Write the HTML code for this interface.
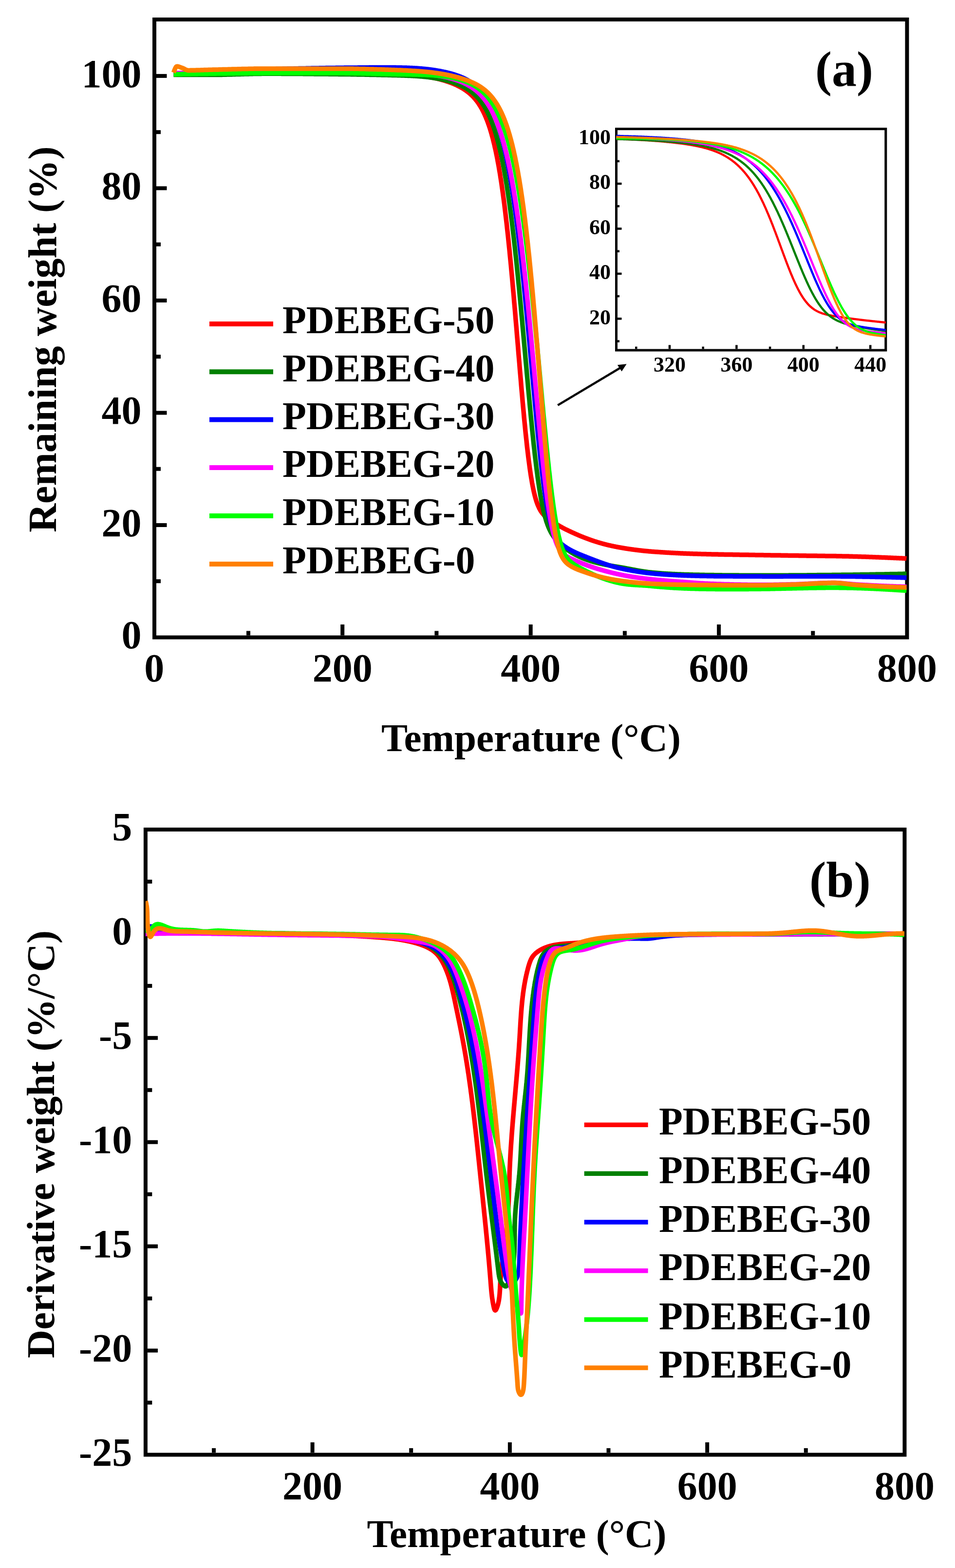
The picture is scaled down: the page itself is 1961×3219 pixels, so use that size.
<!DOCTYPE html><html><head><meta charset="utf-8"><title>TGA and DTG curves of PDEBEG samples</title>
<style>html,body{margin:0;padding:0;background:#fff}svg{display:block}text{font-family:"Liberation Serif","Times New Roman",serif;font-weight:bold;fill:#000}</style></head><body>
<svg width="1961" height="3219" viewBox="0 0 1961 3219">
<rect width="1961" height="3219" fill="#fff"/>
<defs><clipPath id="ca"><rect x="317" y="40" width="1545.5" height="1268.5"/></clipPath><clipPath id="ci"><rect x="1265.5" y="264.7" width="553.3" height="454.3"/></clipPath><clipPath id="cb"><rect x="298.9" y="1703" width="1558.6" height="1283.5"/></clipPath></defs>
<g id="plot-a">
<rect x="317" y="40" width="1545.5" height="1268.5" fill="none" stroke="#000" stroke-width="8"/>
<g stroke="#000" stroke-width="8">
<line x1="321" y1="1078" x2="342.5" y2="1078"/>
<line x1="321" y1="847.5" x2="342.5" y2="847.5"/>
<line x1="321" y1="616.9" x2="342.5" y2="616.9"/>
<line x1="321" y1="386.4" x2="342.5" y2="386.4"/>
<line x1="321" y1="155.9" x2="342.5" y2="155.9"/>
<line x1="321" y1="1193.2" x2="330" y2="1193.2"/>
<line x1="321" y1="962.7" x2="330" y2="962.7"/>
<line x1="321" y1="732.2" x2="330" y2="732.2"/>
<line x1="321" y1="501.7" x2="330" y2="501.7"/>
<line x1="321" y1="271.2" x2="330" y2="271.2"/>
<line x1="703.2" y1="1304.5" x2="703.2" y2="1282"/>
<line x1="1089.7" y1="1304.5" x2="1089.7" y2="1282"/>
<line x1="1476.1" y1="1304.5" x2="1476.1" y2="1282"/>
<line x1="510" y1="1304.5" x2="510" y2="1295.3"/>
<line x1="896.4" y1="1304.5" x2="896.4" y2="1295.3"/>
<line x1="1282.9" y1="1304.5" x2="1282.9" y2="1295.3"/>
<line x1="1669.3" y1="1304.5" x2="1669.3" y2="1295.3"/>
</g>
<g clip-path="url(#ca)" fill="none" stroke-width="9.5" stroke-linejoin="round">
<path stroke="#FF0000" d="M356.4 151.3l1 0l0.9 0l1 -0.1l1 0l0.9 0l1 0l1 0l0.9 0l1 -0.1l1 0l0.9 0l1 0l1 0l0.9 0l1 -0.1l1 0l0.9 0l1 0l1 0l0.9 0l1 -0.1l1 0l0.9 0l1 0l1 0l0.9 0l1 0l1 -0.1l0.9 0l1 0l1 0l0.9 0l1 0l1 -0.1l0.9 0l1 0l1 0l0.9 0l1 0l1 0l0.9 -0.1l1 0l0.9 0l1 0l1 0l0.9 0l1 0l1 -0.1l0.9 0l1 0l1 0l0.9 0l1 0l1 0l0.9 -0.1l1 0l1 0l0.9 0l1 0l1 0l0.9 0l1 -0.1l1 0l0.9 0l1 0l1 0l0.9 0l1 0l1 0l0.9 -0.1l1 0l1 0l0.9 0l1 0l1 0l0.9 0l1 0l1 -0.1l0.9 0l1 0l1 0l0.9 0l1 0l1 0l0.9 0l1 0l1 -0.1l0.9 0l1 0l1 0l0.9 0l1 0l1 0l0.9 0l1 -0.1l1 0l0.9 0l1 0l0.9 0l1 0l1 0l0.9 0l1 -0.1l1 0l0.9 0l1 0l1 0l0.9 0l1 0l1 -0.1l0.9 0l1 0l1 0l0.9 0l1 0l1 0l0.9 0l1 -0.1l1 0l0.9 0l1 0l1 0l0.9 0l1 0l1 0l0.9 -0.1l1 0l1 0l0.9 0l1 0l1 0l0.9 0l1 0l1 -0.1l0.9 0l1 0l1 0l0.9 0l1 0l1 0l0.9 0l1 0l1 -0.1l0.9 0l1 0l1 0l0.9 0l1 0l1 0l0.9 0l1 0l1 -0.1l0.9 0l1 0l0.9 0l1 0l1 0l0.9 0l1 0l1 0l0.9 0l1 0l1 -0.1l0.9 0l1 0l1 0l0.9 0l1 0l1 0l0.9 0l1 0l1 0l0.9 0l1 0l1 0l0.9 0l1 0l1 -0.1l0.9 0l1 0l1 0l0.9 0l1 0l1 0l0.9 0l1 0l1 0l0.9 0l1 0l1 0l0.9 0l1 0l1 0l0.9 0l1 0l1 0l0.9 0l1 0l1 0l0.9 0l1 0l1 0l0.9 0l1 0l1 0l0.9 0l1 0l0.9 0l1 0l1 0l0.9 0l1 0l1 0l0.9 0l1 0l1 0l0.9 0l1 0l1 0l0.9 0l1 0l1 0l0.9 0l1 0l1 0l0.9 0l1 0l1 0l0.9 0l1 0l1 0l0.9 0l1 0l1 0l0.9 0l1 0l1 0l0.9 0l1 0l1 0l0.9 0l1 0l1 0l0.9 0l1 0l1 0l0.9 0l1 0l1 0l0.9 0l1 0l1 0l0.9 0l1 0l1 0l0.9 0l1 0l1 0l0.9 0l1 0l1 0l0.9 0l1 0l0.9 0l1 0l1 0l0.9 0l1 0l1 0l0.9 0l1 0l1 0l0.9 0l1 0l1 0l0.9 0l1 0l1 0l0.9 0l1 0l1 0l0.9 0l1 0l1 0l0.9 0l1 0l1 0l0.9 0l1 0l1 0l0.9 0l1 0l1 0l0.9 0l1 0l1 0l0.9 0l1 0l1 0l0.9 0l1 0l1 0l0.9 0l1 0l1 0l0.9 0l1 0l1 0l0.9 0l1 0l1 0l0.9 0l1 0l1 0l0.9 0l1 0l1 0l0.9 0l1 0l0.9 0l1 0l1 0l0.9 0l1 0l1 0l0.9 0l1 0l1 0l0.9 0l1 0l1 0l0.9 0l1 0l1 0l0.9 0l1 0l1 0l0.9 0l1 0l1 0l0.9 0l1 0l1 0l0.9 0l1 0l1 0l0.9 0l1 0l1 0l0.9 0l1 0l1 0l0.9 0l1 0l1 0l0.9 0l1 0l1 0l0.9 0l1 0l1 0l0.9 0l1 0l1 0l0.9 0l1 0l1 0l0.9 0l1 0l1 0l0.9 0.1l1 0l0.9 0l1 0l1 0l0.9 0l1 0l1 0.1l0.9 0l1 0l1 0l0.9 0l1 0l1 0.1l0.9 0l1 0l1 0l0.9 0.1l1 0l1 0l0.9 0l1 0.1l1 0l0.9 0l1 0l1 0.1l0.9 0l1 0l1 0l0.9 0.1l1 0l1 0l0.9 0.1l1 0l1 0l0.9 0l1 0.1l1 0l0.9 0l1 0.1l1 0l0.9 0l1 0.1l1 0l0.9 0l1 0.1l1 0l0.9 0l1 0.1l1 0l0.9 0l1 0.1l1 0l0.9 0l1 0.1l1 0l0.9 0l1 0.1l0.9 0l1 0.1l1 0l0.9 0l1 0.1l1 0l0.9 0l1 0.1l1 0l0.9 0l1 0.1l1 0l0.9 0.1l1 0l1 0l0.9 0.1l1 0l1 0l0.9 0.1l1 0l1 0l0.9 0.1l1 0l1 0l0.9 0.1l1 0l1 0.1l0.9 0l1 0l1 0.1l0.9 0l1 0l1 0.1l0.9 0l1 0l1 0.1l0.9 0l1 0.1l1 0l0.9 0l1 0.1l1 0l0.9 0l1 0.1l1 0l0.9 0.1l1 0l1 0l0.9 0.1l1 0l1 0l0.9 0.1l1 0l1 0.1l0.9 0l1 0l0.9 0.1l1 0l1 0.1l0.9 0l1 0.1l1 0l0.9 0.1l1 0l1 0.1l0.9 0l1 0.1l1 0l0.9 0.1l1 0l1 0.1l0.9 0l1 0.1l1 0.1l0.9 0l1 0.1l1 0.1l0.9 0l1 0.1l1 0.1l0.9 0.1l1 0l1 0.1l0.9 0.1l1 0.1l1 0.1l0.9 0l1 0.1l1 0.1l0.9 0.1l1 0.1l1 0.1l0.9 0.1l1 0.1l1 0.1l0.9 0.1l1 0.2l1 0.1l0.9 0.1l1 0.1l1 0.1l0.9 0.2l1 0.1l1 0.1l0.9 0.1l1 0.2l1 0.1l0.9 0.2l1 0.1l1 0.2l0.9 0.1l1 0.2l0.9 0.1l1 0.2l1 0.2l0.9 0.1l1 0.2l1 0.2l0.9 0.1l1 0.2l1 0.2l0.9 0.2l1 0.2l1 0.2l0.9 0.2l1 0.2l1 0.2l0.9 0.2l1 0.2l1 0.2l0.9 0.3l1 0.2l1 0.2l0.9 0.2l1 0.3l1 0.2l0.9 0.3l1 0.2l1 0.3l0.9 0.2l1 0.3l1 0.3l0.9 0.2l1 0.3l1 0.3l0.9 0.3l1 0.2l1 0.3l0.9 0.3l1 0.3l1 0.3l0.9 0.4l1 0.3l1 0.3l0.9 0.3l1 0.3l1 0.4l0.9 0.3l1 0.4l1 0.3l0.9 0.4l1 0.4l1 0.3l0.9 0.4l1 0.4l0.9 0.4l1 0.4l1 0.4l0.9 0.4l1 0.4l1 0.5l0.9 0.4l1 0.4l1 0.5l0.9 0.5l1 0.4l1 0.5l0.9 0.5l1 0.5l1 0.5l0.9 0.5l1 0.5l1 0.6l0.9 0.5l1 0.6l1 0.6l0.9 0.5l1 0.6l1 0.6l0.9 0.7l1 0.6l1 0.7l0.9 0.6l1 0.7l1 0.7l0.9 0.7l1 0.8l1 0.7l0.9 0.8l1 0.8l1 0.8l0.9 0.8l1 0.9l1 0.9l0.9 0.9l1 0.9l1 0.9l0.9 1l1 1l1 1.1l0.9 1l1 1.1l1 1.2l0.9 1.1l1 1.2l1 1.2l0.9 1.3l1 1.3l1 1.4l0.9 1.3l1 1.5l0.9 1.5l1 1.5l1 1.5l0.9 1.7l1 1.6l1 1.7l0.9 1.8l1 1.9l1 1.8l0.9 2l1 2l1 2.1l0.9 2.1l1 2.3l1 2.3l0.9 2.3l1 2.5l1 2.5l0.9 2.6l1 2.7l1 2.8l0.9 2.8l1 3l1 3.1l0.9 3.1l1 3.3l1 3.4l0.9 3.5l1 3.6l1 3.7l0.9 3.8l1 4l1 4.1l0.9 4.2l1 4.3l1 4.5l0.9 4.6l1 4.8l1 4.9l0.9 5.1l1 5.2l1 5.4l0.9 5.5l1 5.7l1 5.9l0.9 6.1l1 6.2l1 6.4l0.9 6.6l1 6.7l1 7l0.9 7.1l1 7.3l1 7.5l0.9 7.7l1 7.9l0.9 8.1l1 8.3l1 8.4l0.9 8.7l1 8.9l1 9l0.9 9.2l1 9.5l1 9.6l0.9 9.7l1 10l1 10.1l0.9 10.3l1 10.5l1 10.6l0.9 10.7l1 10.9l1 11l0.9 11.2l1 11.2l1 11.3l0.9 11.4l1 11.5l1 11.6l0.9 11.6l1 11.6l1 11.6l0.9 11.6l1 11.7l1 11.5l0.9 11.6l1 11.4l1 11.4l0.9 11.3l1 11.2l1 11l0.9 10.9l1 10.7l1 10.5l0.9 10.4l1 10.1l1 9.9l0.9 9.6l1 9.4l1 9.1l0.9 8.9l1 8.6l1 8.2l0.9 8l1 7.7l1 7.4l0.9 7l1 6.8l0.9 6.4l1 6.1l1 5.8l0.9 5.6l1 5.2l1 4.9l0.9 4.6l1 4.4l1 4.1l0.9 3.8l1 3.6l1 3.4l0.9 3.1l1 2.9l1 2.8l0.9 2.5l1 2.3l1 2.2l0.9 2.1l1 1.9l1 1.7l0.9 1.7l1 1.5l1 1.4l0.9 1.4l1 1.2l1 1.2l0.9 1.1l1 1.1l1 1l0.9 1l1 0.9l1 0.8l0.9 0.9l1 0.8l1 0.8l0.9 0.7l1 0.8l1 0.7l0.9 0.7l1 0.7l1 0.7l0.9 0.6l1 0.7l1 0.6l0.9 0.7l1 0.6l1 0.6l0.9 0.7l1 0.6l1 0.6l0.9 0.6l1 0.6l1 0.5l0.9 0.6l1 0.6l0.9 0.6l1 0.5l1 0.6l0.9 0.6l1 0.5l1 0.6l0.9 0.5l1 0.5l1 0.6l0.9 0.5l1 0.5l1 0.6l0.9 0.5l1 0.5l1 0.5l0.9 0.5l1 0.5l1 0.5l0.9 0.5l1 0.5l1 0.5l0.9 0.4l1 0.5l1 0.5l0.9 0.4l1 0.5l1 0.5l0.9 0.4l1 0.5l1 0.4l0.9 0.5l1 0.4l1 0.5l0.9 0.4l1 0.5l1 0.4l0.9 0.4l1 0.5l1 0.4l0.9 0.4l1 0.5l1 0.4l0.9 0.4l1 0.4l1 0.4l0.9 0.4l1 0.5l1 0.4l0.9 0.4l1 0.4l1 0.4l0.9 0.4l1 0.4l1 0.4l0.9 0.3l1 0.4l0.9 0.4l1 0.4l1 0.4l0.9 0.3l1 0.4l1 0.4l0.9 0.3l1 0.4l1 0.4l0.9 0.3l1 0.4l1 0.3l0.9 0.4l1 0.3l1 0.4l0.9 0.3l1 0.4l1 0.3l0.9 0.3l1 0.4l1 0.3l0.9 0.3l1 0.3l1 0.4l0.9 0.3l1 0.3l1 0.3l0.9 0.3l1 0.3l1 0.3l0.9 0.3l1 0.3l1 0.3l0.9 0.3l1 0.3l1 0.3l0.9 0.2l1 0.3l1 0.3l0.9 0.3l1 0.2l1 0.3l0.9 0.3l1 0.2l1 0.3l0.9 0.2l1 0.3l1 0.2l0.9 0.3l1 0.2l1 0.3l0.9 0.2l1 0.2l1 0.3l0.9 0.2l1 0.2l0.9 0.2l1 0.2l1 0.3l0.9 0.2l1 0.2l1 0.2l0.9 0.2l1 0.2l1 0.2l0.9 0.2l1 0.2l1 0.2l0.9 0.2l1 0.2l1 0.2l0.9 0.2l1 0.1l1 0.2l0.9 0.2l1 0.2l1 0.2l0.9 0.1l1 0.2l1 0.2l0.9 0.2l1 0.1l1 0.2l0.9 0.2l1 0.1l1 0.2l0.9 0.1l1 0.2l1 0.2l0.9 0.1l1 0.2l1 0.1l0.9 0.2l1 0.1l1 0.2l0.9 0.1l1 0.2l1 0.1l0.9 0.1l1 0.2l1 0.1l0.9 0.2l1 0.1l1 0.1l0.9 0.2l1 0.1l1 0.1l0.9 0.1l1 0.2l0.9 0.1l1 0.1l1 0.1l0.9 0.2l1 0.1l1 0.1l0.9 0.1l1 0.2l1 0.1l0.9 0.1l1 0.1l1 0.1l0.9 0.1l1 0.1l1 0.1l0.9 0.2l1 0.1l1 0.1l0.9 0.1l1 0.1l1 0.1l0.9 0.1l1 0.1l1 0.1l0.9 0.1l1 0l1 0.1l0.9 0.1l1 0.1l1 0.1l0.9 0.1l1 0.1l1 0.1l0.9 0l1 0.1l1 0.1l0.9 0.1l1 0.1l1 0l0.9 0.1l1 0.1l1 0.1l0.9 0l1 0.1l1 0.1l0.9 0l1 0.1l1 0.1l0.9 0l1 0.1l1 0.1l0.9 0l1 0.1l1 0.1l0.9 0l1 0.1l0.9 0.1l1 0l1 0.1l0.9 0l1 0.1l1 0.1l0.9 0l1 0.1l1 0l0.9 0.1l1 0.1l1 0l0.9 0.1l1 0l1 0.1l0.9 0l1 0.1l1 0l0.9 0.1l1 0.1l1 0l0.9 0.1l1 0l1 0.1l0.9 0l1 0.1l1 0l0.9 0.1l1 0l1 0.1l0.9 0l1 0.1l1 0l0.9 0.1l1 0l1 0.1l0.9 0l1 0.1l1 0l0.9 0.1l1 0l1 0.1l0.9 0l1 0l1 0.1l0.9 0l1 0.1l1 0l0.9 0.1l1 0l1 0l0.9 0.1l1 0l1 0l0.9 0.1l1 0l0.9 0.1l1 0l1 0l0.9 0.1l1 0l1 0l0.9 0.1l1 0l1 0l0.9 0.1l1 0l1 0l0.9 0.1l1 0l1 0l0.9 0.1l1 0l1 0l0.9 0.1l1 0l1 0l0.9 0l1 0.1l1 0l0.9 0l1 0.1l1 0l0.9 0l1 0l1 0.1l0.9 0l1 0l1 0l0.9 0.1l1 0l1 0l0.9 0l1 0.1l1 0l0.9 0l1 0l1 0.1l0.9 0l1 0l1 0l0.9 0l1 0.1l1 0l0.9 0l1 0l1 0l0.9 0.1l1 0l1 0l0.9 0l1 0.1l0.9 0l1 0l1 0l0.9 0l1 0l1 0.1l0.9 0l1 0l1 0l0.9 0l1 0.1l1 0l0.9 0l1 0l1 0l0.9 0l1 0.1l1 0l0.9 0l1 0l1 0l0.9 0l1 0.1l1 0l0.9 0l1 0l1 0l0.9 0l1 0.1l1 0l0.9 0l1 0l1 0l0.9 0l1 0l1 0.1l0.9 0l1 0l1 0l0.9 0l1 0l1 0.1l0.9 0l1 0l1 0l0.9 0l1 0l1 0l0.9 0.1l1 0l1 0l0.9 0l1 0l0.9 0l1 0l1 0.1l0.9 0l1 0l1 0l0.9 0l1 0l1 0l0.9 0.1l1 0l1 0l0.9 0l1 0l1 0l0.9 0.1l1 0l1 0l0.9 0l1 0l1 0l0.9 0l1 0.1l1 0l0.9 0l1 0l1 0l0.9 0l1 0.1l1 0l0.9 0l1 0l1 0l0.9 0l1 0l1 0.1l0.9 0l1 0l1 0l0.9 0l1 0l1 0.1l0.9 0l1 0l1 0l0.9 0l1 0l1 0l0.9 0.1l1 0l1 0l0.9 0l1 0l1 0l0.9 0.1l1 0l0.9 0l1 0l1 0l0.9 0l1 0l1 0.1l0.9 0l1 0l1 0l0.9 0l1 0l1 0l0.9 0.1l1 0l1 0l0.9 0l1 0l1 0l0.9 0l1 0.1l1 0l0.9 0l1 0l1 0l0.9 0l1 0l1 0.1l0.9 0l1 0l1 0l0.9 0l1 0l1 0l0.9 0l1 0.1l1 0l0.9 0l1 0l1 0l0.9 0l1 0l1 0.1l0.9 0l1 0l1 0l0.9 0l1 0l1 0l0.9 0l1 0.1l1 0l0.9 0l1 0l1 0l0.9 0l1 0l0.9 0.1l1 0l1 0l0.9 0l1 0l1 0l0.9 0l1 0l1 0.1l0.9 0l1 0l1 0l0.9 0l1 0l1 0l0.9 0l1 0.1l1 0l0.9 0l1 0l1 0l0.9 0l1 0l1 0l0.9 0.1l1 0l1 0l0.9 0l1 0l1 0l0.9 0l1 0l1 0.1l0.9 0l1 0l1 0l0.9 0l1 0l1 0l0.9 0l1 0.1l1 0l0.9 0l1 0l1 0l0.9 0l1 0l1 0l0.9 0.1l1 0l1 0l0.9 0l1 0l0.9 0l1 0l1 0l0.9 0.1l1 0l1 0l0.9 0l1 0l1 0l0.9 0l1 0l1 0.1l0.9 0l1 0l1 0l0.9 0l1 0l1 0l0.9 0l1 0.1l1 0l0.9 0l1 0l1 0l0.9 0l1 0l1 0l0.9 0.1l1 0l1 0l0.9 0l1 0l1 0l0.9 0l1 0l1 0.1l0.9 0l1 0l1 0l0.9 0l1 0l1 0l0.9 0l1 0.1l1 0l0.9 0l1 0l1 0l0.9 0l1 0.1l1 0l0.9 0l1 0l1 0l0.9 0l1 0.1l0.9 0l1 0l1 0l0.9 0l1 0.1l1 0l0.9 0l1 0l1 0l0.9 0.1l1 0l1 0l0.9 0l1 0l1 0.1l0.9 0l1 0l1 0l0.9 0.1l1 0l1 0l0.9 0l1 0.1l1 0l0.9 0l1 0l1 0.1l0.9 0l1 0l1 0l0.9 0.1l1 0l1 0l0.9 0.1l1 0l1 0l0.9 0l1 0.1l1 0l0.9 0l1 0.1l1 0l0.9 0l1 0.1l1 0l0.9 0l1 0.1l1 0l0.9 0l1 0l1 0.1l0.9 0l1 0l1 0.1l0.9 0l1 0l0.9 0.1l1 0l1 0l0.9 0.1l1 0l1 0.1l0.9 0l1 0l1 0.1l0.9 0l1 0l1 0.1l0.9 0l1 0l1 0.1l0.9 0l1 0.1l1 0l0.9 0l1 0.1l1 0l0.9 0l1 0.1l1 0l0.9 0.1l1 0l1 0l0.9 0.1l1 0l1 0l0.9 0.1l1 0l1 0.1l0.9 0l1 0l1 0.1l0.9 0l1 0.1l1 0l0.9 0l1 0.1l1 0l0.9 0.1l1 0l1 0l0.9 0.1l1 0l1 0.1l0.9 0l1 0.1l1 0l0.9 0l1 0.1l1 0l0.9 0.1l1 0l0.9 0l1 0.1l1 0l0.9 0.1l1 0l1 0.1l0.9 0l1 0l1 0.1l0.9 0l1 0.1l1 0l0.9 0.1l1 0l1 0l0.9 0.1l1 0l1 0.1l0.9 0l1 0.1l1 0l0.9 0l1 0.1l1 0l0.9 0.1"/>
<path stroke="#008000" d="M356.4 153.6l1 0l0.9 0l1 0l1 0l0.9 0l1 0l1 0l0.9 0l1 0l1 0l0.9 0l1 0l1 0l0.9 0l1 0l1 0l0.9 0l1 0l1 0l0.9 0l1 0l1 0l0.9 0l1 0l1 0l0.9 0l1 0l1 0l0.9 0l1 0l1 0l0.9 0l1 0l1 0l0.9 0l1 0l1 0l0.9 0l1 0l1 0l0.9 0l1 0l0.9 0l1 0l1 0l0.9 0l1 0l1 0l0.9 0l1 0l1 0l0.9 0l1 0l1 0l0.9 0l1 0l1 0l0.9 0l1 0l1 0l0.9 0l1 0l1 0l0.9 0l1 0l1 0l0.9 0l1 0l1 0l0.9 0l1 0l1 0l0.9 0l1 0l1 0l0.9 0l1 0l1 0l0.9 0l1 0l1 0l0.9 0l1 0l1 0l0.9 0l1 0l1 0l0.9 0l1 -0.1l1 0l0.9 0l1 0l1 0l0.9 0l1 0l1 0l0.9 0l1 -0.1l0.9 0l1 0l1 0l0.9 0l1 0l1 -0.1l0.9 0l1 0l1 0l0.9 0l1 -0.1l1 0l0.9 0l1 0l1 -0.1l0.9 0l1 0l1 0l0.9 -0.1l1 0l1 0l0.9 0l1 -0.1l1 0l0.9 0l1 0l1 -0.1l0.9 0l1 0l1 0l0.9 -0.1l1 0l1 0l0.9 -0.1l1 0l1 0l0.9 0l1 -0.1l1 0l0.9 0l1 -0.1l1 0l0.9 0l1 0l1 -0.1l0.9 0l1 0l1 -0.1l0.9 0l1 0l1 0l0.9 -0.1l1 0l1 0l0.9 -0.1l1 0l0.9 0l1 0l1 -0.1l0.9 0l1 0l1 0l0.9 -0.1l1 0l1 0l0.9 0l1 -0.1l1 0l0.9 0l1 0l1 -0.1l0.9 0l1 0l1 0l0.9 0l1 -0.1l1 0l0.9 0l1 0l1 0l0.9 0l1 -0.1l1 0l0.9 0l1 0l1 0l0.9 0l1 0l1 0l0.9 -0.1l1 0l1 0l0.9 0l1 0l1 0l0.9 0l1 0l1 0l0.9 0l1 0l1 0l0.9 0l1 0l1 0l0.9 0l1 0l1 0l0.9 0l1 0l0.9 0l1 0l1 0l0.9 0l1 0l1 0l0.9 0l1 0l1 0l0.9 0l1 0l1 0l0.9 0l1 0l1 0l0.9 0l1 0l1 0l0.9 0l1 0l1 0l0.9 0.1l1 0l1 0l0.9 0l1 0l1 0l0.9 0l1 0l1 0l0.9 0l1 0l1 0l0.9 0l1 0l1 0l0.9 0l1 0l1 0l0.9 0l1 0.1l1 0l0.9 0l1 0l1 0l0.9 0l1 0l1 0l0.9 0l1 0l1 0l0.9 0l1 0l1 0l0.9 0l1 0.1l0.9 0l1 0l1 0l0.9 0l1 0l1 0l0.9 0l1 0l1 0l0.9 0l1 0l1 0l0.9 0.1l1 0l1 0l0.9 0l1 0l1 0l0.9 0l1 0l1 0l0.9 0l1 0l1 0l0.9 0.1l1 0l1 0l0.9 0l1 0l1 0l0.9 0l1 0l1 0l0.9 0l1 0l1 0.1l0.9 0l1 0l1 0l0.9 0l1 0l1 0l0.9 0l1 0l1 0l0.9 0.1l1 0l1 0l0.9 0l1 0l1 0l0.9 0l1 0l1 0l0.9 0l1 0.1l0.9 0l1 0l1 0l0.9 0l1 0l1 0l0.9 0l1 0l1 0l0.9 0l1 0.1l1 0l0.9 0l1 0l1 0l0.9 0l1 0l1 0l0.9 0l1 0l1 0.1l0.9 0l1 0l1 0l0.9 0l1 0l1 0l0.9 0l1 0l1 0l0.9 0.1l1 0l1 0l0.9 0l1 0l1 0l0.9 0l1 0l1 0l0.9 0l1 0.1l1 0l0.9 0l1 0l1 0l0.9 0l1 0l1 0l0.9 0l1 0.1l1 0l0.9 0l1 0l0.9 0l1 0l1 0l0.9 0l1 0.1l1 0l0.9 0l1 0l1 0l0.9 0l1 0l1 0.1l0.9 0l1 0l1 0l0.9 0l1 0l1 0.1l0.9 0l1 0l1 0l0.9 0l1 0l1 0.1l0.9 0l1 0l1 0l0.9 0l1 0.1l1 0l0.9 0l1 0l1 0l0.9 0l1 0.1l1 0l0.9 0l1 0l1 0l0.9 0.1l1 0l1 0l0.9 0l1 0l1 0.1l0.9 0l1 0l1 0l0.9 0l1 0.1l1 0l0.9 0l1 0l1 0l0.9 0.1l1 0l0.9 0l1 0l1 0l0.9 0.1l1 0l1 0l0.9 0l1 0l1 0.1l0.9 0l1 0l1 0l0.9 0l1 0.1l1 0l0.9 0l1 0l1 0l0.9 0.1l1 0l1 0l0.9 0l1 0.1l1 0l0.9 0l1 0l1 0l0.9 0.1l1 0l1 0l0.9 0l1 0.1l1 0l0.9 0l1 0l1 0.1l0.9 0l1 0l1 0l0.9 0.1l1 0l1 0l0.9 0l1 0.1l1 0l0.9 0l1 0l1 0.1l0.9 0l1 0l1 0l0.9 0.1l1 0l1 0l0.9 0.1l1 0l0.9 0l1 0.1l1 0l0.9 0l1 0.1l1 0l0.9 0l1 0.1l1 0l0.9 0l1 0.1l1 0l0.9 0l1 0.1l1 0l0.9 0l1 0.1l1 0l0.9 0.1l1 0l1 0.1l0.9 0l1 0.1l1 0l0.9 0.1l1 0l1 0.1l0.9 0l1 0.1l1 0l0.9 0.1l1 0.1l1 0l0.9 0.1l1 0l1 0.1l0.9 0.1l1 0.1l1 0l0.9 0.1l1 0.1l1 0.1l0.9 0l1 0.1l1 0.1l0.9 0.1l1 0.1l1 0.1l0.9 0.1l1 0.1l1 0.1l0.9 0.1l1 0.1l1 0.1l0.9 0.1l1 0.1l0.9 0.1l1 0.1l1 0.2l0.9 0.1l1 0.1l1 0.1l0.9 0.2l1 0.1l1 0.1l0.9 0.2l1 0.1l1 0.1l0.9 0.2l1 0.1l1 0.2l0.9 0.2l1 0.1l1 0.2l0.9 0.1l1 0.2l1 0.2l0.9 0.2l1 0.1l1 0.2l0.9 0.2l1 0.2l1 0.2l0.9 0.2l1 0.2l1 0.2l0.9 0.2l1 0.2l1 0.2l0.9 0.3l1 0.2l1 0.2l0.9 0.2l1 0.3l1 0.2l0.9 0.3l1 0.2l1 0.3l0.9 0.2l1 0.3l1 0.3l0.9 0.2l1 0.3l1 0.3l0.9 0.3l1 0.3l1 0.3l0.9 0.3l1 0.3l0.9 0.3l1 0.4l1 0.3l0.9 0.3l1 0.4l1 0.3l0.9 0.4l1 0.3l1 0.4l0.9 0.4l1 0.4l1 0.4l0.9 0.4l1 0.4l1 0.4l0.9 0.4l1 0.5l1 0.4l0.9 0.4l1 0.5l1 0.5l0.9 0.5l1 0.4l1 0.5l0.9 0.6l1 0.5l1 0.5l0.9 0.6l1 0.5l1 0.6l0.9 0.6l1 0.6l1 0.6l0.9 0.6l1 0.7l1 0.6l0.9 0.7l1 0.7l1 0.7l0.9 0.7l1 0.8l1 0.8l0.9 0.7l1 0.9l1 0.8l0.9 0.8l1 0.9l1 0.9l0.9 0.9l1 1l1 0.9l0.9 1l1 1.1l1 1l0.9 1.1l1 1.1l0.9 1.2l1 1.2l1 1.2l0.9 1.2l1 1.3l1 1.3l0.9 1.4l1 1.4l1 1.4l0.9 1.5l1 1.5l1 1.6l0.9 1.6l1 1.7l1 1.7l0.9 1.8l1 1.8l1 1.9l0.9 1.9l1 2l1 2.1l0.9 2.1l1 2.1l1 2.3l0.9 2.3l1 2.4l1 2.4l0.9 2.5l1 2.6l1 2.7l0.9 2.8l1 2.8l1 2.9l0.9 3l1 3.1l1 3.2l0.9 3.3l1 3.4l1 3.5l0.9 3.6l1 3.6l1 3.8l0.9 3.9l1 4l1 4.2l0.9 4.2l1 4.4l1 4.4l0.9 4.7l1 4.7l1 4.9l0.9 4.9l1 5.2l1 5.2l0.9 5.4l1 5.6l0.9 5.7l1 5.8l1 6l0.9 6.1l1 6.3l1 6.4l0.9 6.6l1 6.7l1 6.9l0.9 7.1l1 7.2l1 7.3l0.9 7.5l1 7.7l1 7.9l0.9 7.9l1 8.2l1 8.3l0.9 8.4l1 8.6l1 8.8l0.9 8.9l1 9l1 9.2l0.9 9.3l1 9.5l1 9.6l0.9 9.7l1 9.8l1 10l0.9 10l1 10.2l1 10.2l0.9 10.3l1 10.5l1 10.4l0.9 10.6l1 10.6l1 10.6l0.9 10.7l1 10.7l1 10.8l0.9 10.7l1 10.7l1 10.8l0.9 10.7l1 10.6l1 10.6l0.9 10.6l1 10.4l1 10.4l0.9 10.3l1 10.2l0.9 10.1l1 9.9l1 9.8l0.9 9.7l1 9.5l1 9.3l0.9 9.1l1 9l1 8.7l0.9 8.5l1 8.4l1 8.1l0.9 7.9l1 7.6l1 7.4l0.9 7.2l1 6.9l1 6.7l0.9 6.4l1 6.2l1 6l0.9 5.7l1 5.4l1 5.2l0.9 5l1 4.8l1 4.5l0.9 4.4l1 4.1l1 3.9l0.9 3.7l1 3.5l1 3.3l0.9 3.2l1 3l1 2.8l0.9 2.7l1 2.5l1 2.5l0.9 2.2l1 2.2l1 2l0.9 2l1 1.8l1 1.8l0.9 1.7l1 1.6l1 1.5l0.9 1.4l1 1.4l1 1.4l0.9 1.2l1 1.3l1 1.2l0.9 1.1l1 1.1l0.9 1.1l1 1l1 1l0.9 1l1 1l1 0.9l0.9 0.9l1 0.9l1 0.9l0.9 0.8l1 0.9l1 0.8l0.9 0.8l1 0.8l1 0.8l0.9 0.7l1 0.8l1 0.7l0.9 0.7l1 0.8l1 0.7l0.9 0.7l1 0.6l1 0.7l0.9 0.7l1 0.6l1 0.7l0.9 0.6l1 0.6l1 0.7l0.9 0.6l1 0.6l1 0.5l0.9 0.6l1 0.6l1 0.5l0.9 0.6l1 0.5l1 0.6l0.9 0.5l1 0.5l1 0.5l0.9 0.5l1 0.5l1 0.4l0.9 0.5l1 0.5l1 0.4l0.9 0.5l1 0.4l1 0.5l0.9 0.4l1 0.4l1 0.4l0.9 0.4l1 0.4l0.9 0.4l1 0.4l1 0.4l0.9 0.4l1 0.3l1 0.4l0.9 0.3l1 0.4l1 0.3l0.9 0.4l1 0.3l1 0.3l0.9 0.4l1 0.3l1 0.3l0.9 0.3l1 0.3l1 0.3l0.9 0.3l1 0.3l1 0.2l0.9 0.3l1 0.3l1 0.3l0.9 0.2l1 0.3l1 0.3l0.9 0.2l1 0.3l1 0.2l0.9 0.2l1 0.3l1 0.2l0.9 0.3l1 0.2l1 0.2l0.9 0.2l1 0.2l1 0.3l0.9 0.2l1 0.2l1 0.2l0.9 0.2l1 0.2l1 0.2l0.9 0.2l1 0.2l1 0.2l0.9 0.2l1 0.2l1 0.2l0.9 0.1l1 0.2l1 0.2l0.9 0.2l1 0.2l0.9 0.1l1 0.2l1 0.2l0.9 0.1l1 0.2l1 0.2l0.9 0.2l1 0.1l1 0.2l0.9 0.1l1 0.2l1 0.2l0.9 0.1l1 0.2l1 0.1l0.9 0.2l1 0.2l1 0.1l0.9 0.2l1 0.1l1 0.2l0.9 0.2l1 0.1l1 0.2l0.9 0.1l1 0.2l1 0.2l0.9 0.1l1 0.2l1 0.2l0.9 0.1l1 0.2l1 0.2l0.9 0.2l1 0.2l1 0.1l0.9 0.2l1 0.2l1 0.2l0.9 0.2l1 0.1l1 0.2l0.9 0.2l1 0.2l1 0.2l0.9 0.2l1 0.1l1 0.2l0.9 0.2l1 0.2l1 0.2l0.9 0.2l1 0.1l0.9 0.2l1 0.2l1 0.2l0.9 0.2l1 0.1l1 0.2l0.9 0.2l1 0.2l1 0.1l0.9 0.2l1 0.2l1 0.1l0.9 0.2l1 0.2l1 0.1l0.9 0.2l1 0.1l1 0.2l0.9 0.1l1 0.2l1 0.1l0.9 0.2l1 0.1l1 0.1l0.9 0.2l1 0.1l1 0.1l0.9 0.2l1 0.1l1 0.1l0.9 0.1l1 0.1l1 0.1l0.9 0.1l1 0.1l1 0.1l0.9 0.1l1 0.1l1 0.1l0.9 0.1l1 0.1l1 0.1l0.9 0l1 0.1l1 0.1l0.9 0.1l1 0.1l1 0.1l0.9 0l1 0.1l1 0.1l0.9 0.1l1 0.1l1 0l0.9 0.1l1 0.1l0.9 0.1l1 0l1 0.1l0.9 0.1l1 0.1l1 0l0.9 0.1l1 0.1l1 0l0.9 0.1l1 0.1l1 0l0.9 0.1l1 0l1 0.1l0.9 0.1l1 0l1 0.1l0.9 0l1 0.1l1 0.1l0.9 0l1 0.1l1 0l0.9 0.1l1 0l1 0.1l0.9 0l1 0.1l1 0l0.9 0.1l1 0l1 0l0.9 0.1l1 0l1 0.1l0.9 0l1 0.1l1 0l0.9 0l1 0.1l1 0l0.9 0l1 0.1l1 0l0.9 0l1 0.1l1 0l0.9 0l1 0.1l1 0l0.9 0l1 0l1 0.1l0.9 0l1 0l0.9 0l1 0.1l1 0l0.9 0l1 0.1l1 0l0.9 0l1 0l1 0.1l0.9 0l1 0l1 0l0.9 0.1l1 0l1 0l0.9 0l1 0l1 0.1l0.9 0l1 0l1 0l0.9 0.1l1 0l1 0l0.9 0l1 0l1 0.1l0.9 0l1 0l1 0l0.9 0l1 0l1 0.1l0.9 0l1 0l1 0l0.9 0l1 0.1l1 0l0.9 0l1 0l1 0l0.9 0l1 0.1l1 0l0.9 0l1 0l1 0l0.9 0l1 0l1 0.1l0.9 0l1 0l1 0l0.9 0l1 0l0.9 0l1 0.1l1 0l0.9 0l1 0l1 0l0.9 0l1 0l1 0l0.9 0.1l1 0l1 0l0.9 0l1 0l1 0l0.9 0l1 0l1 0l0.9 0.1l1 0l1 0l0.9 0l1 0l1 0l0.9 0l1 0l1 0l0.9 0l1 0.1l1 0l0.9 0l1 0l1 0l0.9 0l1 0l1 0l0.9 0l1 0l1 0l0.9 0l1 0.1l1 0l0.9 0l1 0l1 0l0.9 0l1 0l1 0l0.9 0l1 0l1 0l0.9 0l1 0l0.9 0l1 0.1l1 0l0.9 0l1 0l1 0l0.9 0l1 0l1 0l0.9 0l1 0l1 0l0.9 0l1 0l1 0l0.9 0l1 0l1 0l0.9 0l1 0.1l1 0l0.9 0l1 0l1 0l0.9 0l1 0l1 0l0.9 0l1 0l1 0l0.9 0l1 0l1 0l0.9 0l1 0l1 0l0.9 0l1 0l1 0l0.9 0l1 0l1 0l0.9 0l1 0l1 0l0.9 0l1 0l1 0l0.9 0l1 0l1 0l0.9 0l1 0l1 0l0.9 0l1 0l0.9 0l1 0l1 0l0.9 0l1 0l1 0l0.9 0l1 0l1 0l0.9 0l1 0l1 0l0.9 0l1 0l1 0l0.9 0l1 0l1 0l0.9 0l1 0l1 0l0.9 0l1 0l1 0l0.9 0l1 0l1 0l0.9 0l1 0l1 0l0.9 0l1 0l1 0l0.9 -0.1l1 0l1 0l0.9 0l1 0l1 0l0.9 0l1 0l1 0l0.9 0l1 0l1 0l0.9 0l1 0l1 0l0.9 0l1 0l1 0l0.9 -0.1l1 0l1 0l0.9 0l1 0l0.9 0l1 0l1 0l0.9 0l1 0l1 0l0.9 0l1 0l1 0l0.9 -0.1l1 0l1 0l0.9 0l1 0l1 0l0.9 0l1 0l1 0l0.9 0l1 0l1 0l0.9 0l1 -0.1l1 0l0.9 0l1 0l1 0l0.9 0l1 0l1 0l0.9 0l1 0l1 0l0.9 0l1 -0.1l1 0l0.9 0l1 0l1 0l0.9 0l1 0l1 0l0.9 0l1 0l1 0l0.9 -0.1l1 0l1 0l0.9 0l1 0l1 0l0.9 0l1 0l0.9 0l1 0l1 -0.1l0.9 0l1 0l1 0l0.9 0l1 0l1 0l0.9 0l1 0l1 0l0.9 0l1 -0.1l1 0l0.9 0l1 0l1 0l0.9 0l1 0l1 0l0.9 0l1 0l1 -0.1l0.9 0l1 0l1 0l0.9 0l1 0l1 0l0.9 0l1 0l1 0l0.9 0l1 -0.1l1 0l0.9 0l1 0l1 0l0.9 0l1 0l1 0l0.9 0l1 0l1 -0.1l0.9 0l1 0l1 0l0.9 0l1 0l1 0l0.9 0l1 0l1 0l0.9 -0.1l1 0l0.9 0l1 0l1 0l0.9 0l1 0l1 0l0.9 0l1 -0.1l1 0l0.9 0l1 0l1 0l0.9 0l1 0l1 0l0.9 -0.1l1 0l1 0l0.9 0l1 0l1 0l0.9 0l1 0l1 -0.1l0.9 0l1 0l1 0l0.9 0l1 0l1 0l0.9 0l1 -0.1l1 0l0.9 0l1 0l1 0l0.9 0l1 0l1 -0.1l0.9 0l1 0l1 0l0.9 0l1 0l1 0l0.9 -0.1l1 0l1 0l0.9 0l1 0l1 0l0.9 0l1 -0.1l1 0l0.9 0l1 0l0.9 0l1 0l1 -0.1l0.9 0l1 0l1 0l0.9 0l1 0l1 0l0.9 -0.1l1 0l1 0l0.9 0l1 0l1 0l0.9 -0.1l1 0l1 0l0.9 0l1 0l1 0l0.9 -0.1l1 0l1 0l0.9 0l1 0l1 0l0.9 0l1 -0.1l1 0l0.9 0l1 0l1 0l0.9 0l1 -0.1l1 0l0.9 0l1 0l1 0l0.9 -0.1l1 0l1 0l0.9 0l1 0l1 0l0.9 -0.1l1 0l1 0l0.9 0l1 0l1 0l0.9 -0.1l1 0l1 0l0.9 0l1 0l0.9 -0.1l1 0l1 0l0.9 0l1 0l1 0l0.9 -0.1l1 0l1 0l0.9 0l1 0l1 0l0.9 -0.1l1 0l1 0l0.9 0l1 0l1 -0.1l0.9 0l1 0l1 0l0.9 0l1 -0.1l1 0l0.9 0"/>
<path stroke="#0000FF" d="M356.4 152.4l1 -0.1l0.9 -0.1l1 -0.1l1 -0.1l0.9 -0.1l1 -0.1l1 -0.1l0.9 -0.1l1 -0.1l1 -0.2l0.9 -0.1l1 -0.1l1 -0.1l0.9 -0.1l1 -0.1l1 -0.1l0.9 -0.1l1 -0.1l1 -0.1l0.9 -0.1l1 -0.1l1 -0.1l0.9 -0.1l1 -0.1l1 -0.1l0.9 -0.2l1 -0.1l1 -0.1l0.9 -0.1l1 -0.1l1 -0.1l0.9 -0.1l1 0l1 -0.1l0.9 -0.1l1 -0.1l1 -0.1l0.9 -0.1l1 -0.1l1 -0.1l0.9 -0.1l1 -0.1l0.9 -0.1l1 -0.1l1 -0.1l0.9 0l1 -0.1l1 -0.1l0.9 -0.1l1 -0.1l1 -0.1l0.9 -0.1l1 0l1 -0.1l0.9 -0.1l1 -0.1l1 0l0.9 -0.1l1 -0.1l1 -0.1l0.9 0l1 -0.1l1 -0.1l0.9 0l1 -0.1l1 -0.1l0.9 0l1 -0.1l1 0l0.9 -0.1l1 -0.1l1 0l0.9 -0.1l1 0l1 -0.1l0.9 0l1 -0.1l1 0l0.9 -0.1l1 0l1 -0.1l0.9 0l1 0l1 -0.1l0.9 0l1 -0.1l1 0l0.9 -0.1l1 0l1 0l0.9 -0.1l1 0l1 -0.1l0.9 0l1 0l1 -0.1l0.9 0l1 -0.1l0.9 0l1 0l1 -0.1l0.9 0l1 0l1 -0.1l0.9 0l1 0l1 -0.1l0.9 0l1 0l1 -0.1l0.9 0l1 0l1 -0.1l0.9 0l1 0l1 -0.1l0.9 0l1 0l1 -0.1l0.9 0l1 0l1 -0.1l0.9 0l1 0l1 0l0.9 -0.1l1 0l1 0l0.9 -0.1l1 0l1 0l0.9 0l1 -0.1l1 0l0.9 0l1 -0.1l1 0l0.9 0l1 0l1 -0.1l0.9 0l1 0l1 0l0.9 -0.1l1 0l1 0l0.9 0l1 -0.1l1 0l0.9 0l1 0l1 -0.1l0.9 0l1 0l0.9 0l1 -0.1l1 0l0.9 0l1 0l1 -0.1l0.9 0l1 0l1 0l0.9 -0.1l1 0l1 0l0.9 0l1 0l1 -0.1l0.9 0l1 0l1 0l0.9 -0.1l1 0l1 0l0.9 0l1 0l1 -0.1l0.9 0l1 0l1 0l0.9 -0.1l1 0l1 0l0.9 0l1 0l1 -0.1l0.9 0l1 0l1 0l0.9 -0.1l1 0l1 0l0.9 0l1 0l1 -0.1l0.9 0l1 0l1 0l0.9 -0.1l1 0l1 0l0.9 0l1 0l1 -0.1l0.9 0l1 0l0.9 0l1 -0.1l1 0l0.9 0l1 0l1 0l0.9 -0.1l1 0l1 0l0.9 0l1 -0.1l1 0l0.9 0l1 0l1 0l0.9 -0.1l1 0l1 0l0.9 0l1 -0.1l1 0l0.9 0l1 0l1 0l0.9 -0.1l1 0l1 0l0.9 0l1 0l1 -0.1l0.9 0l1 0l1 0l0.9 0l1 -0.1l1 0l0.9 0l1 0l1 -0.1l0.9 0l1 0l1 0l0.9 0l1 -0.1l1 0l0.9 0l1 0l1 0l0.9 -0.1l1 0l1 0l0.9 0l1 0l1 -0.1l0.9 0l1 0l0.9 0l1 0l1 -0.1l0.9 0l1 0l1 0l0.9 0l1 -0.1l1 0l0.9 0l1 0l1 0l0.9 -0.1l1 0l1 0l0.9 0l1 0l1 0l0.9 -0.1l1 0l1 0l0.9 0l1 0l1 -0.1l0.9 0l1 0l1 0l0.9 0l1 0l1 -0.1l0.9 0l1 0l1 0l0.9 0l1 -0.1l1 0l0.9 0l1 0l1 0l0.9 0l1 -0.1l1 0l0.9 0l1 0l1 0l0.9 0l1 -0.1l1 0l0.9 0l1 0l1 0l0.9 0l1 0l1 -0.1l0.9 0l1 0l0.9 0l1 0l1 0l0.9 -0.1l1 0l1 0l0.9 0l1 0l1 0l0.9 0l1 -0.1l1 0l0.9 0l1 0l1 0l0.9 0l1 0l1 -0.1l0.9 0l1 0l1 0l0.9 0l1 0l1 0l0.9 0l1 -0.1l1 0l0.9 0l1 0l1 0l0.9 0l1 0l1 0l0.9 0l1 -0.1l1 0l0.9 0l1 0l1 0l0.9 0l1 0l1 0l0.9 0l1 -0.1l1 0l0.9 0l1 0l1 0l0.9 0l1 0l1 0l0.9 0l1 0l0.9 -0.1l1 0l1 0l0.9 0l1 0l1 0l0.9 0l1 0l1 0l0.9 -0.1l1 0l1 0l0.9 0l1 0l1 0l0.9 0l1 0l1 0l0.9 0l1 -0.1l1 0l0.9 0l1 0l1 0l0.9 0l1 0l1 0l0.9 0l1 0l1 0l0.9 -0.1l1 0l1 0l0.9 0l1 0l1 0l0.9 0l1 0l1 0l0.9 0l1 0l1 0l0.9 -0.1l1 0l1 0l0.9 0l1 0l1 0l0.9 0l1 0l1 0l0.9 0l1 0l1 0l0.9 0l1 0l0.9 0l1 0l1 0l0.9 -0.1l1 0l1 0l0.9 0l1 0l1 0l0.9 0l1 0l1 0l0.9 0l1 0l1 0l0.9 0l1 0l1 0l0.9 0l1 0l1 0l0.9 0l1 0l1 0l0.9 0l1 0l1 0l0.9 0l1 0l1 0l0.9 0l1 0l1 0l0.9 0.1l1 0l1 0l0.9 0l1 0l1 0l0.9 0l1 0l1 0l0.9 0l1 0l1 0l0.9 0.1l1 0l1 0l0.9 0l1 0l1 0l0.9 0.1l1 0l1 0l0.9 0l1 0l0.9 0l1 0.1l1 0l0.9 0l1 0l1 0.1l0.9 0l1 0l1 0l0.9 0.1l1 0l1 0l0.9 0.1l1 0l1 0l0.9 0.1l1 0l1 0.1l0.9 0l1 0l1 0.1l0.9 0l1 0.1l1 0l0.9 0.1l1 0l1 0.1l0.9 0l1 0.1l1 0l0.9 0.1l1 0l1 0.1l0.9 0.1l1 0l1 0.1l0.9 0.1l1 0l1 0.1l0.9 0.1l1 0.1l1 0.1l0.9 0l1 0.1l1 0.1l0.9 0.1l1 0.1l1 0.1l0.9 0.1l1 0.1l1 0.1l0.9 0.1l1 0.1l1 0.1l0.9 0.1l1 0.1l0.9 0.1l1 0.1l1 0.1l0.9 0.2l1 0.1l1 0.1l0.9 0.1l1 0.2l1 0.1l0.9 0.1l1 0.2l1 0.1l0.9 0.2l1 0.1l1 0.1l0.9 0.2l1 0.1l1 0.2l0.9 0.2l1 0.1l1 0.2l0.9 0.1l1 0.2l1 0.2l0.9 0.2l1 0.1l1 0.2l0.9 0.2l1 0.2l1 0.2l0.9 0.2l1 0.2l1 0.2l0.9 0.2l1 0.2l1 0.2l0.9 0.2l1 0.2l1 0.2l0.9 0.2l1 0.3l1 0.2l0.9 0.2l1 0.3l1 0.2l0.9 0.3l1 0.2l1 0.3l0.9 0.2l1 0.3l1 0.3l0.9 0.2l1 0.3l0.9 0.3l1 0.3l1 0.3l0.9 0.3l1 0.3l1 0.3l0.9 0.3l1 0.3l1 0.4l0.9 0.3l1 0.3l1 0.4l0.9 0.3l1 0.4l1 0.4l0.9 0.4l1 0.3l1 0.4l0.9 0.5l1 0.4l1 0.4l0.9 0.4l1 0.5l1 0.4l0.9 0.5l1 0.5l1 0.5l0.9 0.5l1 0.5l1 0.5l0.9 0.5l1 0.6l1 0.5l0.9 0.6l1 0.6l1 0.6l0.9 0.6l1 0.6l1 0.7l0.9 0.7l1 0.6l1 0.7l0.9 0.8l1 0.7l1 0.7l0.9 0.8l1 0.8l1 0.8l0.9 0.8l1 0.9l1 0.9l0.9 0.9l1 0.9l1 0.9l0.9 1l1 1l0.9 1l1 1.1l1 1.1l0.9 1.1l1 1.1l1 1.2l0.9 1.2l1 1.2l1 1.3l0.9 1.3l1 1.3l1 1.4l0.9 1.4l1 1.4l1 1.5l0.9 1.5l1 1.6l1 1.6l0.9 1.6l1 1.7l1 1.8l0.9 1.8l1 1.8l1 1.9l0.9 1.9l1 2l1 2.1l0.9 2.1l1 2.1l1 2.2l0.9 2.3l1 2.3l1 2.4l0.9 2.5l1 2.5l1 2.6l0.9 2.7l1 2.7l1 2.8l0.9 2.9l1 3l1 3l0.9 3.2l1 3.2l1 3.3l0.9 3.3l1 3.5l1 3.5l0.9 3.7l1 3.7l1 3.9l0.9 3.9l1 4l1 4.1l0.9 4.3l1 4.3l0.9 4.5l1 4.5l1 4.7l0.9 4.8l1 4.9l1 5l0.9 5.1l1 5.2l1 5.4l0.9 5.5l1 5.6l1 5.8l0.9 5.8l1 6.1l1 6.1l0.9 6.3l1 6.4l1 6.5l0.9 6.7l1 6.8l1 6.9l0.9 7.1l1 7.2l1 7.4l0.9 7.5l1 7.6l1 7.8l0.9 7.9l1 8.1l1 8.2l0.9 8.3l1 8.5l1 8.6l0.9 8.7l1 8.8l1 9l0.9 9.1l1 9.3l1 9.3l0.9 9.5l1 9.6l1 9.7l0.9 9.8l1 9.9l1 10l0.9 10.1l1 10.1l1 10.3l0.9 10.3l1 10.4l1 10.4l0.9 10.5l1 10.6l0.9 10.5l1 10.6l1 10.6l0.9 10.6l1 10.6l1 10.6l0.9 10.6l1 10.5l1 10.5l0.9 10.4l1 10.4l1 10.2l0.9 10.2l1 10.1l1 9.9l0.9 9.9l1 9.6l1 9.6l0.9 9.3l1 9.2l1 9l0.9 8.9l1 8.6l1 8.4l0.9 8.2l1 7.9l1 7.8l0.9 7.4l1 7.3l1 7l0.9 6.7l1 6.5l1 6.2l0.9 6l1 5.7l1 5.5l0.9 5.2l1 4.9l1 4.7l0.9 4.5l1 4.2l1 4l0.9 3.8l1 3.5l1 3.3l0.9 3.1l1 3l1 2.7l0.9 2.5l1 2.4l1 2.3l0.9 2l1 2l1 1.8l0.9 1.7l1 1.6l0.9 1.4l1 1.4l1 1.3l0.9 1.2l1 1.1l1 1.1l0.9 1l1 1l1 0.9l0.9 0.9l1 0.8l1 0.8l0.9 0.8l1 0.7l1 0.7l0.9 0.7l1 0.7l1 0.7l0.9 0.6l1 0.6l1 0.7l0.9 0.6l1 0.6l1 0.6l0.9 0.6l1 0.5l1 0.6l0.9 0.6l1 0.5l1 0.5l0.9 0.6l1 0.5l1 0.5l0.9 0.5l1 0.5l1 0.4l0.9 0.5l1 0.5l1 0.4l0.9 0.5l1 0.4l1 0.5l0.9 0.4l1 0.4l1 0.5l0.9 0.4l1 0.4l1 0.4l0.9 0.4l1 0.4l1 0.4l0.9 0.4l1 0.4l1 0.4l0.9 0.4l1 0.4l0.9 0.4l1 0.3l1 0.4l0.9 0.4l1 0.4l1 0.3l0.9 0.4l1 0.4l1 0.4l0.9 0.4l1 0.3l1 0.4l0.9 0.4l1 0.4l1 0.4l0.9 0.3l1 0.4l1 0.4l0.9 0.4l1 0.3l1 0.4l0.9 0.4l1 0.4l1 0.3l0.9 0.4l1 0.4l1 0.3l0.9 0.4l1 0.4l1 0.3l0.9 0.4l1 0.3l1 0.4l0.9 0.4l1 0.3l1 0.4l0.9 0.3l1 0.4l1 0.3l0.9 0.3l1 0.4l1 0.3l0.9 0.4l1 0.3l1 0.3l0.9 0.4l1 0.3l1 0.3l0.9 0.3l1 0.3l1 0.4l0.9 0.3l1 0.3l1 0.3l0.9 0.3l1 0.3l0.9 0.3l1 0.3l1 0.3l0.9 0.3l1 0.3l1 0.3l0.9 0.2l1 0.3l1 0.3l0.9 0.3l1 0.2l1 0.3l0.9 0.2l1 0.3l1 0.2l0.9 0.3l1 0.2l1 0.3l0.9 0.2l1 0.2l1 0.3l0.9 0.2l1 0.2l1 0.2l0.9 0.2l1 0.2l1 0.2l0.9 0.3l1 0.2l1 0.2l0.9 0.2l1 0.2l1 0.2l0.9 0.2l1 0.2l1 0.2l0.9 0.1l1 0.2l1 0.2l0.9 0.2l1 0.2l1 0.2l0.9 0.2l1 0.1l1 0.2l0.9 0.2l1 0.2l1 0.1l0.9 0.2l1 0.2l1 0.1l0.9 0.2l1 0.2l0.9 0.1l1 0.2l1 0.1l0.9 0.2l1 0.2l1 0.1l0.9 0.2l1 0.1l1 0.2l0.9 0.1l1 0.1l1 0.2l0.9 0.1l1 0.2l1 0.1l0.9 0.1l1 0.2l1 0.1l0.9 0.1l1 0.2l1 0.1l0.9 0.1l1 0.2l1 0.1l0.9 0.1l1 0.1l1 0.1l0.9 0.2l1 0.1l1 0.1l0.9 0.1l1 0.1l1 0.1l0.9 0.1l1 0.1l1 0.1l0.9 0.1l1 0.1l1 0.1l0.9 0.1l1 0.1l1 0.1l0.9 0.1l1 0.1l1 0.1l0.9 0.1l1 0.1l1 0l0.9 0.1l1 0.1l1 0.1l0.9 0.1l1 0l1 0.1l0.9 0.1l1 0.1l0.9 0l1 0.1l1 0.1l0.9 0.1l1 0l1 0.1l0.9 0.1l1 0l1 0.1l0.9 0l1 0.1l1 0.1l0.9 0l1 0.1l1 0l0.9 0.1l1 0.1l1 0l0.9 0.1l1 0l1 0.1l0.9 0l1 0.1l1 0l0.9 0.1l1 0l1 0.1l0.9 0l1 0.1l1 0l0.9 0.1l1 0l1 0.1l0.9 0l1 0.1l1 0l0.9 0.1l1 0l1 0l0.9 0.1l1 0l1 0.1l0.9 0l1 0.1l1 0l0.9 0l1 0.1l1 0l0.9 0.1l1 0l1 0l0.9 0.1l1 0l1 0l0.9 0.1l1 0l0.9 0.1l1 0l1 0l0.9 0.1l1 0l1 0l0.9 0l1 0.1l1 0l0.9 0l1 0.1l1 0l0.9 0l1 0.1l1 0l0.9 0l1 0l1 0.1l0.9 0l1 0l1 0l0.9 0.1l1 0l1 0l0.9 0l1 0l1 0.1l0.9 0l1 0l1 0l0.9 0.1l1 0l1 0l0.9 0l1 0l1 0l0.9 0.1l1 0l1 0l0.9 0l1 0l1 0l0.9 0.1l1 0l1 0l0.9 0l1 0l1 0l0.9 0.1l1 0l1 0l0.9 0l1 0l1 0l0.9 0l1 0l0.9 0.1l1 0l1 0l0.9 0l1 0l1 0l0.9 0l1 0l1 0l0.9 0l1 0.1l1 0l0.9 0l1 0l1 0l0.9 0l1 0l1 0l0.9 0l1 0l1 0l0.9 0l1 0l1 0.1l0.9 0l1 0l1 0l0.9 0l1 0l1 0l0.9 0l1 0l1 0l0.9 0l1 0l1 0l0.9 0l1 0l1 0l0.9 0l1 0l1 0l0.9 0.1l1 0l1 0l0.9 0l1 0l1 0l0.9 0l1 0l1 0l0.9 0l1 0l0.9 0l1 0l1 0l0.9 0l1 0l1 0l0.9 0l1 0l1 0l0.9 0l1 0l1 0l0.9 0l1 0l1 0l0.9 0l1 0l1 0.1l0.9 0l1 0l1 0l0.9 0l1 0l1 0l0.9 0l1 0l1 0l0.9 0l1 0l1 0l0.9 0l1 0l1 0l0.9 0l1 0l1 0l0.9 0l1 0l1 0l0.9 0l1 0l1 0l0.9 0l1 0l1 0l0.9 0l1 0l1 0l0.9 0l1 0l1 0.1l0.9 0l1 0l1 0l0.9 0l1 0l0.9 0l1 0l1 0l0.9 0l1 0l1 0l0.9 0l1 0l1 0l0.9 0l1 0l1 0l0.9 0l1 0l1 0l0.9 0l1 0l1 0l0.9 0l1 0l1 0l0.9 0l1 0l1 0l0.9 0l1 0l1 0l0.9 0l1 0l1 0l0.9 0l1 0l1 0l0.9 0l1 0l1 0l0.9 0l1 0l1 0l0.9 0l1 -0.1l1 0l0.9 0l1 0l1 0l0.9 0l1 0l1 0l0.9 0l1 0l1 0l0.9 0l1 0l1 0l0.9 0l1 0l0.9 0l1 0l1 0l0.9 0l1 0l1 0l0.9 0l1 0l1 0l0.9 0l1 0l1 0l0.9 0l1 0l1 0l0.9 0l1 0l1 0l0.9 0l1 0l1 0l0.9 0l1 0l1 0l0.9 0l1 0l1 0l0.9 0l1 0l1 0l0.9 0l1 0l1 0l0.9 0l1 0l1 0l0.9 0l1 0l1 0l0.9 0l1 0l1 0l0.9 0l1 0l1 0l0.9 0l1 0l1 0l0.9 0l1 0l1 0l0.9 0l1 0l0.9 0l1 0l1 0l0.9 0l1 0l1 0l0.9 0l1 0l1 0l0.9 0l1 0l1 0l0.9 0l1 0l1 0l0.9 0l1 0l1 0l0.9 0l1 0l1 0l0.9 0l1 0l1 0l0.9 0l1 0l1 0l0.9 0l1 0l1 0l0.9 0l1 0l1 0l0.9 0l1 0l1 0l0.9 0l1 0l1 0l0.9 0l1 0l1 0l0.9 0l1 0l1 0l0.9 0l1 0l1 0l0.9 0l1 0l1 0l0.9 0l1 0.1l1 0l0.9 0l1 0l0.9 0l1 0l1 0l0.9 0l1 0l1 0l0.9 0l1 0l1 0l0.9 0.1l1 0l1 0l0.9 0l1 0l1 0l0.9 0l1 0l1 0l0.9 0l1 0.1l1 0l0.9 0l1 0l1 0l0.9 0l1 0l1 0l0.9 0l1 0.1l1 0l0.9 0l1 0l1 0l0.9 0l1 0l1 0.1l0.9 0l1 0l1 0l0.9 0l1 0l1 0l0.9 0.1l1 0l1 0l0.9 0l1 0l1 0l0.9 0.1l1 0l1 0l0.9 0l1 0l1 0l0.9 0.1l1 0l0.9 0l1 0l1 0l0.9 0.1l1 0l1 0l0.9 0l1 0l1 0.1l0.9 0l1 0l1 0l0.9 0l1 0.1l1 0l0.9 0l1 0l1 0l0.9 0.1l1 0l1 0l0.9 0l1 0l1 0.1l0.9 0l1 0l1 0l0.9 0.1l1 0l1 0l0.9 0l1 0l1 0.1l0.9 0l1 0l1 0l0.9 0.1l1 0l1 0l0.9 0l1 0.1l1 0l0.9 0l1 0l1 0l0.9 0.1l1 0l1 0l0.9 0l1 0.1l1 0l0.9 0l1 0l1 0.1l0.9 0l1 0l0.9 0l1 0.1l1 0l0.9 0l1 0.1l1 0l0.9 0l1 0l1 0.1l0.9 0l1 0l1 0l0.9 0.1l1 0l1 0l0.9 0l1 0.1l1 0l0.9 0l1 0.1l1 0l0.9 0l1 0l1 0.1l0.9 0"/>
<path stroke="#FF00FF" d="M356.4 150.1l1 0l0.9 0l1 0l1 0l0.9 0l1 0l1 -0.1l0.9 0l1 0l1 0l0.9 0l1 0l1 0l0.9 0l1 -0.1l1 0l0.9 0l1 0l1 0l0.9 0l1 0l1 -0.1l0.9 0l1 0l1 0l0.9 0l1 0l1 0l0.9 -0.1l1 0l1 0l0.9 0l1 0l1 0l0.9 0l1 -0.1l1 0l0.9 0l1 0l1 0l0.9 0l1 0l0.9 -0.1l1 0l1 0l0.9 0l1 0l1 0l0.9 0l1 -0.1l1 0l0.9 0l1 0l1 0l0.9 0l1 -0.1l1 0l0.9 0l1 0l1 0l0.9 0l1 0l1 -0.1l0.9 0l1 0l1 0l0.9 0l1 0l1 -0.1l0.9 0l1 0l1 0l0.9 0l1 0l1 -0.1l0.9 0l1 0l1 0l0.9 0l1 0l1 0l0.9 -0.1l1 0l1 0l0.9 0l1 0l1 -0.1l0.9 0l1 0l1 0l0.9 0l1 -0.1l1 0l0.9 0l1 0l1 0l0.9 -0.1l1 0l0.9 0l1 0l1 -0.1l0.9 0l1 0l1 0l0.9 -0.1l1 0l1 0l0.9 0l1 -0.1l1 0l0.9 0l1 0l1 -0.1l0.9 0l1 0l1 0l0.9 -0.1l1 0l1 0l0.9 0l1 -0.1l1 0l0.9 0l1 0l1 -0.1l0.9 0l1 0l1 0l0.9 -0.1l1 0l1 0l0.9 0l1 -0.1l1 0l0.9 0l1 0l1 -0.1l0.9 0l1 0l1 0l0.9 -0.1l1 0l1 0l0.9 0l1 -0.1l1 0l0.9 0l1 0l1 -0.1l0.9 0l1 0l1 0l0.9 0l1 -0.1l0.9 0l1 0l1 0l0.9 0l1 -0.1l1 0l0.9 0l1 0l1 0l0.9 -0.1l1 0l1 0l0.9 0l1 0l1 -0.1l0.9 0l1 0l1 0l0.9 0l1 0l1 0l0.9 -0.1l1 0l1 0l0.9 0l1 0l1 0l0.9 0l1 0l1 0l0.9 -0.1l1 0l1 0l0.9 0l1 0l1 0l0.9 0l1 0l1 0l0.9 0l1 0l1 0l0.9 0l1 0l1 0l0.9 0l1 0l1 0l0.9 0l1 0l1 0l0.9 0l1 0l0.9 0l1 0l1 0l0.9 0l1 0l1 0l0.9 0l1 0l1 0l0.9 0l1 0l1 0l0.9 0l1 0l1 0l0.9 0l1 0l1 0l0.9 0l1 0l1 0l0.9 0l1 0l1 0l0.9 0.1l1 0l1 0l0.9 0l1 0l1 0l0.9 0l1 0l1 0l0.9 0l1 0l1 0l0.9 0l1 0l1 0l0.9 0l1 0l1 0l0.9 0l1 0.1l1 0l0.9 0l1 0l1 0l0.9 0l1 0l1 0l0.9 0l1 0l1 0l0.9 0l1 0l0.9 0l1 0.1l1 0l0.9 0l1 0l1 0l0.9 0l1 0l1 0l0.9 0l1 0l1 0l0.9 0l1 0l1 0.1l0.9 0l1 0l1 0l0.9 0l1 0l1 0l0.9 0l1 0l1 0l0.9 0l1 0l1 0.1l0.9 0l1 0l1 0l0.9 0l1 0l1 0l0.9 0l1 0l1 0l0.9 0l1 0.1l1 0l0.9 0l1 0l1 0l0.9 0l1 0l1 0l0.9 0l1 0l1 0.1l0.9 0l1 0l1 0l0.9 0l1 0l1 0l0.9 0l1 0l0.9 0l1 0.1l1 0l0.9 0l1 0l1 0l0.9 0l1 0l1 0l0.9 0l1 0l1 0.1l0.9 0l1 0l1 0l0.9 0l1 0l1 0l0.9 0l1 0l1 0l0.9 0.1l1 0l1 0l0.9 0l1 0l1 0l0.9 0l1 0l1 0l0.9 0l1 0.1l1 0l0.9 0l1 0l1 0l0.9 0l1 0l1 0l0.9 0l1 0l1 0.1l0.9 0l1 0l1 0l0.9 0l1 0l1 0l0.9 0l1 0l1 0.1l0.9 0l1 0l0.9 0l1 0l1 0l0.9 0l1 0.1l1 0l0.9 0l1 0l1 0l0.9 0l1 0.1l1 0l0.9 0l1 0l1 0l0.9 0l1 0.1l1 0l0.9 0l1 0l1 0l0.9 0.1l1 0l1 0l0.9 0l1 0l1 0l0.9 0.1l1 0l1 0l0.9 0l1 0l1 0.1l0.9 0l1 0l1 0l0.9 0l1 0.1l1 0l0.9 0l1 0l1 0l0.9 0.1l1 0l1 0l0.9 0l1 0l1 0.1l0.9 0l1 0l1 0l0.9 0.1l1 0l1 0l0.9 0l1 0l0.9 0.1l1 0l1 0l0.9 0l1 0l1 0.1l0.9 0l1 0l1 0l0.9 0l1 0.1l1 0l0.9 0l1 0l1 0.1l0.9 0l1 0l1 0l0.9 0l1 0.1l1 0l0.9 0l1 0l1 0l0.9 0.1l1 0l1 0l0.9 0l1 0.1l1 0l0.9 0l1 0l1 0l0.9 0.1l1 0l1 0l0.9 0l1 0l1 0.1l0.9 0l1 0l1 0l0.9 0.1l1 0l1 0l0.9 0l1 0l1 0.1l0.9 0l1 0l1 0l0.9 0.1l1 0l1 0l0.9 0l1 0.1l0.9 0l1 0l1 0l0.9 0.1l1 0l1 0l0.9 0l1 0.1l1 0l0.9 0l1 0l1 0.1l0.9 0l1 0l1 0.1l0.9 0l1 0l1 0.1l0.9 0l1 0l1 0.1l0.9 0l1 0l1 0.1l0.9 0l1 0l1 0.1l0.9 0l1 0.1l1 0l0.9 0.1l1 0l1 0.1l0.9 0l1 0.1l1 0l0.9 0.1l1 0l1 0.1l0.9 0l1 0.1l1 0.1l0.9 0l1 0.1l1 0.1l0.9 0l1 0.1l1 0.1l0.9 0.1l1 0l1 0.1l0.9 0.1l1 0.1l1 0.1l0.9 0l1 0.1l0.9 0.1l1 0.1l1 0.1l0.9 0.1l1 0.1l1 0.1l0.9 0.1l1 0.1l1 0.2l0.9 0.1l1 0.1l1 0.1l0.9 0.1l1 0.1l1 0.2l0.9 0.1l1 0.1l1 0.2l0.9 0.1l1 0.1l1 0.2l0.9 0.1l1 0.2l1 0.1l0.9 0.2l1 0.2l1 0.1l0.9 0.2l1 0.2l1 0.1l0.9 0.2l1 0.2l1 0.2l0.9 0.2l1 0.2l1 0.2l0.9 0.2l1 0.2l1 0.2l0.9 0.2l1 0.2l1 0.2l0.9 0.2l1 0.3l1 0.2l0.9 0.2l1 0.3l1 0.2l0.9 0.3l1 0.3l1 0.2l0.9 0.3l1 0.3l0.9 0.2l1 0.3l1 0.3l0.9 0.3l1 0.3l1 0.3l0.9 0.4l1 0.3l1 0.3l0.9 0.3l1 0.4l1 0.3l0.9 0.4l1 0.3l1 0.4l0.9 0.4l1 0.4l1 0.4l0.9 0.4l1 0.4l1 0.4l0.9 0.4l1 0.4l1 0.5l0.9 0.4l1 0.5l1 0.5l0.9 0.5l1 0.4l1 0.5l0.9 0.6l1 0.5l1 0.5l0.9 0.6l1 0.5l1 0.6l0.9 0.6l1 0.6l1 0.6l0.9 0.6l1 0.7l1 0.6l0.9 0.7l1 0.7l1 0.7l0.9 0.7l1 0.7l1 0.8l0.9 0.7l1 0.8l1 0.8l0.9 0.9l1 0.8l1 0.9l0.9 0.9l1 0.9l0.9 0.9l1 1l1 1l0.9 1l1 1l1 1.1l0.9 1.1l1 1.1l1 1.1l0.9 1.2l1 1.2l1 1.2l0.9 1.3l1 1.3l1 1.3l0.9 1.4l1 1.4l1 1.4l0.9 1.5l1 1.5l1 1.5l0.9 1.6l1 1.7l1 1.6l0.9 1.7l1 1.8l1 1.8l0.9 1.9l1 1.9l1 1.9l0.9 2l1 2.1l1 2.1l0.9 2.2l1 2.2l1 2.3l0.9 2.3l1 2.4l1 2.4l0.9 2.6l1 2.6l1 2.6l0.9 2.7l1 2.8l1 2.9l0.9 2.9l1 3l1 3.1l0.9 3.2l1 3.3l1 3.3l0.9 3.4l1 3.5l1 3.6l0.9 3.7l1 3.7l0.9 3.9l1 3.9l1 4.1l0.9 4.1l1 4.3l1 4.3l0.9 4.5l1 4.6l1 4.6l0.9 4.8l1 4.9l1 5l0.9 5.1l1 5.2l1 5.4l0.9 5.5l1 5.6l1 5.7l0.9 5.8l1 6l1 6.1l0.9 6.2l1 6.3l1 6.5l0.9 6.6l1 6.8l1 6.8l0.9 7l1 7.2l1 7.3l0.9 7.4l1 7.5l1 7.7l0.9 7.8l1 8l1 8.1l0.9 8.2l1 8.4l1 8.5l0.9 8.6l1 8.7l1 8.9l0.9 9l1 9.1l1 9.3l0.9 9.3l1 9.5l1 9.6l0.9 9.7l1 9.8l1 9.9l0.9 10l1 10l0.9 10.2l1 10.2l1 10.3l0.9 10.4l1 10.4l1 10.5l0.9 10.5l1 10.5l1 10.6l0.9 10.5l1 10.6l1 10.6l0.9 10.5l1 10.5l1 10.5l0.9 10.5l1 10.3l1 10.3l0.9 10.3l1 10.1l1 10l0.9 10l1 9.7l1 9.7l0.9 9.5l1 9.4l1 9.1l0.9 9l1 8.9l1 8.6l0.9 8.4l1 8.2l1 8l0.9 7.7l1 7.5l1 7.3l0.9 7l1 6.8l1 6.6l0.9 6.2l1 6.1l1 5.7l0.9 5.5l1 5.3l1 5l0.9 4.7l1 4.5l1 4.3l0.9 4l1 3.8l1 3.6l0.9 3.3l1 3.1l1 3l0.9 2.7l1 2.5l0.9 2.4l1 2.2l1 2l0.9 1.9l1 1.8l1 1.6l0.9 1.5l1 1.4l1 1.3l0.9 1.1l1 1.1l1 1.1l0.9 0.9l1 0.9l1 0.8l0.9 0.8l1 0.7l1 0.7l0.9 0.7l1 0.6l1 0.6l0.9 0.5l1 0.6l1 0.5l0.9 0.5l1 0.5l1 0.5l0.9 0.5l1 0.5l1 0.5l0.9 0.4l1 0.5l1 0.4l0.9 0.5l1 0.4l1 0.4l0.9 0.5l1 0.4l1 0.4l0.9 0.5l1 0.4l1 0.4l0.9 0.4l1 0.4l1 0.4l0.9 0.4l1 0.4l1 0.4l0.9 0.4l1 0.4l1 0.4l0.9 0.4l1 0.4l1 0.4l0.9 0.4l1 0.4l0.9 0.4l1 0.3l1 0.4l0.9 0.4l1 0.3l1 0.4l0.9 0.4l1 0.3l1 0.4l0.9 0.4l1 0.3l1 0.4l0.9 0.3l1 0.3l1 0.4l0.9 0.3l1 0.4l1 0.3l0.9 0.3l1 0.4l1 0.3l0.9 0.3l1 0.3l1 0.3l0.9 0.4l1 0.3l1 0.3l0.9 0.3l1 0.3l1 0.3l0.9 0.3l1 0.3l1 0.3l0.9 0.3l1 0.2l1 0.3l0.9 0.3l1 0.3l1 0.3l0.9 0.2l1 0.3l1 0.3l0.9 0.3l1 0.2l1 0.3l0.9 0.3l1 0.2l1 0.3l0.9 0.2l1 0.3l1 0.3l0.9 0.2l1 0.3l1 0.2l0.9 0.3l1 0.2l0.9 0.3l1 0.2l1 0.2l0.9 0.3l1 0.2l1 0.2l0.9 0.3l1 0.2l1 0.2l0.9 0.3l1 0.2l1 0.2l0.9 0.2l1 0.2l1 0.3l0.9 0.2l1 0.2l1 0.2l0.9 0.2l1 0.2l1 0.2l0.9 0.2l1 0.2l1 0.2l0.9 0.2l1 0.2l1 0.2l0.9 0.2l1 0.2l1 0.2l0.9 0.2l1 0.2l1 0.2l0.9 0.1l1 0.2l1 0.2l0.9 0.2l1 0.1l1 0.2l0.9 0.2l1 0.2l1 0.1l0.9 0.2l1 0.1l1 0.2l0.9 0.2l1 0.1l1 0.2l0.9 0.1l1 0.2l1 0.1l0.9 0.2l1 0.1l0.9 0.2l1 0.1l1 0.2l0.9 0.1l1 0.2l1 0.1l0.9 0.1l1 0.2l1 0.1l0.9 0.1l1 0.2l1 0.1l0.9 0.1l1 0.2l1 0.1l0.9 0.1l1 0.1l1 0.2l0.9 0.1l1 0.1l1 0.1l0.9 0.2l1 0.1l1 0.1l0.9 0.1l1 0.1l1 0.1l0.9 0.1l1 0.2l1 0.1l0.9 0.1l1 0.1l1 0.1l0.9 0.1l1 0.1l1 0.1l0.9 0.1l1 0.1l1 0.1l0.9 0.1l1 0.1l1 0.1l0.9 0.1l1 0.1l1 0.1l0.9 0.1l1 0.1l1 0.1l0.9 0.1l1 0.1l1 0.1l0.9 0.1l1 0l1 0.1l0.9 0.1l1 0.1l0.9 0.1l1 0.1l1 0.1l0.9 0.1l1 0l1 0.1l0.9 0.1l1 0.1l1 0.1l0.9 0.1l1 0l1 0.1l0.9 0.1l1 0.1l1 0l0.9 0.1l1 0.1l1 0.1l0.9 0.1l1 0l1 0.1l0.9 0.1l1 0.1l1 0l0.9 0.1l1 0.1l1 0l0.9 0.1l1 0.1l1 0.1l0.9 0l1 0.1l1 0.1l0.9 0l1 0.1l1 0.1l0.9 0.1l1 0l1 0.1l0.9 0.1l1 0l1 0.1l0.9 0.1l1 0l1 0.1l0.9 0.1l1 0l1 0.1l0.9 0.1l1 0l1 0.1l0.9 0.1l1 0.1l1 0l0.9 0.1l1 0.1l0.9 0l1 0.1l1 0.1l0.9 0.1l1 0l1 0.1l0.9 0.1l1 0.1l1 0l0.9 0.1l1 0.1l1 0.1l0.9 0l1 0.1l1 0.1l0.9 0.1l1 0l1 0.1l0.9 0.1l1 0.1l1 0l0.9 0.1l1 0.1l1 0l0.9 0.1l1 0.1l1 0l0.9 0.1l1 0.1l1 0l0.9 0.1l1 0l1 0.1l0.9 0l1 0.1l1 0.1l0.9 0l1 0.1l1 0l0.9 0.1l1 0l1 0l0.9 0.1l1 0l1 0.1l0.9 0l1 0.1l1 0l0.9 0l1 0.1l1 0l0.9 0.1l1 0l1 0l0.9 0.1l1 0l0.9 0l1 0.1l1 0l0.9 0.1l1 0l1 0l0.9 0.1l1 0l1 0l0.9 0.1l1 0l1 0l0.9 0.1l1 0l1 0l0.9 0l1 0.1l1 0l0.9 0l1 0.1l1 0l0.9 0l1 0.1l1 0l0.9 0l1 0l1 0.1l0.9 0l1 0l1 0l0.9 0.1l1 0l1 0l0.9 0l1 0.1l1 0l0.9 0l1 0l1 0.1l0.9 0l1 0l1 0l0.9 0l1 0.1l1 0l0.9 0l1 0l1 0l0.9 0.1l1 0l1 0l0.9 0l1 0l0.9 0.1l1 0l1 0l0.9 0l1 0l1 0l0.9 0.1l1 0l1 0l0.9 0l1 0l1 0l0.9 0.1l1 0l1 0l0.9 0l1 0l1 0l0.9 0l1 0.1l1 0l0.9 0l1 0l1 0l0.9 0l1 0l1 0l0.9 0.1l1 0l1 0l0.9 0l1 0l1 0l0.9 0l1 0l1 0l0.9 0l1 0.1l1 0l0.9 0l1 0l1 0l0.9 0l1 0l1 0l0.9 0l1 0l1 0l0.9 0l1 0l1 0l0.9 0l1 0l1 0l0.9 0l1 0l0.9 -0.1l1 0l1 0l0.9 0l1 0l1 0l0.9 0l1 0l1 0l0.9 0l1 0l1 -0.1l0.9 0l1 0l1 0l0.9 0l1 0l1 0l0.9 0l1 -0.1l1 0l0.9 0l1 0l1 0l0.9 0l1 -0.1l1 0l0.9 0l1 0l1 0l0.9 0l1 -0.1l1 0l0.9 0l1 0l1 0l0.9 -0.1l1 0l1 0l0.9 0l1 0l1 -0.1l0.9 0l1 0l1 0l0.9 0l1 -0.1l1 0l0.9 0l1 0l1 0l0.9 -0.1l1 0l1 0l0.9 0l1 -0.1l0.9 0l1 0l1 0l0.9 0l1 -0.1l1 0l0.9 0l1 0l1 -0.1l0.9 0l1 0l1 0l0.9 -0.1l1 0l1 0l0.9 -0.1l1 0l1 0l0.9 -0.1l1 0l1 -0.1l0.9 0l1 0l1 -0.1l0.9 0l1 -0.1l1 0l0.9 -0.1l1 0l1 -0.1l0.9 0l1 0l1 -0.1l0.9 0l1 -0.1l1 0l0.9 -0.1l1 0l1 -0.1l0.9 0l1 -0.1l1 0l0.9 -0.1l1 0l1 -0.1l0.9 0l1 -0.1l1 0l0.9 -0.1l1 0l1 -0.1l0.9 0l1 -0.1l0.9 0l1 -0.1l1 0l0.9 0l1 -0.1l1 0l0.9 -0.1l1 0l1 -0.1l0.9 0l1 0l1 -0.1l0.9 0l1 -0.1l1 0l0.9 0l1 -0.1l1 0l0.9 0l1 0l1 -0.1l0.9 0l1 0l1 0l0.9 -0.1l1 0l1 0l0.9 0l1 0l1 -0.1l0.9 0l1 0l1 0l0.9 0l1 0l1 0l0.9 0l1 0l1 0l0.9 0l1 0l1 0l0.9 0.1l1 0l1 0l0.9 0.1l1 0l1 0.1l0.9 0l1 0.1l1 0l0.9 0.1l1 0.1l1 0l0.9 0.1l1 0.1l0.9 0.1l1 0l1 0.1l0.9 0.1l1 0.1l1 0.1l0.9 0.1l1 0.1l1 0.1l0.9 0.1l1 0.1l1 0.1l0.9 0l1 0.1l1 0.1l0.9 0.1l1 0.1l1 0.1l0.9 0.1l1 0.1l1 0.1l0.9 0.1l1 0.1l1 0l0.9 0.1l1 0.1l1 0.1l0.9 0.1l1 0l1 0.1l0.9 0l1 0.1l1 0.1l0.9 0l1 0.1l1 0l0.9 0.1l1 0l1 0.1l0.9 0l1 0.1l1 0.1l0.9 0l1 0.1l1 0l0.9 0.1l1 0l1 0.1l0.9 0l1 0.1l1 0l0.9 0.1l1 0l1 0.1l0.9 0l1 0.1l0.9 0l1 0.1l1 0.1l0.9 0l1 0.1l1 0l0.9 0.1l1 0l1 0.1l0.9 0l1 0.1l1 0l0.9 0.1l1 0l1 0l0.9 0.1l1 0l1 0.1l0.9 0l1 0.1l1 0l0.9 0.1l1 0l1 0.1l0.9 0l1 0.1l1 0l0.9 0.1l1 0l1 0l0.9 0.1l1 0l1 0.1l0.9 0l1 0.1l1 0l0.9 0l1 0.1l1 0l0.9 0.1l1 0l1 0l0.9 0.1l1 0l1 0.1l0.9 0l1 0l1 0.1l0.9 0l1 0l1 0.1l0.9 0l1 0.1l1 0l0.9 0l1 0.1l0.9 0l1 0l1 0.1l0.9 0l1 0l1 0.1l0.9 0l1 0l1 0.1l0.9 0l1 0l1 0l0.9 0.1l1 0l1 0l0.9 0.1l1 0l1 0l0.9 0l1 0.1l1 0l0.9 0l1 0l1 0.1l0.9 0"/>
<path stroke="#00FF00" d="M356.4 152.4l1 0l0.9 0l1 0l1 0l0.9 0l1 -0.1l1 0l0.9 0l1 0l1 0l0.9 0l1 -0.1l1 0l0.9 0l1 0l1 0l0.9 0l1 -0.1l1 0l0.9 0l1 0l1 0l0.9 0l1 0l1 -0.1l0.9 0l1 0l1 0l0.9 0l1 0l1 -0.1l0.9 0l1 0l1 0l0.9 0l1 0l1 0l0.9 -0.1l1 0l1 0l0.9 0l1 0l0.9 0l1 0l1 -0.1l0.9 0l1 0l1 0l0.9 0l1 0l1 0l0.9 -0.1l1 0l1 0l0.9 0l1 0l1 0l0.9 0l1 -0.1l1 0l0.9 0l1 0l1 0l0.9 0l1 0l1 -0.1l0.9 0l1 0l1 0l0.9 0l1 0l1 0l0.9 0l1 -0.1l1 0l0.9 0l1 0l1 0l0.9 0l1 0l1 0l0.9 0l1 -0.1l1 0l0.9 0l1 0l1 0l0.9 0l1 0l1 0l0.9 -0.1l1 0l1 0l0.9 0l1 0l1 0l0.9 0l1 0l0.9 -0.1l1 0l1 0l0.9 0l1 0l1 0l0.9 0l1 0l1 -0.1l0.9 0l1 0l1 0l0.9 0l1 0l1 0l0.9 -0.1l1 0l1 0l0.9 0l1 0l1 0l0.9 0l1 0l1 -0.1l0.9 0l1 0l1 0l0.9 0l1 0l1 0l0.9 0l1 -0.1l1 0l0.9 0l1 0l1 0l0.9 0l1 0l1 0l0.9 0l1 -0.1l1 0l0.9 0l1 0l1 0l0.9 0l1 0l1 0l0.9 0l1 -0.1l1 0l0.9 0l1 0l1 0l0.9 0l1 0l0.9 0l1 0l1 0l0.9 -0.1l1 0l1 0l0.9 0l1 0l1 0l0.9 0l1 0l1 0l0.9 0l1 0l1 0l0.9 -0.1l1 0l1 0l0.9 0l1 0l1 0l0.9 0l1 0l1 0l0.9 0l1 0l1 0l0.9 0l1 0l1 0l0.9 0l1 0l1 0l0.9 0l1 0l1 -0.1l0.9 0l1 0l1 0l0.9 0l1 0l1 0l0.9 0l1 0l1 0l0.9 0l1 0l1 0l0.9 0l1 0l1 0l0.9 0l1 0l0.9 0l1 0l1 0l0.9 0l1 0l1 0l0.9 0l1 0l1 0l0.9 0l1 0l1 0l0.9 0l1 0l1 0l0.9 0l1 0l1 0l0.9 0l1 0l1 0l0.9 0l1 0l1 0l0.9 0l1 0l1 0l0.9 0l1 0l1 0l0.9 0l1 0l1 0l0.9 0l1 0l1 0l0.9 0l1 0l1 0l0.9 0l1 0l1 0l0.9 0l1 0l1 0l0.9 0l1 0l1 0l0.9 0l1 0l1 0l0.9 0l1 0l1 0l0.9 0l1 0l0.9 0l1 0l1 0l0.9 0l1 0l1 0l0.9 0l1 0l1 0l0.9 0l1 0l1 0l0.9 0l1 0l1 0l0.9 0l1 0l1 0l0.9 0l1 0l1 0l0.9 0l1 0l1 0l0.9 0l1 0l1 0l0.9 0l1 0l1 0l0.9 0l1 0l1 0l0.9 0l1 0l1 0l0.9 0l1 0l1 0l0.9 0l1 0l1 0l0.9 0l1 0l1 0l0.9 0l1 0l1 0l0.9 0l1 0l1 0l0.9 0l1 0l1 0l0.9 0l1 0l0.9 0l1 0l1 0l0.9 0l1 0l1 0l0.9 0l1 0l1 0l0.9 0l1 0l1 0l0.9 0l1 0l1 0l0.9 0l1 0l1 0l0.9 0l1 0l1 0l0.9 0l1 0l1 0l0.9 0l1 0l1 0l0.9 0l1 0l1 0l0.9 0l1 0l1 0l0.9 0l1 0l1 0l0.9 0l1 0l1 0l0.9 0l1 0l1 0l0.9 0l1 0l1 0l0.9 0.1l1 0l1 0l0.9 0l1 0l1 0l0.9 0l1 0l0.9 0l1 0l1 0l0.9 0l1 0.1l1 0l0.9 0l1 0l1 0l0.9 0l1 0l1 0.1l0.9 0l1 0l1 0l0.9 0l1 0l1 0.1l0.9 0l1 0l1 0l0.9 0l1 0.1l1 0l0.9 0l1 0l1 0l0.9 0.1l1 0l1 0l0.9 0l1 0l1 0.1l0.9 0l1 0l1 0l0.9 0.1l1 0l1 0l0.9 0l1 0.1l1 0l0.9 0l1 0l1 0.1l0.9 0l1 0l1 0l0.9 0.1l1 0l1 0l0.9 0l1 0.1l1 0l0.9 0l1 0l0.9 0.1l1 0l1 0l0.9 0l1 0.1l1 0l0.9 0l1 0l1 0.1l0.9 0l1 0l1 0l0.9 0.1l1 0l1 0l0.9 0l1 0.1l1 0l0.9 0l1 0l1 0l0.9 0.1l1 0l1 0l0.9 0l1 0.1l1 0l0.9 0l1 0l1 0l0.9 0.1l1 0l1 0l0.9 0l1 0.1l1 0l0.9 0l1 0l1 0l0.9 0.1l1 0l1 0l0.9 0l1 0l1 0l0.9 0.1l1 0l1 0l0.9 0l1 0l1 0l0.9 0.1l1 0l1 0l0.9 0l1 0l0.9 0l1 0l1 0.1l0.9 0l1 0l1 0l0.9 0l1 0l1 0l0.9 0.1l1 0l1 0l0.9 0l1 0l1 0l0.9 0l1 0.1l1 0l0.9 0l1 0l1 0l0.9 0l1 0.1l1 0l0.9 0l1 0l1 0l0.9 0l1 0.1l1 0l0.9 0l1 0l1 0.1l0.9 0l1 0l1 0l0.9 0.1l1 0l1 0l0.9 0l1 0.1l1 0l0.9 0l1 0.1l1 0l0.9 0l1 0.1l1 0l0.9 0.1l1 0l1 0l0.9 0.1l1 0l1 0.1l0.9 0l1 0.1l0.9 0l1 0.1l1 0l0.9 0.1l1 0.1l1 0l0.9 0.1l1 0l1 0.1l0.9 0.1l1 0l1 0.1l0.9 0.1l1 0.1l1 0l0.9 0.1l1 0.1l1 0.1l0.9 0.1l1 0.1l1 0.1l0.9 0l1 0.1l1 0.1l0.9 0.1l1 0.1l1 0.2l0.9 0.1l1 0.1l1 0.1l0.9 0.1l1 0.1l1 0.2l0.9 0.1l1 0.1l1 0.1l0.9 0.2l1 0.1l1 0.2l0.9 0.1l1 0.2l1 0.1l0.9 0.2l1 0.1l1 0.2l0.9 0.2l1 0.1l1 0.2l0.9 0.2l1 0.2l1 0.2l0.9 0.2l1 0.2l0.9 0.2l1 0.2l1 0.2l0.9 0.2l1 0.2l1 0.3l0.9 0.2l1 0.3l1 0.2l0.9 0.2l1 0.3l1 0.3l0.9 0.2l1 0.3l1 0.3l0.9 0.3l1 0.2l1 0.3l0.9 0.3l1 0.3l1 0.4l0.9 0.3l1 0.3l1 0.3l0.9 0.4l1 0.3l1 0.4l0.9 0.4l1 0.3l1 0.4l0.9 0.4l1 0.4l1 0.4l0.9 0.4l1 0.5l1 0.4l0.9 0.4l1 0.5l1 0.5l0.9 0.5l1 0.4l1 0.6l0.9 0.5l1 0.5l1 0.5l0.9 0.6l1 0.6l1 0.5l0.9 0.6l1 0.6l1 0.7l0.9 0.6l1 0.7l1 0.6l0.9 0.7l1 0.7l0.9 0.8l1 0.7l1 0.8l0.9 0.7l1 0.8l1 0.9l0.9 0.8l1 0.9l1 0.8l0.9 0.9l1 1l1 0.9l0.9 1l1 1l1 1l0.9 1.1l1 1.1l1 1.1l0.9 1.1l1 1.2l1 1.2l0.9 1.2l1 1.3l1 1.3l0.9 1.3l1 1.4l1 1.4l0.9 1.4l1 1.5l1 1.5l0.9 1.5l1 1.6l1 1.6l0.9 1.7l1 1.7l1 1.8l0.9 1.8l1 1.8l1 1.9l0.9 2l1 2l1 2l0.9 2.1l1 2.2l1 2.2l0.9 2.2l1 2.4l1 2.3l0.9 2.5l1 2.5l1 2.5l0.9 2.7l1 2.7l1 2.7l0.9 2.9l1 2.9l0.9 3l1 3l1 3.1l0.9 3.2l1 3.3l1 3.4l0.9 3.4l1 3.6l1 3.6l0.9 3.7l1 3.8l1 3.9l0.9 3.9l1 4.1l1 4.1l0.9 4.3l1 4.4l1 4.4l0.9 4.6l1 4.6l1 4.8l0.9 4.9l1 5l1 5.1l0.9 5.2l1 5.3l1 5.4l0.9 5.6l1 5.7l1 5.8l0.9 5.9l1 6l1 6.2l0.9 6.2l1 6.5l1 6.5l0.9 6.7l1 6.8l1 6.9l0.9 7.1l1 7.2l1 7.3l0.9 7.4l1 7.6l1 7.8l0.9 7.8l1 8l1 8.2l0.9 8.2l1 8.4l1 8.5l0.9 8.7l1 8.8l0.9 8.9l1 9l1 9.2l0.9 9.2l1 9.4l1 9.5l0.9 9.6l1 9.7l1 9.9l0.9 9.9l1 9.9l1 10.1l0.9 10.2l1 10.2l1 10.3l0.9 10.3l1 10.4l1 10.5l0.9 10.4l1 10.5l1 10.5l0.9 10.5l1 10.5l1 10.5l0.9 10.5l1 10.5l1 10.4l0.9 10.3l1 10.3l1 10.2l0.9 10.2l1 10l1 9.9l0.9 9.9l1 9.7l1 9.5l0.9 9.4l1 9.3l1 9.1l0.9 9l1 8.7l1 8.6l0.9 8.3l1 8.2l1 8l0.9 7.7l1 7.5l1 7.3l0.9 7.1l1 6.8l1 6.6l0.9 6.3l1 6.1l1 5.9l0.9 5.6l1 5.4l0.9 5.1l1 4.9l1 4.6l0.9 4.5l1 4.2l1 3.9l0.9 3.8l1 3.5l1 3.4l0.9 3.1l1 2.9l1 2.8l0.9 2.6l1 2.4l1 2.3l0.9 2.1l1 2l1 1.8l0.9 1.7l1 1.6l1 1.5l0.9 1.4l1 1.3l1 1.2l0.9 1.1l1 1.1l1 1l0.9 0.9l1 0.9l1 0.9l0.9 0.8l1 0.8l1 0.7l0.9 0.7l1 0.7l1 0.7l0.9 0.7l1 0.6l1 0.6l0.9 0.6l1 0.6l1 0.6l0.9 0.6l1 0.5l1 0.6l0.9 0.6l1 0.5l1 0.6l0.9 0.5l1 0.5l1 0.6l0.9 0.5l1 0.5l1 0.5l0.9 0.5l1 0.6l0.9 0.5l1 0.5l1 0.5l0.9 0.5l1 0.5l1 0.4l0.9 0.5l1 0.5l1 0.5l0.9 0.5l1 0.4l1 0.5l0.9 0.5l1 0.4l1 0.5l0.9 0.4l1 0.5l1 0.4l0.9 0.5l1 0.4l1 0.4l0.9 0.5l1 0.4l1 0.4l0.9 0.4l1 0.4l1 0.5l0.9 0.4l1 0.4l1 0.4l0.9 0.4l1 0.4l1 0.3l0.9 0.4l1 0.4l1 0.4l0.9 0.4l1 0.3l1 0.4l0.9 0.4l1 0.3l1 0.4l0.9 0.3l1 0.4l1 0.3l0.9 0.3l1 0.4l1 0.3l0.9 0.3l1 0.4l1 0.3l0.9 0.3l1 0.3l1 0.3l0.9 0.3l1 0.3l0.9 0.3l1 0.3l1 0.3l0.9 0.3l1 0.2l1 0.3l0.9 0.3l1 0.2l1 0.3l0.9 0.3l1 0.2l1 0.3l0.9 0.2l1 0.2l1 0.3l0.9 0.2l1 0.2l1 0.2l0.9 0.2l1 0.3l1 0.2l0.9 0.2l1 0.2l1 0.1l0.9 0.2l1 0.2l1 0.2l0.9 0.1l1 0.2l1 0.1l0.9 0.2l1 0.1l1 0.2l0.9 0.1l1 0.1l1 0.1l0.9 0.2l1 0.1l1 0.1l0.9 0.1l1 0.1l1 0.1l0.9 0.1l1 0.1l1 0l0.9 0.1l1 0.1l1 0.1l0.9 0.1l1 0l1 0.1l0.9 0.1l1 0l0.9 0.1l1 0l1 0.1l0.9 0.1l1 0l1 0.1l0.9 0l1 0.1l1 0l0.9 0.1l1 0.1l1 0l0.9 0.1l1 0l1 0.1l0.9 0l1 0.1l1 0l0.9 0.1l1 0.1l1 0l0.9 0.1l1 0.1l1 0l0.9 0.1l1 0.1l1 0l0.9 0.1l1 0.1l1 0.1l0.9 0.1l1 0l1 0.1l0.9 0.1l1 0.1l1 0.1l0.9 0.1l1 0.1l1 0.1l0.9 0.1l1 0.1l1 0.1l0.9 0.1l1 0.1l1 0.1l0.9 0l1 0.1l1 0.1l0.9 0.1l1 0.1l1 0.1l0.9 0.1l1 0l1 0.1l0.9 0.1l1 0.1l0.9 0.1l1 0l1 0.1l0.9 0.1l1 0.1l1 0l0.9 0.1l1 0.1l1 0.1l0.9 0l1 0.1l1 0.1l0.9 0l1 0.1l1 0.1l0.9 0.1l1 0l1 0.1l0.9 0.1l1 0l1 0.1l0.9 0l1 0.1l1 0.1l0.9 0l1 0.1l1 0l0.9 0.1l1 0.1l1 0l0.9 0.1l1 0l1 0.1l0.9 0l1 0.1l1 0l0.9 0.1l1 0l1 0.1l0.9 0l1 0.1l1 0l0.9 0.1l1 0l1 0.1l0.9 0l1 0.1l1 0l0.9 0l1 0.1l1 0l0.9 0.1l1 0l1 0l0.9 0.1l1 0l0.9 0l1 0.1l1 0l0.9 0.1l1 0l1 0l0.9 0.1l1 0l1 0l0.9 0l1 0.1l1 0l0.9 0l1 0.1l1 0l0.9 0l1 0l1 0.1l0.9 0l1 0l1 0l0.9 0.1l1 0l1 0l0.9 0l1 0.1l1 0l0.9 0l1 0l1 0l0.9 0.1l1 0l1 0l0.9 0l1 0l1 0.1l0.9 0l1 0l1 0l0.9 0l1 0l1 0.1l0.9 0l1 0l1 0l0.9 0l1 0l1 0l0.9 0l1 0.1l1 0l0.9 0l1 0l1 0l0.9 0l1 0l0.9 0l1 0l1 0l0.9 0.1l1 0l1 0l0.9 0l1 0l1 0l0.9 0l1 0l1 0l0.9 0l1 0l1 0l0.9 0l1 0l1 0l0.9 0l1 0l1 0.1l0.9 0l1 0l1 0l0.9 0l1 0l1 0l0.9 0l1 0l1 0l0.9 0l1 0l1 0l0.9 0l1 0l1 0l0.9 0l1 0l1 0l0.9 0l1 0l1 0l0.9 0l1 0l1 0l0.9 0l1 0l1 0l0.9 0l1 0l1 0l0.9 -0.1l1 0l0.9 0l1 0l1 0l0.9 0l1 0l1 0l0.9 0l1 0l1 0l0.9 0l1 0l1 0l0.9 0l1 0l1 0l0.9 0l1 0l1 0l0.9 0l1 0l1 0l0.9 0l1 -0.1l1 0l0.9 0l1 0l1 0l0.9 0l1 0l1 0l0.9 0l1 0l1 0l0.9 0l1 0l1 0l0.9 0l1 0l1 -0.1l0.9 0l1 0l1 0l0.9 0l1 0l1 0l0.9 0l1 0l1 0l0.9 -0.1l1 0l1 0l0.9 0l1 0l1 0l0.9 0l1 -0.1l0.9 0l1 0l1 0l0.9 0l1 0l1 0l0.9 -0.1l1 0l1 0l0.9 0l1 0l1 0l0.9 -0.1l1 0l1 0l0.9 0l1 0l1 -0.1l0.9 0l1 0l1 0l0.9 0l1 -0.1l1 0l0.9 0l1 0l1 0l0.9 -0.1l1 0l1 0l0.9 0l1 0l1 -0.1l0.9 0l1 0l1 0l0.9 -0.1l1 0l1 0l0.9 0l1 0l1 -0.1l0.9 0l1 0l1 0l0.9 -0.1l1 0l1 0l0.9 0l1 0l1 -0.1l0.9 0l1 0l1 0l0.9 -0.1l1 0l0.9 0l1 0l1 0l0.9 -0.1l1 0l1 0l0.9 0l1 -0.1l1 0l0.9 0l1 0l1 0l0.9 -0.1l1 0l1 0l0.9 0l1 -0.1l1 0l0.9 0l1 0l1 0l0.9 -0.1l1 0l1 0l0.9 0l1 0l1 -0.1l0.9 0l1 0l1 0l0.9 0l1 -0.1l1 0l0.9 0l1 0l1 0l0.9 -0.1l1 0l1 0l0.9 0l1 0l1 -0.1l0.9 0l1 0l1 0l0.9 0l1 0l1 -0.1l0.9 0l1 0l1 0l0.9 0l1 0l0.9 0l1 -0.1l1 0l0.9 0l1 0l1 0l0.9 0l1 0l1 0l0.9 -0.1l1 0l1 0l0.9 0l1 0l1 0l0.9 0l1 0l1 0l0.9 0l1 0l1 -0.1l0.9 0l1 0l1 0l0.9 0l1 0l1 0l0.9 0l1 0l1 0l0.9 0l1 0l1 0l0.9 0l1 0l1 0l0.9 0l1 0l1 0l0.9 0l1 0l1 0l0.9 0l1 0l1 0l0.9 0l1 0l1 0l0.9 0l1 0.1l1 0l0.9 0l1 0l1 0l0.9 0l1 0l0.9 0l1 0l1 0l0.9 0.1l1 0l1 0l0.9 0l1 0l1 0l0.9 0.1l1 0l1 0l0.9 0l1 0l1 0l0.9 0.1l1 0l1 0l0.9 0l1 0.1l1 0l0.9 0l1 0l1 0l0.9 0.1l1 0l1 0l0.9 0l1 0.1l1 0l0.9 0l1 0.1l1 0l0.9 0l1 0l1 0.1l0.9 0l1 0l1 0.1l0.9 0l1 0l1 0.1l0.9 0l1 0l1 0.1l0.9 0l1 0l1 0.1l0.9 0l1 0l1 0.1l0.9 0l1 0.1l1 0l0.9 0l1 0.1l0.9 0l1 0.1l1 0l0.9 0l1 0.1l1 0l0.9 0.1l1 0l1 0.1l0.9 0l1 0l1 0.1l0.9 0l1 0.1l1 0l0.9 0.1l1 0l1 0.1l0.9 0l1 0.1l1 0l0.9 0l1 0.1l1 0l0.9 0.1l1 0l1 0.1l0.9 0l1 0.1l1 0l0.9 0.1l1 0.1l1 0l0.9 0.1l1 0l1 0.1l0.9 0l1 0.1l1 0l0.9 0.1l1 0l1 0.1l0.9 0l1 0.1l1 0.1l0.9 0l1 0.1l1 0l0.9 0.1l1 0l1 0.1l0.9 0.1l1 0l1 0.1l0.9 0l1 0.1l0.9 0.1l1 0l1 0.1l0.9 0l1 0.1l1 0.1l0.9 0l1 0.1l1 0l0.9 0.1l1 0.1l1 0l0.9 0.1l1 0.1l1 0l0.9 0.1l1 0l1 0.1l0.9 0.1l1 0l1 0.1l0.9 0.1l1 0l1 0.1l0.9 0.1"/>
<path stroke="#FF8000" d="M356.4 149l1 -2.6l0.9 -2.6l1 -2.3l1 -2.1l0.9 -1.6l1 -1.1l1 -0.4l0.9 0l1 0.2l1 0.2l0.9 0.2l1 0.3l1 0.3l0.9 0.4l1 0.4l1 0.4l0.9 0.4l1 0.3l1 0.4l0.9 0.3l1 0.5l1 0.4l0.9 0.5l1 0.6l1 0.5l0.9 0.4l1 0.5l1 0.3l0.9 0.3l1 0.2l1 0.1l0.9 0l1 0l1 0l0.9 0l1 -0.1l1 0l0.9 0l1 0l1 0l0.9 0l1 0l0.9 -0.1l1 0l1 0l0.9 0l1 0l1 -0.1l0.9 0l1 0l1 -0.1l0.9 0l1 0l1 0l0.9 -0.1l1 0l1 0l0.9 -0.1l1 0l1 0l0.9 -0.1l1 0l1 0l0.9 -0.1l1 0l1 0l0.9 -0.1l1 0l1 0l0.9 0l1 -0.1l1 0l0.9 0l1 -0.1l1 0l0.9 0l1 0l1 -0.1l0.9 0l1 0l1 0l0.9 0l1 -0.1l1 0l0.9 0l1 0l1 -0.1l0.9 0l1 0l1 0l0.9 -0.1l1 0l1 0l0.9 0l1 0l1 -0.1l0.9 0l1 0l0.9 0l1 -0.1l1 0l0.9 0l1 0l1 -0.1l0.9 0l1 0l1 0l0.9 -0.1l1 0l1 0l0.9 0l1 -0.1l1 0l0.9 0l1 0l1 -0.1l0.9 0l1 0l1 0l0.9 -0.1l1 0l1 0l0.9 0l1 -0.1l1 0l0.9 0l1 0l1 -0.1l0.9 0l1 0l1 0l0.9 -0.1l1 0l1 0l0.9 0l1 -0.1l1 0l0.9 0l1 0l1 -0.1l0.9 0l1 0l1 0l0.9 0l1 -0.1l1 0l0.9 0l1 0l1 -0.1l0.9 0l1 0l1 0l0.9 0l1 -0.1l0.9 0l1 0l1 0l0.9 0l1 -0.1l1 0l0.9 0l1 0l1 0l0.9 0l1 -0.1l1 0l0.9 0l1 0l1 0l0.9 0l1 -0.1l1 0l0.9 0l1 0l1 0l0.9 0l1 0l1 0l0.9 -0.1l1 0l1 0l0.9 0l1 0l1 0l0.9 0l1 0l1 0l0.9 0l1 0l1 0l0.9 -0.1l1 0l1 0l0.9 0l1 0l1 0l0.9 0l1 0l1 0l0.9 0l1 0l1 0l0.9 0l1 0l1 0l0.9 0l1 0l0.9 0l1 0l1 0l0.9 0l1 0l1 0l0.9 0l1 0l1 0l0.9 0l1 0l1 0l0.9 0l1 0l1 0l0.9 0l1 0l1 0l0.9 0l1 0l1 0l0.9 0l1 0l1 0l0.9 0l1 0l1 0l0.9 0l1 0l1 0l0.9 0l1 0l1 0l0.9 0l1 0l1 0l0.9 0l1 0l1 0l0.9 0l1 0l1 0l0.9 0l1 0l1 0l0.9 0l1 0l1 0l0.9 0l1 0l1 0l0.9 0l1 0l1 0l0.9 0l1 0l0.9 0l1 0l1 0l0.9 0l1 0l1 0l0.9 0l1 0l1 0l0.9 0l1 0l1 0l0.9 0l1 0l1 0l0.9 0l1 0l1 0l0.9 0l1 0l1 0l0.9 0l1 0l1 0l0.9 0l1 0l1 0l0.9 0l1 0l1 0l0.9 0l1 0l1 0l0.9 0l1 0l1 0l0.9 0l1 0l1 0l0.9 0l1 0l1 0l0.9 0l1 0l1 0l0.9 0l1 0l1 0l0.9 0l1 0l1 0l0.9 0l1 0l1 0l0.9 0l1 0l0.9 0l1 0l1 0l0.9 0l1 0l1 0l0.9 0l1 0l1 0l0.9 0l1 0l1 0l0.9 0l1 0l1 0l0.9 0l1 0l1 0l0.9 0l1 0l1 0l0.9 0l1 0l1 0l0.9 0l1 0l1 0l0.9 0l1 0l1 0l0.9 0l1 0l1 0l0.9 0l1 0l1 0l0.9 0l1 0l1 0l0.9 0l1 0l1 0l0.9 0l1 0l1 0l0.9 0.1l1 0l1 0l0.9 0l1 0l1 0l0.9 0l1 0l0.9 0l1 0l1 0l0.9 0.1l1 0l1 0l0.9 0l1 0l1 0l0.9 0l1 0.1l1 0l0.9 0l1 0l1 0l0.9 0l1 0.1l1 0l0.9 0l1 0l1 0l0.9 0.1l1 0l1 0l0.9 0l1 0l1 0.1l0.9 0l1 0l1 0l0.9 0.1l1 0l1 0l0.9 0l1 0l1 0.1l0.9 0l1 0l1 0l0.9 0.1l1 0l1 0l0.9 0.1l1 0l1 0l0.9 0l1 0.1l1 0l0.9 0l1 0l1 0.1l0.9 0l1 0l1 0.1l0.9 0l1 0l0.9 0l1 0.1l1 0l0.9 0l1 0.1l1 0l0.9 0l1 0.1l1 0l0.9 0l1 0.1l1 0l0.9 0l1 0l1 0.1l0.9 0l1 0l1 0.1l0.9 0l1 0l1 0.1l0.9 0l1 0l1 0.1l0.9 0l1 0l1 0.1l0.9 0l1 0.1l1 0l0.9 0l1 0.1l1 0l0.9 0l1 0.1l1 0l0.9 0l1 0.1l1 0l0.9 0l1 0.1l1 0l0.9 0.1l1 0l1 0l0.9 0.1l1 0l1 0.1l0.9 0l1 0l1 0.1l0.9 0l1 0.1l1 0l0.9 0l1 0.1l0.9 0l1 0.1l1 0l0.9 0.1l1 0l1 0l0.9 0.1l1 0l1 0.1l0.9 0l1 0.1l1 0l0.9 0.1l1 0l1 0.1l0.9 0l1 0.1l1 0l0.9 0.1l1 0l1 0.1l0.9 0l1 0.1l1 0.1l0.9 0l1 0.1l1 0l0.9 0.1l1 0l1 0.1l0.9 0.1l1 0l1 0.1l0.9 0.1l1 0l1 0.1l0.9 0.1l1 0l1 0.1l0.9 0.1l1 0.1l1 0l0.9 0.1l1 0.1l1 0.1l0.9 0.1l1 0l1 0.1l0.9 0.1l1 0.1l1 0.1l0.9 0.1l1 0.1l1 0.1l0.9 0.1l1 0.1l0.9 0.1l1 0.1l1 0.1l0.9 0.1l1 0.1l1 0.1l0.9 0.1l1 0.1l1 0.1l0.9 0.2l1 0.1l1 0.1l0.9 0.1l1 0.2l1 0.1l0.9 0.1l1 0.1l1 0.2l0.9 0.1l1 0.2l1 0.1l0.9 0.1l1 0.2l1 0.1l0.9 0.2l1 0.1l1 0.2l0.9 0.1l1 0.2l1 0.2l0.9 0.1l1 0.2l1 0.2l0.9 0.1l1 0.2l1 0.2l0.9 0.2l1 0.1l1 0.2l0.9 0.2l1 0.2l1 0.2l0.9 0.2l1 0.2l1 0.2l0.9 0.2l1 0.2l1 0.2l0.9 0.2l1 0.2l1 0.2l0.9 0.3l1 0.2l0.9 0.2l1 0.2l1 0.3l0.9 0.2l1 0.3l1 0.2l0.9 0.3l1 0.2l1 0.3l0.9 0.2l1 0.3l1 0.2l0.9 0.3l1 0.3l1 0.3l0.9 0.2l1 0.3l1 0.3l0.9 0.3l1 0.3l1 0.3l0.9 0.3l1 0.3l1 0.3l0.9 0.4l1 0.3l1 0.3l0.9 0.3l1 0.4l1 0.3l0.9 0.4l1 0.4l1 0.3l0.9 0.4l1 0.4l1 0.4l0.9 0.4l1 0.4l1 0.4l0.9 0.4l1 0.4l1 0.4l0.9 0.5l1 0.4l1 0.5l0.9 0.4l1 0.5l1 0.5l0.9 0.5l1 0.5l1 0.5l0.9 0.6l1 0.5l1 0.6l0.9 0.5l1 0.6l0.9 0.6l1 0.6l1 0.6l0.9 0.7l1 0.6l1 0.7l0.9 0.7l1 0.7l1 0.7l0.9 0.7l1 0.8l1 0.7l0.9 0.8l1 0.8l1 0.9l0.9 0.8l1 0.9l1 0.9l0.9 0.9l1 0.9l1 1l0.9 1l1 1l1 1.1l0.9 1l1 1.2l1 1.1l0.9 1.2l1 1.2l1 1.2l0.9 1.3l1 1.3l1 1.3l0.9 1.4l1 1.4l1 1.4l0.9 1.5l1 1.6l1 1.5l0.9 1.7l1 1.6l1 1.7l0.9 1.8l1 1.8l1 1.9l0.9 1.9l1 2l1 2l0.9 2.1l1 2.1l1 2.3l0.9 2.2l1 2.4l1 2.4l0.9 2.5l1 2.5l0.9 2.6l1 2.7l1 2.8l0.9 2.8l1 3l1 3l0.9 3.1l1 3.2l1 3.2l0.9 3.4l1 3.5l1 3.5l0.9 3.7l1 3.8l1 3.8l0.9 4l1 4.1l1 4.2l0.9 4.3l1 4.4l1 4.6l0.9 4.7l1 4.8l1 4.9l0.9 5l1 5.2l1 5.4l0.9 5.4l1 5.6l1 5.8l0.9 5.9l1 6l1 6.2l0.9 6.4l1 6.5l1 6.7l0.9 6.8l1 7l1 7.2l0.9 7.3l1 7.6l1 7.6l0.9 7.9l1 8l1 8.3l0.9 8.4l1 8.5l1 8.8l0.9 8.9l1 9.1l1 9.3l0.9 9.5l1 9.6l0.9 9.9l1 10l1 10.1l0.9 10.4l1 10.5l1 10.6l0.9 10.8l1 11l1 11.1l0.9 11.2l1 11.4l1 11.5l0.9 11.6l1 11.6l1 11.8l0.9 11.9l1 11.9l1 12l0.9 12.1l1 12l1 12.1l0.9 12.1l1 12.1l1 12l0.9 12l1 12l1 11.9l0.9 11.8l1 11.7l1 11.6l0.9 11.4l1 11.3l1 11.1l0.9 11l1 10.7l1 10.6l0.9 10.3l1 10l1 9.9l0.9 9.5l1 9.3l1 9l0.9 8.7l1 8.4l1 8.1l0.9 7.8l1 7.4l1 7.2l0.9 6.8l1 6.5l1 6.2l0.9 5.8l1 5.6l1 5.2l0.9 4.9l1 4.6l0.9 4.3l1 4.1l1 3.8l0.9 3.5l1 3.2l1 3.1l0.9 2.8l1 2.6l1 2.4l0.9 2.2l1 2l1 1.9l0.9 1.7l1 1.6l1 1.5l0.9 1.3l1 1.3l1 1.2l0.9 1l1 1.1l1 0.9l0.9 0.9l1 0.9l1 0.8l0.9 0.7l1 0.8l1 0.6l0.9 0.7l1 0.6l1 0.6l0.9 0.6l1 0.6l1 0.5l0.9 0.5l1 0.5l1 0.5l0.9 0.5l1 0.5l1 0.4l0.9 0.5l1 0.4l1 0.4l0.9 0.5l1 0.4l1 0.4l0.9 0.4l1 0.3l1 0.4l0.9 0.4l1 0.3l1 0.4l0.9 0.4l1 0.3l1 0.3l0.9 0.4l1 0.3l0.9 0.4l1 0.3l1 0.3l0.9 0.4l1 0.3l1 0.3l0.9 0.3l1 0.4l1 0.3l0.9 0.3l1 0.4l1 0.3l0.9 0.3l1 0.3l1 0.4l0.9 0.3l1 0.3l1 0.3l0.9 0.3l1 0.3l1 0.3l0.9 0.3l1 0.3l1 0.3l0.9 0.3l1 0.2l1 0.3l0.9 0.3l1 0.3l1 0.2l0.9 0.3l1 0.3l1 0.2l0.9 0.3l1 0.2l1 0.3l0.9 0.2l1 0.3l1 0.2l0.9 0.2l1 0.3l1 0.2l0.9 0.2l1 0.2l1 0.3l0.9 0.2l1 0.2l1 0.2l0.9 0.2l1 0.2l1 0.2l0.9 0.2l1 0.2l1 0.2l0.9 0.2l1 0.2l0.9 0.2l1 0.2l1 0.2l0.9 0.2l1 0.2l1 0.1l0.9 0.2l1 0.2l1 0.1l0.9 0.2l1 0.2l1 0.1l0.9 0.2l1 0.2l1 0.1l0.9 0.2l1 0.1l1 0.2l0.9 0.1l1 0.2l1 0.1l0.9 0.1l1 0.2l1 0.1l0.9 0.2l1 0.1l1 0.1l0.9 0.2l1 0.1l1 0.1l0.9 0.1l1 0.2l1 0.1l0.9 0.1l1 0.1l1 0.2l0.9 0.1l1 0.1l1 0.1l0.9 0.1l1 0.2l1 0.1l0.9 0.1l1 0.1l1 0.1l0.9 0.1l1 0.1l1 0.1l0.9 0.1l1 0.1l1 0.1l0.9 0.1l1 0.1l0.9 0.1l1 0.1l1 0.1l0.9 0.1l1 0.1l1 0.1l0.9 0.1l1 0.1l1 0.1l0.9 0.1l1 0.1l1 0.1l0.9 0l1 0.1l1 0.1l0.9 0.1l1 0.1l1 0l0.9 0.1l1 0.1l1 0.1l0.9 0l1 0.1l1 0.1l0.9 0l1 0.1l1 0.1l0.9 0l1 0.1l1 0l0.9 0.1l1 0.1l1 0l0.9 0.1l1 0l1 0.1l0.9 0l1 0.1l1 0l0.9 0.1l1 0l1 0l0.9 0.1l1 0l1 0.1l0.9 0l1 0.1l1 0l0.9 0l1 0.1l1 0l0.9 0.1l1 0l1 0l0.9 0.1l1 0l0.9 0.1l1 0l1 0l0.9 0.1l1 0l1 0l0.9 0.1l1 0l1 0l0.9 0.1l1 0l1 0l0.9 0l1 0.1l1 0l0.9 0l1 0.1l1 0l0.9 0l1 0l1 0.1l0.9 0l1 0l1 0l0.9 0.1l1 0l1 0l0.9 0l1 0.1l1 0l0.9 0l1 0l1 0.1l0.9 0l1 0l1 0l0.9 0l1 0.1l1 0l0.9 0l1 0l1 0l0.9 0.1l1 0l1 0l0.9 0l1 0l1 0.1l0.9 0l1 0l1 0l0.9 0l1 0l1 0.1l0.9 0l1 0l0.9 0l1 0l1 0l0.9 0.1l1 0l1 0l0.9 0l1 0l1 0l0.9 0l1 0.1l1 0l0.9 0l1 0l1 0l0.9 0l1 0l1 0l0.9 0.1l1 0l1 0l0.9 0l1 0l1 0l0.9 0l1 0l1 0.1l0.9 0l1 0l1 0l0.9 0l1 0l1 0l0.9 0l1 0l1 0.1l0.9 0l1 0l1 0l0.9 0l1 0l1 0l0.9 0l1 0l1 0l0.9 0l1 0.1l1 0l0.9 0l1 0l1 0l0.9 0l1 0l1 0l0.9 0l1 0l0.9 0l1 0l1 0.1l0.9 0l1 0l1 0l0.9 0l1 0l1 0l0.9 0l1 0l1 0l0.9 0l1 0l1 0l0.9 0l1 0l1 0.1l0.9 0l1 0l1 0l0.9 0l1 0l1 0l0.9 0l1 0l1 0l0.9 0l1 0l1 0l0.9 0l1 0l1 0l0.9 0l1 0l1 0l0.9 0.1l1 0l1 0l0.9 0l1 0l1 0l0.9 0l1 0l1 0l0.9 0l1 0l1 0l0.9 0l1 0l1 0l0.9 0l1 0l0.9 0l1 0l1 0l0.9 0l1 0l1 0l0.9 0l1 0l1 0l0.9 0.1l1 0l1 0l0.9 0l1 0l1 0l0.9 0l1 0l1 0l0.9 0l1 0l1 0l0.9 0l1 0l1 0l0.9 0l1 0l1 0l0.9 0l1 0l1 0l0.9 0l1 0l1 0l0.9 0l1 0l1 0l0.9 0l1 0l1 0l0.9 0l1 0l1 0l0.9 0l1 0l1 0l0.9 0l1 -0.1l1 0l0.9 0l1 0l1 0l0.9 0l1 0l1 0l0.9 0l1 -0.1l0.9 0l1 0l1 0l0.9 0l1 0l1 -0.1l0.9 0l1 0l1 0l0.9 0l1 0l1 -0.1l0.9 0l1 0l1 0l0.9 0l1 -0.1l1 0l0.9 0l1 0l1 0l0.9 -0.1l1 0l1 0l0.9 0l1 -0.1l1 0l0.9 0l1 0l1 -0.1l0.9 0l1 0l1 0l0.9 -0.1l1 0l1 0l0.9 0l1 -0.1l1 0l0.9 0l1 0l1 -0.1l0.9 0l1 0l1 0l0.9 -0.1l1 0l1 0l0.9 0l1 -0.1l1 0l0.9 0l1 -0.1l1 0l0.9 0l1 0l0.9 -0.1l1 0l1 0l0.9 0l1 -0.1l1 0l0.9 0l1 0l1 -0.1l0.9 0l1 0l1 -0.1l0.9 0l1 0l1 -0.1l0.9 0l1 -0.1l1 0l0.9 0l1 -0.1l1 0l0.9 -0.1l1 0l1 -0.1l0.9 0l1 -0.1l1 0l0.9 0l1 -0.1l1 0l0.9 -0.1l1 -0.1l1 0l0.9 -0.1l1 0l1 -0.1l0.9 0l1 -0.1l1 0l0.9 -0.1l1 0l1 -0.1l0.9 0l1 -0.1l1 0l0.9 -0.1l1 -0.1l1 0l0.9 -0.1l1 0l1 -0.1l0.9 0l1 -0.1l0.9 0l1 -0.1l1 0l0.9 -0.1l1 0l1 -0.1l0.9 0l1 -0.1l1 0l0.9 -0.1l1 0l1 0l0.9 -0.1l1 0l1 -0.1l0.9 0l1 0l1 -0.1l0.9 0l1 0l1 -0.1l0.9 0l1 0l1 -0.1l0.9 0l1 0l1 0l0.9 -0.1l1 0l1 0l0.9 0l1 0l1 -0.1l0.9 0l1 0l1 0l0.9 0l1 0l1 0l0.9 0l1 0l1 0l0.9 0.1l1 0l1 0l0.9 0.1l1 0l1 0.1l0.9 0.1l1 0l1 0.1l0.9 0.1l1 0.1l1 0.1l0.9 0.1l1 0.1l0.9 0.1l1 0.1l1 0.1l0.9 0.1l1 0.1l1 0.1l0.9 0.1l1 0.2l1 0.1l0.9 0.1l1 0.1l1 0.1l0.9 0.2l1 0.1l1 0.1l0.9 0.1l1 0.2l1 0.1l0.9 0.1l1 0.1l1 0.1l0.9 0.1l1 0.1l1 0.1l0.9 0.1l1 0.1l1 0.1l0.9 0.1l1 0.1l1 0.1l0.9 0l1 0.1l1 0.1l0.9 0l1 0.1l1 0.1l0.9 0l1 0.1l1 0.1l0.9 0l1 0.1l1 0l0.9 0.1l1 0.1l1 0l0.9 0.1l1 0.1l1 0l0.9 0.1l1 0l1 0.1l0.9 0.1l1 0l1 0.1l0.9 0l1 0.1l0.9 0.1l1 0l1 0.1l0.9 0l1 0.1l1 0.1l0.9 0l1 0.1l1 0l0.9 0.1l1 0l1 0.1l0.9 0.1l1 0l1 0.1l0.9 0l1 0.1l1 0l0.9 0.1l1 0l1 0.1l0.9 0l1 0.1l1 0l0.9 0.1l1 0l1 0.1l0.9 0l1 0.1l1 0l0.9 0.1l1 0l1 0.1l0.9 0l1 0.1l1 0l0.9 0.1l1 0l1 0.1l0.9 0l1 0.1l1 0l0.9 0l1 0.1l1 0l0.9 0.1l1 0l1 0l0.9 0.1l1 0l1 0.1l0.9 0l1 0l1 0.1l0.9 0l1 0l0.9 0.1l1 0l1 0l0.9 0.1l1 0l1 0l0.9 0.1l1 0l1 0l0.9 0.1l1 0l1 0l0.9 0l1 0.1l1 0l0.9 0l1 0l1 0.1l0.9 0l1 0l1 0l0.9 0l1 0.1l1 0l0.9 0"/>
</g>
<g font-size="82">
<text x="290.5" y="1331.1" text-anchor="end">0</text>
<text x="290.5" y="1100.6" text-anchor="end">20</text>
<text x="290.5" y="870.1" text-anchor="end">40</text>
<text x="290.5" y="639.5" text-anchor="end">60</text>
<text x="290.5" y="409" text-anchor="end">80</text>
<text x="290.5" y="178.5" text-anchor="end">100</text>
<text x="316.8" y="1399" text-anchor="middle">0</text>
<text x="703.2" y="1399" text-anchor="middle">200</text>
<text x="1089.7" y="1399" text-anchor="middle">400</text>
<text x="1476.1" y="1399" text-anchor="middle">600</text>
<text x="1862.5" y="1399" text-anchor="middle">800</text>
</g>
<text x="1090.5" y="1542" font-size="81" text-anchor="middle">Temperature (°C)</text>
<text transform="translate(115 696.8) rotate(-90)" font-size="82" text-anchor="middle">Remaining weight (%)</text>
<text x="1674" y="176" font-size="102">(a)</text>
<g stroke-width="10">
<line x1="430" y1="665" x2="561" y2="665" stroke="#FF0000"/>
<line x1="430" y1="763.3" x2="561" y2="763.3" stroke="#008000"/>
<line x1="430" y1="861.6" x2="561" y2="861.6" stroke="#0000FF"/>
<line x1="430" y1="960" x2="561" y2="960" stroke="#FF00FF"/>
<line x1="430" y1="1059" x2="561" y2="1059" stroke="#00FF00"/>
<line x1="430" y1="1158" x2="561" y2="1158" stroke="#FF8000"/>
</g><g font-size="80">
<text x="580" y="684.3">PDEBEG-50</text>
<text x="580" y="782.6">PDEBEG-40</text>
<text x="580" y="880.9">PDEBEG-30</text>
<text x="580" y="979.3">PDEBEG-20</text>
<text x="580" y="1078.3">PDEBEG-10</text>
<text x="580" y="1177.3">PDEBEG-0</text>
</g>
</g>
<g id="inset">
<rect x="1265.5" y="264.7" width="553.3" height="454.3" fill="none" stroke="#000" stroke-width="5"/>
<g stroke="#000" stroke-width="4.5">
<line x1="1268" y1="654.3" x2="1276.5" y2="654.3"/>
<line x1="1268" y1="561.9" x2="1276.5" y2="561.9"/>
<line x1="1268" y1="469.5" x2="1276.5" y2="469.5"/>
<line x1="1268" y1="377.1" x2="1276.5" y2="377.1"/>
<line x1="1268" y1="284.7" x2="1276.5" y2="284.7"/>
<line x1="1268" y1="700.5" x2="1272" y2="700.5"/>
<line x1="1268" y1="608.1" x2="1272" y2="608.1"/>
<line x1="1268" y1="515.7" x2="1272" y2="515.7"/>
<line x1="1268" y1="423.3" x2="1272" y2="423.3"/>
<line x1="1268" y1="330.9" x2="1272" y2="330.9"/>
<line x1="1375" y1="716.5" x2="1375" y2="708.3"/>
<line x1="1512.4" y1="716.5" x2="1512.4" y2="708.3"/>
<line x1="1649.8" y1="716.5" x2="1649.8" y2="708.3"/>
<line x1="1787.2" y1="716.5" x2="1787.2" y2="708.3"/>
<line x1="1306.3" y1="716.5" x2="1306.3" y2="711.6"/>
<line x1="1443.7" y1="716.5" x2="1443.7" y2="711.6"/>
<line x1="1581.1" y1="716.5" x2="1581.1" y2="711.6"/>
<line x1="1718.5" y1="716.5" x2="1718.5" y2="711.6"/>
</g>
<g clip-path="url(#ci)" fill="none" stroke-width="4.5" stroke-linejoin="round">
<path stroke="#FF0000" d="M1254.8 284.8l0.8 0l0.9 0l0.9 0l0.8 0.1l0.9 0l0.8 0l0.9 0l0.8 0.1l0.9 0l0.9 0l0.8 0l0.9 0.1l0.8 0l0.9 0l0.9 0.1l0.8 0l0.9 0l0.8 0l0.9 0.1l0.9 0l0.8 0l0.9 0.1l0.8 0l0.9 0l0.8 0.1l0.9 0l0.9 0l0.8 0.1l0.9 0l0.8 0l0.9 0.1l0.9 0l0.8 0l0.9 0.1l0.8 0l0.9 0l0.8 0.1l0.9 0l0.9 0.1l0.8 0l0.9 0l0.8 0.1l0.9 0l0.9 0l0.8 0.1l0.9 0l0.8 0.1l0.9 0l0.9 0l0.8 0.1l0.9 0l0.8 0.1l0.9 0l0.8 0l0.9 0.1l0.9 0l0.8 0.1l0.9 0l0.8 0.1l0.9 0l0.9 0.1l0.8 0l0.9 0l0.8 0.1l0.9 0l0.9 0.1l0.8 0l0.9 0.1l0.8 0l0.9 0.1l0.8 0l0.9 0.1l0.9 0l0.8 0.1l0.9 0l0.8 0.1l0.9 0l0.9 0.1l0.8 0l0.9 0.1l0.8 0l0.9 0.1l0.9 0l0.8 0.1l0.9 0.1l0.8 0l0.9 0.1l0.8 0l0.9 0.1l0.9 0l0.8 0.1l0.9 0l0.8 0.1l0.9 0.1l0.9 0l0.8 0.1l0.9 0l0.8 0.1l0.9 0.1l0.8 0l0.9 0.1l0.9 0l0.8 0.1l0.9 0.1l0.8 0l0.9 0.1l0.9 0.1l0.8 0l0.9 0.1l0.8 0.1l0.9 0l0.9 0.1l0.8 0.1l0.9 0l0.8 0.1l0.9 0.1l0.8 0.1l0.9 0l0.9 0.1l0.8 0.1l0.9 0l0.8 0.1l0.9 0.1l0.9 0.1l0.8 0l0.9 0.1l0.8 0.1l0.9 0.1l0.9 0l0.8 0.1l0.9 0.1l0.8 0.1l0.9 0.1l0.8 0.1l0.9 0l0.9 0.1l0.8 0.1l0.9 0.1l0.8 0.1l0.9 0.1l0.9 0l0.8 0.1l0.9 0.1l0.8 0.1l0.9 0.1l0.9 0.1l0.8 0.1l0.9 0.1l0.8 0.1l0.9 0.1l0.8 0.1l0.9 0.1l0.9 0.1l0.8 0.1l0.9 0.1l0.8 0.1l0.9 0.1l0.9 0.1l0.8 0.1l0.9 0.1l0.8 0.1l0.9 0.1l0.9 0.1l0.8 0.1l0.9 0.1l0.8 0.1l0.9 0.1l0.8 0.1l0.9 0.1l0.9 0.2l0.8 0.1l0.9 0.1l0.8 0.1l0.9 0.1l0.9 0.2l0.8 0.1l0.9 0.1l0.8 0.1l0.9 0.2l0.9 0.1l0.8 0.1l0.9 0.1l0.8 0.2l0.9 0.1l0.8 0.2l0.9 0.1l0.9 0.1l0.8 0.2l0.9 0.1l0.8 0.2l0.9 0.1l0.9 0.2l0.8 0.1l0.9 0.2l0.8 0.1l0.9 0.2l0.8 0.1l0.9 0.2l0.9 0.1l0.8 0.2l0.9 0.2l0.8 0.1l0.9 0.2l0.9 0.2l0.8 0.2l0.9 0.1l0.8 0.2l0.9 0.2l0.9 0.2l0.8 0.2l0.9 0.2l0.8 0.2l0.9 0.1l0.8 0.2l0.9 0.2l0.9 0.2l0.8 0.3l0.9 0.2l0.8 0.2l0.9 0.2l0.9 0.2l0.8 0.2l0.9 0.3l0.8 0.2l0.9 0.2l0.9 0.2l0.8 0.3l0.9 0.2l0.8 0.3l0.9 0.2l0.8 0.3l0.9 0.2l0.9 0.3l0.8 0.3l0.9 0.2l0.8 0.3l0.9 0.3l0.9 0.2l0.8 0.3l0.9 0.3l0.8 0.3l0.9 0.3l0.9 0.3l0.8 0.3l0.9 0.3l0.8 0.3l0.9 0.4l0.8 0.3l0.9 0.3l0.9 0.4l0.8 0.3l0.9 0.4l0.8 0.3l0.9 0.4l0.9 0.3l0.8 0.4l0.9 0.4l0.8 0.4l0.9 0.3l0.8 0.4l0.9 0.4l0.9 0.4l0.8 0.5l0.9 0.4l0.8 0.4l0.9 0.4l0.9 0.5l0.8 0.4l0.9 0.5l0.8 0.5l0.9 0.4l0.9 0.5l0.8 0.5l0.9 0.5l0.8 0.5l0.9 0.5l0.8 0.5l0.9 0.5l0.9 0.6l0.8 0.5l0.9 0.6l0.8 0.5l0.9 0.6l0.9 0.6l0.8 0.6l0.9 0.6l0.8 0.6l0.9 0.6l0.9 0.6l0.8 0.7l0.9 0.6l0.8 0.7l0.9 0.7l0.8 0.6l0.9 0.7l0.9 0.7l0.8 0.7l0.9 0.8l0.8 0.7l0.9 0.8l0.9 0.7l0.8 0.8l0.9 0.8l0.8 0.8l0.9 0.8l0.9 0.8l0.8 0.9l0.9 0.8l0.8 0.9l0.9 0.9l0.8 0.8l0.9 0.9l0.9 1l0.8 0.9l0.9 1l0.8 0.9l0.9 1l0.9 1l0.8 1l0.9 1l0.8 1.1l0.9 1l0.9 1.1l0.8 1.1l0.9 1.1l0.8 1.1l0.9 1.1l0.8 1.2l0.9 1.1l0.9 1.2l0.8 1.2l0.9 1.3l0.8 1.2l0.9 1.3l0.9 1.2l0.8 1.3l0.9 1.3l0.8 1.4l0.9 1.3l0.9 1.4l0.8 1.3l0.9 1.4l0.8 1.5l0.9 1.4l0.8 1.5l0.9 1.4l0.9 1.5l0.8 1.5l0.9 1.6l0.8 1.5l0.9 1.6l0.9 1.6l0.8 1.6l0.9 1.6l0.8 1.7l0.9 1.7l0.8 1.6l0.9 1.7l0.9 1.8l0.8 1.7l0.9 1.8l0.8 1.8l0.9 1.8l0.9 1.8l0.8 1.8l0.9 1.9l0.8 1.9l0.9 1.9l0.9 1.9l0.8 1.9l0.9 2l0.8 1.9l0.9 2l0.8 2l0.9 2.1l0.9 2l0.8 2.1l0.9 2l0.8 2.1l0.9 2.1l0.9 2.1l0.8 2.2l0.9 2.1l0.8 2.2l0.9 2.1l0.9 2.2l0.8 2.2l0.9 2.2l0.8 2.3l0.9 2.2l0.8 2.3l0.9 2.2l0.9 2.3l0.8 2.3l0.9 2.2l0.8 2.3l0.9 2.3l0.9 2.3l0.8 2.3l0.9 2.4l0.8 2.3l0.9 2.3l0.9 2.3l0.8 2.4l0.9 2.3l0.8 2.3l0.9 2.4l0.8 2.3l0.9 2.3l0.9 2.3l0.8 2.4l0.9 2.3l0.8 2.3l0.9 2.3l0.9 2.3l0.8 2.3l0.9 2.3l0.8 2.3l0.9 2.2l0.8 2.3l0.9 2.2l0.9 2.3l0.8 2.2l0.9 2.2l0.8 2.2l0.9 2.2l0.9 2.1l0.8 2.1l0.9 2.2l0.8 2.1l0.9 2.1l0.9 2l0.8 2l0.9 2.1l0.8 2l0.9 1.9l0.8 2l0.9 1.9l0.9 1.9l0.8 1.9l0.9 1.8l0.8 1.8l0.9 1.8l0.9 1.8l0.8 1.7l0.9 1.7l0.8 1.7l0.9 1.6l0.9 1.6l0.8 1.6l0.9 1.6l0.8 1.5l0.9 1.5l0.8 1.5l0.9 1.4l0.9 1.4l0.8 1.3l0.9 1.4l0.8 1.3l0.9 1.3l0.9 1.2l0.8 1.2l0.9 1.2l0.8 1.1l0.9 1.2l0.9 1.1l0.8 1l0.9 1l0.8 1l0.9 1l0.8 1l0.9 0.9l0.9 0.9l0.8 0.8l0.9 0.9l0.8 0.8l0.9 0.8l0.9 0.7l0.8 0.7l0.9 0.8l0.8 0.6l0.9 0.7l0.9 0.6l0.8 0.7l0.9 0.5l0.8 0.6l0.9 0.6l0.8 0.5l0.9 0.5l0.9 0.5l0.8 0.5l0.9 0.5l0.8 0.4l0.9 0.4l0.9 0.5l0.8 0.4l0.9 0.4l0.8 0.3l0.9 0.4l0.9 0.3l0.8 0.4l0.9 0.3l0.8 0.3l0.9 0.3l0.8 0.3l0.9 0.3l0.9 0.3l0.8 0.2l0.9 0.3l0.8 0.2l0.9 0.3l0.9 0.2l0.8 0.2l0.9 0.2l0.8 0.3l0.9 0.2l0.8 0.2l0.9 0.2l0.9 0.2l0.8 0.2l0.9 0.1l0.8 0.2l0.9 0.2l0.9 0.2l0.8 0.1l0.9 0.2l0.8 0.2l0.9 0.1l0.9 0.2l0.8 0.1l0.9 0.2l0.8 0.2l0.9 0.1l0.8 0.1l0.9 0.2l0.9 0.1l0.8 0.2l0.9 0.1l0.8 0.2l0.9 0.1l0.9 0.1l0.8 0.2l0.9 0.1l0.8 0.1l0.9 0.2l0.9 0.1l0.8 0.1l0.9 0.2l0.8 0.1l0.9 0.1l0.8 0.1l0.9 0.2l0.9 0.1l0.8 0.1l0.9 0.1l0.8 0.2l0.9 0.1l0.9 0.1l0.8 0.1l0.9 0.2l0.8 0.1l0.9 0.1l0.9 0.1l0.8 0.1l0.9 0.1l0.8 0.2l0.9 0.1l0.8 0.1l0.9 0.1l0.9 0.1l0.8 0.1l0.9 0.2l0.8 0.1l0.9 0.1l0.9 0.1l0.8 0.1l0.9 0.1l0.8 0.1l0.9 0.1l0.8 0.2l0.9 0.1l0.9 0.1l0.8 0.1l0.9 0.1l0.8 0.1l0.9 0.1l0.9 0.1l0.8 0.1l0.9 0.1l0.8 0.1l0.9 0.1l0.9 0.1l0.8 0.1l0.9 0.2l0.8 0.1l0.9 0.1l0.8 0.1l0.9 0.1l0.9 0.1l0.8 0.1l0.9 0.1l0.8 0.1l0.9 0.1l0.9 0.1l0.8 0.1l0.9 0.1l0.8 0.1l0.9 0.1l0.9 0.1l0.8 0.1l0.9 0.1l0.8 0.1l0.9 0.1l0.8 0l0.9 0.1l0.9 0.1l0.8 0.1l0.9 0.1l0.8 0.1l0.9 0.1l0.9 0.1l0.8 0.1l0.9 0.1l0.8 0.1l0.9 0.1l0.9 0.1l0.8 0.1l0.9 0.1l0.8 0l0.9 0.1l0.8 0.1l0.9 0.1l0.9 0.1l0.8 0.1l0.9 0.1l0.8 0.1l0.9 0.1l0.9 0.1l0.8 0l0.9 0.1l0.8 0.1l0.9 0.1l0.9 0.1l0.8 0.1l0.9 0.1l0.8 0.1l0.9 0l0.8 0.1l0.9 0.1l0.9 0.1l0.8 0.1l0.9 0.1l0.8 0.1l0.9 0l0.9 0.1l0.8 0.1l0.9 0.1l0.8 0.1l0.9 0.1l0.9 0l0.8 0.1l0.9 0.1l0.8 0.1l0.9 0.1l0.8 0.1l0.9 0l0.9 0.1"/>
<path stroke="#008000" d="M1254.8 285.2l0.8 0l0.9 0.1l0.9 0l0.8 0l0.9 0l0.8 0l0.9 0.1l0.8 0l0.9 0l0.9 0l0.8 0l0.9 0l0.8 0.1l0.9 0l0.9 0l0.8 0l0.9 0.1l0.8 0l0.9 0l0.9 0l0.8 0l0.9 0.1l0.8 0l0.9 0l0.8 0l0.9 0.1l0.9 0l0.8 0l0.9 0l0.8 0.1l0.9 0l0.9 0l0.8 0l0.9 0.1l0.8 0l0.9 0l0.8 0l0.9 0.1l0.9 0l0.8 0l0.9 0l0.8 0.1l0.9 0l0.9 0l0.8 0.1l0.9 0l0.8 0l0.9 0l0.9 0.1l0.8 0l0.9 0l0.8 0.1l0.9 0l0.8 0l0.9 0.1l0.9 0l0.8 0l0.9 0.1l0.8 0l0.9 0l0.9 0.1l0.8 0l0.9 0l0.8 0.1l0.9 0l0.9 0l0.8 0.1l0.9 0l0.8 0l0.9 0.1l0.8 0l0.9 0l0.9 0.1l0.8 0l0.9 0.1l0.8 0l0.9 0l0.9 0.1l0.8 0l0.9 0.1l0.8 0l0.9 0l0.9 0.1l0.8 0l0.9 0.1l0.8 0l0.9 0.1l0.8 0l0.9 0l0.9 0.1l0.8 0l0.9 0.1l0.8 0l0.9 0.1l0.9 0l0.8 0.1l0.9 0l0.8 0.1l0.9 0l0.8 0.1l0.9 0l0.9 0.1l0.8 0l0.9 0.1l0.8 0l0.9 0.1l0.9 0l0.8 0.1l0.9 0l0.8 0.1l0.9 0l0.9 0.1l0.8 0l0.9 0.1l0.8 0l0.9 0.1l0.8 0.1l0.9 0l0.9 0.1l0.8 0l0.9 0.1l0.8 0l0.9 0.1l0.9 0.1l0.8 0l0.9 0.1l0.8 0.1l0.9 0l0.9 0.1l0.8 0l0.9 0.1l0.8 0.1l0.9 0l0.8 0.1l0.9 0.1l0.9 0l0.8 0.1l0.9 0.1l0.8 0l0.9 0.1l0.9 0.1l0.8 0.1l0.9 0l0.8 0.1l0.9 0.1l0.9 0.1l0.8 0l0.9 0.1l0.8 0.1l0.9 0.1l0.8 0l0.9 0.1l0.9 0.1l0.8 0.1l0.9 0.1l0.8 0l0.9 0.1l0.9 0.1l0.8 0.1l0.9 0.1l0.8 0.1l0.9 0.1l0.9 0l0.8 0.1l0.9 0.1l0.8 0.1l0.9 0.1l0.8 0.1l0.9 0.1l0.9 0.1l0.8 0.1l0.9 0.1l0.8 0.1l0.9 0.1l0.9 0.1l0.8 0.1l0.9 0.1l0.8 0.1l0.9 0.1l0.9 0.1l0.8 0.1l0.9 0.1l0.8 0.1l0.9 0.1l0.8 0.1l0.9 0.2l0.9 0.1l0.8 0.1l0.9 0.1l0.8 0.1l0.9 0.1l0.9 0.2l0.8 0.1l0.9 0.1l0.8 0.1l0.9 0.2l0.8 0.1l0.9 0.1l0.9 0.1l0.8 0.2l0.9 0.1l0.8 0.1l0.9 0.2l0.9 0.1l0.8 0.2l0.9 0.1l0.8 0.2l0.9 0.1l0.9 0.2l0.8 0.1l0.9 0.2l0.8 0.1l0.9 0.2l0.8 0.1l0.9 0.2l0.9 0.2l0.8 0.1l0.9 0.2l0.8 0.2l0.9 0.1l0.9 0.2l0.8 0.2l0.9 0.2l0.8 0.1l0.9 0.2l0.9 0.2l0.8 0.2l0.9 0.2l0.8 0.2l0.9 0.2l0.8 0.2l0.9 0.2l0.9 0.2l0.8 0.2l0.9 0.2l0.8 0.2l0.9 0.2l0.9 0.2l0.8 0.3l0.9 0.2l0.8 0.2l0.9 0.2l0.9 0.3l0.8 0.2l0.9 0.3l0.8 0.2l0.9 0.3l0.8 0.2l0.9 0.3l0.9 0.2l0.8 0.3l0.9 0.3l0.8 0.2l0.9 0.3l0.9 0.3l0.8 0.3l0.9 0.2l0.8 0.3l0.9 0.3l0.8 0.3l0.9 0.3l0.9 0.3l0.8 0.4l0.9 0.3l0.8 0.3l0.9 0.3l0.9 0.4l0.8 0.3l0.9 0.3l0.8 0.4l0.9 0.3l0.9 0.4l0.8 0.4l0.9 0.3l0.8 0.4l0.9 0.4l0.8 0.4l0.9 0.4l0.9 0.3l0.8 0.4l0.9 0.5l0.8 0.4l0.9 0.4l0.9 0.4l0.8 0.4l0.9 0.5l0.8 0.4l0.9 0.5l0.9 0.4l0.8 0.5l0.9 0.5l0.8 0.5l0.9 0.5l0.8 0.4l0.9 0.5l0.9 0.6l0.8 0.5l0.9 0.5l0.8 0.5l0.9 0.6l0.9 0.5l0.8 0.6l0.9 0.5l0.8 0.6l0.9 0.6l0.9 0.6l0.8 0.6l0.9 0.6l0.8 0.6l0.9 0.6l0.8 0.7l0.9 0.6l0.9 0.7l0.8 0.6l0.9 0.7l0.8 0.7l0.9 0.7l0.9 0.7l0.8 0.7l0.9 0.7l0.8 0.7l0.9 0.8l0.9 0.7l0.8 0.8l0.9 0.8l0.8 0.8l0.9 0.8l0.8 0.8l0.9 0.8l0.9 0.8l0.8 0.9l0.9 0.8l0.8 0.9l0.9 0.9l0.9 0.9l0.8 0.9l0.9 0.9l0.8 0.9l0.9 1l0.9 0.9l0.8 1l0.9 1l0.8 1l0.9 1l0.8 1l0.9 1l0.9 1.1l0.8 1l0.9 1.1l0.8 1.1l0.9 1.1l0.9 1.1l0.8 1.2l0.9 1.1l0.8 1.2l0.9 1.1l0.8 1.2l0.9 1.2l0.9 1.3l0.8 1.2l0.9 1.2l0.8 1.3l0.9 1.3l0.9 1.3l0.8 1.3l0.9 1.3l0.8 1.4l0.9 1.3l0.9 1.4l0.8 1.4l0.9 1.4l0.8 1.4l0.9 1.4l0.8 1.5l0.9 1.5l0.9 1.4l0.8 1.5l0.9 1.6l0.8 1.5l0.9 1.5l0.9 1.6l0.8 1.6l0.9 1.6l0.8 1.6l0.9 1.6l0.9 1.6l0.8 1.7l0.9 1.7l0.8 1.7l0.9 1.7l0.8 1.7l0.9 1.7l0.9 1.8l0.8 1.7l0.9 1.8l0.8 1.8l0.9 1.8l0.9 1.8l0.8 1.8l0.9 1.9l0.8 1.9l0.9 1.8l0.9 1.9l0.8 1.9l0.9 1.9l0.8 2l0.9 1.9l0.8 2l0.9 1.9l0.9 2l0.8 2l0.9 2l0.8 2l0.9 2l0.9 2l0.8 2.1l0.9 2l0.8 2.1l0.9 2l0.8 2.1l0.9 2.1l0.9 2.1l0.8 2.1l0.9 2.1l0.8 2.1l0.9 2.1l0.9 2.1l0.8 2.2l0.9 2.1l0.8 2.1l0.9 2.2l0.9 2.1l0.8 2.2l0.9 2.1l0.8 2.2l0.9 2.1l0.8 2.2l0.9 2.1l0.9 2.2l0.8 2.1l0.9 2.2l0.8 2.1l0.9 2.2l0.9 2.1l0.8 2.1l0.9 2.2l0.8 2.1l0.9 2.1l0.9 2.1l0.8 2.2l0.9 2.1l0.8 2.1l0.9 2l0.8 2.1l0.9 2.1l0.9 2l0.8 2.1l0.9 2l0.8 2.1l0.9 2l0.9 2l0.8 2l0.9 1.9l0.8 2l0.9 1.9l0.9 1.9l0.8 2l0.9 1.9l0.8 1.8l0.9 1.9l0.8 1.8l0.9 1.9l0.9 1.8l0.8 1.7l0.9 1.8l0.8 1.7l0.9 1.8l0.9 1.7l0.8 1.6l0.9 1.7l0.8 1.6l0.9 1.7l0.9 1.5l0.8 1.6l0.9 1.6l0.8 1.5l0.9 1.5l0.8 1.4l0.9 1.5l0.9 1.4l0.8 1.4l0.9 1.4l0.8 1.3l0.9 1.4l0.9 1.3l0.8 1.3l0.9 1.2l0.8 1.2l0.9 1.2l0.9 1.2l0.8 1.2l0.9 1.1l0.8 1.1l0.9 1.1l0.8 1l0.9 1.1l0.9 1l0.8 1l0.9 1l0.8 0.9l0.9 0.9l0.9 0.9l0.8 0.9l0.9 0.8l0.8 0.9l0.9 0.8l0.8 0.8l0.9 0.8l0.9 0.7l0.8 0.7l0.9 0.8l0.8 0.7l0.9 0.6l0.9 0.7l0.8 0.6l0.9 0.7l0.8 0.6l0.9 0.6l0.9 0.5l0.8 0.6l0.9 0.5l0.8 0.6l0.9 0.5l0.8 0.5l0.9 0.5l0.9 0.5l0.8 0.4l0.9 0.5l0.8 0.4l0.9 0.4l0.9 0.5l0.8 0.4l0.9 0.4l0.8 0.3l0.9 0.4l0.9 0.4l0.8 0.3l0.9 0.4l0.8 0.3l0.9 0.4l0.8 0.3l0.9 0.3l0.9 0.3l0.8 0.3l0.9 0.3l0.8 0.3l0.9 0.3l0.9 0.2l0.8 0.3l0.9 0.3l0.8 0.2l0.9 0.3l0.9 0.2l0.8 0.3l0.9 0.2l0.8 0.3l0.9 0.2l0.8 0.2l0.9 0.2l0.9 0.3l0.8 0.2l0.9 0.2l0.8 0.2l0.9 0.2l0.9 0.2l0.8 0.2l0.9 0.2l0.8 0.2l0.9 0.2l0.8 0.2l0.9 0.2l0.9 0.2l0.8 0.1l0.9 0.2l0.8 0.2l0.9 0.2l0.9 0.2l0.8 0.1l0.9 0.2l0.8 0.2l0.9 0.1l0.9 0.2l0.8 0.2l0.9 0.1l0.8 0.2l0.9 0.2l0.8 0.1l0.9 0.2l0.9 0.1l0.8 0.2l0.9 0.1l0.8 0.2l0.9 0.1l0.9 0.2l0.8 0.1l0.9 0.2l0.8 0.1l0.9 0.2l0.9 0.1l0.8 0.2l0.9 0.1l0.8 0.2l0.9 0.1l0.8 0.1l0.9 0.2l0.9 0.1l0.8 0.1l0.9 0.2l0.8 0.1l0.9 0.1l0.9 0.2l0.8 0.1l0.9 0.1l0.8 0.2l0.9 0.1l0.9 0.1l0.8 0.1l0.9 0.2l0.8 0.1l0.9 0.1l0.8 0.1l0.9 0.2l0.9 0.1l0.8 0.1l0.9 0.1l0.8 0.1l0.9 0.1l0.9 0.2l0.8 0.1l0.9 0.1l0.8 0.1l0.9 0.1l0.9 0.1l0.8 0.1l0.9 0.1l0.8 0.1l0.9 0.2l0.8 0.1l0.9 0.1l0.9 0.1l0.8 0.1l0.9 0.1l0.8 0.1l0.9 0.1l0.9 0.1l0.8 0.1l0.9 0.1l0.8 0.1l0.9 0.1l0.9 0.1l0.8 0.1l0.9 0l0.8 0.1l0.9 0.1l0.8 0.1l0.9 0.1l0.9 0.1"/>
<path stroke="#0000FF" d="M1254.8 278.7l0.8 0l0.9 0.1l0.9 0l0.8 0l0.9 0l0.8 0l0.9 0.1l0.8 0l0.9 0l0.9 0l0.8 0l0.9 0.1l0.8 0l0.9 0l0.9 0l0.8 0l0.9 0.1l0.8 0l0.9 0l0.9 0l0.8 0l0.9 0.1l0.8 0l0.9 0l0.8 0l0.9 0.1l0.9 0l0.8 0l0.9 0l0.8 0.1l0.9 0l0.9 0l0.8 0l0.9 0.1l0.8 0l0.9 0l0.8 0l0.9 0.1l0.9 0l0.8 0l0.9 0l0.8 0.1l0.9 0l0.9 0l0.8 0l0.9 0.1l0.8 0l0.9 0l0.9 0.1l0.8 0l0.9 0l0.8 0l0.9 0.1l0.8 0l0.9 0l0.9 0.1l0.8 0l0.9 0l0.8 0.1l0.9 0l0.9 0l0.8 0.1l0.9 0l0.8 0l0.9 0.1l0.9 0l0.8 0l0.9 0.1l0.8 0l0.9 0l0.8 0.1l0.9 0l0.9 0l0.8 0.1l0.9 0l0.8 0l0.9 0.1l0.9 0l0.8 0l0.9 0.1l0.8 0l0.9 0.1l0.9 0l0.8 0l0.9 0.1l0.8 0l0.9 0.1l0.8 0l0.9 0l0.9 0.1l0.8 0l0.9 0.1l0.8 0l0.9 0l0.9 0.1l0.8 0l0.9 0.1l0.8 0l0.9 0.1l0.8 0l0.9 0l0.9 0.1l0.8 0l0.9 0.1l0.8 0l0.9 0.1l0.9 0l0.8 0.1l0.9 0l0.8 0.1l0.9 0l0.9 0.1l0.8 0l0.9 0.1l0.8 0l0.9 0.1l0.8 0l0.9 0.1l0.9 0l0.8 0.1l0.9 0l0.8 0.1l0.9 0l0.9 0.1l0.8 0l0.9 0.1l0.8 0l0.9 0.1l0.9 0.1l0.8 0l0.9 0.1l0.8 0l0.9 0.1l0.8 0l0.9 0.1l0.9 0.1l0.8 0l0.9 0.1l0.8 0l0.9 0.1l0.9 0.1l0.8 0l0.9 0.1l0.8 0.1l0.9 0l0.9 0.1l0.8 0.1l0.9 0l0.8 0.1l0.9 0.1l0.8 0l0.9 0.1l0.9 0.1l0.8 0.1l0.9 0l0.8 0.1l0.9 0.1l0.9 0.1l0.8 0l0.9 0.1l0.8 0.1l0.9 0.1l0.9 0l0.8 0.1l0.9 0.1l0.8 0.1l0.9 0.1l0.8 0.1l0.9 0l0.9 0.1l0.8 0.1l0.9 0.1l0.8 0.1l0.9 0.1l0.9 0.1l0.8 0.1l0.9 0l0.8 0.1l0.9 0.1l0.9 0.1l0.8 0.1l0.9 0.1l0.8 0.1l0.9 0.1l0.8 0.1l0.9 0.1l0.9 0.1l0.8 0.1l0.9 0.1l0.8 0.2l0.9 0.1l0.9 0.1l0.8 0.1l0.9 0.1l0.8 0.1l0.9 0.1l0.8 0.1l0.9 0.2l0.9 0.1l0.8 0.1l0.9 0.1l0.8 0.2l0.9 0.1l0.9 0.1l0.8 0.1l0.9 0.2l0.8 0.1l0.9 0.1l0.9 0.2l0.8 0.1l0.9 0.1l0.8 0.2l0.9 0.1l0.8 0.2l0.9 0.1l0.9 0.2l0.8 0.1l0.9 0.2l0.8 0.1l0.9 0.2l0.9 0.1l0.8 0.2l0.9 0.2l0.8 0.1l0.9 0.2l0.9 0.2l0.8 0.1l0.9 0.2l0.8 0.2l0.9 0.1l0.8 0.2l0.9 0.2l0.9 0.2l0.8 0.2l0.9 0.2l0.8 0.2l0.9 0.2l0.9 0.1l0.8 0.2l0.9 0.2l0.8 0.2l0.9 0.3l0.9 0.2l0.8 0.2l0.9 0.2l0.8 0.2l0.9 0.2l0.8 0.3l0.9 0.2l0.9 0.2l0.8 0.2l0.9 0.3l0.8 0.2l0.9 0.3l0.9 0.2l0.8 0.2l0.9 0.3l0.8 0.3l0.9 0.2l0.8 0.3l0.9 0.2l0.9 0.3l0.8 0.3l0.9 0.3l0.8 0.2l0.9 0.3l0.9 0.3l0.8 0.3l0.9 0.3l0.8 0.3l0.9 0.3l0.9 0.3l0.8 0.3l0.9 0.3l0.8 0.4l0.9 0.3l0.8 0.3l0.9 0.3l0.9 0.4l0.8 0.3l0.9 0.4l0.8 0.3l0.9 0.4l0.9 0.3l0.8 0.4l0.9 0.4l0.8 0.3l0.9 0.4l0.9 0.4l0.8 0.4l0.9 0.4l0.8 0.4l0.9 0.4l0.8 0.4l0.9 0.4l0.9 0.5l0.8 0.4l0.9 0.4l0.8 0.5l0.9 0.4l0.9 0.5l0.8 0.4l0.9 0.5l0.8 0.5l0.9 0.4l0.9 0.5l0.8 0.5l0.9 0.5l0.8 0.5l0.9 0.5l0.8 0.5l0.9 0.6l0.9 0.5l0.8 0.5l0.9 0.6l0.8 0.5l0.9 0.6l0.9 0.6l0.8 0.5l0.9 0.6l0.8 0.6l0.9 0.6l0.9 0.6l0.8 0.6l0.9 0.6l0.8 0.7l0.9 0.6l0.8 0.7l0.9 0.6l0.9 0.7l0.8 0.7l0.9 0.6l0.8 0.7l0.9 0.7l0.9 0.7l0.8 0.7l0.9 0.8l0.8 0.7l0.9 0.7l0.9 0.8l0.8 0.8l0.9 0.7l0.8 0.8l0.9 0.8l0.8 0.8l0.9 0.8l0.9 0.8l0.8 0.9l0.9 0.8l0.8 0.9l0.9 0.8l0.9 0.9l0.8 0.9l0.9 0.9l0.8 0.9l0.9 0.9l0.8 1l0.9 0.9l0.9 0.9l0.8 1l0.9 1l0.8 1l0.9 1l0.9 1l0.8 1l0.9 1l0.8 1.1l0.9 1l0.9 1.1l0.8 1.1l0.9 1.1l0.8 1.1l0.9 1.1l0.8 1.1l0.9 1.2l0.9 1.1l0.8 1.2l0.9 1.2l0.8 1.2l0.9 1.2l0.9 1.2l0.8 1.3l0.9 1.2l0.8 1.3l0.9 1.3l0.9 1.2l0.8 1.4l0.9 1.3l0.8 1.3l0.9 1.3l0.8 1.4l0.9 1.4l0.9 1.4l0.8 1.4l0.9 1.4l0.8 1.4l0.9 1.4l0.9 1.5l0.8 1.5l0.9 1.4l0.8 1.5l0.9 1.5l0.9 1.6l0.8 1.5l0.9 1.6l0.8 1.5l0.9 1.6l0.8 1.6l0.9 1.6l0.9 1.6l0.8 1.7l0.9 1.6l0.8 1.7l0.9 1.7l0.9 1.6l0.8 1.7l0.9 1.8l0.8 1.7l0.9 1.7l0.8 1.8l0.9 1.8l0.9 1.7l0.8 1.8l0.9 1.8l0.8 1.9l0.9 1.8l0.9 1.8l0.8 1.9l0.9 1.9l0.8 1.8l0.9 1.9l0.9 1.9l0.8 2l0.9 1.9l0.8 1.9l0.9 2l0.8 1.9l0.9 2l0.9 2l0.8 2l0.9 2l0.8 2l0.9 2l0.9 2l0.8 2.1l0.9 2l0.8 2l0.9 2.1l0.9 2.1l0.8 2l0.9 2.1l0.8 2.1l0.9 2.1l0.8 2.1l0.9 2.1l0.9 2.1l0.8 2.1l0.9 2.1l0.8 2.1l0.9 2.1l0.9 2.2l0.8 2.1l0.9 2.1l0.8 2.1l0.9 2.2l0.9 2.1l0.8 2.1l0.9 2.1l0.8 2.2l0.9 2.1l0.8 2.1l0.9 2.1l0.9 2.1l0.8 2.1l0.9 2.1l0.8 2.1l0.9 2.1l0.9 2.1l0.8 2.1l0.9 2.1l0.8 2l0.9 2.1l0.9 2l0.8 2.1l0.9 2l0.8 2l0.9 2l0.8 2l0.9 2l0.9 1.9l0.8 2l0.9 1.9l0.8 1.9l0.9 1.9l0.9 1.9l0.8 1.9l0.9 1.8l0.8 1.9l0.9 1.8l0.9 1.8l0.8 1.8l0.9 1.7l0.8 1.8l0.9 1.7l0.8 1.7l0.9 1.6l0.9 1.7l0.8 1.6l0.9 1.6l0.8 1.6l0.9 1.6l0.9 1.5l0.8 1.5l0.9 1.5l0.8 1.5l0.9 1.4l0.8 1.4l0.9 1.4l0.9 1.4l0.8 1.3l0.9 1.3l0.8 1.3l0.9 1.3l0.9 1.2l0.8 1.2l0.9 1.2l0.8 1.2l0.9 1.1l0.9 1.1l0.8 1.1l0.9 1l0.8 1.1l0.9 1l0.8 1l0.9 0.9l0.9 0.9l0.8 1l0.9 0.8l0.8 0.9l0.9 0.8l0.9 0.8l0.8 0.8l0.9 0.8l0.8 0.7l0.9 0.7l0.9 0.7l0.8 0.7l0.9 0.7l0.8 0.6l0.9 0.6l0.8 0.6l0.9 0.6l0.9 0.6l0.8 0.5l0.9 0.5l0.8 0.5l0.9 0.5l0.9 0.5l0.8 0.4l0.9 0.5l0.8 0.4l0.9 0.4l0.9 0.4l0.8 0.4l0.9 0.3l0.8 0.4l0.9 0.3l0.8 0.4l0.9 0.3l0.9 0.3l0.8 0.3l0.9 0.3l0.8 0.3l0.9 0.3l0.9 0.2l0.8 0.3l0.9 0.2l0.8 0.3l0.9 0.2l0.8 0.2l0.9 0.2l0.9 0.2l0.8 0.2l0.9 0.2l0.8 0.2l0.9 0.2l0.9 0.2l0.8 0.2l0.9 0.2l0.8 0.1l0.9 0.2l0.9 0.2l0.8 0.1l0.9 0.2l0.8 0.2l0.9 0.1l0.8 0.2l0.9 0.1l0.9 0.1l0.8 0.2l0.9 0.1l0.8 0.2l0.9 0.1l0.9 0.1l0.8 0.2l0.9 0.1l0.8 0.1l0.9 0.2l0.9 0.1l0.8 0.1l0.9 0.1l0.8 0.2l0.9 0.1l0.8 0.1l0.9 0.1l0.9 0.2l0.8 0.1l0.9 0.1l0.8 0.1l0.9 0.1l0.9 0.1l0.8 0.2l0.9 0.1l0.8 0.1l0.9 0.1l0.9 0.1l0.8 0.1l0.9 0.1l0.8 0.1l0.9 0.1l0.8 0.1l0.9 0.2l0.9 0.1l0.8 0.1l0.9 0.1l0.8 0.1l0.9 0.1l0.9 0.1l0.8 0.1l0.9 0.1l0.8 0.1l0.9 0.1l0.9 0l0.8 0.1l0.9 0.1l0.8 0.1l0.9 0.1l0.8 0.1l0.9 0.1l0.9 0.1l0.8 0.1l0.9 0.1l0.8 0.1l0.9 0l0.9 0.1l0.8 0.1l0.9 0.1l0.8 0.1l0.9 0.1l0.9 0.1l0.8 0l0.9 0.1l0.8 0.1l0.9 0.1l0.8 0.1l0.9 0.1l0.9 0"/>
<path stroke="#FF00FF" d="M1254.8 283.2l0.8 0l0.9 0l0.9 0l0.8 0l0.9 0l0.8 0l0.9 0.1l0.8 0l0.9 0l0.9 0l0.8 0l0.9 0l0.8 0.1l0.9 0l0.9 0l0.8 0l0.9 0l0.8 0l0.9 0.1l0.9 0l0.8 0l0.9 0l0.8 0l0.9 0.1l0.8 0l0.9 0l0.9 0l0.8 0l0.9 0l0.8 0.1l0.9 0l0.9 0l0.8 0l0.9 0l0.8 0.1l0.9 0l0.8 0l0.9 0l0.9 0.1l0.8 0l0.9 0l0.8 0l0.9 0l0.9 0.1l0.8 0l0.9 0l0.8 0l0.9 0.1l0.9 0l0.8 0l0.9 0l0.8 0.1l0.9 0l0.8 0l0.9 0l0.9 0.1l0.8 0l0.9 0l0.8 0.1l0.9 0l0.9 0l0.8 0l0.9 0.1l0.8 0l0.9 0l0.9 0.1l0.8 0l0.9 0l0.8 0l0.9 0.1l0.8 0l0.9 0l0.9 0.1l0.8 0l0.9 0l0.8 0.1l0.9 0l0.9 0l0.8 0.1l0.9 0l0.8 0l0.9 0.1l0.9 0l0.8 0l0.9 0.1l0.8 0l0.9 0.1l0.8 0l0.9 0l0.9 0.1l0.8 0l0.9 0l0.8 0.1l0.9 0l0.9 0.1l0.8 0l0.9 0l0.8 0.1l0.9 0l0.8 0.1l0.9 0l0.9 0.1l0.8 0l0.9 0l0.8 0.1l0.9 0l0.9 0.1l0.8 0l0.9 0.1l0.8 0l0.9 0.1l0.9 0l0.8 0.1l0.9 0l0.8 0.1l0.9 0l0.8 0.1l0.9 0l0.9 0.1l0.8 0l0.9 0.1l0.8 0l0.9 0.1l0.9 0l0.8 0.1l0.9 0l0.8 0.1l0.9 0l0.9 0.1l0.8 0l0.9 0.1l0.8 0.1l0.9 0l0.8 0.1l0.9 0l0.9 0.1l0.8 0.1l0.9 0l0.8 0.1l0.9 0l0.9 0.1l0.8 0.1l0.9 0l0.8 0.1l0.9 0.1l0.9 0l0.8 0.1l0.9 0.1l0.8 0l0.9 0.1l0.8 0.1l0.9 0l0.9 0.1l0.8 0.1l0.9 0.1l0.8 0l0.9 0.1l0.9 0.1l0.8 0.1l0.9 0l0.8 0.1l0.9 0.1l0.9 0.1l0.8 0l0.9 0.1l0.8 0.1l0.9 0.1l0.8 0.1l0.9 0l0.9 0.1l0.8 0.1l0.9 0.1l0.8 0.1l0.9 0.1l0.9 0.1l0.8 0l0.9 0.1l0.8 0.1l0.9 0.1l0.9 0.1l0.8 0.1l0.9 0.1l0.8 0.1l0.9 0.1l0.8 0.1l0.9 0.1l0.9 0.1l0.8 0.1l0.9 0.1l0.8 0.1l0.9 0.1l0.9 0.1l0.8 0.1l0.9 0.1l0.8 0.1l0.9 0.1l0.8 0.2l0.9 0.1l0.9 0.1l0.8 0.1l0.9 0.1l0.8 0.1l0.9 0.1l0.9 0.2l0.8 0.1l0.9 0.1l0.8 0.1l0.9 0.2l0.9 0.1l0.8 0.1l0.9 0.2l0.8 0.1l0.9 0.1l0.8 0.2l0.9 0.1l0.9 0.1l0.8 0.2l0.9 0.1l0.8 0.2l0.9 0.1l0.9 0.1l0.8 0.2l0.9 0.1l0.8 0.2l0.9 0.1l0.9 0.2l0.8 0.2l0.9 0.1l0.8 0.2l0.9 0.1l0.8 0.2l0.9 0.2l0.9 0.1l0.8 0.2l0.9 0.2l0.8 0.2l0.9 0.1l0.9 0.2l0.8 0.2l0.9 0.2l0.8 0.2l0.9 0.2l0.9 0.2l0.8 0.1l0.9 0.2l0.8 0.2l0.9 0.2l0.8 0.2l0.9 0.3l0.9 0.2l0.8 0.2l0.9 0.2l0.8 0.2l0.9 0.2l0.9 0.2l0.8 0.3l0.9 0.2l0.8 0.2l0.9 0.3l0.8 0.2l0.9 0.2l0.9 0.3l0.8 0.2l0.9 0.3l0.8 0.2l0.9 0.3l0.9 0.2l0.8 0.3l0.9 0.3l0.8 0.2l0.9 0.3l0.9 0.3l0.8 0.3l0.9 0.2l0.8 0.3l0.9 0.3l0.8 0.3l0.9 0.3l0.9 0.3l0.8 0.3l0.9 0.3l0.8 0.3l0.9 0.3l0.9 0.4l0.8 0.3l0.9 0.3l0.8 0.3l0.9 0.4l0.9 0.3l0.8 0.4l0.9 0.3l0.8 0.4l0.9 0.3l0.8 0.4l0.9 0.4l0.9 0.3l0.8 0.4l0.9 0.4l0.8 0.4l0.9 0.4l0.9 0.4l0.8 0.4l0.9 0.4l0.8 0.4l0.9 0.4l0.9 0.5l0.8 0.4l0.9 0.4l0.8 0.5l0.9 0.4l0.8 0.5l0.9 0.4l0.9 0.5l0.8 0.5l0.9 0.4l0.8 0.5l0.9 0.5l0.9 0.5l0.8 0.5l0.9 0.5l0.8 0.5l0.9 0.6l0.9 0.5l0.8 0.5l0.9 0.6l0.8 0.5l0.9 0.6l0.8 0.5l0.9 0.6l0.9 0.6l0.8 0.6l0.9 0.6l0.8 0.6l0.9 0.6l0.9 0.6l0.8 0.6l0.9 0.6l0.8 0.7l0.9 0.6l0.9 0.7l0.8 0.7l0.9 0.6l0.8 0.7l0.9 0.7l0.8 0.7l0.9 0.7l0.9 0.7l0.8 0.7l0.9 0.8l0.8 0.7l0.9 0.8l0.9 0.7l0.8 0.8l0.9 0.8l0.8 0.8l0.9 0.7l0.8 0.9l0.9 0.8l0.9 0.8l0.8 0.8l0.9 0.9l0.8 0.8l0.9 0.9l0.9 0.9l0.8 0.9l0.9 0.9l0.8 0.9l0.9 0.9l0.9 0.9l0.8 1l0.9 0.9l0.8 1l0.9 1l0.8 0.9l0.9 1l0.9 1l0.8 1.1l0.9 1l0.8 1l0.9 1.1l0.9 1.1l0.8 1l0.9 1.1l0.8 1.1l0.9 1.1l0.9 1.2l0.8 1.1l0.9 1.2l0.8 1.1l0.9 1.2l0.8 1.2l0.9 1.2l0.9 1.2l0.8 1.2l0.9 1.3l0.8 1.2l0.9 1.3l0.9 1.3l0.8 1.3l0.9 1.3l0.8 1.3l0.9 1.3l0.9 1.4l0.8 1.3l0.9 1.4l0.8 1.4l0.9 1.4l0.8 1.4l0.9 1.4l0.9 1.5l0.8 1.4l0.9 1.5l0.8 1.4l0.9 1.5l0.9 1.5l0.8 1.6l0.9 1.5l0.8 1.5l0.9 1.6l0.8 1.6l0.9 1.6l0.9 1.6l0.8 1.6l0.9 1.6l0.8 1.7l0.9 1.6l0.9 1.7l0.8 1.7l0.9 1.7l0.8 1.7l0.9 1.7l0.9 1.7l0.8 1.8l0.9 1.7l0.8 1.8l0.9 1.8l0.8 1.8l0.9 1.8l0.9 1.8l0.8 1.9l0.9 1.8l0.8 1.9l0.9 1.8l0.9 1.9l0.8 1.9l0.9 1.9l0.8 1.9l0.9 1.9l0.9 2l0.8 1.9l0.9 2l0.8 2l0.9 1.9l0.8 2l0.9 2l0.9 2l0.8 2l0.9 2.1l0.8 2l0.9 2l0.9 2.1l0.8 2l0.9 2.1l0.8 2.1l0.9 2l0.9 2.1l0.8 2.1l0.9 2.1l0.8 2.1l0.9 2.1l0.8 2.1l0.9 2.1l0.9 2.1l0.8 2.1l0.9 2.1l0.8 2.2l0.9 2.1l0.9 2.1l0.8 2.1l0.9 2.1l0.8 2.1l0.9 2.2l0.9 2.1l0.8 2.1l0.9 2.1l0.8 2.1l0.9 2.1l0.8 2.1l0.9 2.1l0.9 2.1l0.8 2.1l0.9 2.1l0.8 2l0.9 2.1l0.9 2l0.8 2.1l0.9 2l0.8 2l0.9 2.1l0.9 2l0.8 2l0.9 1.9l0.8 2l0.9 2l0.8 1.9l0.9 1.9l0.9 2l0.8 1.8l0.9 1.9l0.8 1.9l0.9 1.8l0.9 1.9l0.8 1.8l0.9 1.8l0.8 1.8l0.9 1.7l0.8 1.8l0.9 1.7l0.9 1.7l0.8 1.6l0.9 1.7l0.8 1.6l0.9 1.6l0.9 1.6l0.8 1.6l0.9 1.5l0.8 1.6l0.9 1.5l0.9 1.4l0.8 1.5l0.9 1.4l0.8 1.4l0.9 1.4l0.8 1.3l0.9 1.3l0.9 1.3l0.8 1.3l0.9 1.2l0.8 1.3l0.9 1.2l0.9 1.1l0.8 1.2l0.9 1.1l0.8 1.1l0.9 1l0.9 1.1l0.8 1l0.9 1l0.8 0.9l0.9 1l0.8 0.9l0.9 0.9l0.9 0.9l0.8 0.8l0.9 0.8l0.8 0.8l0.9 0.8l0.9 0.7l0.8 0.8l0.9 0.7l0.8 0.6l0.9 0.7l0.9 0.6l0.8 0.6l0.9 0.6l0.8 0.6l0.9 0.6l0.8 0.5l0.9 0.5l0.9 0.5l0.8 0.5l0.9 0.5l0.8 0.4l0.9 0.5l0.9 0.4l0.8 0.4l0.9 0.4l0.8 0.3l0.9 0.4l0.8 0.3l0.9 0.4l0.9 0.3l0.8 0.3l0.9 0.3l0.8 0.3l0.9 0.2l0.9 0.3l0.8 0.3l0.9 0.2l0.8 0.2l0.9 0.3l0.9 0.2l0.8 0.2l0.9 0.2l0.8 0.2l0.9 0.2l0.8 0.1l0.9 0.2l0.9 0.2l0.8 0.1l0.9 0.2l0.8 0.2l0.9 0.1l0.9 0.1l0.8 0.2l0.9 0.1l0.8 0.2l0.9 0.1l0.9 0.1l0.8 0.1l0.9 0.2l0.8 0.1l0.9 0.1l0.8 0.1l0.9 0.1l0.9 0.1l0.8 0.1l0.9 0.1l0.8 0.1l0.9 0.1l0.9 0.1l0.8 0.1l0.9 0.1l0.8 0.1l0.9 0.1l0.9 0.1l0.8 0.1l0.9 0.1l0.8 0.1l0.9 0.1l0.8 0.1l0.9 0.1l0.9 0.1l0.8 0.1l0.9 0.1l0.8 0.1l0.9 0l0.9 0.1l0.8 0.1l0.9 0.1l0.8 0.1l0.9 0.1l0.9 0.1l0.8 0.1l0.9 0l0.8 0.1l0.9 0.1l0.8 0.1l0.9 0.1l0.9 0.1l0.8 0.1l0.9 0l0.8 0.1l0.9 0.1l0.9 0.1l0.8 0.1l0.9 0.1l0.8 0l0.9 0.1l0.9 0.1l0.8 0.1l0.9 0.1l0.8 0l0.9 0.1l0.8 0.1l0.9 0.1l0.9 0.1"/>
<path stroke="#00FF00" d="M1254.8 283.7l0.8 0l0.9 0l0.9 0l0.8 0l0.9 0l0.8 0l0.9 0.1l0.8 0l0.9 0l0.9 0l0.8 0l0.9 0l0.8 0l0.9 0l0.9 0l0.8 0l0.9 0l0.8 0l0.9 0.1l0.9 0l0.8 0l0.9 0l0.8 0l0.9 0l0.8 0l0.9 0l0.9 0l0.8 0.1l0.9 0l0.8 0l0.9 0l0.9 0l0.8 0l0.9 0l0.8 0l0.9 0l0.8 0.1l0.9 0l0.9 0l0.8 0l0.9 0l0.8 0l0.9 0l0.9 0.1l0.8 0l0.9 0l0.8 0l0.9 0l0.9 0l0.8 0l0.9 0.1l0.8 0l0.9 0l0.8 0l0.9 0l0.9 0l0.8 0.1l0.9 0l0.8 0l0.9 0l0.9 0l0.8 0l0.9 0.1l0.8 0l0.9 0l0.9 0l0.8 0l0.9 0.1l0.8 0l0.9 0l0.8 0l0.9 0l0.9 0.1l0.8 0l0.9 0l0.8 0l0.9 0l0.9 0.1l0.8 0l0.9 0l0.8 0l0.9 0.1l0.9 0l0.8 0l0.9 0l0.8 0.1l0.9 0l0.8 0l0.9 0l0.9 0.1l0.8 0l0.9 0l0.8 0l0.9 0.1l0.9 0l0.8 0l0.9 0l0.8 0.1l0.9 0l0.8 0l0.9 0.1l0.9 0l0.8 0l0.9 0l0.8 0.1l0.9 0l0.9 0l0.8 0.1l0.9 0l0.8 0l0.9 0.1l0.9 0l0.8 0l0.9 0.1l0.8 0l0.9 0l0.8 0.1l0.9 0l0.9 0l0.8 0.1l0.9 0l0.8 0.1l0.9 0l0.9 0l0.8 0.1l0.9 0l0.8 0.1l0.9 0l0.9 0l0.8 0.1l0.9 0l0.8 0.1l0.9 0l0.8 0l0.9 0.1l0.9 0l0.8 0.1l0.9 0l0.8 0.1l0.9 0l0.9 0.1l0.8 0l0.9 0.1l0.8 0l0.9 0.1l0.9 0l0.8 0.1l0.9 0l0.8 0.1l0.9 0l0.8 0.1l0.9 0l0.9 0.1l0.8 0l0.9 0.1l0.8 0l0.9 0.1l0.9 0l0.8 0.1l0.9 0l0.8 0.1l0.9 0.1l0.9 0l0.8 0.1l0.9 0l0.8 0.1l0.9 0.1l0.8 0l0.9 0.1l0.9 0.1l0.8 0l0.9 0.1l0.8 0l0.9 0.1l0.9 0.1l0.8 0l0.9 0.1l0.8 0.1l0.9 0.1l0.9 0l0.8 0.1l0.9 0.1l0.8 0l0.9 0.1l0.8 0.1l0.9 0.1l0.9 0l0.8 0.1l0.9 0.1l0.8 0.1l0.9 0.1l0.9 0l0.8 0.1l0.9 0.1l0.8 0.1l0.9 0.1l0.8 0.1l0.9 0l0.9 0.1l0.8 0.1l0.9 0.1l0.8 0.1l0.9 0.1l0.9 0.1l0.8 0.1l0.9 0.1l0.8 0.1l0.9 0.1l0.9 0.1l0.8 0.1l0.9 0.1l0.8 0.1l0.9 0.1l0.8 0.1l0.9 0.1l0.9 0.1l0.8 0.1l0.9 0.1l0.8 0.1l0.9 0.1l0.9 0.1l0.8 0.1l0.9 0.2l0.8 0.1l0.9 0.1l0.9 0.1l0.8 0.1l0.9 0.2l0.8 0.1l0.9 0.1l0.8 0.1l0.9 0.2l0.9 0.1l0.8 0.1l0.9 0.2l0.8 0.1l0.9 0.1l0.9 0.2l0.8 0.1l0.9 0.2l0.8 0.1l0.9 0.1l0.9 0.2l0.8 0.1l0.9 0.2l0.8 0.1l0.9 0.2l0.8 0.2l0.9 0.1l0.9 0.2l0.8 0.1l0.9 0.2l0.8 0.2l0.9 0.1l0.9 0.2l0.8 0.2l0.9 0.2l0.8 0.1l0.9 0.2l0.8 0.2l0.9 0.2l0.9 0.2l0.8 0.2l0.9 0.2l0.8 0.2l0.9 0.2l0.9 0.2l0.8 0.2l0.9 0.2l0.8 0.2l0.9 0.2l0.9 0.2l0.8 0.2l0.9 0.2l0.8 0.2l0.9 0.3l0.8 0.2l0.9 0.2l0.9 0.3l0.8 0.2l0.9 0.2l0.8 0.3l0.9 0.2l0.9 0.3l0.8 0.2l0.9 0.3l0.8 0.2l0.9 0.3l0.9 0.3l0.8 0.2l0.9 0.3l0.8 0.3l0.9 0.2l0.8 0.3l0.9 0.3l0.9 0.3l0.8 0.3l0.9 0.3l0.8 0.3l0.9 0.3l0.9 0.3l0.8 0.3l0.9 0.3l0.8 0.3l0.9 0.4l0.9 0.3l0.8 0.3l0.9 0.4l0.8 0.3l0.9 0.4l0.8 0.3l0.9 0.4l0.9 0.3l0.8 0.4l0.9 0.4l0.8 0.3l0.9 0.4l0.9 0.4l0.8 0.4l0.9 0.4l0.8 0.4l0.9 0.4l0.9 0.4l0.8 0.4l0.9 0.4l0.8 0.4l0.9 0.5l0.8 0.4l0.9 0.4l0.9 0.5l0.8 0.4l0.9 0.5l0.8 0.4l0.9 0.5l0.9 0.5l0.8 0.5l0.9 0.5l0.8 0.4l0.9 0.5l0.9 0.6l0.8 0.5l0.9 0.5l0.8 0.5l0.9 0.5l0.8 0.6l0.9 0.5l0.9 0.6l0.8 0.5l0.9 0.6l0.8 0.6l0.9 0.5l0.9 0.6l0.8 0.6l0.9 0.6l0.8 0.6l0.9 0.6l0.8 0.7l0.9 0.6l0.9 0.6l0.8 0.7l0.9 0.6l0.8 0.7l0.9 0.7l0.9 0.6l0.8 0.7l0.9 0.7l0.8 0.7l0.9 0.7l0.9 0.8l0.8 0.7l0.9 0.7l0.8 0.8l0.9 0.7l0.8 0.8l0.9 0.8l0.9 0.7l0.8 0.8l0.9 0.8l0.8 0.9l0.9 0.8l0.9 0.8l0.8 0.8l0.9 0.9l0.8 0.8l0.9 0.9l0.9 0.9l0.8 0.9l0.9 0.9l0.8 0.9l0.9 0.9l0.8 0.9l0.9 1l0.9 0.9l0.8 1l0.9 1l0.8 0.9l0.9 1l0.9 1l0.8 1.1l0.9 1l0.8 1l0.9 1.1l0.9 1l0.8 1.1l0.9 1.1l0.8 1.1l0.9 1.1l0.8 1.1l0.9 1.1l0.9 1.2l0.8 1.1l0.9 1.2l0.8 1.2l0.9 1.2l0.9 1.2l0.8 1.2l0.9 1.2l0.8 1.3l0.9 1.2l0.8 1.3l0.9 1.3l0.9 1.3l0.8 1.3l0.9 1.3l0.8 1.3l0.9 1.3l0.9 1.4l0.8 1.4l0.9 1.4l0.8 1.3l0.9 1.5l0.9 1.4l0.8 1.4l0.9 1.5l0.8 1.4l0.9 1.5l0.8 1.5l0.9 1.5l0.9 1.5l0.8 1.5l0.9 1.6l0.8 1.5l0.9 1.6l0.9 1.6l0.8 1.6l0.9 1.6l0.8 1.6l0.9 1.6l0.9 1.7l0.8 1.7l0.9 1.6l0.8 1.7l0.9 1.7l0.8 1.7l0.9 1.8l0.9 1.7l0.8 1.8l0.9 1.7l0.8 1.8l0.9 1.8l0.9 1.8l0.8 1.8l0.9 1.9l0.8 1.8l0.9 1.8l0.9 1.9l0.8 1.9l0.9 1.9l0.8 1.9l0.9 1.9l0.8 1.9l0.9 1.9l0.9 2l0.8 1.9l0.9 2l0.8 2l0.9 1.9l0.9 2l0.8 2l0.9 2l0.8 2l0.9 2.1l0.9 2l0.8 2l0.9 2.1l0.8 2l0.9 2.1l0.8 2.1l0.9 2l0.9 2.1l0.8 2.1l0.9 2.1l0.8 2.1l0.9 2l0.9 2.1l0.8 2.1l0.9 2.1l0.8 2.1l0.9 2.2l0.9 2.1l0.8 2.1l0.9 2.1l0.8 2.1l0.9 2.1l0.8 2.1l0.9 2.1l0.9 2.1l0.8 2.1l0.9 2.1l0.8 2.1l0.9 2.1l0.9 2.1l0.8 2l0.9 2.1l0.8 2.1l0.9 2l0.8 2.1l0.9 2l0.9 2.1l0.8 2l0.9 2l0.8 2l0.9 2l0.9 2l0.8 2l0.9 1.9l0.8 2l0.9 1.9l0.9 1.9l0.8 2l0.9 1.8l0.8 1.9l0.9 1.9l0.8 1.8l0.9 1.9l0.9 1.8l0.8 1.8l0.9 1.8l0.8 1.7l0.9 1.8l0.9 1.7l0.8 1.7l0.9 1.7l0.8 1.7l0.9 1.6l0.9 1.6l0.8 1.7l0.9 1.5l0.8 1.6l0.9 1.5l0.8 1.6l0.9 1.5l0.9 1.4l0.8 1.5l0.9 1.4l0.8 1.4l0.9 1.4l0.9 1.3l0.8 1.4l0.9 1.3l0.8 1.3l0.9 1.2l0.9 1.2l0.8 1.3l0.9 1.1l0.8 1.2l0.9 1.1l0.8 1.2l0.9 1l0.9 1.1l0.8 1.1l0.9 1l0.8 1l0.9 0.9l0.9 1l0.8 0.9l0.9 0.9l0.8 0.9l0.9 0.8l0.8 0.8l0.9 0.9l0.9 0.7l0.8 0.8l0.9 0.7l0.8 0.8l0.9 0.7l0.9 0.6l0.8 0.7l0.9 0.6l0.8 0.7l0.9 0.6l0.9 0.5l0.8 0.6l0.9 0.5l0.8 0.6l0.9 0.5l0.8 0.5l0.9 0.5l0.9 0.4l0.8 0.5l0.9 0.4l0.8 0.4l0.9 0.4l0.9 0.4l0.8 0.4l0.9 0.3l0.8 0.4l0.9 0.3l0.9 0.3l0.8 0.4l0.9 0.3l0.8 0.3l0.9 0.2l0.8 0.3l0.9 0.3l0.9 0.2l0.8 0.3l0.9 0.2l0.8 0.3l0.9 0.2l0.9 0.2l0.8 0.2l0.9 0.2l0.8 0.2l0.9 0.2l0.9 0.2l0.8 0.2l0.9 0.1l0.8 0.2l0.9 0.2l0.8 0.2l0.9 0.1l0.9 0.2l0.8 0.1l0.9 0.2l0.8 0.1l0.9 0.2l0.9 0.1l0.8 0.1l0.9 0.2l0.8 0.1l0.9 0.2l0.9 0.1l0.8 0.1l0.9 0.1l0.8 0.2l0.9 0.1l0.8 0.1l0.9 0.1l0.9 0.2l0.8 0.1l0.9 0.1l0.8 0.1l0.9 0.1l0.9 0.2l0.8 0.1l0.9 0.1l0.8 0.1l0.9 0.1l0.9 0.1l0.8 0.1l0.9 0.1l0.8 0.2l0.9 0.1l0.8 0.1l0.9 0.1l0.9 0.1"/>
<path stroke="#FF8000" d="M1254.8 281l0.8 0.1l0.9 0l0.9 0l0.8 0l0.9 0l0.8 0l0.9 0.1l0.8 0l0.9 0l0.9 0l0.8 0l0.9 0l0.8 0.1l0.9 0l0.9 0l0.8 0l0.9 0l0.8 0.1l0.9 0l0.9 0l0.8 0l0.9 0l0.8 0.1l0.9 0l0.8 0l0.9 0l0.9 0l0.8 0.1l0.9 0l0.8 0l0.9 0l0.9 0l0.8 0.1l0.9 0l0.8 0l0.9 0l0.8 0.1l0.9 0l0.9 0l0.8 0l0.9 0.1l0.8 0l0.9 0l0.9 0l0.8 0.1l0.9 0l0.8 0l0.9 0l0.9 0.1l0.8 0l0.9 0l0.8 0l0.9 0.1l0.8 0l0.9 0l0.9 0l0.8 0.1l0.9 0l0.8 0l0.9 0l0.9 0.1l0.8 0l0.9 0l0.8 0.1l0.9 0l0.9 0l0.8 0l0.9 0.1l0.8 0l0.9 0l0.8 0.1l0.9 0l0.9 0l0.8 0l0.9 0.1l0.8 0l0.9 0l0.9 0.1l0.8 0l0.9 0l0.8 0.1l0.9 0l0.9 0l0.8 0.1l0.9 0l0.8 0l0.9 0.1l0.8 0l0.9 0l0.9 0.1l0.8 0l0.9 0l0.8 0.1l0.9 0l0.9 0l0.8 0.1l0.9 0l0.8 0.1l0.9 0l0.8 0l0.9 0.1l0.9 0l0.8 0l0.9 0.1l0.8 0l0.9 0.1l0.9 0l0.8 0l0.9 0.1l0.8 0l0.9 0.1l0.9 0l0.8 0l0.9 0.1l0.8 0l0.9 0.1l0.8 0l0.9 0l0.9 0.1l0.8 0l0.9 0.1l0.8 0l0.9 0.1l0.9 0l0.8 0l0.9 0.1l0.8 0l0.9 0.1l0.9 0l0.8 0.1l0.9 0l0.8 0.1l0.9 0l0.8 0.1l0.9 0l0.9 0l0.8 0.1l0.9 0l0.8 0.1l0.9 0l0.9 0.1l0.8 0l0.9 0.1l0.8 0l0.9 0.1l0.9 0l0.8 0.1l0.9 0l0.8 0.1l0.9 0.1l0.8 0l0.9 0.1l0.9 0l0.8 0.1l0.9 0l0.8 0.1l0.9 0l0.9 0.1l0.8 0l0.9 0.1l0.8 0.1l0.9 0l0.9 0.1l0.8 0l0.9 0.1l0.8 0l0.9 0.1l0.8 0.1l0.9 0l0.9 0.1l0.8 0l0.9 0.1l0.8 0.1l0.9 0l0.9 0.1l0.8 0.1l0.9 0l0.8 0.1l0.9 0.1l0.9 0l0.8 0.1l0.9 0.1l0.8 0l0.9 0.1l0.8 0.1l0.9 0l0.9 0.1l0.8 0.1l0.9 0l0.8 0.1l0.9 0.1l0.9 0l0.8 0.1l0.9 0.1l0.8 0.1l0.9 0l0.8 0.1l0.9 0.1l0.9 0.1l0.8 0.1l0.9 0l0.8 0.1l0.9 0.1l0.9 0.1l0.8 0.1l0.9 0l0.8 0.1l0.9 0.1l0.9 0.1l0.8 0.1l0.9 0.1l0.8 0l0.9 0.1l0.8 0.1l0.9 0.1l0.9 0.1l0.8 0.1l0.9 0.1l0.8 0.1l0.9 0.1l0.9 0.1l0.8 0.1l0.9 0.1l0.8 0.1l0.9 0.1l0.9 0.1l0.8 0.1l0.9 0.1l0.8 0.1l0.9 0.1l0.8 0.1l0.9 0.1l0.9 0.1l0.8 0.1l0.9 0.1l0.8 0.1l0.9 0.1l0.9 0.1l0.8 0.2l0.9 0.1l0.8 0.1l0.9 0.1l0.9 0.1l0.8 0.2l0.9 0.1l0.8 0.1l0.9 0.1l0.8 0.2l0.9 0.1l0.9 0.1l0.8 0.2l0.9 0.1l0.8 0.1l0.9 0.2l0.9 0.1l0.8 0.1l0.9 0.2l0.8 0.1l0.9 0.2l0.8 0.1l0.9 0.2l0.9 0.1l0.8 0.2l0.9 0.1l0.8 0.2l0.9 0.2l0.9 0.1l0.8 0.2l0.9 0.1l0.8 0.2l0.9 0.2l0.9 0.2l0.8 0.1l0.9 0.2l0.8 0.2l0.9 0.2l0.8 0.1l0.9 0.2l0.9 0.2l0.8 0.2l0.9 0.2l0.8 0.2l0.9 0.2l0.9 0.2l0.8 0.2l0.9 0.2l0.8 0.2l0.9 0.2l0.9 0.2l0.8 0.3l0.9 0.2l0.8 0.2l0.9 0.2l0.8 0.3l0.9 0.2l0.9 0.2l0.8 0.3l0.9 0.2l0.8 0.2l0.9 0.3l0.9 0.2l0.8 0.3l0.9 0.3l0.8 0.2l0.9 0.3l0.9 0.3l0.8 0.2l0.9 0.3l0.8 0.3l0.9 0.3l0.8 0.3l0.9 0.3l0.9 0.3l0.8 0.3l0.9 0.3l0.8 0.3l0.9 0.3l0.9 0.3l0.8 0.3l0.9 0.4l0.8 0.3l0.9 0.3l0.9 0.4l0.8 0.3l0.9 0.4l0.8 0.3l0.9 0.4l0.8 0.3l0.9 0.4l0.9 0.4l0.8 0.4l0.9 0.4l0.8 0.4l0.9 0.4l0.9 0.4l0.8 0.4l0.9 0.4l0.8 0.4l0.9 0.4l0.9 0.5l0.8 0.4l0.9 0.5l0.8 0.4l0.9 0.5l0.8 0.4l0.9 0.5l0.9 0.5l0.8 0.5l0.9 0.5l0.8 0.5l0.9 0.5l0.9 0.5l0.8 0.5l0.9 0.5l0.8 0.6l0.9 0.5l0.8 0.6l0.9 0.5l0.9 0.6l0.8 0.6l0.9 0.5l0.8 0.6l0.9 0.6l0.9 0.6l0.8 0.7l0.9 0.6l0.8 0.6l0.9 0.7l0.9 0.6l0.8 0.7l0.9 0.6l0.8 0.7l0.9 0.7l0.8 0.7l0.9 0.7l0.9 0.7l0.8 0.8l0.9 0.7l0.8 0.8l0.9 0.7l0.9 0.8l0.8 0.8l0.9 0.8l0.8 0.8l0.9 0.8l0.9 0.8l0.8 0.8l0.9 0.9l0.8 0.8l0.9 0.9l0.8 0.9l0.9 0.9l0.9 0.9l0.8 0.9l0.9 0.9l0.8 1l0.9 0.9l0.9 1l0.8 1l0.9 1l0.8 1l0.9 1l0.9 1l0.8 1.1l0.9 1.1l0.8 1l0.9 1.1l0.8 1.1l0.9 1.1l0.9 1.2l0.8 1.1l0.9 1.2l0.8 1.1l0.9 1.2l0.9 1.2l0.8 1.3l0.9 1.2l0.8 1.2l0.9 1.3l0.8 1.3l0.9 1.3l0.9 1.3l0.8 1.3l0.9 1.4l0.8 1.3l0.9 1.4l0.9 1.4l0.8 1.4l0.9 1.5l0.8 1.4l0.9 1.5l0.9 1.5l0.8 1.4l0.9 1.6l0.8 1.5l0.9 1.5l0.8 1.6l0.9 1.6l0.9 1.6l0.8 1.6l0.9 1.7l0.8 1.6l0.9 1.7l0.9 1.7l0.8 1.7l0.9 1.7l0.8 1.8l0.9 1.7l0.9 1.8l0.8 1.8l0.9 1.8l0.8 1.9l0.9 1.8l0.8 1.9l0.9 1.9l0.9 1.9l0.8 1.9l0.9 1.9l0.8 2l0.9 2l0.9 2l0.8 2l0.9 2l0.8 2.1l0.9 2l0.9 2.1l0.8 2.1l0.9 2.1l0.8 2.1l0.9 2.2l0.8 2.1l0.9 2.2l0.9 2.2l0.8 2.2l0.9 2.2l0.8 2.3l0.9 2.2l0.9 2.3l0.8 2.2l0.9 2.3l0.8 2.3l0.9 2.3l0.9 2.3l0.8 2.4l0.9 2.3l0.8 2.4l0.9 2.3l0.8 2.4l0.9 2.3l0.9 2.4l0.8 2.4l0.9 2.4l0.8 2.4l0.9 2.4l0.9 2.4l0.8 2.4l0.9 2.5l0.8 2.4l0.9 2.4l0.9 2.4l0.8 2.4l0.9 2.5l0.8 2.4l0.9 2.4l0.8 2.4l0.9 2.4l0.9 2.5l0.8 2.4l0.9 2.4l0.8 2.4l0.9 2.3l0.9 2.4l0.8 2.4l0.9 2.3l0.8 2.4l0.9 2.3l0.8 2.4l0.9 2.3l0.9 2.3l0.8 2.3l0.9 2.2l0.8 2.3l0.9 2.2l0.9 2.3l0.8 2.2l0.9 2.1l0.8 2.2l0.9 2.1l0.9 2.2l0.8 2.1l0.9 2l0.8 2.1l0.9 2l0.8 2l0.9 2l0.9 2l0.8 1.9l0.9 1.9l0.8 1.9l0.9 1.8l0.9 1.8l0.8 1.8l0.9 1.8l0.8 1.7l0.9 1.7l0.9 1.7l0.8 1.6l0.9 1.6l0.8 1.6l0.9 1.6l0.8 1.5l0.9 1.4l0.9 1.5l0.8 1.4l0.9 1.4l0.8 1.3l0.9 1.4l0.9 1.2l0.8 1.3l0.9 1.2l0.8 1.2l0.9 1.2l0.9 1.1l0.8 1.1l0.9 1l0.8 1.1l0.9 1l0.8 0.9l0.9 1l0.9 0.9l0.8 0.9l0.9 0.8l0.8 0.9l0.9 0.8l0.9 0.7l0.8 0.8l0.9 0.7l0.8 0.7l0.9 0.6l0.8 0.7l0.9 0.6l0.9 0.6l0.8 0.6l0.9 0.5l0.8 0.6l0.9 0.5l0.9 0.4l0.8 0.5l0.9 0.5l0.8 0.4l0.9 0.4l0.9 0.4l0.8 0.4l0.9 0.4l0.8 0.3l0.9 0.4l0.8 0.3l0.9 0.3l0.9 0.3l0.8 0.3l0.9 0.3l0.8 0.2l0.9 0.3l0.9 0.2l0.8 0.3l0.9 0.2l0.8 0.2l0.9 0.2l0.9 0.3l0.8 0.2l0.9 0.2l0.8 0.1l0.9 0.2l0.8 0.2l0.9 0.2l0.9 0.1l0.8 0.2l0.9 0.2l0.8 0.1l0.9 0.2l0.9 0.1l0.8 0.2l0.9 0.1l0.8 0.1l0.9 0.2l0.9 0.1l0.8 0.1l0.9 0.2l0.8 0.1l0.9 0.1l0.8 0.1l0.9 0.1l0.9 0.1l0.8 0.1l0.9 0.2l0.8 0.1l0.9 0.1l0.9 0.1l0.8 0.1l0.9 0.1l0.8 0.1l0.9 0.1l0.9 0.1l0.8 0.1l0.9 0.1l0.8 0.1l0.9 0l0.8 0.1l0.9 0.1l0.9 0.1l0.8 0.1l0.9 0.1l0.8 0.1l0.9 0.1l0.9 0l0.8 0.1l0.9 0.1l0.8 0.1l0.9 0.1l0.9 0l0.8 0.1l0.9 0.1l0.8 0.1l0.9 0.1l0.8 0l0.9 0.1l0.9 0.1"/>
</g>
<g font-size="44">
<text x="1254" y="665.6" text-anchor="end">20</text>
<text x="1254" y="573.2" text-anchor="end">40</text>
<text x="1254" y="480.8" text-anchor="end">60</text>
<text x="1254" y="388.4" text-anchor="end">80</text>
<text x="1254" y="296" text-anchor="end">100</text>
<text x="1375" y="763" text-anchor="middle">320</text>
<text x="1512.4" y="763" text-anchor="middle">360</text>
<text x="1649.8" y="763" text-anchor="middle">400</text>
<text x="1787.2" y="763" text-anchor="middle">440</text>
</g>
<line x1="1145.3" y1="831.9" x2="1274" y2="755" stroke="#000" stroke-width="4.5"/>
<path d="M1286.6 747.3L1267.9 749.3L1276.6 762.6Z" fill="#000"/>
</g>
<g id="plot-b">
<rect x="298.9" y="1703" width="1558.6" height="1283.5" fill="none" stroke="#000" stroke-width="8"/>
<g stroke="#000" stroke-width="8">
<line x1="302.9" y1="2772.6" x2="324" y2="2772.6"/>
<line x1="302.9" y1="2558.6" x2="324" y2="2558.6"/>
<line x1="302.9" y1="2344.7" x2="324" y2="2344.7"/>
<line x1="302.9" y1="2130.8" x2="324" y2="2130.8"/>
<line x1="302.9" y1="1916.9" x2="324" y2="1916.9"/>
<line x1="302.9" y1="1809.9" x2="312.3" y2="1809.9"/>
<line x1="302.9" y1="2023.9" x2="312.3" y2="2023.9"/>
<line x1="302.9" y1="2237.8" x2="312.3" y2="2237.8"/>
<line x1="302.9" y1="2451.7" x2="312.3" y2="2451.7"/>
<line x1="302.9" y1="2665.6" x2="312.3" y2="2665.6"/>
<line x1="302.9" y1="2879.5" x2="312.3" y2="2879.5"/>
<line x1="641.6" y1="2982.5" x2="641.6" y2="2961"/>
<line x1="1046.9" y1="2982.5" x2="1046.9" y2="2961"/>
<line x1="1452.2" y1="2982.5" x2="1452.2" y2="2961"/>
<line x1="439" y1="2982.5" x2="439" y2="2973"/>
<line x1="844.2" y1="2982.5" x2="844.2" y2="2973"/>
<line x1="1249.5" y1="2982.5" x2="1249.5" y2="2973"/>
<line x1="1654.8" y1="2982.5" x2="1654.8" y2="2973"/>
</g>
<g clip-path="url(#cb)" fill="none" stroke-width="9.5" stroke-linejoin="round">
<path stroke="#FF0000" d="M299 1916.2l0.7 0l0.7 -0.1l0.7 0l0.7 0l0.8 0l0.7 0l0.7 0l0.7 0l0.7 0l0.7 0l0.8 0l0.7 0l0.7 0l0.7 0l0.7 -0.1l0.7 0l0.7 0l0.8 0l0.7 0l0.7 0l0.7 0l0.7 0l0.7 0l0.8 0l0.7 0l0.7 0l0.7 0l0.7 0l0.7 0l0.7 0l0.8 0l0.7 0l0.7 -0.1l0.7 0l0.7 0l0.7 0l0.7 0l0.8 0l0.7 0l0.7 0l0.7 0l0.7 0l0.7 0l0.8 0l0.7 0l0.7 0l0.7 0l0.7 0l0.7 0l0.7 0l0.8 0l0.7 0l0.7 0l0.7 0l0.7 0l0.7 0l0.7 0l0.8 0l0.7 0l0.7 0l0.7 0l0.7 0l0.7 0l0.7 0l0.8 0l0.7 0l0.7 0l0.7 0l0.7 0l0.7 0l0.8 0l0.7 0l0.7 0l0.7 0l0.7 0l0.7 0l0.7 0l0.8 0l0.7 0l0.7 0l0.7 0l0.7 0l0.7 0l0.7 0l0.8 0l0.7 0l0.7 0l0.7 0l0.7 0l0.7 0l0.7 0l0.8 0l0.7 0l0.7 0l0.7 0l0.7 0l0.7 0l0.8 0l0.7 0l0.7 0l0.7 0l0.7 0l0.7 0l0.7 0l0.8 0l0.7 0l0.7 0l0.7 0l0.7 0l0.7 0l0.7 0l0.8 0l0.7 0l0.7 0l0.7 0l0.7 0l0.7 0l0.7 0l0.8 0l0.7 0l0.7 0l0.7 0.1l0.7 0l0.7 0l0.7 0l0.8 0l0.7 0l0.7 0l0.7 0l0.7 0l0.7 0l0.8 0l0.7 0l0.7 0l0.7 0l0.7 0l0.7 0l0.7 0l0.8 0l0.7 0l0.7 0l0.7 0l0.7 0l0.7 0.1l0.7 0l0.8 0l0.7 0l0.7 0l0.7 0l0.7 0l0.7 0l0.7 0l0.8 0l0.7 0l0.7 0l0.7 0l0.7 0l0.7 0l0.7 0l0.8 0l0.7 0.1l0.7 0l0.7 0l0.7 0l0.7 0l0.7 0l0.8 0l0.7 0l0.7 0l0.7 0l0.7 0l0.7 0l0.7 0l0.8 0l0.7 0l0.7 0.1l0.7 0l0.7 0l0.7 0l0.7 0l0.8 0l0.7 0l0.7 0l0.7 0l0.7 0l0.7 0l0.8 0l0.7 0l0.7 0l0.7 0.1l0.7 0l0.7 0l0.7 0l0.8 0l0.7 0l0.7 0l0.7 0l0.7 0l0.7 0l0.7 0l0.8 0l0.7 0l0.7 0.1l0.7 0l0.7 0l0.7 0l0.7 0l0.8 0l0.7 0l0.7 0l0.7 0l0.7 0l0.7 0l0.7 0l0.8 0.1l0.7 0l0.7 0l0.7 0l0.7 0l0.7 0l0.7 0l0.8 0l0.7 0l0.7 0l0.7 0l0.7 0l0.7 0.1l0.7 0l0.8 0l0.7 0l0.7 0l0.7 0l0.7 0l0.7 0l0.7 0l0.8 0l0.7 0l0.7 0.1l0.7 0l0.7 0l0.7 0l0.8 0l0.7 0l0.7 0l0.7 0l0.7 0l0.7 0l0.7 0l0.8 0l0.7 0.1l0.7 0l0.7 0l0.7 0l0.7 0l0.7 0l0.8 0l0.7 0l0.7 0l0.7 0l0.7 0l0.7 0.1l0.7 0l0.8 0l0.7 0l0.7 0l0.7 0l0.7 0l0.7 0l0.7 0l0.8 0l0.7 0l0.7 0.1l0.7 0l0.7 0l0.7 0l0.7 0l0.8 0l0.7 0l0.7 0l0.7 0l0.7 0l0.7 0l0.7 0.1l0.8 0l0.7 0l0.7 0l0.7 0l0.7 0l0.7 0l0.8 0l0.7 0l0.7 0l0.7 0l0.7 0.1l0.7 0l0.7 0l0.8 0l0.7 0l0.7 0l0.7 0l0.7 0l0.7 0l0.7 0l0.8 0l0.7 0l0.7 0.1l0.7 0l0.7 0l0.7 0l0.7 0l0.8 0l0.7 0l0.7 0l0.7 0l0.7 0l0.7 0l0.7 0l0.8 0.1l0.7 0l0.7 0l0.7 0l0.7 0l0.7 0l0.7 0l0.8 0l0.7 0l0.7 0l0.7 0l0.7 0l0.7 0.1l0.8 0l0.7 0l0.7 0l0.7 0l0.7 0l0.7 0l0.7 0l0.8 0l0.7 0l0.7 0l0.7 0l0.7 0.1l0.7 0l0.7 0l0.8 0l0.7 0l0.7 0l0.7 0l0.7 0l0.7 0l0.7 0l0.8 0l0.7 0l0.7 0l0.7 0l0.7 0.1l0.7 0l0.8 0l0.7 0l0.7 0l0.7 0l0.7 0l0.7 0l0.7 0l0.8 0l0.7 0l0.7 0l0.7 0l0.7 0l0.7 0.1l0.7 0l0.8 0l0.7 0l0.7 0l0.7 0l0.7 0l0.7 0l0.7 0l0.8 0l0.7 0l0.7 0l0.7 0l0.7 0l0.7 0.1l0.8 0l0.7 0l0.7 0l0.7 0l0.7 0l0.7 0l0.7 0l0.8 0l0.7 0l0.7 0l0.7 0l0.7 0l0.7 0l0.7 0.1l0.8 0l0.7 0l0.7 0l0.7 0l0.7 0l0.7 0l0.8 0l0.7 0l0.7 0l0.7 0l0.7 0l0.7 0l0.7 0l0.8 0.1l0.7 0l0.7 0l0.7 0l0.7 0l0.7 0l0.7 0l0.8 0l0.7 0l0.7 0l0.7 0l0.7 0l0.7 0.1l0.7 0l0.8 0l0.7 0l0.7 0l0.7 0l0.7 0l0.7 0l0.8 0l0.7 0l0.7 0l0.7 0l0.7 0.1l0.7 0l0.7 0l0.8 0l0.7 0l0.7 0l0.7 0l0.7 0l0.7 0l0.7 0l0.8 0l0.7 0.1l0.7 0l0.7 0l0.7 0l0.7 0l0.8 0l0.7 0l0.7 0l0.7 0l0.7 0l0.7 0.1l0.7 0l0.8 0l0.7 0l0.7 0l0.7 0l0.7 0l0.7 0l0.7 0l0.8 0.1l0.7 0l0.7 0l0.7 0l0.7 0l0.7 0l0.7 0l0.8 0l0.7 0l0.7 0.1l0.7 0l0.7 0l0.7 0l0.7 0l0.8 0l0.7 0l0.7 0l0.7 0.1l0.7 0l0.7 0l0.8 0l0.7 0l0.7 0l0.7 0l0.7 0.1l0.7 0l0.7 0l0.8 0l0.7 0l0.7 0l0.7 0l0.7 0.1l0.7 0l0.7 0l0.8 0l0.7 0l0.7 0l0.7 0l0.7 0.1l0.7 0l0.7 0l0.8 0l0.7 0l0.7 0l0.7 0.1l0.7 0l0.7 0l0.7 0l0.8 0l0.7 0l0.7 0.1l0.7 0l0.7 0l0.7 0l0.7 0l0.8 0l0.7 0.1l0.7 0l0.7 0l0.7 0l0.7 0l0.7 0.1l0.8 0l0.7 0l0.7 0l0.7 0l0.7 0.1l0.7 0l0.7 0l0.8 0l0.7 0l0.7 0.1l0.7 0l0.7 0l0.7 0l0.7 0l0.8 0.1l0.7 0l0.7 0l0.7 0l0.7 0.1l0.7 0l0.7 0l0.8 0l0.7 0l0.7 0.1l0.7 0l0.7 0l0.7 0l0.7 0.1l0.8 0l0.7 0l0.7 0l0.7 0.1l0.7 0l0.7 0l0.7 0l0.8 0.1l0.7 0l0.7 0l0.7 0l0.7 0.1l0.7 0l0.7 0l0.8 0l0.7 0.1l0.7 0l0.7 0l0.7 0l0.7 0.1l0.7 0l0.8 0l0.7 0.1l0.7 0l0.7 0l0.7 0l0.7 0.1l0.7 0l0.8 0l0.7 0.1l0.7 0l0.7 0l0.7 0.1l0.7 0l0.7 0l0.7 0.1l0.8 0l0.7 0l0.7 0l0.7 0.1l0.7 0l0.7 0l0.7 0.1l0.8 0l0.7 0l0.7 0.1l0.7 0l0.7 0l0.7 0.1l0.7 0l0.8 0l0.7 0.1l0.7 0l0.7 0.1l0.7 0l0.7 0l0.7 0.1l0.7 0l0.8 0l0.7 0.1l0.7 0l0.7 0l0.7 0.1l0.7 0l0.7 0.1l0.8 0l0.7 0l0.7 0.1l0.7 0l0.7 0.1l0.7 0l0.7 0l0.7 0.1l0.8 0l0.7 0.1l0.7 0l0.7 0l0.7 0.1l0.7 0l0.7 0.1l0.7 0l0.8 0.1l0.7 0l0.7 0l0.7 0.1l0.7 0l0.7 0.1l0.7 0l0.8 0.1l0.7 0l0.7 0.1l0.7 0l0.7 0l0.7 0.1l0.7 0l0.7 0.1l0.8 0l0.7 0.1l0.7 0l0.7 0.1l0.7 0l0.7 0.1l0.7 0l0.7 0.1l0.8 0l0.7 0.1l0.7 0l0.7 0.1l0.7 0l0.7 0.1l0.7 0l0.7 0.1l0.8 0l0.7 0.1l0.7 0l0.7 0.1l0.7 0l0.7 0.1l0.7 0l0.7 0.1l0.8 0.1l0.7 0l0.7 0.1l0.7 0l0.7 0.1l0.7 0l0.7 0.1l0.7 0.1l0.8 0l0.7 0.1l0.7 0l0.7 0.1l0.7 0.1l0.7 0l0.7 0.1l0.7 0.1l0.7 0l0.8 0.1l0.7 0.1l0.7 0l0.7 0.1l0.7 0.1l0.7 0l0.7 0.1l0.7 0.1l0.7 0.1l0.8 0l0.7 0.1l0.7 0.1l0.7 0.1l0.7 0l0.7 0.1l0.7 0.1l0.7 0.1l0.7 0.1l0.7 0l0.7 0.1l0.8 0.1l0.7 0.1l0.7 0.1l0.7 0.1l0.7 0.1l0.7 0.1l0.7 0.1l0.7 0.1l0.7 0l0.7 0.1l0.7 0.1l0.7 0.1l0.7 0.1l0.8 0.1l0.7 0.1l0.7 0.2l0.7 0.1l0.7 0.1l0.7 0.1l0.7 0.1l0.7 0.1l0.7 0.1l0.7 0.1l0.7 0.1l0.7 0.2l0.7 0.1l0.7 0.1l0.7 0.1l0.7 0.2l0.7 0.1l0.7 0.1l0.7 0.1l0.7 0.2l0.7 0.1l0.8 0.1l0.7 0.2l0.7 0.1l0.7 0.1l0.7 0.2l0.7 0.1l0.7 0.2l0.7 0.1l0.7 0.2l0.7 0.1l0.7 0.2l0.7 0.1l0.7 0.2l0.7 0.1l0.7 0.2l0.7 0.2l0.7 0.1l0.7 0.2l0.7 0.2l0.7 0.1l0.7 0.2l0.7 0.2l0.6 0.2l0.7 0.1l0.7 0.2l0.7 0.2l0.7 0.2l0.7 0.2l0.7 0.2l0.7 0.2l0.7 0.2l0.7 0.1l0.7 0.2l0.7 0.2l0.7 0.3l0.7 0.2l0.7 0.2l0.7 0.2l0.7 0.2l0.7 0.2l0.6 0.2l0.7 0.2l0.7 0.3l0.7 0.2l0.7 0.2l0.7 0.3l0.7 0.2l0.7 0.2l0.6 0.3l0.7 0.2l0.7 0.3l0.7 0.2l0.6 0.3l0.7 0.2l0.7 0.3l0.7 0.3l0.6 0.2l0.7 0.3l0.7 0.3l0.6 0.3l0.7 0.2l0.6 0.3l0.7 0.3l0.6 0.3l0.7 0.3l0.6 0.3l0.7 0.3l0.6 0.4l0.6 0.3l0.7 0.3l0.6 0.3l0.6 0.4l0.6 0.3l0.7 0.4l0.6 0.3l0.6 0.4l0.6 0.3l0.6 0.4l0.6 0.4l0.6 0.3l0.6 0.4l0.6 0.4l0.6 0.4l0.5 0.4l0.6 0.4l0.6 0.4l0.5 0.4l0.6 0.5l0.6 0.4l0.5 0.4l0.6 0.5l0.5 0.4l0.5 0.5l0.6 0.4l0.5 0.5l0.5 0.5l0.5 0.4l0.5 0.5l0.5 0.5l0.5 0.5l0.5 0.5l0.5 0.5l0.5 0.6l0.5 0.5l0.4 0.5l0.5 0.6l0.4 0.5l0.5 0.6l0.4 0.5l0.5 0.6l0.4 0.6l0.4 0.5l0.5 0.6l0.4 0.6l0.4 0.6l0.4 0.6l0.4 0.6l0.4 0.6l0.4 0.6l0.4 0.6l0.4 0.6l0.3 0.6l0.4 0.7l0.4 0.6l0.4 0.6l0.3 0.7l0.4 0.6l0.3 0.6l0.4 0.7l0.3 0.6l0.4 0.6l0.3 0.7l0.4 0.6l0.3 0.7l0.3 0.6l0.4 0.7l0.3 0.6l0.3 0.7l0.3 0.6l0.3 0.7l0.3 0.6l0.4 0.7l0.3 0.7l0.3 0.6l0.3 0.7l0.3 0.6l0.3 0.7l0.2 0.6l0.3 0.7l0.3 0.7l0.3 0.6l0.3 0.7l0.3 0.7l0.2 0.6l0.3 0.7l0.3 0.6l0.2 0.7l0.3 0.7l0.3 0.6l0.2 0.7l0.3 0.7l0.2 0.6l0.3 0.7l0.2 0.7l0.3 0.7l0.2 0.6l0.3 0.7l0.2 0.7l0.3 0.6l0.2 0.7l0.2 0.7l0.3 0.7l0.2 0.6l0.2 0.7l0.2 0.7l0.3 0.7l0.2 0.7l0.2 0.6l0.2 0.7l0.2 0.7l0.2 0.7l0.3 0.7l0.2 0.6l0.2 0.7l0.2 0.7l0.2 0.7l0.2 0.7l0.2 0.7l0.2 0.6l0.2 0.7l0.2 0.7l0.2 0.7l0.2 0.7l0.2 0.7l0.1 0.6l0.2 0.7l0.2 0.7l0.2 0.7l0.2 0.7l0.2 0.7l0.1 0.7l0.2 0.7l0.2 0.7l0.2 0.6l0.1 0.7l0.2 0.7l0.2 0.7l0.2 0.7l0.1 0.7l0.2 0.7l0.2 0.7l0.1 0.7l0.2 0.7l0.2 0.7l0.1 0.7l0.2 0.7l0.2 0.7l0.1 0.6l0.2 0.7l0.1 0.7l0.2 0.7l0.2 0.7l0.1 0.7l0.2 0.7l0.1 0.7l0.2 0.7l0.1 0.7l0.2 0.7l0.1 0.7l0.2 0.7l0.1 0.7l0.2 0.7l0.1 0.7l0.2 0.7l0.1 0.7l0.2 0.7l0.1 0.7l0.2 0.7l0.1 0.7l0.2 0.7l0.1 0.7l0.2 0.7l0.1 0.7l0.2 0.7l0.1 0.7l0.2 0.7l0.1 0.7l0.2 0.7l0.1 0.7l0.1 0.7l0.2 0.7l0.1 0.7l0.2 0.7l0.1 0.7l0.2 0.7l0.1 0.7l0.2 0.7l0.1 0.7l0.2 0.7l0.1 0.7l0.2 0.7l0.1 0.7l0.1 0.7l0.2 0.7l0.1 0.7l0.2 0.7l0.1 0.7l0.2 0.7l0.1 0.7l0.2 0.7l0.1 0.7l0.2 0.7l0.1 0.7l0.2 0.7l0.1 0.7l0.2 0.7l0.1 0.7l0.1 0.7l0.2 0.7l0.1 0.7l0.2 0.7l0.1 0.7l0.2 0.7l0.1 0.7l0.2 0.7l0.1 0.7l0.2 0.7l0.1 0.7l0.2 0.7l0.1 0.7l0.1 0.7l0.2 0.7l0.1 0.7l0.2 0.7l0.1 0.7l0.2 0.7l0.1 0.7l0.2 0.7l0.1 0.7l0.2 0.7l0.1 0.7l0.1 0.7l0.2 0.7l0.1 0.7l0.2 0.7l0.1 0.7l0.2 0.7l0.1 0.7l0.1 0.7l0.2 0.7l0.1 0.7l0.2 0.7l0.1 0.7l0.2 0.7l0.1 0.7l0.2 0.7l0.1 0.7l0.1 0.7l0.2 0.7l0.1 0.7l0.2 0.7l0.1 0.7l0.1 0.7l0.2 0.7l0.1 0.7l0.2 0.7l0.1 0.7l0.1 0.7l0.2 0.7l0.1 0.7l0.2 0.7l0.1 0.7l0.1 0.7l0.2 0.7l0.1 0.7l0.2 0.7l0.1 0.7l0.1 0.7l0.2 0.7l0.1 0.7l0.1 0.8l0.2 0.7l0.1 0.7l0.2 0.7l0.1 0.7l0.1 0.7l0.2 0.7l0.1 0.7l0.1 0.7l0.2 0.7l0.1 0.7l0.1 0.7l0.2 0.7l0.1 0.7l0.1 0.7l0.2 0.7l0.1 0.7l0.1 0.7l0.2 0.7l0.1 0.7l0.1 0.7l0.2 0.7l0.1 0.7l0.1 0.7l0.2 0.7l0.1 0.7l0.1 0.7l0.1 0.7l0.2 0.7l0.1 0.7l0.1 0.7l0.2 0.7l0.1 0.7l0.1 0.7l0.1 0.7l0.2 0.7l0.1 0.8l0.1 0.7l0.2 0.7l0.1 0.7l0.1 0.7l0.1 0.7l0.2 0.7l0.1 0.7l0.1 0.7l0.1 0.7l0.2 0.7l0.1 0.7l0.1 0.7l0.1 0.7l0.1 0.7l0.2 0.7l0.1 0.7l0.1 0.7l0.1 0.7l0.2 0.7l0.1 0.7l0.1 0.7l0.1 0.7l0.1 0.7l0.2 0.7l0.1 0.7l0.1 0.8l0.1 0.7l0.1 0.7l0.1 0.7l0.2 0.7l0.1 0.7l0.1 0.7l0.1 0.7l0.1 0.7l0.2 0.7l0.1 0.7l0.1 0.7l0.1 0.7l0.1 0.7l0.1 0.7l0.1 0.7l0.2 0.7l0.1 0.7l0.1 0.7l0.1 0.7l0.1 0.7l0.1 0.7l0.1 0.8l0.2 0.7l0.1 0.7l0.1 0.7l0.1 0.7l0.1 0.7l0.1 0.7l0.1 0.7l0.1 0.7l0.2 0.7l0.1 0.7l0.1 0.7l0.1 0.7l0.1 0.7l0.1 0.7l0.1 0.7l0.1 0.7l0.1 0.7l0.1 0.7l0.2 0.8l0.1 0.7l0.1 0.7l0.1 0.7l0.1 0.7l0.1 0.7l0.1 0.7l0.1 0.7l0.1 0.7l0.1 0.7l0.1 0.7l0.1 0.7l0.1 0.7l0.1 0.7l0.2 0.7l0.1 0.7l0.1 0.7l0.1 0.7l0.1 0.8l0.1 0.7l0.1 0.7l0.1 0.7l0.1 0.7l0.1 0.7l0.1 0.7l0.1 0.7l0.1 0.7l0.1 0.7l0.1 0.7l0.1 0.7l0.1 0.7l0.1 0.7l0.1 0.7l0.1 0.7l0.1 0.8l0.1 0.7l0.1 0.7l0.1 0.7l0.1 0.7l0.1 0.7l0.1 0.7l0.1 0.7l0.1 0.7l0.1 0.7l0.1 0.7l0.1 0.7l0.1 0.7l0.1 0.7l0.1 0.7l0.1 0.8l0.1 0.7l0.1 0.7l0.1 0.7l0.1 0.7l0.1 0.7l0.1 0.7l0.1 0.7l0.1 0.7l0.1 0.7l0.1 0.7l0.1 0.7l0.1 0.7l0.1 0.7l0.1 0.8l0 0.7l0.1 0.7l0.1 0.7l0.1 0.7l0.1 0.7l0.1 0.7l0.1 0.7l0.1 0.7l0.1 0.7l0.1 0.7l0.1 0.7l0.1 0.7l0.1 0.7l0.1 0.8l0.1 0.7l0.1 0.7l0 0.7l0.1 0.7l0.1 0.7l0.1 0.7l0.1 0.7l0.1 0.7l0.1 0.7l0.1 0.7l0.1 0.7l0.1 0.7l0.1 0.8l0 0.7l0.1 0.7l0.1 0.7l0.1 0.7l0.1 0.7l0.1 0.7l0.1 0.7l0.1 0.7l0.1 0.7l0.1 0.7l0 0.7l0.1 0.8l0.1 0.7l0.1 0.7l0.1 0.7l0.1 0.7l0.1 0.7l0.1 0.7l0 0.7l0.1 0.7l0.1 0.7l0.1 0.7l0.1 0.7l0.1 0.8l0.1 0.7l0.1 0.7l0 0.7l0.1 0.7l0.1 0.7l0.1 0.7l0.1 0.7l0.1 0.7l0.1 0.7l0 0.7l0.1 0.8l0.1 0.7l0.1 0.7l0.1 0.7l0.1 0.7l0 0.7l0.1 0.7l0.1 0.7l0.1 0.7l0.1 0.7l0.1 0.7l0.1 0.7l0 0.8l0.1 0.7l0.1 0.7l0.1 0.7l0.1 0.7l0 0.7l0.1 0.7l0.1 0.7l0.1 0.7l0.1 0.7l0.1 0.7l0 0.8l0.1 0.7l0.1 0.7l0.1 0.7l0.1 0.7l0.1 0.7l0 0.7l0.1 0.7l0.1 0.7l0.1 0.7l0.1 0.8l0 0.7l0.1 0.7l0.1 0.7l0.1 0.7l0.1 0.7l0 0.7l0.1 0.7l0.1 0.7l0.1 0.7l0.1 0.8l0 0.7l0.1 0.7l0.1 0.7l0.1 0.7l0.1 0.7l0 0.7l0.1 0.7l0.1 0.7l0.1 0.7l0.1 0.7l0 0.8l0.1 0.7l0.1 0.7l0.1 0.7l0.1 0.7l0 0.7l0.1 0.7l0.1 0.7l0.1 0.7l0 0.8l0.1 0.7l0.1 0.7l0.1 0.7l0.1 0.7l0 0.7l0.1 0.7l0.1 0.7l0.1 0.7l0 0.7l0.1 0.8l0.1 0.7l0.1 0.7l0.1 0.7l0 0.7l0.1 0.7l0.1 0.7l0.1 0.7l0 0.7l0.1 0.7l0.1 0.8l0.1 0.7l0 0.7l0.1 0.7l0.1 0.7l0.1 0.7l0.1 0.7l0 0.7l0.1 0.7l0.1 0.8l0.1 0.7l0 0.7l0.1 0.7l0.1 0.7l0.1 0.7l0 0.7l0.1 0.7l0.1 0.7l0.1 0.8l0 0.7l0.1 0.7l0.1 0.7l0.1 0.7l0 0.7l0.1 0.7l0.1 0.7l0.1 0.7l0 0.8l0.1 0.7l0.1 0.7l0.1 0.7l0 0.7l0.1 0.7l0.1 0.7l0.1 0.7l0 0.7l0.1 0.8l0.1 0.7l0.1 0.7l0 0.7l0.1 0.7l0.1 0.7l0.1 0.7l0 0.7l0.1 0.7l0.1 0.8l0.1 0.7l0 0.7l0.1 0.7l0.1 0.7l0.1 0.7l0 0.7l0.1 0.7l0.1 0.7l0.1 0.8l0 0.7l0.1 0.7l0.1 0.7l0.1 0.7l0 0.7l0.1 0.7l0.1 0.7l0.1 0.8l0 0.7l0.1 0.7l0.1 0.7l0.1 0.7l0 0.7l0.1 0.7l0.1 0.7l0.1 0.7l0 0.8l0.1 0.7l0.1 0.7l0 0.7l0.1 0.7l0.1 0.7l0.1 0.7l0 0.7l0.1 0.8l0.1 0.7l0.1 0.7l0 0.7l0.1 0.7l0.1 0.7l0.1 0.7l0 0.7l0.1 0.8l0.1 0.7l0.1 0.7l0 0.7l0.1 0.7l0.1 0.7l0.1 0.7l0 0.7l0.1 0.7l0.1 0.8l0.1 0.7l0 0.7l0.1 0.7l0.1 0.7l0 0.7l0.1 0.7l0.1 0.7l0.1 0.8l0 0.7l0.1 0.7l0.1 0.7l0.1 0.7l0 0.7l0.1 0.7l0.1 0.7l0.1 0.8l0 0.7l0.1 0.7l0.1 0.7l0.1 0.7l0 0.7l0.1 0.7l0.1 0.7l0.1 0.8l0 0.7l0.1 0.7l0.1 0.7l0.1 0.7l0 0.7l0.1 0.7l0.1 0.7l0.1 0.8l0 0.7l0.1 0.7l0.1 0.7l0.1 0.7l0 0.7l0.1 0.7l0.1 0.7l0.1 0.8l0 0.7l0.1 0.7l0.1 0.7l0 0.7l0.1 0.7l0.1 0.7l0.1 0.7l0 0.8l0.1 0.7l0.1 0.7l0.1 0.7l0 0.7l0.1 0.7l0.1 0.7l0.1 0.8l0 0.7l0.1 0.7l0.1 0.7l0.1 0.7l0 0.7l0.1 0.7l0.1 0.7l0.1 0.8l0 0.7l0.1 0.7l0.1 0.7l0.1 0.7l0 0.7l0.1 0.7l0.1 0.7l0.1 0.8l0 0.7l0.1 0.7l0.1 0.7l0 0.7l0.1 0.7l0.1 0.7l0.1 0.7l0 0.8l0.1 0.7l0.1 0.7l0.1 0.7l0 0.7l0.1 0.7l0.1 0.7l0.1 0.7l0 0.8l0.1 0.7l0.1 0.7l0.1 0.7l0 0.7l0.1 0.7l0.1 0.7l0 0.7l0.1 0.8l0.1 0.7l0.1 0.7l0 0.7l0.1 0.7l0.1 0.7l0.1 0.7l0 0.7l0.1 0.8l0.1 0.7l0.1 0.7l0 0.7l0.1 0.7l0.1 0.7l0 0.7l0.1 0.7l0.1 0.8l0.1 0.7l0 0.7l0.1 0.7l0.1 0.7l0.1 0.7l0 0.7l0.1 0.7l0.1 0.8l0 0.7l0.1 0.7l0.1 0.7l0.1 0.7l0 0.7l0.1 0.7l0.1 0.7l0.1 0.7l0 0.8l0.1 0.7l0.1 0.7l0 0.7l0.1 0.7l0.1 0.7l0.1 0.7l0 0.7l0.1 0.8l0.1 0.7l0 0.7l0.1 0.7l0.1 0.7l0.1 0.7l0 0.7l0.1 0.7l0.1 0.7l0 0.8l0.1 0.7l0.1 0.7l0.1 0.7l0 0.7l0.1 0.7l0.1 0.7l0 0.7l0.1 0.8l0.1 0.7l0.1 0.7l0 0.7l0.1 0.7l0.1 0.7l0 0.7l0.1 0.7l0.1 0.7l0 0.8l0.1 0.7l0.1 0.7l0.1 0.7l0 0.7l0.1 0.7l0.1 0.7l0 0.7l0.1 0.7l0.1 0.8l0 0.7l0.1 0.7l0.1 0.7l0.1 0.7l0 0.7l0.1 0.7l0.1 0.7l0 0.7l0.1 0.7l0.1 0.8l0 0.7l0.1 0.7l0.1 0.7l0 0.7l0.1 0.7l0.1 0.7l0 0.7l0.1 0.7l0.1 0.8l0.1 0.7l0 0.7l0.1 0.7l0.1 0.7l0 0.7l0.1 0.7l0.1 0.7l0 0.7l0.1 0.7l0.1 0.8l0 0.7l0.1 0.7l0.1 0.7l0 0.7l0.1 0.7l0.1 0.7l0 0.7l0.1 0.7l0.1 0.7l0 0.7l0.1 0.8l0.1 0.7l0 0.7l0.1 0.7l0.1 0.7l0 0.7l0.1 0.7l0.1 0.7l0 0.7l0.1 0.7l0.1 0.7l0 0.8l0.1 0.7l0.1 0.7l0 0.7l0.1 0.7l0 0.7l0.1 0.7l0.1 0.7l0 0.7l0.1 0.7l0.1 0.7l0 0.8l0.1 0.7l0.1 0.7l0 0.7l0.1 0.7l0.1 0.7l0 0.7l0.1 0.7l0 0.7l0.1 0.7l0.1 0.7l0 0.7l0.1 0.7l0.1 0.8l0 0.7l0.1 0.7l0.1 0.7l0 0.7l0.1 0.7l0 0.7l0.1 0.7l0.1 0.7l0 0.7l0.1 0.7l0.1 0.7l0 0.7l0.1 0.7l0 0.8l0.1 0.7l0.1 0.7l0 0.7l0.1 0.7l0 0.7l0.1 0.7l0.1 0.7l0 0.7l0.1 0.7l0 0.7l0.1 0.7l0.1 0.7l0 0.7l0.1 0.7l0 0.8l0.1 0.7l0.1 0.7l0 0.7l0.1 0.7l0 0.7l0.1 0.7l0.1 0.7l0 0.7l0.1 0.7l0 0.7l0.1 0.7l0.1 0.7l0 0.7l0.1 0.7l0 0.7l0.1 0.7l0 0.7l0.1 0.7l0.1 0.8l0 0.7l0.1 0.7l0 0.7l0.1 0.7l0 0.7l0.1 0.7l0.1 0.7l0 0.7l0.1 0.7l0 0.7l0.1 0.7l0 0.7l0.1 0.7l0.1 0.7l0 0.7l0.1 0.7l0 0.7l0.1 0.7l0 0.7l0.1 0.7l0 0.7l0.1 0.7l0 0.7l0.1 0.7l0.1 0.8l0 0.7l0.1 0.7l0 0.7l0.1 0.7l0 0.7l0.1 0.7l0 0.7l0.1 0.7l0.1 0.7l0 0.7l0.1 0.7l0 0.7l0.1 0.7l0.1 0.7l0 0.7l0.1 0.8l0 0.7l0.1 0.7l0.1 0.7l0 0.7l0.1 0.7l0.1 0.8l0 0.7l0.1 0.7l0.1 0.7l0.1 0.7l0 0.8l0.1 0.7l0.1 0.7l0.1 0.8l0.1 0.7l0.1 0.7l0 0.8l0.1 0.7l0.1 0.8l0.1 0.7l0.1 0.7l0.1 0.8l0.1 0.7l0.1 0.8l0.1 0.8l0.1 0.7l0.1 0.8l0.2 0.7l0.1 0.8l0.1 0.8l0.1 0.8l0.1 0.7l0.2 0.8l0.1 0.8l0.1 0.8l0.2 0.8l0.1 0.7l0.1 0.8l0.2 0.8l0.1 0.8l0.2 0.8l0.2 0.8l0.1 0.9l0.2 0.8l0.1 0.8l0.2 0.8l0.2 0.8l0.2 0.8l0.2 0.8l0.1 0.7l0.2 0.7l0.2 0.7l0.2 0.7l0.2 0.6l0.3 0.5l0.2 0.5l0.2 0.4l0.4 0.7l0.5 0.4l0.8 -0.2l0.5 -0.5l0.3 -0.4l0.3 -0.4l0.2 -0.5l0.3 -0.6l0.3 -0.5l0.2 -0.6l0.3 -0.6l0.2 -0.6l0.3 -0.6l0.2 -0.7l0.2 -0.6l0.3 -0.6l0.2 -0.7l0.2 -0.6l0.2 -0.6l0.2 -0.7l0.2 -0.6l0.2 -0.7l0.2 -0.6l0.1 -0.7l0.2 -0.6l0.2 -0.7l0.1 -0.7l0.2 -0.6l0.1 -0.7l0.2 -0.7l0.1 -0.7l0.2 -0.7l0.1 -0.7l0.1 -0.6l0.2 -0.7l0.1 -0.7l0.1 -0.7l0.1 -0.7l0.1 -0.7l0.1 -0.7l0.1 -0.7l0.1 -0.7l0.1 -0.8l0.1 -0.7l0.1 -0.7l0.1 -0.7l0.1 -0.7l0 -0.7l0.1 -0.8l0.1 -0.7l0.1 -0.7l0 -0.7l0.1 -0.8l0.1 -0.7l0 -0.7l0.1 -0.8l0 -0.7l0.1 -0.7l0 -0.8l0.1 -0.7l0 -0.7l0.1 -0.8l0 -0.7l0.1 -0.8l0 -0.7l0.1 -0.8l0 -0.7l0.1 -0.7l0 -0.8l0.1 -0.7l0 -0.8l0 -0.7l0.1 -0.8l0 -0.7l0 -0.8l0.1 -0.7l0 -0.7l0.1 -0.8l0 -0.7l0 -0.8l0.1 -0.7l0 -0.8l0.1 -0.7l0 -0.8l0.1 -0.7l0 -0.7l0.1 -0.8l0 -0.7l0 -0.8l0.1 -0.7l0 -0.7l0.1 -0.8l0 -0.7l0.1 -0.7l0.1 -0.8l0 -0.7l0.1 -0.8l0 -0.7l0.1 -0.7l0 -0.8l0.1 -0.7l0.1 -0.7l0 -0.7l0.1 -0.8l0 -0.7l0.1 -0.7l0.1 -0.8l0 -0.7l0.1 -0.7l0.1 -0.7l0 -0.8l0.1 -0.7l0.1 -0.7l0 -0.8l0.1 -0.7l0.1 -0.7l0 -0.7l0.1 -0.7l0.1 -0.8l0.1 -0.7l0 -0.7l0.1 -0.7l0.1 -0.8l0.1 -0.7l0 -0.7l0.1 -0.7l0.1 -0.7l0.1 -0.7l0.1 -0.8l0 -0.7l0.1 -0.7l0.1 -0.7l0.1 -0.7l0.1 -0.7l0 -0.8l0.1 -0.7l0.1 -0.7l0.1 -0.7l0.1 -0.7l0.1 -0.7l0 -0.7l0.1 -0.7l0.1 -0.8l0.1 -0.7l0.1 -0.7l0.1 -0.7l0.1 -0.7l0 -0.7l0.1 -0.7l0.1 -0.7l0.1 -0.7l0.1 -0.7l0.1 -0.8l0.1 -0.7l0.1 -0.7l0.1 -0.7l0.1 -0.7l0 -0.7l0.1 -0.7l0.1 -0.7l0.1 -0.7l0.1 -0.7l0.1 -0.7l0.1 -0.7l0.1 -0.7l0.1 -0.7l0.1 -0.7l0.1 -0.7l0.1 -0.7l0.1 -0.7l0 -0.7l0.1 -0.8l0.1 -0.7l0.1 -0.7l0.1 -0.7l0.1 -0.7l0.1 -0.7l0.1 -0.7l0.1 -0.7l0.1 -0.7l0.1 -0.7l0.1 -0.7l0.1 -0.7l0.1 -0.7l0.1 -0.7l0.1 -0.7l0.1 -0.7l0.1 -0.7l0.1 -0.7l0.1 -0.7l0 -0.7l0.1 -0.7l0.1 -0.7l0.1 -0.7l0.1 -0.7l0.1 -0.7l0.1 -0.7l0.1 -0.7l0.1 -0.7l0.1 -0.6l0.1 -0.7l0.1 -0.7l0.1 -0.7l0.1 -0.7l0.1 -0.7l0.1 -0.7l0.1 -0.7l0.1 -0.7l0 -0.7l0.1 -0.7l0.1 -0.7l0.1 -0.7l0.1 -0.7l0.1 -0.7l0.1 -0.7l0.1 -0.7l0.1 -0.7l0.1 -0.7l0.1 -0.7l0.1 -0.7l0 -0.7l0.1 -0.7l0.1 -0.7l0.1 -0.7l0.1 -0.7l0.1 -0.7l0.1 -0.7l0.1 -0.7l0 -0.7l0.1 -0.7l0.1 -0.7l0.1 -0.7l0.1 -0.7l0.1 -0.7l0.1 -0.7l0 -0.7l0.1 -0.7l0.1 -0.7l0.1 -0.7l0.1 -0.7l0.1 -0.6l0 -0.7l0.1 -0.7l0.1 -0.7l0.1 -0.7l0.1 -0.7l0 -0.7l0.1 -0.7l0.1 -0.7l0.1 -0.7l0 -0.7l0.1 -0.7l0.1 -0.7l0.1 -0.7l0 -0.7l0.1 -0.7l0.1 -0.7l0 -0.7l0.1 -0.7l0.1 -0.7l0.1 -0.8l0 -0.7l0.1 -0.7l0.1 -0.7l0 -0.7l0.1 -0.7l0 -0.7l0.1 -0.7l0.1 -0.7l0 -0.7l0.1 -0.7l0.1 -0.7l0 -0.7l0.1 -0.7l0 -0.7l0.1 -0.7l0 -0.7l0.1 -0.7l0.1 -0.7l0 -0.7l0.1 -0.7l0 -0.7l0.1 -0.8l0 -0.7l0.1 -0.7l0 -0.7l0.1 -0.7l0 -0.7l0.1 -0.7l0 -0.7l0 -0.7l0.1 -0.7l0 -0.7l0.1 -0.8l0 -0.7l0.1 -0.7l0 -0.7l0 -0.7l0.1 -0.7l0 -0.7l0.1 -0.7l0 -0.7l0 -0.8l0.1 -0.7l0 -0.7l0 -0.7l0.1 -0.7l0 -0.7l0 -0.7l0.1 -0.7l0 -0.8l0 -0.7l0.1 -0.7l0 -0.7l0 -0.7l0.1 -0.7l0 -0.7l0 -0.8l0.1 -0.7l0 -0.7l0 -0.7l0.1 -0.7l0 -0.7l0 -0.7l0 -0.8l0.1 -0.7l0 -0.7l0 -0.7l0 -0.7l0.1 -0.7l0 -0.8l0 -0.7l0 -0.7l0.1 -0.7l0 -0.7l0 -0.7l0 -0.8l0.1 -0.7l0 -0.7l0 -0.7l0 -0.7l0 -0.7l0.1 -0.8l0 -0.7l0 -0.7l0 -0.7l0.1 -0.7l0 -0.8l0 -0.7l0 -0.7l0 -0.7l0.1 -0.7l0 -0.7l0 -0.8l0 -0.7l0 -0.7l0.1 -0.7l0 -0.7l0 -0.8l0 -0.7l0 -0.7l0.1 -0.7l0 -0.7l0 -0.8l0 -0.7l0 -0.7l0.1 -0.7l0 -0.7l0 -0.8l0 -0.7l0 -0.7l0.1 -0.7l0 -0.7l0 -0.7l0 -0.8l0 -0.7l0.1 -0.7l0 -0.7l0 -0.7l0 -0.8l0 -0.7l0.1 -0.7l0 -0.7l0 -0.7l0 -0.8l0.1 -0.7l0 -0.7l0 -0.7l0 -0.7l0 -0.8l0.1 -0.7l0 -0.7l0 -0.7l0 -0.7l0.1 -0.8l0 -0.7l0 -0.7l0 -0.7l0.1 -0.7l0 -0.7l0 -0.8l0 -0.7l0.1 -0.7l0 -0.7l0 -0.7l0 -0.8l0.1 -0.7l0 -0.7l0 -0.7l0.1 -0.7l0 -0.7l0 -0.8l0 -0.7l0.1 -0.7l0 -0.7l0 -0.7l0.1 -0.7l0 -0.8l0 -0.7l0.1 -0.7l0 -0.7l0 -0.7l0.1 -0.8l0 -0.7l0 -0.7l0.1 -0.7l0 -0.7l0 -0.7l0.1 -0.8l0 -0.7l0 -0.7l0.1 -0.7l0 -0.7l0 -0.7l0.1 -0.8l0 -0.7l0.1 -0.7l0 -0.7l0 -0.7l0.1 -0.7l0 -0.7l0 -0.8l0.1 -0.7l0 -0.7l0.1 -0.7l0 -0.7l0 -0.7l0.1 -0.8l0 -0.7l0.1 -0.7l0 -0.7l0 -0.7l0.1 -0.7l0 -0.8l0.1 -0.7l0 -0.7l0 -0.7l0.1 -0.7l0 -0.7l0.1 -0.7l0 -0.8l0.1 -0.7l0 -0.7l0 -0.7l0.1 -0.7l0 -0.7l0.1 -0.7l0 -0.8l0.1 -0.7l0 -0.7l0.1 -0.7l0 -0.7l0 -0.7l0.1 -0.8l0 -0.7l0.1 -0.7l0 -0.7l0.1 -0.7l0 -0.7l0.1 -0.7l0 -0.8l0.1 -0.7l0 -0.7l0.1 -0.7l0 -0.7l0.1 -0.7l0 -0.7l0.1 -0.7l0 -0.8l0.1 -0.7l0 -0.7l0.1 -0.7l0 -0.7l0.1 -0.7l0 -0.7l0.1 -0.8l0 -0.7l0.1 -0.7l0 -0.7l0.1 -0.7l0 -0.7l0.1 -0.7l0 -0.8l0.1 -0.7l0 -0.7l0.1 -0.7l0 -0.7l0.1 -0.7l0 -0.7l0.1 -0.7l0 -0.8l0.1 -0.7l0 -0.7l0.1 -0.7l0 -0.7l0.1 -0.7l0 -0.7l0.1 -0.7l0.1 -0.8l0 -0.7l0.1 -0.7l0 -0.7l0.1 -0.7l0 -0.7l0.1 -0.7l0 -0.7l0.1 -0.8l0.1 -0.7l0 -0.7l0.1 -0.7l0 -0.7l0.1 -0.7l0 -0.7l0.1 -0.7l0 -0.8l0.1 -0.7l0.1 -0.7l0 -0.7l0.1 -0.7l0 -0.7l0.1 -0.7l0 -0.7l0.1 -0.8l0.1 -0.7l0 -0.7l0.1 -0.7l0 -0.7l0.1 -0.7l0.1 -0.7l0 -0.7l0.1 -0.7l0 -0.8l0.1 -0.7l0 -0.7l0.1 -0.7l0.1 -0.7l0 -0.7l0.1 -0.7l0 -0.7l0.1 -0.8l0.1 -0.7l0 -0.7l0.1 -0.7l0 -0.7l0.1 -0.7l0.1 -0.7l0 -0.7l0.1 -0.7l0 -0.8l0.1 -0.7l0.1 -0.7l0 -0.7l0.1 -0.7l0 -0.7l0.1 -0.7l0.1 -0.7l0 -0.7l0.1 -0.8l0 -0.7l0.1 -0.7l0.1 -0.7l0 -0.7l0.1 -0.7l0.1 -0.7l0 -0.7l0.1 -0.7l0 -0.8l0.1 -0.7l0.1 -0.7l0 -0.7l0.1 -0.7l0 -0.7l0.1 -0.7l0.1 -0.7l0 -0.7l0.1 -0.8l0.1 -0.7l0 -0.7l0.1 -0.7l0 -0.7l0.1 -0.7l0.1 -0.7l0 -0.7l0.1 -0.7l0.1 -0.8l0 -0.7l0.1 -0.7l0 -0.7l0.1 -0.7l0.1 -0.7l0 -0.7l0.1 -0.7l0.1 -0.7l0 -0.7l0.1 -0.8l0 -0.7l0.1 -0.7l0.1 -0.7l0 -0.7l0.1 -0.7l0.1 -0.7l0 -0.7l0.1 -0.7l0 -0.8l0.1 -0.7l0.1 -0.7l0 -0.7l0.1 -0.7l0.1 -0.7l0 -0.7l0.1 -0.7l0 -0.7l0.1 -0.8l0.1 -0.7l0 -0.7l0.1 -0.7l0.1 -0.7l0 -0.7l0.1 -0.7l0 -0.7l0.1 -0.7l0.1 -0.7l0 -0.8l0.1 -0.7l0.1 -0.7l0 -0.7l0.1 -0.7l0 -0.7l0.1 -0.7l0.1 -0.7l0 -0.7l0.1 -0.8l0.1 -0.7l0 -0.7l0.1 -0.7l0 -0.7l0.1 -0.7l0.1 -0.7l0 -0.7l0.1 -0.7l0.1 -0.8l0 -0.7l0.1 -0.7l0 -0.7l0.1 -0.7l0.1 -0.7l0 -0.7l0.1 -0.7l0.1 -0.7l0 -0.8l0.1 -0.7l0 -0.7l0.1 -0.7l0.1 -0.7l0 -0.7l0.1 -0.7l0 -0.7l0.1 -0.7l0.1 -0.7l0 -0.8l0.1 -0.7l0 -0.7l0.1 -0.7l0.1 -0.7l0 -0.7l0.1 -0.7l0 -0.7l0.1 -0.7l0.1 -0.8l0 -0.7l0.1 -0.7l0 -0.7l0.1 -0.7l0.1 -0.7l0 -0.7l0.1 -0.7l0 -0.7l0.1 -0.8l0.1 -0.7l0 -0.7l0.1 -0.7l0 -0.7l0.1 -0.7l0.1 -0.7l0 -0.7l0.1 -0.7l0 -0.8l0.1 -0.7l0 -0.7l0.1 -0.7l0.1 -0.7l0 -0.7l0.1 -0.7l0 -0.7l0.1 -0.8l0 -0.7l0.1 -0.7l0.1 -0.7l0 -0.7l0.1 -0.7l0 -0.7l0.1 -0.7l0 -0.7l0.1 -0.8l0.1 -0.7l0 -0.7l0.1 -0.7l0 -0.7l0.1 -0.7l0 -0.7l0.1 -0.7l0 -0.8l0.1 -0.7l0.1 -0.7l0 -0.7l0.1 -0.7l0 -0.7l0.1 -0.7l0 -0.7l0.1 -0.7l0 -0.8l0.1 -0.7l0 -0.7l0.1 -0.7l0 -0.7l0.1 -0.7l0 -0.7l0.1 -0.7l0.1 -0.8l0 -0.7l0.1 -0.7l0 -0.7l0.1 -0.7l0 -0.7l0.1 -0.7l0 -0.7l0.1 -0.8l0 -0.7l0.1 -0.7l0 -0.7l0.1 -0.7l0 -0.7l0.1 -0.7l0 -0.7l0.1 -0.8l0 -0.7l0.1 -0.7l0 -0.7l0.1 -0.7l0 -0.7l0.1 -0.7l0 -0.7l0 -0.8l0.1 -0.7l0 -0.7l0.1 -0.7l0 -0.7l0.1 -0.7l0 -0.7l0.1 -0.8l0 -0.7l0.1 -0.7l0 -0.7l0.1 -0.7l0 -0.7l0 -0.7l0.1 -0.8l0 -0.7l0.1 -0.7l0 -0.7l0.1 -0.7l0 -0.7l0.1 -0.7l0 -0.7l0 -0.8l0.1 -0.7l0 -0.7l0.1 -0.7l0 -0.7l0 -0.7l0.1 -0.7l0 -0.8l0.1 -0.7l0 -0.7l0.1 -0.7l0 -0.7l0 -0.7l0.1 -0.7l0 -0.8l0.1 -0.7l0 -0.7l0 -0.7l0.1 -0.7l0 -0.7l0.1 -0.7l0 -0.8l0.1 -0.7l0 -0.7l0 -0.7l0.1 -0.7l0 -0.7l0.1 -0.7l0 -0.8l0.1 -0.7l0 -0.7l0 -0.7l0.1 -0.7l0 -0.7l0.1 -0.7l0 -0.8l0 -0.7l0.1 -0.7l0 -0.7l0.1 -0.7l0 -0.7l0.1 -0.7l0 -0.8l0.1 -0.7l0 -0.7l0 -0.7l0.1 -0.7l0 -0.7l0.1 -0.7l0 -0.8l0.1 -0.7l0 -0.7l0.1 -0.7l0 -0.7l0.1 -0.7l0 -0.7l0.1 -0.8l0 -0.7l0.1 -0.7l0 -0.7l0.1 -0.7l0 -0.7l0.1 -0.7l0 -0.8l0.1 -0.7l0 -0.7l0.1 -0.7l0 -0.7l0.1 -0.7l0 -0.7l0.1 -0.7l0 -0.8l0.1 -0.7l0 -0.7l0.1 -0.7l0 -0.7l0.1 -0.7l0.1 -0.7l0 -0.8l0.1 -0.7l0 -0.7l0.1 -0.7l0.1 -0.7l0 -0.7l0.1 -0.7l0 -0.7l0.1 -0.8l0.1 -0.7l0 -0.7l0.1 -0.7l0.1 -0.7l0 -0.7l0.1 -0.7l0.1 -0.7l0 -0.7l0.1 -0.8l0.1 -0.7l0 -0.7l0.1 -0.7l0.1 -0.7l0 -0.7l0.1 -0.7l0.1 -0.7l0.1 -0.7l0 -0.8l0.1 -0.7l0.1 -0.7l0.1 -0.7l0.1 -0.7l0 -0.7l0.1 -0.7l0.1 -0.7l0.1 -0.7l0.1 -0.7l0 -0.8l0.1 -0.7l0.1 -0.7l0.1 -0.7l0.1 -0.7l0.1 -0.7l0.1 -0.7l0 -0.7l0.1 -0.7l0.1 -0.7l0.1 -0.8l0.1 -0.7l0.1 -0.7l0.1 -0.7l0.1 -0.7l0.1 -0.7l0.1 -0.7l0.1 -0.7l0.1 -0.7l0.1 -0.7l0.1 -0.7l0.1 -0.7l0.1 -0.7l0.1 -0.8l0.1 -0.7l0.1 -0.7l0.1 -0.7l0.2 -0.7l0.1 -0.7l0.1 -0.7l0.1 -0.7l0.1 -0.7l0.1 -0.7l0.1 -0.7l0.2 -0.7l0.1 -0.7l0.1 -0.7l0.1 -0.7l0.1 -0.7l0.2 -0.7l0.1 -0.7l0.1 -0.8l0.1 -0.7l0.2 -0.7l0.1 -0.7l0.1 -0.7l0.2 -0.7l0.1 -0.7l0.1 -0.7l0.2 -0.7l0.1 -0.7l0.2 -0.7l0.1 -0.7l0.1 -0.7l0.2 -0.7l0.1 -0.7l0.2 -0.7l0.1 -0.7l0.2 -0.7l0.1 -0.7l0.2 -0.7l0.1 -0.7l0.2 -0.7l0.1 -0.7l0.2 -0.7l0.1 -0.7l0.2 -0.7l0.2 -0.7l0.1 -0.7l0.2 -0.7l0.2 -0.7l0.1 -0.7l0.2 -0.7l0.2 -0.7l0.1 -0.7l0.2 -0.7l0.2 -0.7l0.2 -0.7l0.2 -0.7l0.1 -0.7l0.2 -0.7l0.2 -0.7l0.2 -0.7l0.2 -0.7l0.2 -0.7l0.1 -0.7l0.2 -0.7l0.2 -0.7l0.2 -0.7l0.2 -0.6l0.2 -0.7l0.2 -0.7l0.2 -0.7l0.2 -0.7l0.2 -0.7l0.3 -0.7l0.2 -0.7l0.2 -0.7l0.2 -0.7l0.2 -0.7l0.3 -0.6l0.2 -0.7l0.3 -0.7l0.2 -0.7l0.3 -0.6l0.2 -0.7l0.3 -0.6l0.3 -0.7l0.2 -0.7l0.3 -0.6l0.3 -0.6l0.3 -0.7l0.4 -0.6l0.3 -0.6l0.3 -0.7l0.4 -0.6l0.3 -0.6l0.4 -0.6l0.4 -0.6l0.4 -0.6l0.4 -0.6l0.4 -0.5l0.4 -0.6l0.4 -0.5l0.5 -0.6l0.4 -0.5l0.5 -0.6l0.5 -0.5l0.5 -0.5l0.5 -0.5l0.5 -0.5l0.5 -0.5l0.5 -0.5l0.6 -0.5l0.5 -0.5l0.6 -0.4l0.5 -0.5l0.6 -0.5l0.6 -0.4l0.6 -0.4l0.5 -0.5l0.6 -0.4l0.6 -0.4l0.7 -0.4l0.6 -0.4l0.6 -0.4l0.6 -0.4l0.6 -0.4l0.7 -0.4l0.6 -0.3l0.6 -0.4l0.7 -0.3l0.6 -0.4l0.7 -0.3l0.6 -0.3l0.6 -0.4l0.7 -0.3l0.6 -0.3l0.7 -0.3l0.6 -0.3l0.7 -0.3l0.6 -0.3l0.7 -0.3l0.7 -0.2l0.6 -0.3l0.7 -0.3l0.6 -0.2l0.7 -0.3l0.7 -0.2l0.6 -0.3l0.7 -0.2l0.7 -0.2l0.6 -0.3l0.7 -0.2l0.7 -0.2l0.7 -0.2l0.6 -0.2l0.7 -0.2l0.7 -0.2l0.7 -0.2l0.7 -0.2l0.6 -0.2l0.7 -0.1l0.7 -0.2l0.7 -0.2l0.7 -0.1l0.7 -0.2l0.7 -0.2l0.7 -0.1l0.6 -0.1l0.7 -0.2l0.7 -0.1l0.7 -0.2l0.7 -0.1l0.7 -0.1l0.7 -0.1l0.7 -0.2l0.7 -0.1l0.7 -0.1l0.7 -0.1l0.7 -0.1l0.7 -0.1l0.7 -0.1l0.7 -0.1l0.7 -0.1l0.7 -0.1l0.7 -0.1l0.7 -0.1l0.7 -0.1l0.8 -0.1l0.7 0l0.7 -0.1l0.7 -0.1l0.7 -0.1l0.7 0l0.7 -0.1l0.7 -0.1l0.7 0l0.8 -0.1l0.7 -0.1l0.7 0l0.7 -0.1l0.7 -0.1l0.7 0l0.7 -0.1l0.8 0l0.7 -0.1l0.7 0l0.7 -0.1l0.7 0l0.7 -0.1l0.8 0l0.7 -0.1l0.7 0l0.7 -0.1l0.7 0l0.7 -0.1l0.8 0l0.7 -0.1l0.7 0l0.7 0l0.7 -0.1l0.8 0l0.7 -0.1l0.7 0l0.7 -0.1l0.7 0l0.7 -0.1l0.8 0l0.7 -0.1l0.7 0l0.7 -0.1l0.7 0l0.8 -0.1l0.7 0l0.7 -0.1l0.7 0l0.7 -0.1l0.7 -0.1l0.8 0l0.7 -0.1l0.7 0l0.7 -0.1l0.7 -0.1l0.7 0l0.7 -0.1l0.8 -0.1l0.7 0l0.7 -0.1l0.7 -0.1l0.7 0l0.7 -0.1l0.7 -0.1l0.8 -0.1l0.7 0l0.7 -0.1l0.7 -0.1l0.7 -0.1l0.7 0l0.7 -0.1l0.7 -0.1l0.8 -0.1l0.7 -0.1l0.7 0l0.7 -0.1l0.7 -0.1l0.7 -0.1l0.7 -0.1l0.7 -0.1l0.7 0l0.8 -0.1l0.7 -0.1l0.7 -0.1l0.7 -0.1l0.7 -0.1l0.7 -0.1l0.7 0l0.7 -0.1l0.7 -0.1l0.7 -0.1l0.8 -0.1l0.7 -0.1l0.7 -0.1l0.7 -0.1l0.7 -0.1l0.7 -0.1l0.7 0l0.7 -0.1l0.7 -0.1l0.7 -0.1l0.7 -0.1l0.8 -0.1l0.7 -0.1l0.7 -0.1l0.7 -0.1l0.7 -0.1l0.7 -0.1l0.7 -0.1l0.7 0l0.7 -0.1l0.7 -0.1l0.7 -0.1l0.7 -0.1l0.8 -0.1l0.7 -0.1l0.7 -0.1l0.7 -0.1l0.7 -0.1l0.7 -0.1l0.7 -0.1l0.7 0l0.7 -0.1l0.7 -0.1l0.7 -0.1l0.7 -0.1l0.7 -0.1l0.8 -0.1l0.7 -0.1l0.7 -0.1l0.7 -0.1l0.7 0l0.7 -0.1l0.7 -0.1l0.7 -0.1l0.7 -0.1l0.7 -0.1l0.7 -0.1l0.7 0l0.8 -0.1l0.7 -0.1l0.7 -0.1l0.7 -0.1l0.7 -0.1l0.7 0l0.7 -0.1l0.7 -0.1l0.7 -0.1l0.7 0l0.7 -0.1l0.8 -0.1l0.7 -0.1l0.7 -0.1l0.7 0l0.7 -0.1l0.7 -0.1l0.7 -0.1l0.7 0l0.7 -0.1l0.7 -0.1l0.8 0l0.7 -0.1l0.7 -0.1l0.7 -0.1l0.7 0l0.7 -0.1l0.7 -0.1l0.7 0l0.7 -0.1l0.8 -0.1l0.7 0l0.7 -0.1l0.7 -0.1l0.7 0l0.7 -0.1l0.7 0l0.7 -0.1l0.7 -0.1l0.8 0l0.7 -0.1l0.7 -0.1l0.7 0l0.7 -0.1l0.7 0l0.7 -0.1l0.7 -0.1l0.7 0l0.8 -0.1l0.7 0l0.7 -0.1l0.7 0l0.7 -0.1l0.7 -0.1l0.7 0l0.7 -0.1l0.8 0l0.7 -0.1l0.7 0l0.7 -0.1l0.7 0l0.7 -0.1l0.7 0l0.7 -0.1l0.7 0l0.8 -0.1l0.7 0l0.7 -0.1l0.7 0l0.7 -0.1l0.7 0l0.7 -0.1l0.8 0l0.7 -0.1l0.7 0l0.7 -0.1l0.7 0l0.7 -0.1l0.7 0l0.7 -0.1l0.8 0l0.7 0l0.7 -0.1l0.7 0l0.7 -0.1l0.7 0l0.7 -0.1l0.7 0l0.8 0l0.7 -0.1l0.7 0l0.7 -0.1l0.7 0l0.7 0l0.7 -0.1l0.8 0l0.7 -0.1l0.7 0l0.7 0l0.7 -0.1l0.7 0l0.7 -0.1l0.8 0l0.7 0l0.7 -0.1l0.7 0l0.7 0l0.7 -0.1l0.7 0l0.7 -0.1l0.8 0l0.7 0l0.7 -0.1l0.7 0l0.7 0l0.7 -0.1l0.7 0l0.8 0l0.7 -0.1l0.7 0l0.7 0l0.7 -0.1l0.7 0l0.7 0l0.8 -0.1l0.7 0l0.7 0l0.7 -0.1l0.7 0l0.7 0l0.7 0l0.8 -0.1l0.7 0l0.7 0l0.7 -0.1l0.7 0l0.7 0l0.7 -0.1l0.8 0l0.7 0l0.7 0l0.7 -0.1l0.7 0l0.7 0l0.7 -0.1l0.8 0l0.7 0l0.7 0l0.7 -0.1l0.7 0l0.7 0l0.7 -0.1l0.8 0l0.7 0l0.7 0l0.7 -0.1l0.7 0l0.7 0l0.7 -0.1l0.8 0l0.7 0l0.7 0l0.7 -0.1l0.7 0l0.7 0l0.7 0l0.8 -0.1l0.7 0l0.7 0l0.7 0l0.7 -0.1l0.7 0l0.7 0l0.8 0l0.7 -0.1l0.7 0l0.7 0l0.7 0l0.7 -0.1l0.7 0l0.8 0l0.7 0l0.7 0l0.7 -0.1l0.7 0l0.7 0l0.7 0l0.8 -0.1l0.7 0l0.7 0l0.7 0l0.7 -0.1l0.7 0l0.7 0l0.8 0l0.7 0l0.7 -0.1l0.7 0l0.7 0l0.7 0l0.7 0l0.8 -0.1l0.7 0l0.7 0l0.7 0l0.7 0l0.7 -0.1l0.7 0l0.8 0l0.7 0l0.7 0l0.7 -0.1l0.7 0l0.7 0l0.7 0l0.8 0l0.7 -0.1l0.7 0l0.7 0l0.7 0l0.7 0l0.7 -0.1l0.8 0l0.7 0l0.7 0l0.7 0l0.7 0l0.7 -0.1l0.7 0l0.8 0l0.7 0l0.7 0l0.7 0l0.7 -0.1l0.7 0l0.8 0l0.7 0l0.7 0l0.7 0l0.7 -0.1l0.7 0l0.7 0l0.8 0l0.7 0l0.7 0l0.7 -0.1l0.7 0l0.7 0l0.7 0l0.8 0l0.7 0l0.7 0l0.7 -0.1l0.7 0l0.7 0l0.7 0l0.8 0l0.7 0l0.7 0l0.7 -0.1l0.7 0l0.7 0l0.7 0l0.8 0l0.7 0l0.7 0l0.7 -0.1l0.7 0l0.7 0l0.7 0l0.8 0l0.7 0l0.7 0l0.7 0l0.7 -0.1l0.7 0l0.7 0l0.8 0l0.7 0l0.7 0l0.7 0l0.7 0l0.7 -0.1l0.7 0l0.8 0l0.7 0l0.7 0l0.7 0l0.7 0l0.7 0l0.7 0l0.8 0l0.7 -0.1l0.7 0l0.7 0l0.7 0l0.7 0l0.7 0l0.8 0l0.7 0l0.7 0l0.7 -0.1l0.7 0l0.7 0l0.8 0l0.7 0l0.7 0l0.7 0l0.7 0l0.7 0l0.7 0l0.8 0l0.7 -0.1l0.7 0l0.7 0l0.7 0l0.7 0l0.7 0l0.8 0l0.7 0l0.7 0l0.7 0l0.7 0l0.7 0l0.7 0l0.8 -0.1l0.7 0l0.7 0l0.7 0l0.7 0l0.7 0l0.7 0l0.8 0l0.7 0l0.7 0l0.7 0l0.7 0l0.7 0l0.7 0l0.8 -0.1l0.7 0l0.7 0l0.7 0l0.7 0l0.7 0l0.8 0l0.7 0l0.7 0l0.7 0l0.7 0l0.7 0l0.7 0l0.8 0l0.7 0l0.7 0l0.7 0l0.7 -0.1l0.7 0l0.7 0l0.8 0l0.7 0l0.7 0l0.7 0l0.7 0l0.7 0l0.7 0l0.8 0l0.7 0l0.7 0l0.7 0l0.7 0l0.7 0l0.7 0l0.8 0l0.7 0l0.7 0l0.7 0l0.7 0l0.7 0l0.7 -0.1l0.8 0l0.7 0l0.7 0l0.7 0l0.7 0l0.7 0l0.8 0l0.7 0l0.7 0l0.7 0l0.7 0l0.7 0l0.7 0l0.8 0l0.7 0l0.7 0l0.7 0l0.7 0l0.7 0l0.7 0l0.8 0l0.7 0l0.7 0l0.7 0l0.7 0l0.7 0l0.7 0l0.8 0l0.7 0l0.7 0l0.7 0l0.7 0l0.7 0l0.7 0l0.8 0l0.7 0l0.7 0l0.7 0l0.7 0l0.7 0l0.8 0l0.7 0l0.7 0l0.7 -0.1l0.7 0l0.7 0l0.7 0l0.8 0l0.7 0l0.7 0l0.7 0l0.7 0l0.7 0l0.7 0l0.8 0l0.7 0l0.7 0l0.7 0l0.7 0l0.7 0l0.7 0l0.8 0l0.7 0l0.7 0l0.7 0l0.7 0l0.7 0l0.7 0l0.8 0l0.7 0l0.7 0l0.7 0l0.7 0l0.7 0l0.8 0l0.7 0l0.7 0l0.7 0l0.7 0l0.7 0l0.7 0l0.8 0l0.7 0l0.7 0l0.7 0l0.7 0l0.7 0l0.7 0l0.8 0l0.7 0l0.7 0l0.7 0l0.7 0l0.7 0l0.7 0l0.8 0l0.7 0.1l0.7 0l0.7 0l0.7 0l0.7 0l0.7 0l0.8 0l0.7 0l0.7 0l0.7 0l0.7 0l0.7 0l0.8 0l0.7 0l0.7 0l0.7 0l0.7 0l0.7 0l0.7 0l0.8 0l0.7 0l0.7 0l0.7 0l0.7 0l0.7 0l0.7 0l0.8 0l0.7 0l0.7 0l0.7 0l0.7 0l0.7 0l0.7 0l0.8 0l0.7 0l0.7 0l0.7 0l0.7 0l0.7 0l0.8 0l0.7 0l0.7 0l0.7 0l0.7 0l0.7 0l0.7 0l0.8 0l0.7 0l0.7 0l0.7 0l0.7 0l0.7 0l0.7 0l0.8 0l0.7 0l0.7 0l0.7 0l0.7 0l0.7 0l0.7 0l0.8 0l0.7 0l0.7 0l0.7 0.1l0.7 0l0.7 0l0.7 0l0.8 0l0.7 0l0.7 0l0.7 0l0.7 0l0.7 0l0.8 0l0.7 0l0.7 0l0.7 0l0.7 0l0.7 0l0.7 0l0.8 0l0.7 0l0.7 0l0.7 0l0.7 0l0.7 0l0.7 0l0.8 0l0.7 0l0.7 0l0.7 0l0.7 0l0.7 0l0.7 0l0.8 0l0.7 0l0.7 0l0.7 0l0.7 0l0.7 0l0.8 0l0.7 0l0.7 0l0.7 0l0.7 0l0.7 0l0.7 0l0.8 0l0.7 0l0.7 0l0.7 0l0.7 0l0.7 0.1l0.7 0l0.8 0l0.7 0l0.7 0l0.7 0l0.7 0l0.7 0l0.7 0l0.8 0l0.7 0l0.7 0l0.7 0l0.7 0l0.7 0l0.8 0l0.7 0l0.7 0l0.7 0l0.7 0l0.7 0l0.7 0l0.8 0l0.7 0l0.7 0l0.7 0l0.7 0l0.7 0l0.7 0l0.8 0l0.7 0l0.7 0l0.7 0l0.7 0l0.7 0l0.7 0l0.8 0l0.7 0l0.7 0l0.7 0l0.7 0l0.7 0l0.7 0l0.8 0l0.7 0l0.7 0l0.7 0l0.7 0l0.7 0l0.8 0l0.7 0l0.7 0l0.7 0l0.7 0l0.7 0l0.7 0l0.8 0l0.7 0l0.7 0l0.7 0l0.7 0l0.7 0l0.7 0l0.8 0l0.7 0l0.7 0l0.7 0l0.7 0l0.7 0l0.7 0l0.8 0l0.7 0l0.7 0l0.7 0l0.7 0l0.7 0l0.8 0l0.7 0l0.7 0l0.7 0l0.7 0l0.7 0l0.7 0l0.8 0l0.7 0l0.7 0l0.7 0l0.7 0l0.7 0l0.7 0l0.8 0l0.7 0l0.7 0l0.7 0l0.7 0l0.7 0l0.7 0l0.8 0l0.7 0l0.7 0l0.7 0l0.7 0l0.7 0l0.7 0l0.8 0l0.7 0l0.7 0l0.7 0l0.7 0l0.7 0l0.8 0l0.7 0l0.7 0l0.7 0l0.7 0l0.7 0l0.7 0l0.8 0l0.7 0l0.7 0l0.7 0l0.7 0l0.7 0l0.7 0l0.8 0l0.7 0l0.7 0l0.7 0l0.7 0l0.7 0l0.7 0l0.8 0l0.7 0l0.7 -0.1l0.7 0l0.7 0l0.7 0l0.7 0l0.8 0l0.7 0l0.7 0l0.7 0l0.7 0l0.7 0l0.8 0l0.7 0l0.7 0l0.7 0l0.7 0l0.7 0l0.7 0l0.8 0l0.7 0l0.7 0l0.7 0l0.7 0l0.7 0l0.7 0l0.8 0l0.7 0l0.7 -0.1l0.7 0l0.7 0l0.7 0l0.7 0l0.8 0l0.7 0l0.7 0l0.7 0l0.7 0l0.7 0l0.7 0l0.8 0l0.7 0l0.7 0l0.7 0l0.7 0l0.7 0l0.8 -0.1l0.7 0l0.7 0l0.7 0l0.7 0l0.7 0l0.7 0l0.8 0l0.7 0l0.7 0l0.7 0l0.7 0l0.7 0l0.7 0l0.8 0l0.7 -0.1l0.7 0l0.7 0l0.7 0l0.7 0l0.7 0l0.8 0l0.7 0l0.7 0l0.7 0l0.7 0l0.7 0l0.7 0l0.8 -0.1l0.7 0l0.7 0l0.7 0l0.7 0l0.7 0l0.8 0l0.7 0l0.7 0l0.7 0l0.7 0l0.7 0l0.7 -0.1l0.8 0l0.7 0l0.7 0l0.7 0l0.7 0l0.7 0l0.7 0l0.8 0l0.7 0l0.7 -0.1l0.7 0l0.7 0l0.7 0l0.7 0l0.8 0l0.7 0l0.7 0l0.7 0l0.7 -0.1l0.7 0l0.7 0l0.8 0l0.7 0l0.7 0l0.7 0l0.7 0l0.7 0l0.7 -0.1l0.8 0l0.7 0l0.7 0l0.7 0l0.7 0l0.7 0l0.7 0l0.8 -0.1l0.7 0l0.7 0l0.7 0l0.7 0l0.7 0l0.8 0l0.7 -0.1l0.7 0l0.7 0"/>
<path stroke="#008000" d="M299 1915.6l0.7 0l0.7 0l0.7 0l0.7 0l0.7 0l0.6 0l0.7 0l0.7 0l0.7 0l0.7 0l0.7 0l0.7 0l0.7 0l0.6 0l0.7 0l0.7 0l0.7 0l0.7 0l0.7 0l0.7 0l0.7 0l0.7 0l0.6 0l0.7 0l0.7 0l0.7 0l0.7 0l0.7 0l0.7 0l0.7 0l0.7 0l0.6 0l0.7 0l0.7 0l0.7 0l0.7 0l0.7 0l0.7 0l0.7 0l0.6 0l0.7 0l0.7 0l0.7 0l0.7 0l0.7 0l0.7 0l0.7 0l0.7 0l0.6 0l0.7 0l0.7 0l0.7 0l0.7 0l0.7 0l0.7 0l0.7 0l0.7 0l0.6 0l0.7 0l0.7 0l0.7 0l0.7 0l0.7 0l0.7 0l0.7 0l0.6 0l0.7 0l0.7 0l0.7 0l0.7 0l0.7 0l0.7 0l0.7 0l0.7 0l0.6 0l0.7 0l0.7 0l0.7 0l0.7 0l0.7 0l0.7 0l0.7 0l0.7 0l0.6 0l0.7 0l0.7 0l0.7 0l0.7 0l0.7 0l0.7 0l0.7 0l0.7 0l0.6 0l0.7 0l0.7 0l0.7 0l0.7 0l0.7 0l0.7 0l0.7 0l0.7 0l0.6 0l0.7 0l0.7 0l0.7 0l0.7 0l0.7 0l0.7 0l0.7 0l0.6 0l0.7 0l0.7 0l0.7 0l0.7 -0.1l0.7 0l0.7 0l0.7 0l0.7 0l0.6 0l0.7 0l0.7 0l0.7 0l0.7 0l0.7 0l0.7 0l0.7 0l0.7 0l0.6 0l0.7 0l0.7 0l0.7 0l0.7 0l0.7 0l0.7 0l0.7 0l0.7 0l0.6 0l0.7 0l0.7 0l0.7 0l0.7 0l0.7 0l0.7 0l0.7 0l0.7 0l0.6 0l0.7 0l0.7 0l0.7 0l0.7 0l0.7 0l0.7 0l0.7 0l0.6 0l0.7 0l0.7 0l0.7 0l0.7 0l0.7 0l0.7 0l0.7 0l0.7 0l0.6 0l0.7 0l0.7 0l0.7 0l0.7 0l0.7 0l0.7 0l0.7 0l0.7 0l0.6 0l0.7 0l0.7 0l0.7 0l0.7 0l0.7 0l0.7 0l0.7 0l0.7 0l0.6 0l0.7 0l0.7 0l0.7 0l0.7 0l0.7 0l0.7 0l0.7 0l0.7 0l0.6 0l0.7 0l0.7 0l0.7 0l0.7 0l0.7 0l0.7 0l0.7 0l0.7 0l0.6 0l0.7 0l0.7 0l0.7 0l0.7 0l0.7 0l0.7 0l0.7 0l0.7 0l0.6 0l0.7 0l0.7 0l0.7 0l0.7 0l0.7 0l0.7 0l0.7 0l0.7 0l0.6 0l0.7 0l0.7 0l0.7 0l0.7 0l0.7 0l0.7 0l0.7 0l0.6 0l0.7 0l0.7 0l0.7 0l0.7 0l0.7 0l0.7 0.1l0.7 0l0.7 0l0.6 0l0.7 0l0.7 0l0.7 0l0.7 0l0.7 0l0.7 0l0.7 0l0.7 0l0.6 0l0.7 0l0.7 0l0.7 0l0.7 0l0.7 0l0.7 0l0.7 0l0.7 0l0.6 0l0.7 0l0.7 0l0.7 0l0.7 0l0.7 0l0.7 0l0.7 0l0.7 0l0.6 0l0.7 0l0.7 0l0.7 0l0.7 0l0.7 0l0.7 0l0.7 0l0.7 0l0.6 0l0.7 0l0.7 0l0.7 0l0.7 0l0.7 0l0.7 0l0.7 0l0.7 0l0.6 0l0.7 0l0.7 0l0.7 0l0.7 0l0.7 0.1l0.7 0l0.7 0l0.7 0l0.6 0l0.7 0l0.7 0l0.7 0l0.7 0l0.7 0l0.7 0l0.7 0l0.7 0l0.6 0l0.7 0l0.7 0l0.7 0l0.7 0l0.7 0l0.7 0l0.7 0l0.6 0l0.7 0l0.7 0l0.7 0l0.7 0l0.7 0l0.7 0l0.7 0l0.7 0l0.6 0l0.7 0.1l0.7 0l0.7 0l0.7 0l0.7 0l0.7 0l0.7 0l0.7 0l0.6 0l0.7 0l0.7 0l0.7 0l0.7 0l0.7 0l0.7 0l0.7 0l0.7 0l0.6 0l0.7 0l0.7 0l0.7 0l0.7 0l0.7 0l0.7 0l0.7 0.1l0.7 0l0.6 0l0.7 0l0.7 0l0.7 0l0.7 0l0.7 0l0.7 0l0.7 0l0.7 0l0.6 0l0.7 0l0.7 0l0.7 0l0.7 0l0.7 0l0.7 0l0.7 0l0.7 0.1l0.6 0l0.7 0l0.7 0l0.7 0l0.7 0l0.7 0l0.7 0l0.7 0l0.7 0l0.6 0l0.7 0l0.7 0l0.7 0l0.7 0l0.7 0l0.7 0l0.7 0.1l0.6 0l0.7 0l0.7 0l0.7 0l0.7 0l0.7 0l0.7 0l0.7 0l0.7 0l0.6 0l0.7 0l0.7 0l0.7 0l0.7 0l0.7 0.1l0.7 0l0.7 0l0.7 0l0.6 0l0.7 0l0.7 0l0.7 0l0.7 0l0.7 0l0.7 0l0.7 0l0.7 0l0.6 0.1l0.7 0l0.7 0l0.7 0l0.7 0l0.7 0l0.7 0l0.7 0l0.7 0l0.6 0l0.7 0l0.7 0l0.7 0l0.7 0.1l0.7 0l0.7 0l0.7 0l0.7 0l0.6 0l0.7 0l0.7 0l0.7 0l0.7 0l0.7 0l0.7 0.1l0.7 0l0.6 0l0.7 0l0.7 0l0.7 0l0.7 0l0.7 0l0.7 0l0.7 0l0.7 0l0.6 0.1l0.7 0l0.7 0l0.7 0l0.7 0l0.7 0l0.7 0l0.7 0l0.7 0l0.6 0l0.7 0.1l0.7 0l0.7 0l0.7 0l0.7 0l0.7 0l0.7 0l0.7 0l0.6 0l0.7 0.1l0.7 0l0.7 0l0.7 0l0.7 0l0.7 0l0.7 0l0.7 0l0.6 0l0.7 0l0.7 0.1l0.7 0l0.7 0l0.7 0l0.7 0l0.7 0l0.6 0l0.7 0l0.7 0.1l0.7 0l0.7 0l0.7 0l0.7 0l0.7 0l0.7 0l0.6 0l0.7 0.1l0.7 0l0.7 0l0.7 0l0.7 0l0.7 0l0.7 0l0.7 0l0.6 0.1l0.7 0l0.7 0l0.7 0l0.7 0l0.7 0l0.7 0l0.7 0l0.6 0.1l0.7 0l0.7 0l0.7 0l0.7 0l0.7 0l0.7 0l0.7 0.1l0.7 0l0.6 0l0.7 0l0.7 0l0.7 0l0.7 0l0.7 0.1l0.7 0l0.7 0l0.7 0l0.6 0l0.7 0l0.7 0l0.7 0.1l0.7 0l0.7 0l0.7 0l0.7 0l0.7 0l0.6 0l0.7 0.1l0.7 0l0.7 0l0.7 0l0.7 0l0.7 0l0.7 0.1l0.6 0l0.7 0l0.7 0l0.7 0l0.7 0l0.7 0l0.7 0.1l0.7 0l0.7 0l0.6 0l0.7 0l0.7 0l0.7 0.1l0.7 0l0.7 0l0.7 0l0.7 0l0.6 0l0.7 0.1l0.7 0l0.7 0l0.7 0l0.7 0l0.7 0.1l0.7 0l0.7 0l0.6 0l0.7 0l0.7 0l0.7 0.1l0.7 0l0.7 0l0.7 0l0.7 0l0.7 0l0.6 0.1l0.7 0l0.7 0l0.7 0l0.7 0l0.7 0.1l0.7 0l0.7 0l0.6 0l0.7 0l0.7 0.1l0.7 0l0.7 0l0.7 0l0.7 0l0.7 0.1l0.7 0l0.6 0l0.7 0l0.7 0l0.7 0.1l0.7 0l0.7 0l0.7 0l0.7 0l0.6 0.1l0.7 0l0.7 0l0.7 0l0.7 0l0.7 0.1l0.7 0l0.7 0l0.7 0l0.6 0l0.7 0.1l0.7 0l0.7 0l0.7 0l0.7 0l0.7 0.1l0.7 0l0.6 0l0.7 0l0.7 0.1l0.7 0l0.7 0l0.7 0l0.7 0l0.7 0.1l0.7 0l0.6 0l0.7 0l0.7 0.1l0.7 0l0.7 0l0.7 0l0.7 0l0.7 0.1l0.6 0l0.7 0l0.7 0l0.7 0.1l0.7 0l0.7 0l0.7 0l0.7 0.1l0.7 0l0.6 0l0.7 0l0.7 0.1l0.7 0l0.7 0l0.7 0l0.7 0.1l0.7 0l0.6 0l0.7 0l0.7 0l0.7 0.1l0.7 0l0.7 0l0.7 0.1l0.7 0l0.7 0l0.6 0l0.7 0.1l0.7 0l0.7 0l0.7 0l0.7 0.1l0.7 0l0.7 0l0.6 0l0.7 0.1l0.7 0l0.7 0l0.7 0l0.7 0.1l0.7 0l0.7 0l0.6 0.1l0.7 0l0.7 0l0.7 0l0.7 0.1l0.7 0l0.7 0l0.7 0.1l0.7 0l0.6 0l0.7 0l0.7 0.1l0.7 0l0.7 0l0.7 0.1l0.7 0l0.7 0l0.6 0.1l0.7 0l0.7 0l0.7 0.1l0.7 0l0.7 0l0.7 0.1l0.7 0l0.6 0l0.7 0.1l0.7 0l0.7 0l0.7 0.1l0.7 0l0.7 0l0.7 0.1l0.7 0l0.6 0.1l0.7 0l0.7 0l0.7 0.1l0.7 0l0.7 0.1l0.7 0l0.7 0l0.6 0.1l0.7 0l0.7 0.1l0.7 0l0.7 0.1l0.7 0l0.7 0.1l0.7 0l0.6 0l0.7 0.1l0.7 0l0.7 0.1l0.7 0l0.7 0.1l0.7 0l0.7 0.1l0.6 0l0.7 0.1l0.7 0l0.7 0.1l0.7 0.1l0.7 0l0.7 0.1l0.7 0l0.6 0.1l0.7 0l0.7 0.1l0.7 0.1l0.7 0l0.7 0.1l0.7 0l0.7 0.1l0.6 0.1l0.7 0l0.7 0.1l0.7 0.1l0.7 0l0.7 0.1l0.7 0.1l0.6 0.1l0.7 0l0.7 0.1l0.7 0.1l0.7 0.1l0.7 0.1l0.7 0l0.6 0.1l0.7 0.1l0.7 0.1l0.7 0.1l0.7 0.1l0.7 0.1l0.6 0l0.7 0.1l0.7 0.1l0.7 0.1l0.7 0.1l0.6 0.1l0.7 0.1l0.7 0.1l0.7 0.1l0.7 0.2l0.6 0.1l0.7 0.1l0.7 0.1l0.7 0.1l0.7 0.1l0.6 0.1l0.7 0.2l0.7 0.1l0.7 0.1l0.6 0.1l0.7 0.2l0.7 0.1l0.7 0.1l0.6 0.2l0.7 0.1l0.7 0.2l0.7 0.1l0.6 0.2l0.7 0.1l0.7 0.2l0.6 0.1l0.7 0.2l0.7 0.1l0.6 0.2l0.7 0.2l0.7 0.1l0.6 0.2l0.7 0.2l0.7 0.1l0.6 0.2l0.7 0.2l0.7 0.2l0.6 0.2l0.7 0.2l0.7 0.1l0.6 0.2l0.7 0.2l0.6 0.2l0.7 0.2l0.7 0.2l0.6 0.3l0.7 0.2l0.6 0.2l0.7 0.2l0.6 0.2l0.7 0.2l0.7 0.3l0.6 0.2l0.7 0.2l0.6 0.3l0.7 0.2l0.6 0.3l0.7 0.2l0.6 0.3l0.7 0.2l0.6 0.3l0.7 0.2l0.6 0.3l0.6 0.3l0.7 0.2l0.6 0.3l0.7 0.3l0.6 0.3l0.7 0.3l0.6 0.3l0.6 0.3l0.7 0.3l0.6 0.3l0.6 0.3l0.7 0.3l0.6 0.3l0.6 0.3l0.6 0.3l0.7 0.3l0.6 0.4l0.6 0.3l0.6 0.3l0.6 0.4l0.7 0.3l0.6 0.4l0.6 0.3l0.6 0.4l0.6 0.3l0.6 0.4l0.6 0.3l0.6 0.4l0.6 0.4l0.5 0.4l0.6 0.3l0.6 0.4l0.6 0.4l0.6 0.4l0.5 0.4l0.6 0.4l0.6 0.4l0.5 0.4l0.6 0.4l0.5 0.4l0.6 0.4l0.5 0.5l0.5 0.4l0.6 0.4l0.5 0.5l0.5 0.4l0.5 0.4l0.6 0.5l0.5 0.4l0.5 0.5l0.5 0.4l0.5 0.5l0.5 0.5l0.5 0.4l0.5 0.5l0.4 0.5l0.5 0.5l0.5 0.4l0.4 0.5l0.5 0.5l0.5 0.5l0.4 0.5l0.5 0.5l0.4 0.5l0.5 0.5l0.4 0.5l0.4 0.6l0.5 0.5l0.4 0.5l0.4 0.5l0.4 0.5l0.5 0.6l0.4 0.5l0.4 0.5l0.4 0.6l0.4 0.5l0.4 0.6l0.4 0.5l0.4 0.6l0.4 0.5l0.3 0.6l0.4 0.5l0.4 0.6l0.4 0.6l0.3 0.5l0.4 0.6l0.4 0.6l0.3 0.6l0.4 0.5l0.3 0.6l0.4 0.6l0.3 0.6l0.4 0.6l0.3 0.6l0.4 0.6l0.3 0.6l0.3 0.6l0.4 0.6l0.3 0.6l0.3 0.6l0.3 0.6l0.3 0.6l0.4 0.6l0.3 0.6l0.3 0.6l0.3 0.6l0.3 0.6l0.3 0.7l0.3 0.6l0.3 0.6l0.3 0.6l0.3 0.7l0.2 0.6l0.3 0.6l0.3 0.6l0.3 0.7l0.3 0.6l0.3 0.7l0.2 0.6l0.3 0.6l0.3 0.7l0.2 0.6l0.3 0.7l0.3 0.6l0.2 0.7l0.3 0.6l0.2 0.6l0.3 0.7l0.2 0.6l0.3 0.7l0.2 0.7l0.3 0.6l0.2 0.7l0.3 0.6l0.2 0.7l0.3 0.6l0.2 0.7l0.2 0.7l0.3 0.6l0.2 0.7l0.2 0.6l0.3 0.7l0.2 0.7l0.2 0.6l0.2 0.7l0.3 0.7l0.2 0.6l0.2 0.7l0.2 0.7l0.2 0.6l0.3 0.7l0.2 0.7l0.2 0.6l0.2 0.7l0.2 0.7l0.2 0.6l0.2 0.7l0.3 0.7l0.2 0.6l0.2 0.7l0.2 0.7l0.2 0.7l0.2 0.6l0.2 0.7l0.2 0.7l0.2 0.6l0.2 0.7l0.2 0.7l0.2 0.6l0.2 0.7l0.2 0.7l0.2 0.6l0.2 0.7l0.2 0.7l0.2 0.7l0.2 0.6l0.2 0.7l0.2 0.7l0.1 0.6l0.2 0.7l0.2 0.7l0.2 0.6l0.2 0.7l0.2 0.7l0.2 0.6l0.2 0.7l0.2 0.6l0.1 0.7l0.2 0.7l0.2 0.6l0.2 0.7l0.2 0.7l0.2 0.6l0.2 0.7l0.1 0.7l0.2 0.6l0.2 0.7l0.2 0.7l0.2 0.6l0.1 0.7l0.2 0.6l0.2 0.7l0.2 0.7l0.2 0.6l0.1 0.7l0.2 0.7l0.2 0.6l0.2 0.7l0.1 0.6l0.2 0.7l0.2 0.7l0.1 0.6l0.2 0.7l0.2 0.7l0.2 0.6l0.1 0.7l0.2 0.7l0.2 0.6l0.1 0.7l0.2 0.6l0.2 0.7l0.1 0.7l0.2 0.6l0.2 0.7l0.1 0.6l0.2 0.7l0.2 0.7l0.1 0.6l0.2 0.7l0.2 0.7l0.1 0.6l0.2 0.7l0.2 0.6l0.1 0.7l0.2 0.7l0.1 0.6l0.2 0.7l0.2 0.7l0.1 0.6l0.2 0.7l0.1 0.7l0.2 0.6l0.2 0.7l0.1 0.6l0.2 0.7l0.1 0.7l0.2 0.6l0.1 0.7l0.2 0.7l0.1 0.6l0.2 0.7l0.2 0.7l0.1 0.6l0.2 0.7l0.1 0.7l0.2 0.6l0.1 0.7l0.2 0.6l0.1 0.7l0.2 0.7l0.1 0.6l0.2 0.7l0.1 0.7l0.2 0.6l0.1 0.7l0.2 0.7l0.1 0.6l0.2 0.7l0.1 0.7l0.2 0.6l0.1 0.7l0.2 0.7l0.1 0.6l0.2 0.7l0.1 0.7l0.1 0.6l0.2 0.7l0.1 0.7l0.2 0.7l0.1 0.6l0.2 0.7l0.1 0.7l0.2 0.6l0.1 0.7l0.1 0.7l0.2 0.6l0.1 0.7l0.2 0.7l0.1 0.6l0.1 0.7l0.2 0.7l0.1 0.7l0.2 0.6l0.1 0.7l0.1 0.7l0.2 0.6l0.1 0.7l0.2 0.7l0.1 0.6l0.1 0.7l0.2 0.7l0.1 0.7l0.1 0.6l0.2 0.7l0.1 0.7l0.1 0.7l0.2 0.6l0.1 0.7l0.1 0.7l0.2 0.6l0.1 0.7l0.1 0.7l0.2 0.7l0.1 0.6l0.1 0.7l0.2 0.7l0.1 0.7l0.1 0.6l0.2 0.7l0.1 0.7l0.1 0.6l0.2 0.7l0.1 0.7l0.1 0.7l0.1 0.6l0.2 0.7l0.1 0.7l0.1 0.7l0.2 0.6l0.1 0.7l0.1 0.7l0.1 0.7l0.2 0.6l0.1 0.7l0.1 0.7l0.1 0.7l0.2 0.6l0.1 0.7l0.1 0.7l0.1 0.7l0.2 0.6l0.1 0.7l0.1 0.7l0.1 0.7l0.2 0.7l0.1 0.6l0.1 0.7l0.1 0.7l0.1 0.7l0.2 0.6l0.1 0.7l0.1 0.7l0.1 0.7l0.2 0.6l0.1 0.7l0.1 0.7l0.1 0.7l0.1 0.7l0.2 0.6l0.1 0.7l0.1 0.7l0.1 0.7l0.1 0.6l0.1 0.7l0.2 0.7l0.1 0.7l0.1 0.7l0.1 0.6l0.1 0.7l0.1 0.7l0.2 0.7l0.1 0.7l0.1 0.6l0.1 0.7l0.1 0.7l0.1 0.7l0.1 0.7l0.2 0.6l0.1 0.7l0.1 0.7l0.1 0.7l0.1 0.7l0.1 0.6l0.1 0.7l0.1 0.7l0.2 0.7l0.1 0.7l0.1 0.6l0.1 0.7l0.1 0.7l0.1 0.7l0.1 0.7l0.1 0.6l0.1 0.7l0.2 0.7l0.1 0.7l0.1 0.7l0.1 0.6l0.1 0.7l0.1 0.7l0.1 0.7l0.1 0.7l0.1 0.7l0.1 0.6l0.1 0.7l0.1 0.7l0.1 0.7l0.2 0.7l0.1 0.6l0.1 0.7l0.1 0.7l0.1 0.7l0.1 0.7l0.1 0.7l0.1 0.6l0.1 0.7l0.1 0.7l0.1 0.7l0.1 0.7l0.1 0.7l0.1 0.6l0.1 0.7l0.1 0.7l0.1 0.7l0.1 0.7l0.1 0.7l0.1 0.6l0.1 0.7l0.1 0.7l0.1 0.7l0.1 0.7l0.1 0.7l0.1 0.6l0.1 0.7l0.1 0.7l0.1 0.7l0.1 0.7l0.1 0.7l0.1 0.6l0.1 0.7l0.1 0.7l0.1 0.7l0.1 0.7l0.1 0.7l0.1 0.7l0.1 0.6l0.1 0.7l0.1 0.7l0.1 0.7l0.1 0.7l0.1 0.7l0.1 0.6l0.1 0.7l0.1 0.7l0.1 0.7l0.1 0.7l0.1 0.7l0.1 0.7l0.1 0.6l0.1 0.7l0.1 0.7l0.1 0.7l0.1 0.7l0.1 0.7l0.1 0.7l0.1 0.6l0 0.7l0.1 0.7l0.1 0.7l0.1 0.7l0.1 0.7l0.1 0.7l0.1 0.6l0.1 0.7l0.1 0.7l0.1 0.7l0.1 0.7l0.1 0.7l0.1 0.7l0.1 0.6l0 0.7l0.1 0.7l0.1 0.7l0.1 0.7l0.1 0.7l0.1 0.7l0.1 0.6l0.1 0.7l0.1 0.7l0.1 0.7l0.1 0.7l0 0.7l0.1 0.7l0.1 0.7l0.1 0.6l0.1 0.7l0.1 0.7l0.1 0.7l0.1 0.7l0.1 0.7l0 0.7l0.1 0.6l0.1 0.7l0.1 0.7l0.1 0.7l0.1 0.7l0.1 0.7l0.1 0.7l0.1 0.7l0 0.6l0.1 0.7l0.1 0.7l0.1 0.7l0.1 0.7l0.1 0.7l0.1 0.7l0 0.7l0.1 0.6l0.1 0.7l0.1 0.7l0.1 0.7l0.1 0.7l0.1 0.7l0 0.7l0.1 0.6l0.1 0.7l0.1 0.7l0.1 0.7l0.1 0.7l0.1 0.7l0 0.7l0.1 0.7l0.1 0.6l0.1 0.7l0.1 0.7l0.1 0.7l0 0.7l0.1 0.7l0.1 0.7l0.1 0.7l0.1 0.6l0.1 0.7l0.1 0.7l0 0.7l0.1 0.7l0.1 0.7l0.1 0.7l0.1 0.7l0 0.6l0.1 0.7l0.1 0.7l0.1 0.7l0.1 0.7l0.1 0.7l0 0.7l0.1 0.7l0.1 0.6l0.1 0.7l0.1 0.7l0.1 0.7l0 0.7l0.1 0.7l0.1 0.7l0.1 0.7l0.1 0.6l0 0.7l0.1 0.7l0.1 0.7l0.1 0.7l0.1 0.7l0 0.7l0.1 0.7l0.1 0.6l0.1 0.7l0.1 0.7l0 0.7l0.1 0.7l0.1 0.7l0.1 0.7l0.1 0.7l0 0.6l0.1 0.7l0.1 0.7l0.1 0.7l0.1 0.7l0 0.7l0.1 0.7l0.1 0.7l0.1 0.6l0.1 0.7l0 0.7l0.1 0.7l0.1 0.7l0.1 0.7l0.1 0.7l0 0.7l0.1 0.6l0.1 0.7l0.1 0.7l0.1 0.7l0 0.7l0.1 0.7l0.1 0.7l0.1 0.6l0 0.7l0.1 0.7l0.1 0.7l0.1 0.7l0.1 0.7l0 0.7l0.1 0.7l0.1 0.6l0.1 0.7l0.1 0.7l0 0.7l0.1 0.7l0.1 0.7l0.1 0.7l0 0.6l0.1 0.7l0.1 0.7l0.1 0.7l0.1 0.7l0 0.7l0.1 0.7l0.1 0.6l0.1 0.7l0 0.7l0.1 0.7l0.1 0.7l0.1 0.7l0.1 0.7l0 0.6l0.1 0.7l0.1 0.7l0.1 0.7l0 0.7l0.1 0.7l0.1 0.7l0.1 0.6l0 0.7l0.1 0.7l0.1 0.7l0.1 0.7l0.1 0.7l0 0.7l0.1 0.6l0.1 0.7l0.1 0.7l0 0.7l0.1 0.7l0.1 0.7l0.1 0.7l0.1 0.6l0 0.7l0.1 0.7l0.1 0.7l0.1 0.7l0 0.7l0.1 0.6l0.1 0.7l0.1 0.7l0 0.7l0.1 0.7l0.1 0.7l0.1 0.7l0.1 0.6l0 0.7l0.1 0.7l0.1 0.7l0.1 0.7l0 0.7l0.1 0.6l0.1 0.7l0.1 0.7l0.1 0.7l0 0.7l0.1 0.7l0.1 0.6l0.1 0.7l0 0.7l0.1 0.7l0.1 0.7l0.1 0.7l0 0.6l0.1 0.7l0.1 0.7l0.1 0.7l0.1 0.7l0 0.7l0.1 0.6l0.1 0.7l0.1 0.7l0 0.7l0.1 0.7l0.1 0.6l0.1 0.7l0.1 0.7l0 0.7l0.1 0.7l0.1 0.7l0.1 0.6l0.1 0.7l0 0.7l0.1 0.7l0.1 0.7l0.1 0.6l0 0.7l0.1 0.7l0.1 0.7l0.1 0.7l0.1 0.7l0 0.6l0.1 0.7l0.1 0.7l0.1 0.7l0.1 0.7l0 0.6l0.1 0.7l0.1 0.7l0.1 0.7l0 0.7l0.1 0.6l0.1 0.7l0.1 0.7l0.1 0.7l0 0.7l0.1 0.6l0.1 0.7l0.1 0.7l0.1 0.7l0 0.7l0.1 0.6l0.1 0.7l0.1 0.7l0.1 0.7l0 0.6l0.1 0.7l0.1 0.7l0.1 0.7l0.1 0.7l0 0.6l0.1 0.7l0.1 0.7l0.1 0.7l0.1 0.7l0 0.6l0.1 0.7l0.1 0.7l0.1 0.7l0.1 0.6l0.1 0.7l0 0.7l0.1 0.7l0.1 0.7l0.1 0.6l0.1 0.7l0 0.7l0.1 0.7l0.1 0.6l0.1 0.7l0.1 0.7l0.1 0.7l0 0.6l0.1 0.7l0.1 0.7l0.1 0.7l0.1 0.7l0 0.6l0.1 0.7l0.1 0.7l0.1 0.7l0.1 0.6l0.1 0.7l0 0.7l0.1 0.7l0.1 0.6l0.1 0.7l0.1 0.7l0.1 0.7l0 0.6l0.1 0.7l0.1 0.7l0.1 0.7l0.1 0.7l0.1 0.6l0 0.7l0.1 0.7l0.1 0.7l0.1 0.6l0.1 0.7l0.1 0.7l0 0.7l0.1 0.6l0.1 0.7l0.1 0.7l0.1 0.7l0.1 0.6l0 0.7l0.1 0.7l0.1 0.7l0.1 0.6l0.1 0.7l0.1 0.7l0 0.7l0.1 0.7l0.1 0.6l0.1 0.7l0.1 0.7l0.1 0.7l0 0.6l0.1 0.7l0.1 0.7l0.1 0.7l0.1 0.6l0.1 0.7l0.1 0.7l0 0.7l0.1 0.6l0.1 0.7l0.1 0.7l0.1 0.7l0.1 0.7l0.1 0.6l0 0.7l0.1 0.7l0.1 0.7l0.1 0.6l0.1 0.7l0.1 0.7l0 0.7l0.1 0.6l0.1 0.7l0.1 0.7l0.1 0.7l0.1 0.7l0.1 0.6l0 0.7l0.1 0.7l0.1 0.7l0.1 0.6l0.1 0.7l0.1 0.7l0.1 0.7l0 0.7l0.1 0.6l0.1 0.7l0.1 0.7l0.1 0.7l0.1 0.6l0.1 0.7l0 0.7l0.1 0.7l0.1 0.7l0.1 0.6l0.1 0.7l0.1 0.7l0.1 0.7l0 0.7l0.1 0.6l0.1 0.7l0.1 0.7l0.1 0.7l0.1 0.7l0.1 0.6l0.1 0.7l0 0.7l0.1 0.7l0.1 0.7l0.1 0.6l0.1 0.7l0.1 0.7l0.1 0.7l0 0.7l0.1 0.6l0.1 0.7l0.1 0.7l0.1 0.7l0.1 0.7l0.1 0.6l0 0.7l0.1 0.7l0.1 0.7l0.1 0.7l0.1 0.7l0.1 0.6l0.1 0.7l0.1 0.7l0 0.7l0.1 0.7l0.1 0.7l0.1 0.6l0.1 0.7l0.1 0.7l0.1 0.7l0 0.7l0.1 0.7l0.1 0.6l0.1 0.7l0.1 0.7l0.1 0.7l0.1 0.7l0.1 0.7l0 0.7l0.1 0.6l0.1 0.7l0.1 0.7l0.1 0.7l0.1 0.7l0.1 0.7l0.1 0.7l0 0.6l0.1 0.7l0.1 0.7l0.1 0.7l0.1 0.7l0.1 0.7l0.1 0.7l0 0.7l0.1 0.6l0.1 0.7l0.1 0.7l0.1 0.7l0.1 0.7l0.1 0.7l0.1 0.7l0 0.7l0.1 0.7l0.1 0.6l0.1 0.7l0.1 0.7l0.1 0.7l0.1 0.7l0.1 0.7l0 0.7l0.1 0.7l0.1 0.7l0.1 0.7l0.1 0.7l0.1 0.7l0.1 0.6l0 0.7l0.1 0.7l0.1 0.7l0.1 0.7l0.1 0.7l0.1 0.7l0.1 0.7l0.1 0.7l0 0.7l0.1 0.7l0.1 0.7l0.1 0.7l0.1 0.7l0.1 0.7l0.1 0.7l0.1 0.7l0 0.7l0.1 0.7l0.1 0.7l0.1 0.6l0.1 0.7l0.1 0.7l0.1 0.7l0 0.7l0.1 0.7l0.1 0.7l0.1 0.7l0.1 0.7l0.1 0.7l0.1 0.7l0.1 0.7l0 0.7l0.1 0.7l0.1 0.7l0.1 0.7l0.1 0.7l0.1 0.7l0.1 0.8l0 0.7l0.1 0.7l0.1 0.7l0.1 0.7l0.1 0.7l0.1 0.7l0.1 0.7l0 0.7l0.1 0.7l0.1 0.7l0.1 0.7l0.1 0.7l0.1 0.7l0.1 0.7l0.1 0.7l0 0.7l0.1 0.7l0.1 0.7l0.1 0.8l0.1 0.7l0.1 0.7l0.1 0.7l0 0.7l0.1 0.7l0.1 0.7l0.1 0.7l0.1 0.7l0.1 0.7l0.1 0.8l0 0.7l0.1 0.7l0.1 0.7l0.1 0.7l0.1 0.7l0.1 0.7l0.1 0.7l0 0.8l0.1 0.7l0.1 0.7l0.1 0.7l0.1 0.7l0.1 0.7l0 0.8l0.1 0.7l0.1 0.7l0.1 0.7l0.1 0.7l0.1 0.7l0.1 0.7l0.1 0.8l0.1 0.7l0 0.7l0.1 0.7l0.1 0.7l0.2 0.7l0.1 0.7l0.1 0.7l0.1 0.7l0.1 0.7l0.1 0.7l0.2 0.7l0.1 0.7l0.2 0.6l0.1 0.7l0.2 0.7l0.1 0.6l0.2 0.7l0.2 0.6l0.2 0.7l0.2 0.6l0.2 0.7l0.2 0.6l0.2 0.6l0.3 0.6l0.2 0.6l0.3 0.6l0.3 0.6l0.3 0.6l0.2 0.5l0.4 0.6l0.3 0.5l0.3 0.6l0.4 0.5l0.3 0.5l0.4 0.5l0.4 0.5l0.4 0.5l0.4 0.5l0.4 0.5l0.5 0.4l0.4 0.5l0.5 0.4l0.5 0.4l0.5 0.4l0.6 0.4l0.5 0.4l0.6 0.3l0.5 0.2l0.5 0.2l1 0l0.8 -0.3l0.4 -0.3l0.4 -0.3l0.4 -0.5l0.3 -0.4l0.3 -0.6l0.4 -0.5l0.3 -0.6l0.3 -0.6l0.2 -0.6l0.3 -0.7l0.3 -0.6l0.3 -0.6l0.3 -0.7l0.2 -0.6l0.3 -0.6l0.3 -0.7l0.2 -0.6l0.3 -0.6l0.2 -0.7l0.3 -0.6l0.2 -0.7l0.3 -0.6l0.2 -0.6l0.2 -0.7l0.3 -0.6l0.2 -0.7l0.2 -0.6l0.2 -0.7l0.2 -0.6l0.3 -0.7l0.2 -0.6l0.2 -0.7l0.2 -0.6l0.2 -0.7l0.2 -0.6l0.2 -0.7l0.2 -0.6l0.1 -0.7l0.2 -0.6l0.2 -0.7l0.2 -0.7l0.2 -0.6l0.1 -0.7l0.2 -0.6l0.2 -0.7l0.1 -0.7l0.2 -0.6l0.1 -0.7l0.2 -0.6l0.2 -0.7l0.1 -0.7l0.2 -0.6l0.1 -0.7l0.1 -0.7l0.2 -0.6l0.1 -0.7l0.1 -0.7l0.2 -0.6l0.1 -0.7l0.1 -0.7l0.2 -0.7l0.1 -0.6l0.1 -0.7l0.1 -0.7l0.1 -0.7l0.1 -0.6l0.1 -0.7l0.1 -0.7l0.2 -0.7l0.1 -0.6l0.1 -0.7l0.1 -0.7l0 -0.7l0.1 -0.6l0.1 -0.7l0.1 -0.7l0.1 -0.7l0.1 -0.7l0.1 -0.7l0.1 -0.6l0 -0.7l0.1 -0.7l0.1 -0.7l0.1 -0.7l0 -0.7l0.1 -0.6l0.1 -0.7l0 -0.7l0.1 -0.7l0 -0.7l0.1 -0.7l0.1 -0.7l0 -0.7l0.1 -0.6l0 -0.7l0.1 -0.7l0 -0.7l0.1 -0.7l0 -0.7l0.1 -0.7l0 -0.7l0.1 -0.7l0 -0.7l0 -0.7l0.1 -0.6l0 -0.7l0.1 -0.7l0 -0.7l0 -0.7l0.1 -0.7l0 -0.7l0 -0.7l0 -0.7l0.1 -0.7l0 -0.7l0 -0.7l0 -0.7l0.1 -0.7l0 -0.7l0 -0.7l0 -0.7l0 -0.7l0.1 -0.7l0 -0.7l0 -0.7l0 -0.7l0 -0.7l0 -0.7l0.1 -0.7l0 -0.7l0 -0.7l0 -0.7l0 -0.7l0 -0.7l0 -0.7l0 -0.7l0 -0.7l0 -0.7l0 -0.7l0.1 -0.7l0 -0.7l0 -0.7l0 -0.7l0 -0.7l0 -0.7l0 -0.7l0 -0.7l0 -0.7l0 -0.7l0 -0.7l0 -0.7l0 -0.7l0 -0.7l0 -0.7l0 -0.7l0 -0.7l0 -0.7l0 -0.7l0 -0.7l0 -0.7l0 -0.7l0 -0.7l0 -0.7l0 -0.7l0 -0.7l0 -0.7l0 -0.7l0.1 -0.7l0 -0.7l0 -0.7l0 -0.7l0 -0.7l0 -0.7l0 -0.7l0 -0.7l0 -0.7l0 -0.7l0 -0.7l0 -0.7l0 -0.7l0 -0.7l0 -0.7l0.1 -0.7l0 -0.7l0 -0.7l0 -0.7l0 -0.7l0 -0.7l0 -0.7l0.1 -0.7l0 -0.7l0 -0.7l0 -0.7l0 -0.7l0.1 -0.7l0 -0.7l0 -0.7l0 -0.7l0 -0.7l0.1 -0.7l0 -0.6l0 -0.7l0.1 -0.7l0 -0.7l0 -0.7l0 -0.7l0.1 -0.7l0 -0.7l0.1 -0.7l0 -0.7l0 -0.7l0.1 -0.7l0 -0.7l0 -0.6l0.1 -0.7l0 -0.7l0.1 -0.7l0 -0.7l0.1 -0.7l0 -0.7l0.1 -0.7l0 -0.7l0.1 -0.6l0 -0.7l0.1 -0.7l0 -0.7l0.1 -0.7l0 -0.7l0.1 -0.7l0 -0.6l0.1 -0.7l0 -0.7l0.1 -0.7l0.1 -0.7l0 -0.7l0.1 -0.7l0 -0.6l0.1 -0.7l0.1 -0.7l0 -0.7l0.1 -0.7l0 -0.7l0.1 -0.6l0.1 -0.7l0 -0.7l0.1 -0.7l0.1 -0.7l0 -0.7l0.1 -0.6l0.1 -0.7l0 -0.7l0.1 -0.7l0.1 -0.7l0.1 -0.7l0 -0.6l0.1 -0.7l0.1 -0.7l0 -0.7l0.1 -0.7l0.1 -0.6l0.1 -0.7l0 -0.7l0.1 -0.7l0.1 -0.7l0.1 -0.6l0 -0.7l0.1 -0.7l0.1 -0.7l0.1 -0.7l0 -0.6l0.1 -0.7l0.1 -0.7l0.1 -0.7l0 -0.7l0.1 -0.6l0.1 -0.7l0.1 -0.7l0.1 -0.7l0 -0.7l0.1 -0.6l0.1 -0.7l0.1 -0.7l0 -0.7l0.1 -0.7l0.1 -0.6l0.1 -0.7l0.1 -0.7l0 -0.7l0.1 -0.6l0.1 -0.7l0.1 -0.7l0.1 -0.7l0 -0.7l0.1 -0.6l0.1 -0.7l0.1 -0.7l0.1 -0.7l0 -0.7l0.1 -0.6l0.1 -0.7l0.1 -0.7l0 -0.7l0.1 -0.6l0.1 -0.7l0.1 -0.7l0.1 -0.7l0 -0.7l0.1 -0.6l0.1 -0.7l0.1 -0.7l0 -0.7l0.1 -0.7l0.1 -0.6l0.1 -0.7l0 -0.7l0.1 -0.7l0.1 -0.7l0.1 -0.6l0 -0.7l0.1 -0.7l0.1 -0.7l0 -0.7l0.1 -0.6l0.1 -0.7l0.1 -0.7l0 -0.7l0.1 -0.7l0.1 -0.6l0 -0.7l0.1 -0.7l0.1 -0.7l0 -0.7l0.1 -0.6l0.1 -0.7l0 -0.7l0.1 -0.7l0.1 -0.7l0 -0.7l0.1 -0.6l0.1 -0.7l0 -0.7l0.1 -0.7l0 -0.7l0.1 -0.6l0.1 -0.7l0 -0.7l0.1 -0.7l0 -0.7l0.1 -0.7l0.1 -0.6l0 -0.7l0.1 -0.7l0 -0.7l0.1 -0.7l0 -0.7l0.1 -0.7l0 -0.6l0.1 -0.7l0 -0.7l0.1 -0.7l0 -0.7l0.1 -0.7l0 -0.7l0.1 -0.6l0 -0.7l0.1 -0.7l0 -0.7l0.1 -0.7l0 -0.7l0.1 -0.7l0 -0.6l0.1 -0.7l0 -0.7l0.1 -0.7l0 -0.7l0 -0.7l0.1 -0.7l0 -0.6l0.1 -0.7l0 -0.7l0.1 -0.7l0 -0.7l0 -0.7l0.1 -0.7l0 -0.7l0.1 -0.7l0 -0.6l0 -0.7l0.1 -0.7l0 -0.7l0.1 -0.7l0 -0.7l0 -0.7l0.1 -0.7l0 -0.6l0 -0.7l0.1 -0.7l0 -0.7l0.1 -0.7l0 -0.7l0 -0.7l0.1 -0.7l0 -0.7l0 -0.6l0.1 -0.7l0 -0.7l0 -0.7l0.1 -0.7l0 -0.7l0.1 -0.7l0 -0.7l0 -0.7l0.1 -0.7l0 -0.6l0 -0.7l0.1 -0.7l0 -0.7l0 -0.7l0.1 -0.7l0 -0.7l0 -0.7l0.1 -0.7l0 -0.7l0 -0.6l0.1 -0.7l0 -0.7l0 -0.7l0.1 -0.7l0 -0.7l0 -0.7l0.1 -0.7l0 -0.7l0.1 -0.7l0 -0.6l0 -0.7l0.1 -0.7l0 -0.7l0 -0.7l0.1 -0.7l0 -0.7l0 -0.7l0.1 -0.7l0 -0.7l0 -0.6l0.1 -0.7l0 -0.7l0 -0.7l0.1 -0.7l0 -0.7l0.1 -0.7l0 -0.7l0 -0.7l0.1 -0.7l0 -0.7l0 -0.6l0.1 -0.7l0 -0.7l0.1 -0.7l0 -0.7l0 -0.7l0.1 -0.7l0 -0.7l0.1 -0.7l0 -0.6l0 -0.7l0.1 -0.7l0 -0.7l0.1 -0.7l0 -0.7l0 -0.7l0.1 -0.7l0 -0.7l0.1 -0.7l0 -0.6l0.1 -0.7l0 -0.7l0 -0.7l0.1 -0.7l0 -0.7l0.1 -0.7l0 -0.7l0.1 -0.7l0 -0.6l0.1 -0.7l0 -0.7l0.1 -0.7l0 -0.7l0.1 -0.7l0 -0.7l0.1 -0.7l0 -0.6l0.1 -0.7l0 -0.7l0.1 -0.7l0 -0.7l0.1 -0.7l0 -0.7l0.1 -0.7l0.1 -0.6l0 -0.7l0.1 -0.7l0 -0.7l0.1 -0.7l0 -0.7l0.1 -0.7l0.1 -0.7l0 -0.6l0.1 -0.7l0 -0.7l0.1 -0.7l0.1 -0.7l0 -0.7l0.1 -0.7l0.1 -0.6l0 -0.7l0.1 -0.7l0 -0.7l0.1 -0.7l0.1 -0.7l0 -0.7l0.1 -0.6l0.1 -0.7l0 -0.7l0.1 -0.7l0.1 -0.7l0 -0.7l0.1 -0.7l0.1 -0.6l0.1 -0.7l0 -0.7l0.1 -0.7l0.1 -0.7l0 -0.7l0.1 -0.6l0.1 -0.7l0 -0.7l0.1 -0.7l0.1 -0.7l0.1 -0.7l0 -0.6l0.1 -0.7l0.1 -0.7l0.1 -0.7l0 -0.7l0.1 -0.7l0.1 -0.6l0.1 -0.7l0 -0.7l0.1 -0.7l0.1 -0.7l0 -0.7l0.1 -0.7l0.1 -0.6l0.1 -0.7l0 -0.7l0.1 -0.7l0.1 -0.7l0.1 -0.7l0 -0.6l0.1 -0.7l0.1 -0.7l0.1 -0.7l0 -0.7l0.1 -0.7l0.1 -0.6l0.1 -0.7l0 -0.7l0.1 -0.7l0.1 -0.7l0.1 -0.7l0 -0.6l0.1 -0.7l0.1 -0.7l0.1 -0.7l0 -0.7l0.1 -0.7l0.1 -0.6l0.1 -0.7l0 -0.7l0.1 -0.7l0.1 -0.7l0.1 -0.7l0 -0.6l0.1 -0.7l0.1 -0.7l0.1 -0.7l0 -0.7l0.1 -0.7l0.1 -0.6l0.1 -0.7l0 -0.7l0.1 -0.7l0.1 -0.7l0 -0.7l0.1 -0.6l0.1 -0.7l0.1 -0.7l0 -0.7l0.1 -0.7l0.1 -0.7l0 -0.6l0.1 -0.7l0.1 -0.7l0 -0.7l0.1 -0.7l0.1 -0.7l0 -0.7l0.1 -0.6l0.1 -0.7l0 -0.7l0.1 -0.7l0.1 -0.7l0 -0.7l0.1 -0.6l0.1 -0.7l0 -0.7l0.1 -0.7l0 -0.7l0.1 -0.7l0.1 -0.7l0 -0.6l0.1 -0.7l0.1 -0.7l0 -0.7l0.1 -0.7l0 -0.7l0.1 -0.7l0 -0.6l0.1 -0.7l0.1 -0.7l0 -0.7l0.1 -0.7l0 -0.7l0.1 -0.7l0 -0.6l0.1 -0.7l0 -0.7l0.1 -0.7l0.1 -0.7l0 -0.7l0.1 -0.7l0 -0.6l0.1 -0.7l0 -0.7l0.1 -0.7l0 -0.7l0.1 -0.7l0 -0.7l0.1 -0.7l0 -0.6l0.1 -0.7l0 -0.7l0.1 -0.7l0 -0.7l0.1 -0.7l0 -0.7l0.1 -0.7l0 -0.6l0 -0.7l0.1 -0.7l0 -0.7l0.1 -0.7l0 -0.7l0.1 -0.7l0 -0.7l0.1 -0.6l0 -0.7l0.1 -0.7l0 -0.7l0 -0.7l0.1 -0.7l0 -0.7l0.1 -0.7l0 -0.6l0.1 -0.7l0 -0.7l0 -0.7l0.1 -0.7l0 -0.7l0.1 -0.7l0 -0.7l0 -0.7l0.1 -0.6l0 -0.7l0.1 -0.7l0 -0.7l0 -0.7l0.1 -0.7l0 -0.7l0.1 -0.7l0 -0.7l0 -0.6l0.1 -0.7l0 -0.7l0.1 -0.7l0 -0.7l0 -0.7l0.1 -0.7l0 -0.7l0.1 -0.7l0 -0.6l0 -0.7l0.1 -0.7l0 -0.7l0 -0.7l0.1 -0.7l0 -0.7l0.1 -0.7l0 -0.7l0 -0.6l0.1 -0.7l0 -0.7l0 -0.7l0.1 -0.7l0 -0.7l0.1 -0.7l0 -0.7l0 -0.7l0.1 -0.6l0 -0.7l0 -0.7l0.1 -0.7l0 -0.7l0.1 -0.7l0 -0.7l0 -0.7l0.1 -0.7l0 -0.6l0 -0.7l0.1 -0.7l0 -0.7l0.1 -0.7l0 -0.7l0 -0.7l0.1 -0.7l0 -0.7l0 -0.6l0.1 -0.7l0 -0.7l0.1 -0.7l0 -0.7l0 -0.7l0.1 -0.7l0 -0.7l0 -0.7l0.1 -0.6l0 -0.7l0.1 -0.7l0 -0.7l0 -0.7l0.1 -0.7l0 -0.7l0.1 -0.7l0 -0.7l0 -0.6l0.1 -0.7l0 -0.7l0.1 -0.7l0 -0.7l0 -0.7l0.1 -0.7l0 -0.7l0.1 -0.7l0 -0.6l0 -0.7l0.1 -0.7l0 -0.7l0.1 -0.7l0 -0.7l0 -0.7l0.1 -0.7l0 -0.6l0.1 -0.7l0 -0.7l0.1 -0.7l0 -0.7l0 -0.7l0.1 -0.7l0 -0.7l0.1 -0.6l0 -0.7l0.1 -0.7l0 -0.7l0.1 -0.7l0 -0.7l0 -0.7l0.1 -0.7l0 -0.7l0.1 -0.6l0 -0.7l0.1 -0.7l0 -0.7l0.1 -0.7l0 -0.7l0.1 -0.7l0 -0.6l0.1 -0.7l0 -0.7l0.1 -0.7l0 -0.7l0.1 -0.7l0 -0.7l0.1 -0.7l0 -0.6l0.1 -0.7l0 -0.7l0.1 -0.7l0 -0.7l0.1 -0.7l0 -0.7l0.1 -0.7l0.1 -0.6l0 -0.7l0.1 -0.7l0 -0.7l0.1 -0.7l0 -0.7l0.1 -0.7l0.1 -0.6l0 -0.7l0.1 -0.7l0 -0.7l0.1 -0.7l0 -0.7l0.1 -0.7l0.1 -0.6l0 -0.7l0.1 -0.7l0.1 -0.7l0 -0.7l0.1 -0.7l0 -0.6l0.1 -0.7l0.1 -0.7l0 -0.7l0.1 -0.7l0.1 -0.7l0 -0.7l0.1 -0.6l0.1 -0.7l0 -0.7l0.1 -0.7l0.1 -0.7l0.1 -0.7l0 -0.6l0.1 -0.7l0.1 -0.7l0 -0.7l0.1 -0.7l0.1 -0.7l0.1 -0.6l0 -0.7l0.1 -0.7l0.1 -0.7l0.1 -0.7l0 -0.7l0.1 -0.6l0.1 -0.7l0.1 -0.7l0 -0.7l0.1 -0.7l0.1 -0.7l0.1 -0.6l0.1 -0.7l0.1 -0.7l0 -0.7l0.1 -0.7l0.1 -0.6l0.1 -0.7l0.1 -0.7l0.1 -0.7l0 -0.7l0.1 -0.7l0.1 -0.6l0.1 -0.7l0.1 -0.7l0.1 -0.7l0.1 -0.7l0.1 -0.6l0.1 -0.7l0.1 -0.7l0.1 -0.7l0.1 -0.7l0 -0.6l0.1 -0.7l0.1 -0.7l0.1 -0.7l0.1 -0.7l0.1 -0.6l0.1 -0.7l0.1 -0.7l0.1 -0.7l0.1 -0.7l0.1 -0.6l0.1 -0.7l0.2 -0.7l0.1 -0.7l0.1 -0.6l0.1 -0.7l0.1 -0.7l0.1 -0.7l0.1 -0.7l0.1 -0.6l0.1 -0.7l0.1 -0.7l0.1 -0.7l0.2 -0.6l0.1 -0.7l0.1 -0.7l0.1 -0.7l0.1 -0.7l0.1 -0.6l0.1 -0.7l0.2 -0.7l0.1 -0.7l0.1 -0.6l0.1 -0.7l0.2 -0.7l0.1 -0.7l0.1 -0.6l0.1 -0.7l0.2 -0.7l0.1 -0.7l0.1 -0.6l0.1 -0.7l0.2 -0.7l0.1 -0.7l0.1 -0.6l0.2 -0.7l0.1 -0.7l0.1 -0.7l0.2 -0.6l0.1 -0.7l0.2 -0.7l0.1 -0.7l0.1 -0.6l0.2 -0.7l0.1 -0.7l0.2 -0.7l0.1 -0.6l0.2 -0.7l0.1 -0.7l0.2 -0.7l0.1 -0.6l0.2 -0.7l0.1 -0.7l0.2 -0.6l0.2 -0.7l0.1 -0.7l0.2 -0.7l0.1 -0.6l0.2 -0.7l0.2 -0.7l0.1 -0.7l0.2 -0.6l0.2 -0.7l0.2 -0.7l0.1 -0.7l0.2 -0.6l0.2 -0.7l0.2 -0.7l0.1 -0.7l0.2 -0.6l0.2 -0.7l0.2 -0.7l0.2 -0.7l0.2 -0.6l0.2 -0.7l0.2 -0.7l0.2 -0.7l0.2 -0.6l0.2 -0.7l0.2 -0.7l0.2 -0.7l0.2 -0.6l0.2 -0.7l0.2 -0.7l0.2 -0.6l0.2 -0.7l0.3 -0.7l0.2 -0.6l0.2 -0.7l0.3 -0.7l0.2 -0.6l0.3 -0.7l0.2 -0.6l0.3 -0.7l0.3 -0.6l0.2 -0.6l0.3 -0.7l0.3 -0.6l0.3 -0.6l0.3 -0.6l0.3 -0.6l0.4 -0.6l0.3 -0.6l0.4 -0.6l0.3 -0.6l0.4 -0.6l0.3 -0.5l0.4 -0.6l0.4 -0.6l0.4 -0.5l0.5 -0.5l0.4 -0.6l0.4 -0.5l0.5 -0.5l0.5 -0.5l0.4 -0.5l0.5 -0.4l0.5 -0.5l0.6 -0.5l0.5 -0.4l0.5 -0.4l0.6 -0.5l0.5 -0.4l0.6 -0.4l0.6 -0.4l0.5 -0.4l0.6 -0.3l0.6 -0.4l0.6 -0.4l0.6 -0.3l0.6 -0.3l0.6 -0.4l0.7 -0.3l0.6 -0.3l0.6 -0.3l0.7 -0.2l0.6 -0.3l0.6 -0.3l0.7 -0.2l0.6 -0.2l0.7 -0.3l0.6 -0.2l0.7 -0.2l0.6 -0.2l0.7 -0.2l0.7 -0.2l0.6 -0.1l0.7 -0.2l0.7 -0.1l0.6 -0.2l0.7 -0.1l0.7 -0.2l0.7 -0.1l0.6 -0.1l0.7 -0.1l0.7 -0.1l0.7 -0.1l0.7 -0.1l0.7 -0.1l0.7 -0.1l0.6 -0.1l0.7 -0.1l0.7 0l0.7 -0.1l0.7 -0.1l0.7 0l0.7 -0.1l0.7 -0.1l0.7 0l0.7 -0.1l0.7 0l0.7 -0.1l0.7 0l0.7 -0.1l0.7 0l0.7 -0.1l0.7 0l0.6 -0.1l0.7 0l0.7 -0.1l0.7 -0.1l0.7 0l0.7 -0.1l0.7 0l0.7 -0.1l0.7 0l0.7 -0.1l0.7 -0.1l0.7 0l0.6 -0.1l0.7 -0.1l0.7 0l0.7 -0.1l0.7 -0.1l0.7 0l0.7 -0.1l0.7 -0.1l0.7 0l0.6 -0.1l0.7 -0.1l0.7 -0.1l0.7 0l0.7 -0.1l0.7 -0.1l0.6 -0.1l0.7 0l0.7 -0.1l0.7 -0.1l0.7 -0.1l0.7 -0.1l0.7 0l0.6 -0.1l0.7 -0.1l0.7 -0.1l0.7 -0.1l0.7 -0.1l0.6 0l0.7 -0.1l0.7 -0.1l0.7 -0.1l0.7 -0.1l0.7 -0.1l0.6 -0.1l0.7 0l0.7 -0.1l0.7 -0.1l0.7 -0.1l0.6 -0.1l0.7 -0.1l0.7 -0.1l0.7 -0.1l0.7 -0.1l0.6 0l0.7 -0.1l0.7 -0.1l0.7 -0.1l0.7 -0.1l0.6 -0.1l0.7 -0.1l0.7 -0.1l0.7 -0.1l0.7 -0.1l0.6 -0.1l0.7 0l0.7 -0.1l0.7 -0.1l0.7 -0.1l0.7 -0.1l0.6 -0.1l0.7 -0.1l0.7 -0.1l0.7 -0.1l0.7 -0.1l0.6 -0.1l0.7 -0.1l0.7 -0.1l0.7 0l0.7 -0.1l0.7 -0.1l0.6 -0.1l0.7 -0.1l0.7 -0.1l0.7 -0.1l0.7 -0.1l0.6 -0.1l0.7 -0.1l0.7 -0.1l0.7 -0.1l0.7 -0.1l0.7 0l0.6 -0.1l0.7 -0.1l0.7 -0.1l0.7 -0.1l0.7 -0.1l0.6 -0.1l0.7 -0.1l0.7 -0.1l0.7 -0.1l0.7 -0.1l0.7 -0.1l0.6 -0.1l0.7 0l0.7 -0.1l0.7 -0.1l0.7 -0.1l0.7 -0.1l0.6 -0.1l0.7 -0.1l0.7 -0.1l0.7 -0.1l0.7 -0.1l0.7 0l0.6 -0.1l0.7 -0.1l0.7 -0.1l0.7 -0.1l0.7 -0.1l0.7 -0.1l0.6 -0.1l0.7 -0.1l0.7 0l0.7 -0.1l0.7 -0.1l0.7 -0.1l0.6 -0.1l0.7 -0.1l0.7 -0.1l0.7 -0.1l0.7 0l0.7 -0.1l0.6 -0.1l0.7 -0.1l0.7 -0.1l0.7 -0.1l0.7 0l0.7 -0.1l0.6 -0.1l0.7 -0.1l0.7 -0.1l0.7 -0.1l0.7 0l0.7 -0.1l0.7 -0.1l0.6 -0.1l0.7 -0.1l0.7 0l0.7 -0.1l0.7 -0.1l0.7 -0.1l0.6 -0.1l0.7 0l0.7 -0.1l0.7 -0.1l0.7 -0.1l0.7 -0.1l0.7 0l0.6 -0.1l0.7 -0.1l0.7 -0.1l0.7 0l0.7 -0.1l0.7 -0.1l0.6 -0.1l0.7 0l0.7 -0.1l0.7 -0.1l0.7 0l0.7 -0.1l0.7 -0.1l0.6 -0.1l0.7 0l0.7 -0.1l0.7 -0.1l0.7 0l0.7 -0.1l0.7 -0.1l0.6 0l0.7 -0.1l0.7 -0.1l0.7 -0.1l0.7 0l0.7 -0.1l0.7 -0.1l0.6 0l0.7 -0.1l0.7 0l0.7 -0.1l0.7 -0.1l0.7 0l0.7 -0.1l0.6 -0.1l0.7 0l0.7 -0.1l0.7 -0.1l0.7 0l0.7 -0.1l0.7 0l0.6 -0.1l0.7 -0.1l0.7 0l0.7 -0.1l0.7 -0.1l0.7 0l0.7 -0.1l0.6 0l0.7 -0.1l0.7 0l0.7 -0.1l0.7 -0.1l0.7 0l0.7 -0.1l0.6 0l0.7 -0.1l0.7 0l0.7 -0.1l0.7 -0.1l0.7 0l0.7 -0.1l0.6 0l0.7 -0.1l0.7 0l0.7 -0.1l0.7 0l0.7 -0.1l0.7 0l0.7 -0.1l0.6 -0.1l0.7 0l0.7 -0.1l0.7 0l0.7 -0.1l0.7 0l0.7 -0.1l0.6 0l0.7 -0.1l0.7 0l0.7 -0.1l0.7 0l0.7 -0.1l0.7 0l0.7 -0.1l0.6 0l0.7 0l0.7 -0.1l0.7 0l0.7 -0.1l0.7 0l0.7 -0.1l0.6 0l0.7 -0.1l0.7 0l0.7 -0.1l0.7 0l0.7 0l0.7 -0.1l0.7 0l0.6 -0.1l0.7 0l0.7 -0.1l0.7 0l0.7 -0.1l0.7 0l0.7 0l0.7 -0.1l0.6 0l0.7 -0.1l0.7 0l0.7 0l0.7 -0.1l0.7 0l0.7 -0.1l0.7 0l0.6 0l0.7 -0.1l0.7 0l0.7 -0.1l0.7 0l0.7 0l0.7 -0.1l0.7 0l0.6 0l0.7 -0.1l0.7 0l0.7 -0.1l0.7 0l0.7 0l0.7 -0.1l0.7 0l0.6 0l0.7 -0.1l0.7 0l0.7 0l0.7 -0.1l0.7 0l0.7 0l0.7 -0.1l0.6 0l0.7 0l0.7 -0.1l0.7 0l0.7 0l0.7 -0.1l0.7 0l0.7 0l0.6 -0.1l0.7 0l0.7 0l0.7 -0.1l0.7 0l0.7 0l0.7 0l0.7 -0.1l0.6 0l0.7 0l0.7 -0.1l0.7 0l0.7 0l0.7 0l0.7 -0.1l0.7 0l0.6 0l0.7 -0.1l0.7 0l0.7 0l0.7 0l0.7 -0.1l0.7 0l0.7 0l0.7 0l0.6 -0.1l0.7 0l0.7 0l0.7 0l0.7 -0.1l0.7 0l0.7 0l0.7 0l0.6 -0.1l0.7 0l0.7 0l0.7 0l0.7 -0.1l0.7 0l0.7 0l0.7 0l0.6 0l0.7 -0.1l0.7 0l0.7 0l0.7 0l0.7 -0.1l0.7 0l0.7 0l0.7 0l0.6 0l0.7 -0.1l0.7 0l0.7 0l0.7 0l0.7 0l0.7 -0.1l0.7 0l0.6 0l0.7 0l0.7 0l0.7 -0.1l0.7 0l0.7 0l0.7 0l0.7 0l0.6 0l0.7 -0.1l0.7 0l0.7 0l0.7 0l0.7 0l0.7 0l0.7 -0.1l0.7 0l0.6 0l0.7 0l0.7 0l0.7 0l0.7 -0.1l0.7 0l0.7 0l0.7 0l0.6 0l0.7 0l0.7 0l0.7 -0.1l0.7 0l0.7 0l0.7 0l0.7 0l0.7 0l0.6 0l0.7 -0.1l0.7 0l0.7 0l0.7 0l0.7 0l0.7 0l0.7 0l0.7 0l0.6 -0.1l0.7 0l0.7 0l0.7 0l0.7 0l0.7 0l0.7 0l0.7 0l0.6 0l0.7 -0.1l0.7 0l0.7 0l0.7 0l0.7 0l0.7 0l0.7 0l0.7 0l0.6 0l0.7 0l0.7 0l0.7 -0.1l0.7 0l0.7 0l0.7 0l0.7 0l0.7 0l0.6 0l0.7 0l0.7 0l0.7 0l0.7 0l0.7 0l0.7 -0.1l0.7 0l0.6 0l0.7 0l0.7 0l0.7 0l0.7 0l0.7 0l0.7 0l0.7 0l0.7 0l0.6 0l0.7 0l0.7 0l0.7 0l0.7 -0.1l0.7 0l0.7 0l0.7 0l0.7 0l0.6 0l0.7 0l0.7 0l0.7 0l0.7 0l0.7 0l0.7 0l0.7 0l0.7 0l0.6 0l0.7 0l0.7 0l0.7 0l0.7 0l0.7 0l0.7 0l0.7 -0.1l0.7 0l0.6 0l0.7 0l0.7 0l0.7 0l0.7 0l0.7 0l0.7 0l0.7 0l0.7 0l0.6 0l0.7 0l0.7 0l0.7 0l0.7 0l0.7 0l0.7 0l0.7 0l0.6 0l0.7 0l0.7 0l0.7 0l0.7 0l0.7 0l0.7 0l0.7 0l0.7 0l0.6 0l0.7 0l0.7 0l0.7 0l0.7 0l0.7 0l0.7 0l0.7 0l0.7 0l0.6 0l0.7 0l0.7 0l0.7 0l0.7 0l0.7 0l0.7 0l0.7 0l0.7 0l0.6 0l0.7 0l0.7 0l0.7 0l0.7 0l0.7 0l0.7 0l0.7 0l0.7 0l0.6 0l0.7 0l0.7 0l0.7 0l0.7 0l0.7 0l0.7 0l0.7 0l0.7 0l0.6 0l0.7 0l0.7 0l0.7 0l0.7 0l0.7 0l0.7 0l0.7 0l0.7 0l0.6 0l0.7 0l0.7 0l0.7 0l0.7 0l0.7 0l0.7 0l0.7 0l0.7 0l0.6 0l0.7 0l0.7 0l0.7 0l0.7 0l0.7 0l0.7 0l0.7 0l0.7 0l0.6 0l0.7 0l0.7 0l0.7 0l0.7 0l0.7 0l0.7 0l0.7 0l0.7 0l0.6 0l0.7 0l0.7 0l0.7 0l0.7 0l0.7 0l0.7 0l0.7 0l0.7 0l0.6 0l0.7 0l0.7 0l0.7 0l0.7 0l0.7 0l0.7 0l0.7 0l0.7 0l0.6 0l0.7 0l0.7 0l0.7 0l0.7 0l0.7 0l0.7 0l0.7 0l0.7 0l0.6 0l0.7 0.1l0.7 0l0.7 0l0.7 0l0.7 0l0.7 0l0.7 0l0.7 0l0.6 0l0.7 0l0.7 0l0.7 0l0.7 0l0.7 0l0.7 0l0.7 0l0.7 0l0.6 0l0.7 0l0.7 0l0.7 0l0.7 0l0.7 0l0.7 0l0.7 0l0.7 0l0.6 0l0.7 0l0.7 0l0.7 0l0.7 0l0.7 0l0.7 0l0.7 0l0.7 0l0.6 0l0.7 0l0.7 0l0.7 0l0.7 0l0.7 0l0.7 0l0.7 0l0.7 0l0.6 0l0.7 0l0.7 0l0.7 0l0.7 0l0.7 0l0.7 0l0.7 0l0.7 0l0.6 0l0.7 0l0.7 0l0.7 0l0.7 0l0.7 0l0.7 0l0.7 0l0.7 0l0.6 0l0.7 0l0.7 0l0.7 0l0.7 0l0.7 0l0.7 0l0.7 0l0.7 0l0.6 0l0.7 0l0.7 -0.1l0.7 0l0.7 0l0.7 0l0.7 0l0.7 0l0.7 0l0.6 0l0.7 0l0.7 0l0.7 0l0.7 0l0.7 0l0.7 0l0.7 0l0.6 0l0.7 0l0.7 0l0.7 0l0.7 0l0.7 0l0.7 0l0.7 0l0.7 0l0.6 0l0.7 0l0.7 0l0.7 0l0.7 0l0.7 0l0.7 0l0.7 0l0.7 0l0.6 0l0.7 -0.1l0.7 0l0.7 0l0.7 0l0.7 0l0.7 0l0.7 0l0.7 0l0.6 0l0.7 0l0.7 0l0.7 0l0.7 0l0.7 0l0.7 0l0.7 0l0.7 0l0.6 0l0.7 0l0.7 0l0.7 0l0.7 0l0.7 0l0.7 0l0.7 -0.1l0.7 0l0.6 0l0.7 0l0.7 0l0.7 0l0.7 0l0.7 0l0.7 0l0.7 0l0.6 0l0.7 0l0.7 0l0.7 0l0.7 0l0.7 0l0.7 0l0.7 0l0.7 0l0.6 0l0.7 -0.1l0.7 0l0.7 0l0.7 0l0.7 0l0.7 0l0.7 0l0.7 0l0.6 0l0.7 0l0.7 0l0.7 0l0.7 0l0.7 0l0.7 0l0.7 0l0.7 0l0.6 0l0.7 -0.1l0.7 0l0.7 0l0.7 0l0.7 0l0.7 0l0.7 0l0.6 0l0.7 0l0.7 0l0.7 0l0.7 0l0.7 0l0.7 0l0.7 0l0.7 0l0.6 0l0.7 0l0.7 -0.1l0.7 0l0.7 0l0.7 0l0.7 0l0.7 0l0.7 0l0.6 0l0.7 0l0.7 0l0.7 0l0.7 0l0.7 0l0.7 0l0.7 0l0.7 0l0.6 0l0.7 -0.1l0.7 0l0.7 0l0.7 0l0.7 0l0.7 0l0.7 0l0.6 0l0.7 0l0.7 0l0.7 0l0.7 0l0.7 0l0.7 0l0.7 0l0.7 0l0.6 0l0.7 -0.1l0.7 0l0.7 0l0.7 0l0.7 0l0.7 0l0.7 0l0.7 0l0.6 0l0.7 0l0.7 0l0.7 0l0.7 0l0.7 0l0.7 0l0.7 0l0.7 0l0.6 0l0.7 -0.1l0.7 0l0.7 0l0.7 0l0.7 0l0.7 0l0.7 0l0.6 0l0.7 0l0.7 0l0.7 0l0.7 0l0.7 0l0.7 0l0.7 0l0.7 0l0.6 0l0.7 0l0.7 0l0.7 -0.1l0.7 0l0.7 0l0.7 0l0.7 0l0.7 0l0.6 0l0.7 0l0.7 0l0.7 0l0.7 0l0.7 0l0.7 0l0.7 0l0.7 0l0.6 0l0.7 0l0.7 0l0.7 0l0.7 0l0.7 0l0.7 -0.1l0.7 0l0.7 0l0.6 0l0.7 0l0.7 0l0.7 0l0.7 0l0.7 0l0.7 0l0.7 0l0.6 0l0.7 0l0.7 0l0.7 0l0.7 0l0.7 0l0.7 0l0.7 0l0.7 0l0.6 0l0.7 0l0.7 0l0.7 0l0.7 0l0.7 0l0.7 -0.1l0.7 0l0.7 0l0.6 0l0.7 0l0.7 0l0.7 0l0.7 0l0.7 0l0.7 0l0.7 0l0.7 0l0.6 0l0.7 0l0.7 0l0.7 0l0.7 0l0.7 0l0.7 0l0.7 0l0.7 0l0.6 0l0.7 0l0.7 0l0.7 0l0.7 0l0.7 0l0.7 0l0.7 0l0.7 0l0.6 0l0.7 0l0.7 0l0.7 0l0.7 0l0.7 0l0.7 0l0.7 0l0.7 0l0.6 0l0.7 0l0.7 0l0.7 0l0.7 0l0.7 0l0.7 0l0.7 0l0.7 0l0.6 0l0.7 0l0.7 0l0.7 0l0.7 0l0.7 0l0.7 0l0.7 0l0.6 0l0.7 0l0.7 0l0.7 0l0.7 0l0.7 0l0.7 0l0.7 0l0.7 0l0.6 0l0.7 0l0.7 0l0.7 0l0.7 0l0.7 0l0.7 0l0.7 0l0.7 0l0.6 0l0.7 0l0.7 0l0.7 0l0.7 0l0.7 0l0.7 0l0.7 0l0.7 0l0.7 0l0.6 0l0.7 0l0.7 0l0.7 0l0.7 0l0.7 0l0.7 0l0.7 0l0.7 0l0.6 0l0.7 0l0.7 0l0.7 0l0.7 0l0.7 0.1l0.7 0l0.7 0l0.7 0l0.6 0l0.7 0l0.7 0l0.7 0"/>
<path stroke="#0000FF" d="M299 1912l0.2 -1l0.2 -0.9l0.3 -0.9l0.3 -0.8l0.3 -0.8l0.4 -0.7l0.4 -0.6l0.4 -0.6l0.4 -0.6l0.4 -0.5l0.5 -0.5l0.5 -0.4l0.5 -0.3l0.5 -0.4l0.5 -0.2l0.6 -0.3l0.5 -0.2l0.6 -0.1l0.6 -0.2l0.6 -0.1l0.6 0l0.6 0l0.6 0l0.6 0l0.6 0.1l0.7 0.1l0.6 0.1l0.6 0.1l0.6 0.2l0.7 0.2l0.6 0.2l0.6 0.2l0.6 0.2l0.7 0.2l0.6 0.3l0.6 0.3l0.7 0.2l0.6 0.3l0.6 0.3l0.7 0.3l0.6 0.3l0.6 0.2l0.7 0.3l0.6 0.3l0.7 0.2l0.6 0.3l0.6 0.3l0.7 0.2l0.6 0.2l0.7 0.3l0.6 0.2l0.7 0.2l0.6 0.2l0.7 0.3l0.6 0.2l0.7 0.2l0.7 0.2l0.6 0.2l0.7 0.1l0.6 0.2l0.7 0.2l0.6 0.2l0.7 0.1l0.7 0.2l0.6 0.2l0.7 0.1l0.7 0.2l0.6 0.1l0.7 0.2l0.7 0.1l0.6 0.1l0.7 0.2l0.7 0.1l0.6 0.1l0.7 0.1l0.7 0.1l0.6 0.1l0.7 0.1l0.7 0.1l0.7 0.1l0.6 0.1l0.7 0.1l0.7 0.1l0.7 0.1l0.6 0.1l0.7 0.1l0.7 0l0.7 0.1l0.7 0.1l0.6 0l0.7 0.1l0.7 0.1l0.7 0l0.7 0.1l0.6 0l0.7 0.1l0.7 0l0.7 0.1l0.7 0l0.7 0.1l0.7 0l0.6 0l0.7 0.1l0.7 0l0.7 0l0.7 0.1l0.7 0l0.7 0l0.6 0.1l0.7 0l0.7 0l0.7 0l0.7 0.1l0.7 0l0.7 0l0.7 0l0.7 0l0.6 0l0.7 0.1l0.7 0l0.7 0l0.7 0l0.7 0l0.7 0l0.7 0l0.7 0l0.6 0l0.7 0.1l0.7 0l0.7 0l0.7 0l0.7 0l0.7 0l0.7 0l0.7 0l0.7 0l0.6 0.1l0.7 0l0.7 0l0.7 0l0.7 0l0.7 0l0.7 0l0.7 0l0.7 0l0.7 0l0.6 0.1l0.7 0l0.7 0l0.7 0l0.7 0l0.7 0l0.7 0l0.7 0l0.7 0l0.6 0l0.7 0.1l0.7 0l0.7 0l0.7 0l0.7 0l0.7 0l0.7 0l0.6 0l0.7 0l0.7 0l0.7 0.1l0.7 0l0.7 0l0.7 0l0.7 0l0.7 0l0.6 0l0.7 0l0.7 0l0.7 0l0.7 0l0.7 0.1l0.7 0l0.7 0l0.6 0l0.7 0l0.7 0l0.7 0l0.7 0l0.7 0l0.7 0l0.7 0l0.7 0l0.6 0.1l0.7 0l0.7 0l0.7 0l0.7 0l0.7 0l0.7 0l0.7 0l0.6 0l0.7 0l0.7 0l0.7 0l0.7 0.1l0.7 0l0.7 0l0.7 0l0.6 0l0.7 0l0.7 0l0.7 0l0.7 0l0.7 0l0.7 0l0.7 0l0.6 0.1l0.7 0l0.7 0l0.7 0l0.7 0l0.7 0l0.7 0l0.7 0l0.6 0l0.7 0l0.7 0l0.7 0l0.7 0l0.7 0.1l0.7 0l0.6 0l0.7 0l0.7 0l0.7 0l0.7 0l0.7 0l0.7 0l0.7 0l0.6 0l0.7 0l0.7 0l0.7 0.1l0.7 0l0.7 0l0.7 0l0.7 0l0.6 0l0.7 0l0.7 0l0.7 0l0.7 0l0.7 0l0.7 0l0.6 0l0.7 0l0.7 0.1l0.7 0l0.7 0l0.7 0l0.7 0l0.7 0l0.6 0l0.7 0l0.7 0l0.7 0l0.7 0l0.7 0l0.7 0l0.6 0l0.7 0.1l0.7 0l0.7 0l0.7 0l0.7 0l0.7 0l0.6 0l0.7 0l0.7 0l0.7 0l0.7 0l0.7 0l0.7 0l0.7 0l0.6 0l0.7 0l0.7 0.1l0.7 0l0.7 0l0.7 0l0.7 0l0.6 0l0.7 0l0.7 0l0.7 0l0.7 0l0.7 0l0.7 0l0.7 0l0.6 0l0.7 0l0.7 0.1l0.7 0l0.7 0l0.7 0l0.7 0l0.6 0l0.7 0l0.7 0l0.7 0l0.7 0l0.7 0l0.7 0l0.6 0l0.7 0l0.7 0l0.7 0l0.7 0l0.7 0.1l0.7 0l0.7 0l0.6 0l0.7 0l0.7 0l0.7 0l0.7 0l0.7 0l0.7 0l0.6 0l0.7 0l0.7 0l0.7 0l0.7 0l0.7 0l0.7 0.1l0.6 0l0.7 0l0.7 0l0.7 0l0.7 0l0.7 0l0.7 0l0.7 0l0.6 0l0.7 0l0.7 0l0.7 0l0.7 0l0.7 0l0.7 0l0.6 0l0.7 0.1l0.7 0l0.7 0l0.7 0l0.7 0l0.7 0l0.6 0l0.7 0l0.7 0l0.7 0l0.7 0l0.7 0l0.7 0l0.7 0l0.6 0l0.7 0l0.7 0l0.7 0.1l0.7 0l0.7 0l0.7 0l0.6 0l0.7 0l0.7 0l0.7 0l0.7 0l0.7 0l0.7 0l0.6 0l0.7 0l0.7 0l0.7 0l0.7 0l0.7 0.1l0.7 0l0.7 0l0.6 0l0.7 0l0.7 0l0.7 0l0.7 0l0.7 0l0.7 0l0.6 0l0.7 0l0.7 0l0.7 0l0.7 0l0.7 0l0.7 0.1l0.7 0l0.6 0l0.7 0l0.7 0l0.7 0l0.7 0l0.7 0l0.7 0l0.6 0l0.7 0l0.7 0l0.7 0l0.7 0l0.7 0l0.7 0l0.6 0.1l0.7 0l0.7 0l0.7 0l0.7 0l0.7 0l0.7 0l0.7 0l0.6 0l0.7 0l0.7 0l0.7 0l0.7 0l0.7 0l0.7 0l0.6 0.1l0.7 0l0.7 0l0.7 0l0.7 0l0.7 0l0.7 0l0.6 0l0.7 0l0.7 0l0.7 0l0.7 0l0.7 0l0.7 0l0.7 0.1l0.6 0l0.7 0l0.7 0l0.7 0l0.7 0l0.7 0l0.7 0l0.6 0l0.7 0l0.7 0l0.7 0l0.7 0l0.7 0.1l0.7 0l0.7 0l0.6 0l0.7 0l0.7 0l0.7 0l0.7 0l0.7 0l0.7 0l0.6 0l0.7 0l0.7 0l0.7 0.1l0.7 0l0.7 0l0.7 0l0.7 0l0.6 0l0.7 0l0.7 0l0.7 0l0.7 0l0.7 0l0.7 0l0.6 0.1l0.7 0l0.7 0l0.7 0l0.7 0l0.7 0l0.7 0l0.7 0l0.6 0l0.7 0l0.7 0l0.7 0l0.7 0.1l0.7 0l0.7 0l0.7 0l0.6 0l0.7 0l0.7 0l0.7 0l0.7 0l0.7 0l0.7 0l0.6 0.1l0.7 0l0.7 0l0.7 0l0.7 0l0.7 0l0.7 0l0.7 0l0.6 0l0.7 0l0.7 0.1l0.7 0l0.7 0l0.7 0l0.7 0l0.7 0l0.6 0l0.7 0l0.7 0l0.7 0l0.7 0.1l0.7 0l0.7 0l0.6 0l0.7 0l0.7 0l0.7 0l0.7 0l0.7 0l0.7 0.1l0.7 0l0.6 0l0.7 0l0.7 0l0.7 0l0.7 0l0.7 0l0.7 0l0.7 0.1l0.6 0l0.7 0l0.7 0l0.7 0l0.7 0l0.7 0l0.7 0l0.7 0l0.6 0.1l0.7 0l0.7 0l0.7 0l0.7 0l0.7 0l0.7 0l0.7 0l0.6 0l0.7 0.1l0.7 0l0.7 0l0.7 0l0.7 0l0.7 0l0.7 0l0.6 0l0.7 0.1l0.7 0l0.7 0l0.7 0l0.7 0l0.7 0l0.7 0l0.6 0.1l0.7 0l0.7 0l0.7 0l0.7 0l0.7 0l0.7 0l0.7 0l0.6 0.1l0.7 0l0.7 0l0.7 0l0.7 0l0.7 0l0.7 0l0.7 0.1l0.6 0l0.7 0l0.7 0l0.7 0l0.7 0l0.7 0l0.7 0.1l0.7 0l0.7 0l0.6 0l0.7 0l0.7 0l0.7 0l0.7 0.1l0.7 0l0.7 0l0.7 0l0.6 0l0.7 0l0.7 0.1l0.7 0l0.7 0l0.7 0l0.7 0l0.7 0l0.6 0l0.7 0.1l0.7 0l0.7 0l0.7 0l0.7 0l0.7 0l0.7 0.1l0.7 0l0.6 0l0.7 0l0.7 0l0.7 0.1l0.7 0l0.7 0l0.7 0l0.7 0l0.6 0l0.7 0.1l0.7 0l0.7 0l0.7 0l0.7 0l0.7 0.1l0.7 0l0.7 0l0.6 0l0.7 0l0.7 0.1l0.7 0l0.7 0l0.7 0l0.7 0l0.7 0.1l0.6 0l0.7 0l0.7 0l0.7 0.1l0.7 0l0.7 0l0.7 0l0.7 0.1l0.6 0l0.7 0l0.7 0l0.7 0.1l0.7 0l0.7 0l0.7 0.1l0.7 0l0.6 0l0.7 0l0.7 0.1l0.7 0l0.7 0l0.7 0.1l0.7 0l0.6 0l0.7 0.1l0.7 0l0.7 0l0.7 0l0.7 0.1l0.7 0l0.6 0.1l0.7 0l0.7 0l0.7 0.1l0.7 0l0.7 0l0.7 0.1l0.7 0l0.6 0l0.7 0.1l0.7 0l0.7 0.1l0.7 0l0.7 0l0.6 0.1l0.7 0l0.7 0.1l0.7 0l0.7 0.1l0.7 0l0.7 0l0.6 0.1l0.7 0l0.7 0.1l0.7 0l0.7 0.1l0.7 0l0.6 0.1l0.7 0l0.7 0.1l0.7 0l0.7 0.1l0.7 0l0.6 0.1l0.7 0l0.7 0.1l0.7 0.1l0.7 0l0.7 0.1l0.6 0l0.7 0.1l0.7 0l0.7 0.1l0.7 0.1l0.7 0l0.6 0.1l0.7 0l0.7 0.1l0.7 0.1l0.7 0l0.6 0.1l0.7 0.1l0.7 0l0.7 0.1l0.7 0.1l0.7 0l0.6 0.1l0.7 0.1l0.7 0.1l0.7 0l0.7 0.1l0.6 0.1l0.7 0l0.7 0.1l0.7 0.1l0.7 0.1l0.6 0.1l0.7 0l0.7 0.1l0.7 0.1l0.6 0.1l0.7 0.1l0.7 0l0.7 0.1l0.7 0.1l0.6 0.1l0.7 0.1l0.7 0.1l0.7 0.1l0.6 0.1l0.7 0l0.7 0.1l0.7 0.1l0.7 0.1l0.6 0.1l0.7 0.1l0.7 0.1l0.7 0.1l0.6 0.1l0.7 0.1l0.7 0.1l0.7 0.1l0.6 0.1l0.7 0.1l0.7 0.1l0.7 0.1l0.6 0.1l0.7 0.1l0.7 0.1l0.7 0.1l0.6 0.2l0.7 0.1l0.7 0.1l0.7 0.1l0.6 0.1l0.7 0.1l0.7 0.1l0.6 0.2l0.7 0.1l0.7 0.1l0.7 0.1l0.6 0.1l0.7 0.2l0.7 0.1l0.6 0.1l0.7 0.1l0.7 0.2l0.7 0.1l0.6 0.1l0.7 0.2l0.7 0.1l0.6 0.1l0.7 0.2l0.7 0.1l0.6 0.1l0.7 0.2l0.7 0.1l0.6 0.1l0.7 0.2l0.7 0.1l0.7 0.2l0.6 0.1l0.7 0.2l0.7 0.1l0.6 0.2l0.7 0.1l0.7 0.2l0.6 0.1l0.7 0.2l0.7 0.2l0.6 0.1l0.7 0.2l0.7 0.1l0.6 0.2l0.7 0.2l0.7 0.2l0.6 0.1l0.7 0.2l0.7 0.2l0.6 0.2l0.7 0.1l0.7 0.2l0.6 0.2l0.7 0.2l0.7 0.2l0.6 0.2l0.7 0.2l0.7 0.1l0.6 0.2l0.7 0.2l0.7 0.2l0.6 0.2l0.7 0.3l0.7 0.2l0.6 0.2l0.7 0.2l0.7 0.2l0.6 0.2l0.7 0.2l0.7 0.3l0.6 0.2l0.7 0.2l0.6 0.2l0.7 0.3l0.7 0.2l0.6 0.3l0.7 0.2l0.7 0.3l0.6 0.2l0.7 0.3l0.6 0.2l0.7 0.3l0.6 0.2l0.7 0.3l0.6 0.3l0.7 0.3l0.6 0.2l0.7 0.3l0.6 0.3l0.6 0.3l0.7 0.3l0.6 0.3l0.6 0.3l0.6 0.3l0.7 0.3l0.6 0.4l0.6 0.3l0.6 0.3l0.6 0.4l0.6 0.3l0.6 0.3l0.6 0.4l0.6 0.3l0.6 0.4l0.5 0.4l0.6 0.3l0.6 0.4l0.6 0.4l0.5 0.4l0.6 0.4l0.5 0.4l0.6 0.4l0.5 0.4l0.5 0.4l0.6 0.5l0.5 0.4l0.5 0.4l0.5 0.5l0.5 0.4l0.5 0.5l0.5 0.4l0.5 0.5l0.5 0.5l0.5 0.5l0.4 0.4l0.5 0.5l0.5 0.5l0.4 0.5l0.5 0.5l0.4 0.5l0.5 0.6l0.4 0.5l0.5 0.5l0.4 0.5l0.4 0.6l0.4 0.5l0.5 0.5l0.4 0.6l0.4 0.5l0.4 0.6l0.4 0.5l0.4 0.6l0.4 0.5l0.4 0.6l0.4 0.6l0.4 0.5l0.4 0.6l0.3 0.6l0.4 0.6l0.4 0.5l0.4 0.6l0.4 0.6l0.3 0.6l0.4 0.6l0.4 0.6l0.3 0.6l0.4 0.6l0.4 0.5l0.3 0.6l0.4 0.6l0.3 0.6l0.4 0.6l0.3 0.6l0.4 0.6l0.3 0.6l0.4 0.6l0.3 0.6l0.4 0.6l0.3 0.6l0.4 0.6l0.3 0.6l0.4 0.7l0.3 0.6l0.3 0.6l0.4 0.6l0.3 0.6l0.3 0.6l0.3 0.6l0.4 0.6l0.3 0.6l0.3 0.7l0.3 0.6l0.3 0.6l0.3 0.6l0.4 0.6l0.3 0.6l0.3 0.7l0.3 0.6l0.2 0.6l0.3 0.6l0.3 0.7l0.3 0.6l0.3 0.6l0.3 0.6l0.2 0.7l0.3 0.6l0.3 0.6l0.2 0.7l0.3 0.6l0.3 0.6l0.2 0.7l0.3 0.6l0.2 0.7l0.3 0.6l0.2 0.6l0.2 0.7l0.3 0.6l0.2 0.7l0.2 0.6l0.3 0.7l0.2 0.6l0.2 0.6l0.2 0.7l0.2 0.6l0.3 0.7l0.2 0.6l0.2 0.7l0.2 0.6l0.2 0.7l0.2 0.6l0.2 0.7l0.2 0.6l0.2 0.7l0.2 0.7l0.2 0.6l0.2 0.7l0.2 0.6l0.2 0.7l0.2 0.6l0.2 0.7l0.2 0.6l0.2 0.7l0.2 0.7l0.1 0.6l0.2 0.7l0.2 0.6l0.2 0.7l0.2 0.7l0.2 0.6l0.2 0.7l0.2 0.6l0.2 0.7l0.1 0.7l0.2 0.6l0.2 0.7l0.2 0.6l0.2 0.7l0.2 0.7l0.2 0.6l0.2 0.7l0.1 0.6l0.2 0.7l0.2 0.7l0.2 0.6l0.2 0.7l0.2 0.6l0.2 0.7l0.2 0.7l0.1 0.6l0.2 0.7l0.2 0.6l0.2 0.7l0.2 0.7l0.2 0.6l0.2 0.7l0.2 0.7l0.1 0.6l0.2 0.7l0.2 0.6l0.2 0.7l0.2 0.7l0.2 0.6l0.1 0.7l0.2 0.7l0.2 0.6l0.2 0.7l0.2 0.7l0.2 0.6l0.2 0.7l0.1 0.6l0.2 0.7l0.2 0.7l0.2 0.6l0.2 0.7l0.1 0.7l0.2 0.6l0.2 0.7l0.2 0.7l0.2 0.6l0.1 0.7l0.2 0.7l0.2 0.6l0.2 0.7l0.2 0.7l0.1 0.6l0.2 0.7l0.2 0.7l0.2 0.6l0.2 0.7l0.1 0.7l0.2 0.6l0.2 0.7l0.2 0.6l0.1 0.7l0.2 0.7l0.2 0.6l0.2 0.7l0.1 0.7l0.2 0.6l0.2 0.7l0.2 0.7l0.1 0.6l0.2 0.7l0.2 0.7l0.2 0.7l0.1 0.6l0.2 0.7l0.2 0.7l0.1 0.6l0.2 0.7l0.2 0.7l0.1 0.6l0.2 0.7l0.2 0.7l0.1 0.6l0.2 0.7l0.2 0.7l0.1 0.6l0.2 0.7l0.2 0.7l0.1 0.6l0.2 0.7l0.2 0.7l0.1 0.6l0.2 0.7l0.2 0.7l0.1 0.6l0.2 0.7l0.1 0.7l0.2 0.6l0.2 0.7l0.1 0.7l0.2 0.7l0.1 0.6l0.2 0.7l0.2 0.7l0.1 0.6l0.2 0.7l0.1 0.7l0.2 0.6l0.1 0.7l0.2 0.7l0.2 0.6l0.1 0.7l0.2 0.7l0.1 0.7l0.2 0.6l0.1 0.7l0.2 0.7l0.1 0.6l0.2 0.7l0.1 0.7l0.2 0.6l0.1 0.7l0.2 0.7l0.1 0.7l0.2 0.6l0.1 0.7l0.2 0.7l0.1 0.6l0.2 0.7l0.1 0.7l0.2 0.6l0.1 0.7l0.2 0.7l0.1 0.7l0.2 0.6l0.1 0.7l0.1 0.7l0.2 0.6l0.1 0.7l0.2 0.7l0.1 0.7l0.2 0.6l0.1 0.7l0.1 0.7l0.2 0.6l0.1 0.7l0.2 0.7l0.1 0.6l0.2 0.7l0.1 0.7l0.1 0.7l0.2 0.6l0.1 0.7l0.1 0.7l0.2 0.6l0.1 0.7l0.2 0.7l0.1 0.7l0.1 0.6l0.2 0.7l0.1 0.7l0.1 0.7l0.2 0.6l0.1 0.7l0.1 0.7l0.2 0.6l0.1 0.7l0.2 0.7l0.1 0.7l0.1 0.6l0.2 0.7l0.1 0.7l0.1 0.6l0.1 0.7l0.2 0.7l0.1 0.7l0.1 0.6l0.2 0.7l0.1 0.7l0.1 0.7l0.2 0.6l0.1 0.7l0.1 0.7l0.2 0.7l0.1 0.6l0.1 0.7l0.1 0.7l0.2 0.6l0.1 0.7l0.1 0.7l0.1 0.7l0.2 0.6l0.1 0.7l0.1 0.7l0.1 0.7l0.2 0.6l0.1 0.7l0.1 0.7l0.1 0.7l0.2 0.6l0.1 0.7l0.1 0.7l0.1 0.7l0.2 0.6l0.1 0.7l0.1 0.7l0.1 0.7l0.2 0.6l0.1 0.7l0.1 0.7l0.1 0.7l0.1 0.6l0.2 0.7l0.1 0.7l0.1 0.7l0.1 0.6l0.1 0.7l0.2 0.7l0.1 0.7l0.1 0.6l0.1 0.7l0.1 0.7l0.2 0.7l0.1 0.6l0.1 0.7l0.1 0.7l0.1 0.7l0.2 0.6l0.1 0.7l0.1 0.7l0.1 0.7l0.1 0.6l0.1 0.7l0.2 0.7l0.1 0.7l0.1 0.6l0.1 0.7l0.1 0.7l0.1 0.7l0.1 0.6l0.2 0.7l0.1 0.7l0.1 0.7l0.1 0.6l0.1 0.7l0.1 0.7l0.1 0.7l0.2 0.7l0.1 0.6l0.1 0.7l0.1 0.7l0.1 0.7l0.1 0.6l0.1 0.7l0.1 0.7l0.2 0.7l0.1 0.6l0.1 0.7l0.1 0.7l0.1 0.7l0.1 0.7l0.1 0.6l0.1 0.7l0.1 0.7l0.2 0.7l0.1 0.6l0.1 0.7l0.1 0.7l0.1 0.7l0.1 0.7l0.1 0.6l0.1 0.7l0.1 0.7l0.1 0.7l0.1 0.6l0.2 0.7l0.1 0.7l0.1 0.7l0.1 0.7l0.1 0.6l0.1 0.7l0.1 0.7l0.1 0.7l0.1 0.6l0.1 0.7l0.1 0.7l0.1 0.7l0.1 0.7l0.1 0.6l0.1 0.7l0.2 0.7l0.1 0.7l0.1 0.7l0.1 0.6l0.1 0.7l0.1 0.7l0.1 0.7l0.1 0.6l0.1 0.7l0.1 0.7l0.1 0.7l0.1 0.7l0.1 0.6l0.1 0.7l0.1 0.7l0.1 0.7l0.1 0.7l0.1 0.6l0.1 0.7l0.1 0.7l0.1 0.7l0.1 0.7l0.1 0.6l0.1 0.7l0.1 0.7l0.1 0.7l0.1 0.7l0.1 0.6l0.1 0.7l0.1 0.7l0.1 0.7l0.1 0.7l0.1 0.6l0.1 0.7l0.1 0.7l0.1 0.7l0.1 0.7l0.1 0.6l0.1 0.7l0.1 0.7l0.1 0.7l0.1 0.7l0.1 0.6l0.1 0.7l0.1 0.7l0.1 0.7l0.1 0.7l0.1 0.6l0.1 0.7l0.1 0.7l0.1 0.7l0.1 0.7l0.1 0.6l0.1 0.7l0.1 0.7l0.1 0.7l0.1 0.7l0.1 0.6l0.1 0.7l0.1 0.7l0.1 0.7l0.1 0.7l0.1 0.7l0.1 0.6l0.1 0.7l0.1 0.7l0.1 0.7l0.1 0.7l0.1 0.6l0 0.7l0.1 0.7l0.1 0.7l0.1 0.7l0.1 0.6l0.1 0.7l0.1 0.7l0.1 0.7l0.1 0.7l0.1 0.7l0.1 0.6l0.1 0.7l0.1 0.7l0.1 0.7l0.1 0.7l0.1 0.6l0 0.7l0.1 0.7l0.1 0.7l0.1 0.7l0.1 0.6l0.1 0.7l0.1 0.7l0.1 0.7l0.1 0.7l0.1 0.7l0.1 0.6l0.1 0.7l0.1 0.7l0 0.7l0.1 0.7l0.1 0.6l0.1 0.7l0.1 0.7l0.1 0.7l0.1 0.7l0.1 0.7l0.1 0.6l0.1 0.7l0.1 0.7l0 0.7l0.1 0.7l0.1 0.6l0.1 0.7l0.1 0.7l0.1 0.7l0.1 0.7l0.1 0.7l0.1 0.6l0.1 0.7l0 0.7l0.1 0.7l0.1 0.7l0.1 0.7l0.1 0.6l0.1 0.7l0.1 0.7l0.1 0.7l0.1 0.7l0 0.6l0.1 0.7l0.1 0.7l0.1 0.7l0.1 0.7l0.1 0.7l0.1 0.6l0.1 0.7l0.1 0.7l0 0.7l0.1 0.7l0.1 0.7l0.1 0.6l0.1 0.7l0.1 0.7l0.1 0.7l0.1 0.7l0 0.7l0.1 0.6l0.1 0.7l0.1 0.7l0.1 0.7l0.1 0.7l0.1 0.6l0 0.7l0.1 0.7l0.1 0.7l0.1 0.7l0.1 0.7l0.1 0.6l0.1 0.7l0 0.7l0.1 0.7l0.1 0.7l0.1 0.7l0.1 0.6l0.1 0.7l0.1 0.7l0 0.7l0.1 0.7l0.1 0.7l0.1 0.6l0.1 0.7l0.1 0.7l0.1 0.7l0 0.7l0.1 0.7l0.1 0.6l0.1 0.7l0.1 0.7l0.1 0.7l0 0.7l0.1 0.6l0.1 0.7l0.1 0.7l0.1 0.7l0.1 0.7l0.1 0.7l0 0.6l0.1 0.7l0.1 0.7l0.1 0.7l0.1 0.7l0.1 0.7l0 0.6l0.1 0.7l0.1 0.7l0.1 0.7l0.1 0.7l0.1 0.7l0 0.6l0.1 0.7l0.1 0.7l0.1 0.7l0.1 0.7l0.1 0.7l0 0.6l0.1 0.7l0.1 0.7l0.1 0.7l0.1 0.7l0.1 0.7l0 0.6l0.1 0.7l0.1 0.7l0.1 0.7l0.1 0.7l0.1 0.7l0 0.6l0.1 0.7l0.1 0.7l0.1 0.7l0.1 0.7l0 0.7l0.1 0.6l0.1 0.7l0.1 0.7l0.1 0.7l0.1 0.7l0 0.6l0.1 0.7l0.1 0.7l0.1 0.7l0.1 0.7l0.1 0.7l0 0.6l0.1 0.7l0.1 0.7l0.1 0.7l0.1 0.7l0 0.7l0.1 0.6l0.1 0.7l0.1 0.7l0.1 0.7l0.1 0.7l0 0.7l0.1 0.6l0.1 0.7l0.1 0.7l0.1 0.7l0 0.7l0.1 0.7l0.1 0.6l0.1 0.7l0.1 0.7l0.1 0.7l0 0.7l0.1 0.7l0.1 0.6l0.1 0.7l0.1 0.7l0 0.7l0.1 0.7l0.1 0.6l0.1 0.7l0.1 0.7l0 0.7l0.1 0.7l0.1 0.7l0.1 0.6l0.1 0.7l0.1 0.7l0 0.7l0.1 0.7l0.1 0.7l0.1 0.6l0.1 0.7l0 0.7l0.1 0.7l0.1 0.7l0.1 0.7l0.1 0.6l0 0.7l0.1 0.7l0.1 0.7l0.1 0.7l0.1 0.6l0.1 0.7l0 0.7l0.1 0.7l0.1 0.7l0.1 0.7l0.1 0.6l0 0.7l0.1 0.7l0.1 0.7l0.1 0.7l0.1 0.6l0 0.7l0.1 0.7l0.1 0.7l0.1 0.7l0.1 0.7l0.1 0.6l0 0.7l0.1 0.7l0.1 0.7l0.1 0.7l0.1 0.7l0 0.6l0.1 0.7l0.1 0.7l0.1 0.7l0.1 0.7l0 0.6l0.1 0.7l0.1 0.7l0.1 0.7l0.1 0.7l0.1 0.6l0 0.7l0.1 0.7l0.1 0.7l0.1 0.7l0.1 0.7l0 0.6l0.1 0.7l0.1 0.7l0.1 0.7l0.1 0.7l0.1 0.6l0 0.7l0.1 0.7l0.1 0.7l0.1 0.7l0.1 0.7l0 0.6l0.1 0.7l0.1 0.7l0.1 0.7l0.1 0.7l0.1 0.6l0 0.7l0.1 0.7l0.1 0.7l0.1 0.7l0.1 0.6l0 0.7l0.1 0.7l0.1 0.7l0.1 0.7l0.1 0.6l0.1 0.7l0 0.7l0.1 0.7l0.1 0.7l0.1 0.6l0.1 0.7l0.1 0.7l0 0.7l0.1 0.7l0.1 0.7l0.1 0.6l0.1 0.7l0.1 0.7l0 0.7l0.1 0.7l0.1 0.6l0.1 0.7l0.1 0.7l0.1 0.7l0 0.7l0.1 0.6l0.1 0.7l0.1 0.7l0.1 0.7l0.1 0.7l0 0.6l0.1 0.7l0.1 0.7l0.1 0.7l0.1 0.7l0.1 0.6l0 0.7l0.1 0.7l0.1 0.7l0.1 0.7l0.1 0.6l0.1 0.7l0 0.7l0.1 0.7l0.1 0.6l0.1 0.7l0.1 0.7l0.1 0.7l0.1 0.7l0 0.6l0.1 0.7l0.1 0.7l0.1 0.7l0.1 0.7l0.1 0.6l0.1 0.7l0 0.7l0.1 0.7l0.1 0.7l0.1 0.6l0.1 0.7l0.1 0.7l0.1 0.7l0 0.6l0.1 0.7l0.1 0.7l0.1 0.7l0.1 0.7l0.1 0.6l0.1 0.7l0 0.7l0.1 0.7l0.1 0.7l0.1 0.6l0.1 0.7l0.1 0.7l0.1 0.7l0 0.6l0.1 0.7l0.1 0.7l0.1 0.7l0.1 0.7l0.1 0.6l0.1 0.7l0.1 0.7l0.1 0.7l0 0.6l0.1 0.7l0.1 0.7l0.1 0.7l0.1 0.7l0.1 0.6l0.1 0.7l0.1 0.7l0.1 0.7l0 0.6l0.1 0.7l0.1 0.7l0.1 0.7l0.1 0.7l0.1 0.6l0.1 0.7l0.1 0.7l0.1 0.7l0.1 0.6l0 0.7l0.1 0.7l0.1 0.7l0.1 0.7l0.1 0.6l0.1 0.7l0.1 0.7l0.1 0.7l0.1 0.6l0.1 0.7l0.1 0.7l0.1 0.7l0.1 0.7l0.1 0.6l0.1 0.7l0.1 0.7l0.1 0.7l0 0.6l0.1 0.7l0.1 0.7l0.1 0.7l0.1 0.7l0.1 0.6l0.1 0.7l0.1 0.7l0.1 0.7l0.1 0.6l0.1 0.7l0.1 0.7l0.1 0.7l0.1 0.7l0.1 0.6l0.1 0.7l0.1 0.7l0.1 0.7l0.1 0.7l0.1 0.6l0.1 0.7l0.1 0.7l0.1 0.7l0.2 0.6l0.1 0.7l0.1 0.7l0.1 0.7l0.1 0.7l0.1 0.6l0.1 0.7l0.1 0.7l0.1 0.7l0.1 0.7l0.1 0.6l0.1 0.7l0.1 0.7l0.1 0.7l0.1 0.7l0.2 0.6l0.1 0.7l0.1 0.7l0.1 0.7l0.1 0.7l0.1 0.6l0.1 0.7l0.1 0.7l0.2 0.7l0.1 0.7l0.1 0.7l0.1 0.6l0.1 0.7l0.1 0.7l0.1 0.7l0.2 0.7l0.1 0.6l0.1 0.7l0.1 0.7l0.1 0.7l0.2 0.7l0.1 0.7l0.1 0.6l0.1 0.7l0.1 0.7l0.2 0.7l0.1 0.7l0.1 0.7l0.1 0.6l0.2 0.7l0.1 0.7l0.1 0.7l0.1 0.7l0.2 0.7l0.1 0.6l0.1 0.7l0.1 0.7l0.2 0.7l0.1 0.7l0.1 0.7l0.2 0.6l0.1 0.7l0.1 0.7l0.2 0.7l0.1 0.7l0.1 0.7l0.2 0.7l0.1 0.6l0.1 0.7l0.2 0.7l0.1 0.7l0.1 0.7l0.2 0.7l0.1 0.7l0.2 0.7l0.1 0.6l0.1 0.7l0.2 0.7l0.1 0.7l0.2 0.7l0.1 0.7l0.2 0.7l0.1 0.7l0.2 0.6l0.1 0.7l0.1 0.7l0.2 0.7l0.1 0.7l0.2 0.7l0.1 0.7l0.2 0.7l0.1 0.7l0.2 0.7l0.1 0.6l0.2 0.7l0.2 0.7l0.1 0.7l0.2 0.7l0.2 0.7l0.2 0.6l0.2 0.7l0.2 0.6l0.2 0.7l0.3 0.6l0.2 0.7l0.3 0.6l0.3 0.6l0.3 0.6l0.4 0.5l0.4 0.6l0.4 0.6l0.4 0.5l0.4 0.5l0.5 0.5l0.5 0.5l0.6 0.4l0.5 0.5l0.6 0.4l0.6 0.3l0.6 0.4l0.6 0.3l0.7 0.2l0.6 0.2l0.6 0.2l0.6 0.1l0.7 0.1l0.6 0l0.5 -0.1l0.6 -0.1l0.5 -0.1l0.6 -0.2l0.5 -0.2l0.5 -0.3l0.5 -0.3l0.5 -0.4l0.5 -0.4l0.4 -0.4l0.5 -0.5l0.4 -0.4l0.4 -0.5l0.4 -0.6l0.4 -0.5l0.4 -0.6l0.3 -0.6l0.4 -0.5l0.3 -0.7l0.4 -0.6l0.3 -0.6l0.3 -0.6l0.3 -0.6l0.3 -0.7l0.3 -0.6l0.2 -0.6l0.3 -0.7l0.2 -0.6l0.3 -0.6l0.2 -0.7l0.2 -0.6l0.2 -0.7l0.2 -0.6l0.2 -0.7l0.2 -0.6l0.2 -0.7l0.2 -0.7l0.1 -0.6l0.2 -0.7l0.1 -0.6l0.1 -0.7l0.2 -0.7l0.1 -0.7l0.1 -0.6l0.1 -0.7l0.1 -0.7l0.1 -0.7l0.1 -0.6l0.1 -0.7l0.1 -0.7l0.1 -0.7l0 -0.7l0.1 -0.7l0.1 -0.6l0 -0.7l0.1 -0.7l0 -0.7l0.1 -0.7l0 -0.7l0.1 -0.7l0 -0.7l0 -0.7l0.1 -0.7l0 -0.7l0 -0.7l0.1 -0.7l0 -0.6l0 -0.7l0 -0.7l0.1 -0.7l0 -0.7l0 -0.7l0 -0.7l0.1 -0.7l0 -0.7l0 -0.7l0 -0.7l0 -0.7l0.1 -0.7l0 -0.7l0 -0.7l0 -0.7l0.1 -0.7l0 -0.7l0 -0.7l0 -0.7l0 -0.7l0.1 -0.7l0 -0.7l0 -0.7l0 -0.7l0.1 -0.6l0 -0.7l0 -0.7l0 -0.7l0.1 -0.7l0 -0.7l0 -0.7l0 -0.7l0 -0.7l0.1 -0.7l0 -0.7l0 -0.7l0 -0.7l0.1 -0.7l0 -0.7l0 -0.7l0 -0.6l0.1 -0.7l0 -0.7l0 -0.7l0 -0.7l0.1 -0.7l0 -0.7l0 -0.7l0 -0.7l0.1 -0.7l0 -0.7l0 -0.7l0 -0.7l0.1 -0.6l0 -0.7l0 -0.7l0.1 -0.7l0 -0.7l0 -0.7l0 -0.7l0.1 -0.7l0 -0.7l0 -0.7l0 -0.7l0.1 -0.7l0 -0.6l0 -0.7l0 -0.7l0.1 -0.7l0 -0.7l0 -0.7l0.1 -0.7l0 -0.7l0 -0.7l0 -0.7l0.1 -0.6l0 -0.7l0 -0.7l0 -0.7l0.1 -0.7l0 -0.7l0 -0.7l0.1 -0.7l0 -0.7l0 -0.7l0 -0.6l0.1 -0.7l0 -0.7l0 -0.7l0.1 -0.7l0 -0.7l0 -0.7l0 -0.7l0.1 -0.7l0 -0.6l0 -0.7l0.1 -0.7l0 -0.7l0 -0.7l0 -0.7l0.1 -0.7l0 -0.7l0 -0.7l0.1 -0.6l0 -0.7l0 -0.7l0.1 -0.7l0 -0.7l0 -0.7l0 -0.7l0.1 -0.7l0 -0.6l0 -0.7l0.1 -0.7l0 -0.7l0 -0.7l0.1 -0.7l0 -0.7l0 -0.7l0 -0.6l0.1 -0.7l0 -0.7l0 -0.7l0.1 -0.7l0 -0.7l0 -0.7l0.1 -0.6l0 -0.7l0 -0.7l0.1 -0.7l0 -0.7l0 -0.7l0.1 -0.7l0 -0.7l0 -0.6l0.1 -0.7l0 -0.7l0 -0.7l0 -0.7l0.1 -0.7l0 -0.7l0 -0.6l0.1 -0.7l0 -0.7l0 -0.7l0.1 -0.7l0 -0.7l0 -0.7l0.1 -0.6l0 -0.7l0 -0.7l0.1 -0.7l0 -0.7l0 -0.7l0.1 -0.7l0 -0.6l0 -0.7l0.1 -0.7l0 -0.7l0 -0.7l0.1 -0.7l0 -0.7l0 -0.6l0.1 -0.7l0 -0.7l0 -0.7l0.1 -0.7l0 -0.7l0 -0.6l0.1 -0.7l0 -0.7l0 -0.7l0.1 -0.7l0 -0.7l0.1 -0.7l0 -0.6l0 -0.7l0.1 -0.7l0 -0.7l0 -0.7l0.1 -0.7l0 -0.6l0 -0.7l0.1 -0.7l0 -0.7l0 -0.7l0.1 -0.7l0 -0.7l0 -0.6l0.1 -0.7l0 -0.7l0.1 -0.7l0 -0.7l0 -0.7l0.1 -0.6l0 -0.7l0 -0.7l0.1 -0.7l0 -0.7l0 -0.7l0.1 -0.6l0 -0.7l0 -0.7l0.1 -0.7l0 -0.7l0.1 -0.7l0 -0.6l0 -0.7l0.1 -0.7l0 -0.7l0 -0.7l0.1 -0.7l0 -0.7l0.1 -0.6l0 -0.7l0 -0.7l0.1 -0.7l0 -0.7l0 -0.7l0.1 -0.6l0 -0.7l0.1 -0.7l0 -0.7l0 -0.7l0.1 -0.7l0 -0.6l0 -0.7l0.1 -0.7l0 -0.7l0.1 -0.7l0 -0.7l0 -0.6l0.1 -0.7l0 -0.7l0 -0.7l0.1 -0.7l0 -0.7l0.1 -0.6l0 -0.7l0 -0.7l0.1 -0.7l0 -0.7l0.1 -0.7l0 -0.7l0 -0.6l0.1 -0.7l0 -0.7l0 -0.7l0.1 -0.7l0 -0.7l0.1 -0.6l0 -0.7l0 -0.7l0.1 -0.7l0 -0.7l0.1 -0.7l0 -0.6l0 -0.7l0.1 -0.7l0 -0.7l0.1 -0.7l0 -0.7l0 -0.6l0.1 -0.7l0 -0.7l0.1 -0.7l0 -0.7l0 -0.7l0.1 -0.7l0 -0.6l0.1 -0.7l0 -0.7l0 -0.7l0.1 -0.7l0 -0.7l0.1 -0.6l0 -0.7l0 -0.7l0.1 -0.7l0 -0.7l0.1 -0.7l0 -0.6l0 -0.7l0.1 -0.7l0 -0.7l0.1 -0.7l0 -0.7l0 -0.7l0.1 -0.6l0 -0.7l0.1 -0.7l0 -0.7l0.1 -0.7l0 -0.7l0 -0.6l0.1 -0.7l0 -0.7l0.1 -0.7l0 -0.7l0 -0.7l0.1 -0.7l0 -0.6l0.1 -0.7l0 -0.7l0.1 -0.7l0 -0.7l0 -0.7l0.1 -0.6l0 -0.7l0.1 -0.7l0 -0.7l0 -0.7l0.1 -0.7l0 -0.7l0.1 -0.6l0 -0.7l0.1 -0.7l0 -0.7l0 -0.7l0.1 -0.7l0 -0.7l0.1 -0.6l0 -0.7l0.1 -0.7l0 -0.7l0 -0.7l0.1 -0.7l0 -0.6l0.1 -0.7l0 -0.7l0.1 -0.7l0 -0.7l0 -0.7l0.1 -0.7l0 -0.6l0.1 -0.7l0 -0.7l0.1 -0.7l0 -0.7l0 -0.7l0.1 -0.7l0 -0.6l0.1 -0.7l0 -0.7l0.1 -0.7l0 -0.7l0.1 -0.7l0 -0.7l0 -0.6l0.1 -0.7l0 -0.7l0.1 -0.7l0 -0.7l0.1 -0.7l0 -0.6l0 -0.7l0.1 -0.7l0 -0.7l0.1 -0.7l0 -0.7l0.1 -0.7l0 -0.6l0.1 -0.7l0 -0.7l0 -0.7l0.1 -0.7l0 -0.7l0.1 -0.7l0 -0.6l0.1 -0.7l0 -0.7l0.1 -0.7l0 -0.7l0 -0.7l0.1 -0.7l0 -0.6l0.1 -0.7l0 -0.7l0.1 -0.7l0 -0.7l0.1 -0.7l0 -0.7l0 -0.6l0.1 -0.7l0 -0.7l0.1 -0.7l0 -0.7l0.1 -0.7l0 -0.7l0.1 -0.6l0 -0.7l0.1 -0.7l0 -0.7l0 -0.7l0.1 -0.7l0 -0.7l0.1 -0.6l0 -0.7l0.1 -0.7l0 -0.7l0.1 -0.7l0 -0.7l0.1 -0.7l0 -0.6l0 -0.7l0.1 -0.7l0 -0.7l0.1 -0.7l0 -0.7l0.1 -0.7l0 -0.6l0.1 -0.7l0 -0.7l0.1 -0.7l0 -0.7l0 -0.7l0.1 -0.7l0 -0.6l0.1 -0.7l0 -0.7l0.1 -0.7l0 -0.7l0.1 -0.7l0 -0.7l0.1 -0.7l0 -0.6l0 -0.7l0.1 -0.7l0 -0.7l0.1 -0.7l0 -0.7l0.1 -0.7l0 -0.6l0.1 -0.7l0 -0.7l0.1 -0.7l0 -0.7l0.1 -0.7l0 -0.7l0.1 -0.6l0 -0.7l0 -0.7l0.1 -0.7l0 -0.7l0.1 -0.7l0 -0.7l0.1 -0.6l0 -0.7l0.1 -0.7l0 -0.7l0.1 -0.7l0 -0.7l0.1 -0.7l0 -0.6l0 -0.7l0.1 -0.7l0 -0.7l0.1 -0.7l0 -0.7l0.1 -0.7l0 -0.7l0.1 -0.6l0 -0.7l0.1 -0.7l0 -0.7l0.1 -0.7l0 -0.7l0.1 -0.7l0 -0.6l0.1 -0.7l0 -0.7l0 -0.7l0.1 -0.7l0 -0.7l0.1 -0.7l0 -0.6l0.1 -0.7l0 -0.7l0.1 -0.7l0 -0.7l0.1 -0.7l0 -0.7l0.1 -0.6l0 -0.7l0.1 -0.7l0 -0.7l0.1 -0.7l0 -0.7l0 -0.7l0.1 -0.7l0 -0.6l0.1 -0.7l0 -0.7l0.1 -0.7l0 -0.7l0.1 -0.7l0 -0.7l0.1 -0.6l0 -0.7l0.1 -0.7l0 -0.7l0.1 -0.7l0 -0.7l0.1 -0.7l0 -0.6l0 -0.7l0.1 -0.7l0 -0.7l0.1 -0.7l0 -0.7l0.1 -0.7l0 -0.6l0.1 -0.7l0 -0.7l0.1 -0.7l0 -0.7l0.1 -0.7l0 -0.7l0.1 -0.7l0 -0.6l0.1 -0.7l0 -0.7l0.1 -0.7l0 -0.7l0.1 -0.7l0 -0.7l0 -0.6l0.1 -0.7l0 -0.7l0.1 -0.7l0 -0.7l0.1 -0.7l0 -0.7l0.1 -0.6l0 -0.7l0.1 -0.7l0 -0.7l0.1 -0.7l0 -0.7l0.1 -0.7l0 -0.6l0.1 -0.7l0 -0.7l0.1 -0.7l0 -0.7l0 -0.7l0.1 -0.7l0 -0.6l0.1 -0.7l0 -0.7l0.1 -0.7l0 -0.7l0.1 -0.7l0 -0.7l0.1 -0.7l0 -0.6l0.1 -0.7l0 -0.7l0.1 -0.7l0 -0.7l0.1 -0.7l0 -0.7l0.1 -0.6l0 -0.7l0.1 -0.7l0 -0.7l0 -0.7l0.1 -0.7l0 -0.7l0.1 -0.6l0 -0.7l0.1 -0.7l0 -0.7l0.1 -0.7l0 -0.7l0.1 -0.7l0 -0.6l0.1 -0.7l0 -0.7l0.1 -0.7l0 -0.7l0.1 -0.7l0 -0.7l0.1 -0.6l0 -0.7l0.1 -0.7l0 -0.7l0 -0.7l0.1 -0.7l0 -0.7l0.1 -0.6l0 -0.7l0.1 -0.7l0 -0.7l0.1 -0.7l0 -0.7l0.1 -0.7l0 -0.6l0.1 -0.7l0 -0.7l0.1 -0.7l0 -0.7l0.1 -0.7l0 -0.7l0.1 -0.6l0 -0.7l0 -0.7l0.1 -0.7l0 -0.7l0.1 -0.7l0 -0.7l0.1 -0.6l0 -0.7l0.1 -0.7l0 -0.7l0.1 -0.7l0 -0.7l0.1 -0.7l0 -0.6l0.1 -0.7l0 -0.7l0.1 -0.7l0 -0.7l0.1 -0.7l0 -0.7l0 -0.6l0.1 -0.7l0 -0.7l0.1 -0.7l0 -0.7l0.1 -0.7l0 -0.7l0.1 -0.6l0 -0.7l0.1 -0.7l0 -0.7l0.1 -0.7l0 -0.7l0.1 -0.7l0 -0.6l0.1 -0.7l0 -0.7l0 -0.7l0.1 -0.7l0 -0.7l0.1 -0.7l0 -0.6l0.1 -0.7l0 -0.7l0.1 -0.7l0 -0.7l0.1 -0.7l0 -0.7l0.1 -0.6l0 -0.7l0.1 -0.7l0 -0.7l0 -0.7l0.1 -0.7l0 -0.6l0.1 -0.7l0 -0.7l0.1 -0.7l0 -0.7l0.1 -0.7l0 -0.7l0.1 -0.6l0 -0.7l0.1 -0.7l0 -0.7l0.1 -0.7l0 -0.7l0 -0.7l0.1 -0.6l0 -0.7l0.1 -0.7l0 -0.7l0.1 -0.7l0 -0.7l0.1 -0.6l0 -0.7l0.1 -0.7l0 -0.7l0.1 -0.7l0 -0.7l0 -0.7l0.1 -0.6l0 -0.7l0.1 -0.7l0 -0.7l0.1 -0.7l0 -0.7l0.1 -0.7l0 -0.6l0.1 -0.7l0 -0.7l0.1 -0.7l0 -0.7l0 -0.7l0.1 -0.6l0 -0.7l0.1 -0.7l0 -0.7l0.1 -0.7l0 -0.7l0.1 -0.7l0 -0.6l0.1 -0.7l0 -0.7l0 -0.7l0.1 -0.7l0 -0.7l0.1 -0.6l0 -0.7l0.1 -0.7l0 -0.7l0.1 -0.7l0 -0.7l0.1 -0.6l0 -0.7l0 -0.7l0.1 -0.7l0 -0.7l0.1 -0.7l0 -0.7l0.1 -0.6l0 -0.7l0.1 -0.7l0 -0.7l0.1 -0.7l0 -0.7l0.1 -0.6l0 -0.7l0 -0.7l0.1 -0.7l0 -0.7l0.1 -0.7l0 -0.6l0.1 -0.7l0 -0.7l0.1 -0.7l0 -0.7l0.1 -0.7l0 -0.6l0.1 -0.7l0 -0.7l0.1 -0.7l0 -0.7l0.1 -0.7l0 -0.6l0.1 -0.7l0 -0.7l0.1 -0.7l0 -0.7l0.1 -0.7l0 -0.6l0.1 -0.7l0 -0.7l0.1 -0.7l0.1 -0.7l0 -0.7l0.1 -0.6l0 -0.7l0.1 -0.7l0 -0.7l0.1 -0.7l0 -0.7l0.1 -0.6l0.1 -0.7l0 -0.7l0.1 -0.7l0 -0.7l0.1 -0.7l0.1 -0.6l0 -0.7l0.1 -0.7l0 -0.7l0.1 -0.7l0.1 -0.7l0 -0.6l0.1 -0.7l0.1 -0.7l0 -0.7l0.1 -0.7l0.1 -0.7l0 -0.6l0.1 -0.7l0.1 -0.7l0 -0.7l0.1 -0.7l0.1 -0.6l0 -0.7l0.1 -0.7l0.1 -0.7l0 -0.7l0.1 -0.7l0.1 -0.6l0.1 -0.7l0 -0.7l0.1 -0.7l0.1 -0.7l0.1 -0.6l0 -0.7l0.1 -0.7l0.1 -0.7l0.1 -0.7l0.1 -0.7l0 -0.6l0.1 -0.7l0.1 -0.7l0.1 -0.7l0.1 -0.7l0 -0.6l0.1 -0.7l0.1 -0.7l0.1 -0.7l0.1 -0.7l0.1 -0.6l0.1 -0.7l0.1 -0.7l0.1 -0.7l0 -0.7l0.1 -0.6l0.1 -0.7l0.1 -0.7l0.1 -0.7l0.1 -0.7l0.1 -0.7l0.1 -0.6l0.1 -0.7l0.1 -0.7l0.1 -0.7l0.1 -0.7l0.1 -0.6l0.1 -0.7l0.1 -0.7l0.1 -0.7l0.1 -0.7l0.1 -0.6l0.1 -0.7l0.2 -0.7l0.1 -0.7l0.1 -0.7l0.1 -0.6l0.1 -0.7l0.1 -0.7l0.1 -0.7l0.2 -0.7l0.1 -0.6l0.1 -0.7l0.1 -0.7l0.1 -0.7l0.2 -0.6l0.1 -0.7l0.1 -0.7l0.1 -0.7l0.2 -0.7l0.1 -0.6l0.1 -0.7l0.1 -0.7l0.2 -0.7l0.1 -0.7l0.1 -0.6l0.2 -0.7l0.1 -0.7l0.1 -0.7l0.2 -0.6l0.1 -0.7l0.2 -0.7l0.1 -0.7l0.1 -0.7l0.2 -0.6l0.1 -0.7l0.2 -0.7l0.1 -0.7l0.2 -0.6l0.1 -0.7l0.2 -0.7l0.1 -0.7l0.2 -0.7l0.1 -0.6l0.2 -0.7l0.2 -0.7l0.1 -0.7l0.2 -0.6l0.1 -0.7l0.2 -0.7l0.2 -0.7l0.1 -0.7l0.2 -0.6l0.2 -0.7l0.1 -0.7l0.2 -0.7l0.2 -0.6l0.2 -0.7l0.1 -0.7l0.2 -0.6l0.2 -0.7l0.2 -0.7l0.2 -0.6l0.2 -0.7l0.2 -0.7l0.2 -0.6l0.3 -0.7l0.2 -0.6l0.2 -0.7l0.2 -0.6l0.3 -0.7l0.2 -0.6l0.3 -0.6l0.3 -0.7l0.2 -0.6l0.3 -0.6l0.3 -0.6l0.3 -0.6l0.3 -0.6l0.3 -0.6l0.4 -0.6l0.3 -0.6l0.4 -0.6l0.3 -0.5l0.4 -0.6l0.4 -0.6l0.4 -0.5l0.4 -0.6l0.4 -0.5l0.4 -0.5l0.5 -0.6l0.4 -0.5l0.5 -0.5l0.5 -0.5l0.4 -0.5l0.5 -0.4l0.5 -0.5l0.6 -0.5l0.5 -0.4l0.5 -0.5l0.6 -0.4l0.5 -0.4l0.6 -0.5l0.5 -0.4l0.6 -0.4l0.6 -0.4l0.6 -0.3l0.6 -0.4l0.6 -0.4l0.6 -0.3l0.6 -0.4l0.6 -0.3l0.6 -0.3l0.7 -0.3l0.6 -0.3l0.6 -0.3l0.6 -0.3l0.7 -0.3l0.6 -0.2l0.7 -0.3l0.6 -0.2l0.7 -0.3l0.6 -0.2l0.7 -0.2l0.6 -0.2l0.7 -0.2l0.6 -0.2l0.7 -0.2l0.7 -0.2l0.6 -0.1l0.7 -0.2l0.7 -0.1l0.6 -0.2l0.7 -0.1l0.7 -0.2l0.6 -0.1l0.7 -0.2l0.7 -0.1l0.7 -0.1l0.6 -0.1l0.7 -0.1l0.7 -0.2l0.7 -0.1l0.7 -0.1l0.6 -0.1l0.7 -0.1l0.7 -0.1l0.7 -0.1l0.7 -0.1l0.7 -0.1l0.6 -0.1l0.7 -0.1l0.7 -0.1l0.7 -0.1l0.7 -0.1l0.6 -0.1l0.7 -0.2l0.7 -0.1l0.7 -0.1l0.7 -0.1l0.6 -0.1l0.7 -0.1l0.7 -0.1l0.7 -0.1l0.7 -0.1l0.6 -0.1l0.7 -0.1l0.7 -0.1l0.7 -0.1l0.7 -0.1l0.6 -0.1l0.7 -0.1l0.7 -0.1l0.7 -0.1l0.7 -0.1l0.6 -0.1l0.7 -0.1l0.7 -0.2l0.7 -0.1l0.7 -0.1l0.6 -0.1l0.7 -0.1l0.7 -0.1l0.7 -0.1l0.7 -0.1l0.6 -0.1l0.7 -0.1l0.7 -0.1l0.7 -0.1l0.6 -0.1l0.7 -0.1l0.7 -0.1l0.7 -0.1l0.7 -0.1l0.6 -0.1l0.7 -0.1l0.7 -0.2l0.7 -0.1l0.6 -0.1l0.7 -0.1l0.7 -0.1l0.7 -0.1l0.7 -0.1l0.6 -0.1l0.7 -0.1l0.7 -0.1l0.7 -0.1l0.6 -0.1l0.7 -0.1l0.7 -0.1l0.7 -0.1l0.7 -0.1l0.6 -0.1l0.7 -0.1l0.7 -0.1l0.7 -0.1l0.6 -0.2l0.7 -0.1l0.7 -0.1l0.7 -0.1l0.7 -0.1l0.6 -0.1l0.7 -0.1l0.7 -0.1l0.7 -0.1l0.6 -0.1l0.7 -0.1l0.7 -0.1l0.7 -0.1l0.7 -0.1l0.6 -0.1l0.7 -0.1l0.7 -0.1l0.7 -0.1l0.6 -0.1l0.7 -0.1l0.7 -0.1l0.7 -0.1l0.7 -0.1l0.6 -0.1l0.7 -0.1l0.7 -0.1l0.7 -0.2l0.7 -0.1l0.6 -0.1l0.7 -0.1l0.7 -0.1l0.7 -0.1l0.7 -0.1l0.6 -0.1l0.7 -0.1l0.7 -0.1l0.7 -0.1l0.6 -0.1l0.7 -0.1l0.7 -0.1l0.7 -0.1l0.7 -0.1l0.6 -0.1l0.7 -0.1l0.7 -0.1l0.7 -0.1l0.7 -0.1l0.7 -0.1l0.6 -0.1l0.7 -0.1l0.7 -0.1l0.7 -0.1l0.7 -0.1l0.6 -0.1l0.7 -0.1l0.7 -0.1l0.7 -0.1l0.7 -0.1l0.6 -0.1l0.7 -0.1l0.7 -0.1l0.7 -0.1l0.7 -0.1l0.7 -0.1l0.6 0l0.7 -0.1l0.7 -0.1l0.7 -0.1l0.7 -0.1l0.6 -0.1l0.7 -0.1l0.7 -0.1l0.7 -0.1l0.7 -0.1l0.7 -0.1l0.6 0l0.7 -0.1l0.7 -0.1l0.7 -0.1l0.7 -0.1l0.7 -0.1l0.6 -0.1l0.7 0l0.7 -0.1l0.7 -0.1l0.7 -0.1l0.7 -0.1l0.6 0l0.7 -0.1l0.7 -0.1l0.7 -0.1l0.7 0l0.7 -0.1l0.6 -0.1l0.7 -0.1l0.7 0l0.7 -0.1l0.7 -0.1l0.7 0l0.6 -0.1l0.7 -0.1l0.7 0l0.7 -0.1l0.7 -0.1l0.7 0l0.7 -0.1l0.6 -0.1l0.7 0l0.7 -0.1l0.7 0l0.7 -0.1l0.7 0l0.6 -0.1l0.7 -0.1l0.7 0l0.7 -0.1l0.7 0l0.7 -0.1l0.7 0l0.6 0l0.7 -0.1l0.7 0l0.7 -0.1l0.7 0l0.7 -0.1l0.6 0l0.7 0l0.7 -0.1l0.7 0l0.7 0l0.7 -0.1l0.7 0l0.6 0l0.7 0l0.7 -0.1l0.7 0l0.7 0l0.7 0l0.7 0l0.6 -0.1l0.7 0l0.7 0l0.7 0l0.7 0l0.7 0l0.7 0l0.6 0l0.7 0l0.7 0l0.7 0l0.7 0l0.7 0l0.7 0l0.6 0l0.7 0l0.7 0l0.7 0l0.7 0l0.7 0l0.7 0.1l0.6 0l0.7 0l0.7 0l0.7 0l0.7 0.1l0.7 0l0.7 0l0.6 0l0.7 0l0.7 0.1l0.7 0l0.7 0l0.7 0l0.7 0l0.6 0l0.7 0l0.7 0.1l0.7 0l0.7 0l0.7 0l0.6 0l0.7 0l0.7 -0.1l0.7 0l0.7 0l0.7 0l0.6 0l0.7 -0.1l0.7 0l0.7 -0.1l0.7 0l0.6 -0.1l0.7 0l0.7 -0.1l0.7 -0.1l0.7 0l0.7 -0.1l0.6 -0.1l0.7 -0.1l0.7 -0.1l0.7 0l0.7 -0.1l0.6 -0.1l0.7 -0.1l0.7 -0.1l0.7 -0.1l0.6 -0.1l0.7 -0.1l0.7 -0.1l0.7 -0.1l0.7 -0.1l0.6 -0.2l0.7 -0.1l0.7 -0.1l0.7 -0.1l0.7 -0.1l0.6 -0.1l0.7 -0.1l0.7 -0.1l0.7 -0.1l0.7 -0.1l0.6 -0.1l0.7 -0.1l0.7 -0.1l0.7 -0.1l0.7 -0.1l0.6 0l0.7 -0.1l0.7 -0.1l0.7 -0.1l0.7 -0.1l0.6 -0.1l0.7 -0.1l0.7 -0.1l0.7 0l0.7 -0.1l0.7 -0.1l0.6 -0.1l0.7 -0.1l0.7 0l0.7 -0.1l0.7 -0.1l0.6 -0.1l0.7 0l0.7 -0.1l0.7 -0.1l0.7 -0.1l0.7 0l0.6 -0.1l0.7 -0.1l0.7 0l0.7 -0.1l0.7 -0.1l0.7 0l0.6 -0.1l0.7 -0.1l0.7 0l0.7 -0.1l0.7 0l0.6 -0.1l0.7 -0.1l0.7 0l0.7 -0.1l0.7 0l0.7 -0.1l0.7 0l0.6 -0.1l0.7 0l0.7 -0.1l0.7 -0.1l0.7 0l0.7 -0.1l0.6 0l0.7 0l0.7 -0.1l0.7 0l0.7 -0.1l0.7 0l0.6 -0.1l0.7 0l0.7 -0.1l0.7 0l0.7 0l0.7 -0.1l0.7 0l0.6 -0.1l0.7 0l0.7 0l0.7 -0.1l0.7 0l0.7 0l0.6 -0.1l0.7 0l0.7 0l0.7 -0.1l0.7 0l0.7 0l0.7 -0.1l0.6 0l0.7 0l0.7 -0.1l0.7 0l0.7 0l0.7 0l0.7 -0.1l0.6 0l0.7 0l0.7 0l0.7 -0.1l0.7 0l0.7 0l0.7 0l0.7 -0.1l0.6 0l0.7 0l0.7 0l0.7 0l0.7 -0.1l0.7 0l0.7 0l0.6 0l0.7 0l0.7 -0.1l0.7 0l0.7 0l0.7 0l0.7 0l0.6 0l0.7 0l0.7 -0.1l0.7 0l0.7 0l0.7 0l0.7 0l0.7 0l0.6 0l0.7 0l0.7 -0.1l0.7 0l0.7 0l0.7 0l0.7 0l0.7 0l0.6 0l0.7 0l0.7 0l0.7 0l0.7 0l0.7 0l0.7 -0.1l0.7 0l0.6 0l0.7 0l0.7 0l0.7 0l0.7 0l0.7 0l0.7 0l0.7 0l0.6 0l0.7 0l0.7 0l0.7 0l0.7 0l0.7 0l0.7 0l0.7 0l0.6 0l0.7 0l0.7 0l0.7 0l0.7 0l0.7 0l0.7 0l0.7 0l0.6 0l0.7 0l0.7 0l0.7 0l0.7 -0.1l0.7 0l0.7 0l0.7 0l0.6 0l0.7 0l0.7 0l0.7 0l0.7 0l0.7 0l0.7 0l0.7 0l0.6 0l0.7 0l0.7 0l0.7 0l0.7 0l0.7 0l0.7 0l0.7 0l0.6 0l0.7 0l0.7 0l0.7 0l0.7 0l0.7 0l0.7 0l0.7 0l0.6 0l0.7 0l0.7 0l0.7 0l0.7 0l0.7 0l0.7 0l0.7 0l0.6 0l0.7 0l0.7 0l0.7 0l0.7 0l0.7 0l0.7 0l0.7 0l0.6 0l0.7 0l0.7 0l0.7 0l0.7 0l0.7 0l0.7 0l0.7 0l0.6 0l0.7 0l0.7 0l0.7 0l0.7 0l0.7 0l0.7 0l0.7 0l0.6 0l0.7 0l0.7 0l0.7 0l0.7 0l0.7 0l0.7 0l0.7 0l0.6 0l0.7 0l0.7 0l0.7 -0.1l0.7 0l0.7 0l0.7 0l0.6 0l0.7 0l0.7 0l0.7 0l0.7 0l0.7 0l0.7 0l0.7 0l0.6 0l0.7 0l0.7 0l0.7 0l0.7 0l0.7 0l0.7 0l0.7 0l0.6 0l0.7 0l0.7 0l0.7 0l0.7 0l0.7 0l0.7 -0.1l0.6 0l0.7 0l0.7 0l0.7 0l0.7 0l0.7 0l0.7 0l0.7 0l0.6 0l0.7 0l0.7 0l0.7 0l0.7 0l0.7 0l0.7 0l0.6 0l0.7 0l0.7 0l0.7 0l0.7 0l0.7 0l0.7 -0.1l0.7 0l0.6 0l0.7 0l0.7 0l0.7 0l0.7 0l0.7 0l0.7 0l0.6 0l0.7 0l0.7 0l0.7 0l0.7 0l0.7 0l0.7 0l0.7 0l0.6 0l0.7 0l0.7 0l0.7 -0.1l0.7 0l0.7 0l0.7 0l0.6 0l0.7 0l0.7 0l0.7 0l0.7 0l0.7 0l0.7 0l0.7 0l0.6 0l0.7 0l0.7 0l0.7 0l0.7 0l0.7 0l0.7 0l0.6 0l0.7 -0.1l0.7 0l0.7 0l0.7 0l0.7 0l0.7 0l0.7 0l0.6 0l0.7 0l0.7 0l0.7 0l0.7 0l0.7 0l0.7 0l0.6 0l0.7 0l0.7 0l0.7 0l0.7 0l0.7 0l0.7 0l0.7 0l0.6 -0.1l0.7 0l0.7 0l0.7 0l0.7 0l0.7 0l0.7 0l0.6 0l0.7 0l0.7 0l0.7 0l0.7 0l0.7 0l0.7 0l0.7 0l0.6 0l0.7 0l0.7 0l0.7 0l0.7 0l0.7 0l0.7 0l0.6 0l0.7 0l0.7 0l0.7 -0.1l0.7 0l0.7 0l0.7 0l0.7 0l0.6 0l0.7 0l0.7 0l0.7 0l0.7 0l0.7 0l0.7 0l0.7 0l0.6 0l0.7 0l0.7 0l0.7 0l0.7 0l0.7 0l0.7 0l0.6 0l0.7 0l0.7 0l0.7 0l0.7 0l0.7 0l0.7 0l0.7 0l0.6 0l0.7 0l0.7 0l0.7 0l0.7 0l0.7 -0.1l0.7 0l0.6 0l0.7 0l0.7 0l0.7 0l0.7 0l0.7 0l0.7 0l0.7 0l0.6 0l0.7 0l0.7 0l0.7 0l0.7 0l0.7 0l0.7 0l0.7 0l0.6 0l0.7 0l0.7 0l0.7 0l0.7 0l0.7 0l0.7 0l0.6 0l0.7 0l0.7 0l0.7 0l0.7 0l0.7 0l0.7 0l0.7 0l0.6 0l0.7 0l0.7 0l0.7 0l0.7 0l0.7 0l0.7 0l0.7 0l0.6 0l0.7 0l0.7 0l0.7 0l0.7 0l0.7 0l0.7 0l0.6 0l0.7 0l0.7 0l0.7 0l0.7 0l0.7 0l0.7 -0.1l0.7 0l0.6 0l0.7 0l0.7 0l0.7 0l0.7 0l0.7 0l0.7 0l0.7 0l0.6 0l0.7 0l0.7 0l0.7 0l0.7 0l0.7 0l0.7 0l0.6 0l0.7 0l0.7 0l0.7 0l0.7 0l0.7 0l0.7 0l0.7 0l0.6 0l0.7 0l0.7 0l0.7 0l0.7 0l0.7 0l0.7 0l0.7 0l0.6 0l0.7 0l0.7 0l0.7 0l0.7 0l0.7 0l0.7 0l0.7 0l0.6 0l0.7 0l0.7 0l0.7 0l0.7 0l0.7 0l0.7 0l0.6 0l0.7 0l0.7 0l0.7 0l0.7 0l0.7 0l0.7 0l0.7 0l0.6 0l0.7 0l0.7 0l0.7 0l0.7 0l0.7 0l0.7 0l0.7 0l0.6 0l0.7 0l0.7 0l0.7 0l0.7 0l0.7 0l0.7 0l0.7 0l0.6 0l0.7 0l0.7 0l0.7 0l0.7 0l0.7 0l0.7 0l0.6 0l0.7 0l0.7 0l0.7 0l0.7 0l0.7 0l0.7 0l0.7 0l0.6 0l0.7 0l0.7 0l0.7 0l0.7 0l0.7 0l0.7 0l0.7 0l0.6 0l0.7 0l0.7 0l0.7 0l0.7 0l0.7 0l0.7 0l0.7 0l0.6 0l0.7 0l0.7 0l0.7 0l0.7 0l0.7 0l0.7 0l0.6 0l0.7 0l0.7 0l0.7 0l0.7 0l0.7 0l0.7 -0.1l0.7 0l0.6 0l0.7 0l0.7 0l0.7 0l0.7 0l0.7 0l0.7 0l0.7 0l0.6 0l0.7 0l0.7 0l0.7 0l0.7 0l0.7 0l0.7 0l0.6 0l0.7 0l0.7 0l0.7 0l0.7 0l0.7 0l0.7 0l0.7 0l0.6 0l0.7 0l0.7 0l0.7 0l0.7 0l0.7 0l0.7 0l0.7 0l0.6 0l0.7 0l0.7 0l0.7 0l0.7 0l0.7 0l0.7 0l0.7 0l0.6 0l0.7 0l0.7 0l0.7 0l0.7 0l0.7 0l0.7 0l0.6 0l0.7 0l0.7 0l0.7 0l0.7 0l0.7 0l0.7 0l0.7 0l0.6 0l0.7 0l0.7 0l0.7 0l0.7 0l0.7 0l0.7 0l0.7 0l0.6 0l0.7 0l0.7 0l0.7 0l0.7 0l0.7 0l0.7 0l0.6 0l0.7 0l0.7 -0.1l0.7 0l0.7 0l0.7 0l0.7 0l0.7 0l0.6 0l0.7 0l0.7 0l0.7 0l0.7 0l0.7 0l0.7 0l0.7 0l0.6 0l0.7 0l0.7 0l0.7 0l0.7 0l0.7 0l0.7 0l0.6 0l0.7 0l0.7 0l0.7 0l0.7 0l0.7 0l0.7 0l0.7 0l0.6 0l0.7 0l0.7 0l0.7 0l0.7 0l0.7 0l0.7 0l0.6 0l0.7 0l0.7 -0.1l0.7 0l0.7 0l0.7 0l0.7 0l0.7 0l0.6 0l0.7 0l0.7 0l0.7 0l0.7 0l0.7 0l0.7 0l0.7 0l0.6 0l0.7 0l0.7 0l0.7 0l0.7 0l0.7 0l0.7 0l0.6 0l0.7 0l0.7 0l0.7 0l0.7 0l0.7 0l0.7 0l0.7 -0.1l0.6 0l0.7 0l0.7 0l0.7 0l0.7 0l0.7 0l0.7 0l0.6 0l0.7 0l0.7 0l0.7 0l0.7 0l0.7 0l0.7 0l0.7 0l0.6 0l0.7 0l0.7 0l0.7 0l0.7 0l0.7 0l0.7 -0.1l0.6 0l0.7 0l0.7 0l0.7 0l0.7 0"/>
<path stroke="#FF00FF" d="M299 1917.4l0.7 0l0.7 -0.1l0.7 0l0.7 0l0.8 0l0.7 0l0.7 -0.1l0.7 0l0.7 0l0.7 0l0.7 -0.1l0.8 0l0.7 0l0.7 0l0.7 -0.1l0.7 0l0.7 0l0.8 0l0.7 0l0.7 -0.1l0.7 0l0.7 0l0.7 0l0.7 0l0.8 -0.1l0.7 0l0.7 0l0.7 0l0.7 0l0.7 0l0.8 -0.1l0.7 0l0.7 0l0.7 0l0.7 0l0.7 0l0.7 -0.1l0.8 0l0.7 0l0.7 0l0.7 0l0.7 0l0.7 -0.1l0.8 0l0.7 0l0.7 0l0.7 0l0.7 0l0.7 0l0.8 0l0.7 -0.1l0.7 0l0.7 0l0.7 0l0.7 0l0.7 0l0.8 0l0.7 0l0.7 0l0.7 -0.1l0.7 0l0.7 0l0.8 0l0.7 0l0.7 0l0.7 0l0.7 0l0.7 0l0.8 0l0.7 0l0.7 0l0.7 -0.1l0.7 0l0.7 0l0.7 0l0.8 0l0.7 0l0.7 0l0.7 0l0.7 0l0.7 0l0.8 0l0.7 0l0.7 0l0.7 0l0.7 0l0.7 0l0.8 0l0.7 0l0.7 0l0.7 0l0.7 0l0.7 -0.1l0.8 0l0.7 0l0.7 0l0.7 0l0.7 0l0.7 0l0.7 0l0.8 0l0.7 0l0.7 0l0.7 0l0.7 0l0.7 0l0.8 0l0.7 0l0.7 0l0.7 0l0.7 0l0.7 0l0.8 0l0.7 0l0.7 0l0.7 0l0.7 0l0.7 0l0.8 0l0.7 0l0.7 0l0.7 0.1l0.7 0l0.7 0l0.8 0l0.7 0l0.7 0l0.7 0l0.7 0l0.7 0l0.8 0l0.7 0l0.7 0l0.7 0l0.7 0l0.7 0l0.7 0l0.8 0l0.7 0l0.7 0l0.7 0l0.7 0l0.7 0l0.8 0.1l0.7 0l0.7 0l0.7 0l0.7 0l0.7 0l0.8 0l0.7 0l0.7 0l0.7 0l0.7 0l0.7 0l0.8 0l0.7 0l0.7 0l0.7 0.1l0.7 0l0.7 0l0.8 0l0.7 0l0.7 0l0.7 0l0.7 0l0.7 0l0.8 0l0.7 0l0.7 0.1l0.7 0l0.7 0l0.7 0l0.8 0l0.7 0l0.7 0l0.7 0l0.7 0l0.7 0l0.8 0.1l0.7 0l0.7 0l0.7 0l0.7 0l0.7 0l0.8 0l0.7 0l0.7 0l0.7 0.1l0.7 0l0.7 0l0.8 0l0.7 0l0.7 0l0.7 0l0.7 0l0.7 0l0.8 0.1l0.7 0l0.7 0l0.7 0l0.7 0l0.7 0l0.7 0l0.8 0l0.7 0.1l0.7 0l0.7 0l0.7 0l0.7 0l0.8 0l0.7 0l0.7 0l0.7 0.1l0.7 0l0.7 0l0.8 0l0.7 0l0.7 0l0.7 0l0.7 0.1l0.7 0l0.8 0l0.7 0l0.7 0l0.7 0l0.7 0l0.7 0.1l0.8 0l0.7 0l0.7 0l0.7 0l0.7 0l0.7 0l0.8 0.1l0.7 0l0.7 0l0.7 0l0.7 0l0.7 0l0.8 0l0.7 0.1l0.7 0l0.7 0l0.7 0l0.7 0l0.8 0l0.7 0l0.7 0.1l0.7 0l0.7 0l0.7 0l0.8 0l0.7 0l0.7 0l0.7 0.1l0.7 0l0.7 0l0.8 0l0.7 0l0.7 0l0.7 0l0.7 0.1l0.7 0l0.8 0l0.7 0l0.7 0l0.7 0l0.7 0.1l0.7 0l0.8 0l0.7 0l0.7 0l0.7 0l0.7 0l0.7 0.1l0.8 0l0.7 0l0.7 0l0.7 0l0.7 0l0.7 0l0.8 0.1l0.7 0l0.7 0l0.7 0l0.7 0l0.7 0l0.8 0l0.7 0.1l0.7 0l0.7 0l0.7 0l0.7 0l0.8 0l0.7 0l0.7 0.1l0.7 0l0.7 0l0.7 0l0.8 0l0.7 0l0.7 0.1l0.7 0l0.7 0l0.7 0l0.8 0l0.7 0l0.7 0l0.7 0l0.7 0.1l0.7 0l0.8 0l0.7 0l0.7 0l0.7 0l0.7 0l0.7 0.1l0.7 0l0.8 0l0.7 0l0.7 0l0.7 0l0.7 0l0.7 0.1l0.8 0l0.7 0l0.7 0l0.7 0l0.7 0l0.7 0l0.8 0l0.7 0.1l0.7 0l0.7 0l0.7 0l0.7 0l0.8 0l0.7 0l0.7 0l0.7 0.1l0.7 0l0.7 0l0.8 0l0.7 0l0.7 0l0.7 0l0.7 0l0.7 0l0.8 0.1l0.7 0l0.7 0l0.7 0l0.7 0l0.7 0l0.8 0l0.7 0l0.7 0l0.7 0.1l0.7 0l0.7 0l0.8 0l0.7 0l0.7 0l0.7 0l0.7 0l0.7 0l0.7 0.1l0.8 0l0.7 0l0.7 0l0.7 0l0.7 0l0.7 0l0.8 0l0.7 0l0.7 0l0.7 0l0.7 0.1l0.7 0l0.8 0l0.7 0l0.7 0l0.7 0l0.7 0l0.7 0l0.8 0l0.7 0l0.7 0.1l0.7 0l0.7 0l0.7 0l0.8 0l0.7 0l0.7 0l0.7 0l0.7 0l0.7 0l0.8 0l0.7 0.1l0.7 0l0.7 0l0.7 0l0.7 0l0.7 0l0.8 0l0.7 0l0.7 0l0.7 0l0.7 0l0.7 0l0.8 0.1l0.7 0l0.7 0l0.7 0l0.7 0l0.7 0l0.8 0l0.7 0l0.7 0l0.7 0l0.7 0l0.7 0l0.8 0l0.7 0.1l0.7 0l0.7 0l0.7 0l0.7 0l0.8 0l0.7 0l0.7 0l0.7 0l0.7 0l0.7 0l0.7 0l0.8 0.1l0.7 0l0.7 0l0.7 0l0.7 0l0.7 0l0.8 0l0.7 0l0.7 0l0.7 0l0.7 0l0.7 0l0.8 0l0.7 0.1l0.7 0l0.7 0l0.7 0l0.7 0l0.8 0l0.7 0l0.7 0l0.7 0l0.7 0l0.7 0l0.8 0l0.7 0l0.7 0l0.7 0.1l0.7 0l0.7 0l0.8 0l0.7 0l0.7 0l0.7 0l0.7 0l0.7 0l0.7 0l0.8 0l0.7 0l0.7 0l0.7 0.1l0.7 0l0.7 0l0.8 0l0.7 0l0.7 0l0.7 0l0.7 0l0.7 0l0.8 0l0.7 0l0.7 0l0.7 0l0.7 0.1l0.7 0l0.8 0l0.7 0l0.7 0l0.7 0l0.7 0l0.7 0l0.8 0l0.7 0l0.7 0l0.7 0l0.7 0.1l0.7 0l0.8 0l0.7 0l0.7 0l0.7 0l0.7 0l0.7 0l0.7 0l0.8 0l0.7 0l0.7 0l0.7 0.1l0.7 0l0.7 0l0.8 0l0.7 0l0.7 0l0.7 0l0.7 0l0.7 0l0.8 0l0.7 0l0.7 0l0.7 0.1l0.7 0l0.7 0l0.8 0l0.7 0l0.7 0l0.7 0l0.7 0l0.7 0l0.8 0l0.7 0l0.7 0.1l0.7 0l0.7 0l0.7 0l0.8 0l0.7 0l0.7 0l0.7 0l0.7 0l0.7 0l0.8 0.1l0.7 0l0.7 0l0.7 0l0.7 0l0.7 0l0.8 0l0.7 0l0.7 0l0.7 0l0.7 0.1l0.7 0l0.8 0l0.7 0l0.7 0l0.7 0l0.7 0l0.7 0l0.8 0l0.7 0.1l0.7 0l0.7 0l0.7 0l0.7 0l0.8 0l0.7 0l0.7 0l0.7 0l0.7 0.1l0.7 0l0.8 0l0.7 0l0.7 0l0.7 0l0.7 0l0.7 0l0.8 0.1l0.7 0l0.7 0l0.7 0l0.7 0l0.7 0l0.8 0l0.7 0l0.7 0.1l0.7 0l0.7 0l0.7 0l0.8 0l0.7 0l0.7 0l0.7 0l0.7 0.1l0.7 0l0.8 0l0.7 0l0.7 0l0.7 0l0.7 0l0.7 0.1l0.8 0l0.7 0l0.7 0l0.7 0l0.7 0l0.7 0l0.8 0.1l0.7 0l0.7 0l0.7 0l0.7 0l0.8 0l0.7 0.1l0.7 0l0.7 0l0.7 0l0.7 0l0.8 0l0.7 0l0.7 0.1l0.7 0l0.7 0l0.7 0l0.8 0l0.7 0l0.7 0.1l0.7 0l0.7 0l0.7 0l0.8 0l0.7 0.1l0.7 0l0.7 0l0.7 0l0.7 0l0.8 0l0.7 0.1l0.7 0l0.7 0l0.7 0l0.7 0l0.8 0.1l0.7 0l0.7 0l0.7 0l0.7 0.1l0.7 0l0.8 0l0.7 0l0.7 0.1l0.7 0l0.7 0l0.7 0l0.8 0.1l0.7 0l0.7 0l0.7 0.1l0.7 0l0.7 0l0.8 0.1l0.7 0l0.7 0l0.7 0.1l0.7 0l0.7 0l0.7 0.1l0.8 0l0.7 0.1l0.7 0l0.7 0l0.7 0.1l0.7 0l0.7 0.1l0.8 0l0.7 0.1l0.7 0l0.7 0.1l0.7 0l0.7 0.1l0.7 0l0.7 0.1l0.8 0l0.7 0.1l0.7 0.1l0.7 0l0.7 0.1l0.7 0l0.7 0.1l0.7 0.1l0.7 0l0.8 0.1l0.7 0.1l0.7 0.1l0.7 0l0.7 0.1l0.7 0.1l0.7 0.1l0.7 0l0.7 0.1l0.7 0.1l0.8 0.1l0.7 0.1l0.7 0l0.7 0.1l0.7 0.1l0.7 0.1l0.7 0.1l0.7 0.1l0.7 0.1l0.7 0.1l0.7 0.1l0.7 0.1l0.7 0.1l0.7 0.1l0.7 0.1l0.8 0.1l0.7 0.1l0.7 0.1l0.7 0.1l0.7 0.1l0.7 0.1l0.7 0.1l0.7 0.1l0.7 0.1l0.7 0.1l0.7 0.1l0.7 0.1l0.7 0.1l0.7 0.2l0.7 0.1l0.7 0.1l0.7 0.1l0.8 0.1l0.7 0.1l0.7 0.1l0.7 0.1l0.7 0.2l0.7 0.1l0.7 0.1l0.7 0.1l0.7 0.1l0.7 0.1l0.7 0.2l0.7 0.1l0.7 0.1l0.7 0.1l0.7 0.1l0.8 0.2l0.7 0.1l0.7 0.1l0.7 0.1l0.7 0.1l0.7 0.1l0.7 0.2l0.7 0.1l0.7 0.1l0.7 0.1l0.7 0.1l0.7 0.2l0.7 0.1l0.8 0.1l0.7 0.1l0.7 0.1l0.7 0.2l0.7 0.1l0.7 0.1l0.7 0.1l0.7 0.1l0.7 0.1l0.8 0.2l0.7 0.1l0.7 0.1l0.7 0.1l0.7 0.1l0.7 0.1l0.7 0.2l0.7 0.1l0.8 0.1l0.7 0.1l0.7 0.1l0.7 0.1l0.7 0.1l0.7 0.1l0.7 0.2l0.8 0.1l0.7 0.1l0.7 0.1l0.7 0.1l0.7 0.1l0.7 0.1l0.7 0.2l0.8 0.1l0.7 0.1l0.7 0.1l0.7 0.2l0.7 0.1l0.7 0.1l0.7 0.2l0.7 0.1l0.7 0.2l0.7 0.1l0.7 0.2l0.7 0.1l0.7 0.2l0.7 0.2l0.7 0.2l0.7 0.1l0.6 0.2l0.7 0.2l0.7 0.2l0.7 0.2l0.7 0.2l0.6 0.2l0.7 0.3l0.7 0.2l0.6 0.2l0.7 0.3l0.7 0.2l0.6 0.3l0.7 0.3l0.6 0.3l0.7 0.2l0.6 0.3l0.6 0.3l0.7 0.4l0.6 0.3l0.6 0.3l0.7 0.3l0.6 0.4l0.6 0.3l0.6 0.4l0.6 0.3l0.6 0.4l0.6 0.4l0.6 0.4l0.6 0.3l0.6 0.4l0.6 0.4l0.6 0.4l0.6 0.5l0.5 0.4l0.6 0.4l0.6 0.4l0.5 0.5l0.6 0.4l0.6 0.5l0.5 0.4l0.6 0.5l0.5 0.5l0.6 0.4l0.5 0.5l0.5 0.5l0.6 0.5l0.5 0.5l0.5 0.5l0.5 0.5l0.6 0.5l0.5 0.5l0.5 0.5l0.5 0.5l0.5 0.5l0.5 0.6l0.5 0.5l0.5 0.6l0.4 0.5l0.5 0.5l0.5 0.6l0.5 0.5l0.4 0.6l0.5 0.6l0.4 0.5l0.5 0.6l0.5 0.6l0.4 0.6l0.4 0.5l0.5 0.6l0.4 0.6l0.4 0.6l0.5 0.6l0.4 0.6l0.4 0.6l0.4 0.6l0.4 0.6l0.4 0.6l0.4 0.6l0.4 0.6l0.4 0.6l0.4 0.6l0.4 0.6l0.3 0.6l0.4 0.7l0.4 0.6l0.3 0.6l0.4 0.6l0.3 0.7l0.4 0.6l0.3 0.6l0.4 0.6l0.3 0.7l0.4 0.6l0.3 0.6l0.3 0.7l0.3 0.6l0.3 0.7l0.4 0.6l0.3 0.6l0.3 0.7l0.3 0.6l0.3 0.7l0.3 0.6l0.3 0.7l0.3 0.6l0.3 0.7l0.3 0.6l0.3 0.7l0.2 0.6l0.3 0.7l0.3 0.6l0.3 0.7l0.3 0.6l0.2 0.7l0.3 0.7l0.3 0.6l0.2 0.7l0.3 0.6l0.3 0.7l0.2 0.7l0.3 0.6l0.3 0.7l0.2 0.6l0.3 0.7l0.2 0.7l0.3 0.6l0.2 0.7l0.3 0.7l0.2 0.6l0.3 0.7l0.3 0.7l0.2 0.6l0.3 0.7l0.2 0.7l0.3 0.6l0.2 0.7l0.3 0.7l0.2 0.7l0.3 0.6l0.2 0.7l0.3 0.7l0.2 0.6l0.2 0.7l0.3 0.7l0.2 0.7l0.3 0.6l0.2 0.7l0.3 0.7l0.2 0.6l0.2 0.7l0.3 0.7l0.2 0.7l0.3 0.6l0.2 0.7l0.2 0.7l0.3 0.7l0.2 0.7l0.3 0.6l0.2 0.7l0.2 0.7l0.3 0.7l0.2 0.6l0.2 0.7l0.3 0.7l0.2 0.7l0.2 0.7l0.2 0.6l0.3 0.7l0.2 0.7l0.2 0.7l0.3 0.7l0.2 0.6l0.2 0.7l0.2 0.7l0.3 0.7l0.2 0.7l0.2 0.6l0.2 0.7l0.3 0.7l0.2 0.7l0.2 0.7l0.2 0.7l0.2 0.6l0.3 0.7l0.2 0.7l0.2 0.7l0.2 0.7l0.2 0.7l0.2 0.6l0.3 0.7l0.2 0.7l0.2 0.7l0.2 0.7l0.2 0.7l0.2 0.7l0.2 0.6l0.3 0.7l0.2 0.7l0.2 0.7l0.2 0.7l0.2 0.7l0.2 0.7l0.2 0.7l0.2 0.6l0.2 0.7l0.2 0.7l0.2 0.7l0.2 0.7l0.2 0.7l0.2 0.7l0.2 0.7l0.2 0.6l0.2 0.7l0.2 0.7l0.2 0.7l0.2 0.7l0.2 0.7l0.2 0.7l0.2 0.7l0.2 0.7l0.2 0.6l0.2 0.7l0.2 0.7l0.2 0.7l0.2 0.7l0.2 0.7l0.2 0.7l0.2 0.7l0.2 0.7l0.2 0.7l0.1 0.7l0.2 0.6l0.2 0.7l0.2 0.7l0.2 0.7l0.2 0.7l0.2 0.7l0.2 0.7l0.1 0.7l0.2 0.7l0.2 0.7l0.2 0.7l0.2 0.7l0.2 0.7l0.1 0.6l0.2 0.7l0.2 0.7l0.2 0.7l0.2 0.7l0.1 0.7l0.2 0.7l0.2 0.7l0.2 0.7l0.1 0.7l0.2 0.7l0.2 0.7l0.2 0.7l0.1 0.7l0.2 0.7l0.2 0.6l0.2 0.7l0.1 0.7l0.2 0.7l0.2 0.7l0.1 0.7l0.2 0.7l0.2 0.7l0.1 0.7l0.2 0.7l0.2 0.7l0.2 0.7l0.1 0.7l0.2 0.7l0.1 0.7l0.2 0.7l0.2 0.7l0.1 0.7l0.2 0.7l0.2 0.7l0.1 0.7l0.2 0.7l0.2 0.7l0.1 0.7l0.2 0.7l0.1 0.7l0.2 0.6l0.2 0.7l0.1 0.7l0.2 0.7l0.1 0.7l0.2 0.7l0.1 0.7l0.2 0.7l0.1 0.7l0.2 0.7l0.2 0.7l0.1 0.7l0.2 0.7l0.1 0.7l0.2 0.7l0.1 0.7l0.2 0.7l0.1 0.7l0.2 0.7l0.1 0.7l0.2 0.7l0.1 0.7l0.2 0.7l0.1 0.7l0.2 0.7l0.1 0.7l0.2 0.7l0.1 0.7l0.2 0.7l0.1 0.7l0.1 0.7l0.2 0.7l0.1 0.7l0.2 0.7l0.1 0.7l0.2 0.7l0.1 0.7l0.2 0.7l0.1 0.7l0.1 0.7l0.2 0.7l0.1 0.7l0.2 0.7l0.1 0.7l0.1 0.7l0.2 0.7l0.1 0.7l0.1 0.7l0.2 0.7l0.1 0.7l0.2 0.7l0.1 0.7l0.1 0.7l0.2 0.8l0.1 0.7l0.1 0.7l0.2 0.7l0.1 0.7l0.1 0.7l0.2 0.7l0.1 0.7l0.1 0.7l0.2 0.7l0.1 0.7l0.1 0.7l0.2 0.7l0.1 0.7l0.1 0.7l0.2 0.7l0.1 0.7l0.1 0.7l0.1 0.7l0.2 0.7l0.1 0.7l0.1 0.7l0.2 0.7l0.1 0.7l0.1 0.7l0.1 0.7l0.2 0.7l0.1 0.7l0.1 0.8l0.1 0.7l0.2 0.7l0.1 0.7l0.1 0.7l0.1 0.7l0.2 0.7l0.1 0.7l0.1 0.7l0.1 0.7l0.1 0.7l0.2 0.7l0.1 0.7l0.1 0.7l0.1 0.7l0.1 0.7l0.2 0.7l0.1 0.7l0.1 0.7l0.1 0.8l0.1 0.7l0.2 0.7l0.1 0.7l0.1 0.7l0.1 0.7l0.1 0.7l0.1 0.7l0.2 0.7l0.1 0.7l0.1 0.7l0.1 0.7l0.1 0.7l0.1 0.7l0.2 0.7l0.1 0.7l0.1 0.8l0.1 0.7l0.1 0.7l0.1 0.7l0.1 0.7l0.2 0.7l0.1 0.7l0.1 0.7l0.1 0.7l0.1 0.7l0.1 0.7l0.1 0.7l0.1 0.7l0.1 0.7l0.2 0.8l0.1 0.7l0.1 0.7l0.1 0.7l0.1 0.7l0.1 0.7l0.1 0.7l0.1 0.7l0.1 0.7l0.1 0.7l0.1 0.7l0.2 0.7l0.1 0.7l0.1 0.8l0.1 0.7l0.1 0.7l0.1 0.7l0.1 0.7l0.1 0.7l0.1 0.7l0.1 0.7l0.1 0.7l0.1 0.7l0.1 0.7l0.1 0.7l0.1 0.8l0.1 0.7l0.2 0.7l0.1 0.7l0.1 0.7l0.1 0.7l0.1 0.7l0.1 0.7l0.1 0.7l0.1 0.7l0.1 0.7l0.1 0.8l0.1 0.7l0.1 0.7l0.1 0.7l0.1 0.7l0.1 0.7l0.1 0.7l0.1 0.7l0.1 0.7l0.1 0.7l0.1 0.8l0.1 0.7l0.1 0.7l0.1 0.7l0.1 0.7l0.1 0.7l0.1 0.7l0.1 0.7l0.1 0.7l0.1 0.7l0.1 0.7l0.1 0.8l0.1 0.7l0.1 0.7l0.1 0.7l0.1 0.7l0.1 0.7l0.1 0.7l0.1 0.7l0.1 0.7l0.1 0.7l0.1 0.8l0.1 0.7l0.1 0.7l0.1 0.7l0.1 0.7l0.1 0.7l0.1 0.7l0.1 0.7l0.1 0.7l0.1 0.7l0.1 0.8l0.1 0.7l0.1 0.7l0.1 0.7l0 0.7l0.1 0.7l0.1 0.7l0.1 0.7l0.1 0.7l0.1 0.8l0.1 0.7l0.1 0.7l0.1 0.7l0.1 0.7l0.1 0.7l0.1 0.7l0.1 0.7l0.1 0.7l0.1 0.7l0.1 0.8l0.1 0.7l0.1 0.7l0.1 0.7l0.1 0.7l0.1 0.7l0.1 0.7l0.1 0.7l0 0.7l0.1 0.8l0.1 0.7l0.1 0.7l0.1 0.7l0.1 0.7l0.1 0.7l0.1 0.7l0.1 0.7l0.1 0.7l0.1 0.8l0.1 0.7l0.1 0.7l0.1 0.7l0.1 0.7l0.1 0.7l0.1 0.7l0 0.7l0.1 0.7l0.1 0.7l0.1 0.8l0.1 0.7l0.1 0.7l0.1 0.7l0.1 0.7l0.1 0.7l0.1 0.7l0.1 0.7l0.1 0.7l0.1 0.8l0.1 0.7l0.1 0.7l0.1 0.7l0.1 0.7l0 0.7l0.1 0.7l0.1 0.7l0.1 0.7l0.1 0.8l0.1 0.7l0.1 0.7l0.1 0.7l0.1 0.7l0.1 0.7l0.1 0.7l0.1 0.7l0.1 0.7l0.1 0.8l0.1 0.7l0.1 0.7l0.1 0.7l0 0.7l0.1 0.7l0.1 0.7l0.1 0.7l0.1 0.7l0.1 0.7l0.1 0.8l0.1 0.7l0.1 0.7l0.1 0.7l0.1 0.7l0.1 0.7l0.1 0.7l0.1 0.7l0.1 0.7l0.1 0.8l0.1 0.7l0 0.7l0.1 0.7l0.1 0.7l0.1 0.7l0.1 0.7l0.1 0.7l0.1 0.7l0.1 0.8l0.1 0.7l0.1 0.7l0.1 0.7l0.1 0.7l0.1 0.7l0.1 0.7l0.1 0.7l0.1 0.7l0.1 0.7l0 0.8l0.1 0.7l0.1 0.7l0.1 0.7l0.1 0.7l0.1 0.7l0.1 0.7l0.1 0.7l0.1 0.7l0.1 0.8l0.1 0.7l0.1 0.7l0.1 0.7l0.1 0.7l0.1 0.7l0.1 0.7l0.1 0.7l0.1 0.7l0 0.8l0.1 0.7l0.1 0.7l0.1 0.7l0.1 0.7l0.1 0.7l0.1 0.7l0.1 0.7l0.1 0.7l0.1 0.7l0.1 0.8l0.1 0.7l0.1 0.7l0.1 0.7l0.1 0.7l0.1 0.7l0.1 0.7l0 0.7l0.1 0.7l0.1 0.8l0.1 0.7l0.1 0.7l0.1 0.7l0.1 0.7l0.1 0.7l0.1 0.7l0.1 0.7l0.1 0.7l0.1 0.7l0.1 0.8l0.1 0.7l0.1 0.7l0.1 0.7l0.1 0.7l0 0.7l0.1 0.7l0.1 0.7l0.1 0.7l0.1 0.7l0.1 0.8l0.1 0.7l0.1 0.7l0.1 0.7l0.1 0.7l0.1 0.7l0.1 0.7l0.1 0.7l0.1 0.7l0.1 0.8l0.1 0.7l0.1 0.7l0 0.7l0.1 0.7l0.1 0.7l0.1 0.7l0.1 0.7l0.1 0.7l0.1 0.7l0.1 0.8l0.1 0.7l0.1 0.7l0.1 0.7l0.1 0.7l0.1 0.7l0.1 0.7l0.1 0.7l0.1 0.7l0 0.8l0.1 0.7l0.1 0.7l0.1 0.7l0.1 0.7l0.1 0.7l0.1 0.7l0.1 0.7l0.1 0.7l0.1 0.7l0.1 0.8l0.1 0.7l0.1 0.7l0.1 0.7l0.1 0.7l0 0.7l0.1 0.7l0.1 0.7l0.1 0.7l0.1 0.7l0.1 0.8l0.1 0.7l0.1 0.7l0.1 0.7l0.1 0.7l0.1 0.7l0.1 0.7l0.1 0.7l0.1 0.7l0.1 0.8l0 0.7l0.1 0.7l0.1 0.7l0.1 0.7l0.1 0.7l0.1 0.7l0.1 0.7l0.1 0.7l0.1 0.7l0.1 0.8l0.1 0.7l0.1 0.7l0.1 0.7l0.1 0.7l0.1 0.7l0 0.7l0.1 0.7l0.1 0.7l0.1 0.7l0.1 0.8l0.1 0.7l0.1 0.7l0.1 0.7l0.1 0.7l0.1 0.7l0.1 0.7l0.1 0.7l0.1 0.7l0.1 0.7l0 0.8l0.1 0.7l0.1 0.7l0.1 0.7l0.1 0.7l0.1 0.7l0.1 0.7l0.1 0.7l0.1 0.7l0.1 0.8l0.1 0.7l0.1 0.7l0.1 0.7l0 0.7l0.1 0.7l0.1 0.7l0.1 0.7l0.1 0.7l0.1 0.7l0.1 0.8l0.1 0.7l0.1 0.7l0.1 0.7l0.1 0.7l0.1 0.7l0 0.7l0.1 0.7l0.1 0.7l0.1 0.7l0.1 0.8l0.1 0.7l0.1 0.7l0.1 0.7l0.1 0.7l0.1 0.7l0.1 0.7l0.1 0.7l0 0.7l0.1 0.7l0.1 0.8l0.1 0.7l0.1 0.7l0.1 0.7l0.1 0.7l0.1 0.7l0.1 0.7l0.1 0.7l0.1 0.7l0.1 0.7l0 0.8l0.1 0.7l0.1 0.7l0.1 0.7l0.1 0.7l0.1 0.7l0.1 0.7l0.1 0.7l0.1 0.7l0.1 0.8l0.1 0.7l0 0.7l0.1 0.7l0.1 0.7l0.1 0.7l0.1 0.7l0.1 0.7l0.1 0.7l0.1 0.7l0.1 0.8l0.1 0.7l0.1 0.7l0 0.7l0.1 0.7l0.1 0.7l0.1 0.7l0.1 0.7l0.1 0.7l0.1 0.7l0.1 0.8l0.1 0.7l0.1 0.7l0 0.7l0.1 0.7l0.1 0.7l0.1 0.7l0.1 0.7l0.1 0.7l0.1 0.7l0.1 0.8l0.1 0.7l0.1 0.7l0 0.7l0.1 0.7l0.1 0.7l0.1 0.7l0.1 0.7l0.1 0.7l0.1 0.7l0.1 0.8l0.1 0.7l0 0.7l0.1 0.7l0.1 0.7l0.1 0.7l0.1 0.7l0.1 0.7l0.1 0.7l0.1 0.7l0.1 0.8l0 0.7l0.1 0.7l0.1 0.7l0.1 0.7l0.1 0.7l0.1 0.7l0.1 0.7l0.1 0.7l0.1 0.7l0.1 0.8l0 0.7l0.1 0.7l0.1 0.7l0.1 0.7l0.1 0.7l0.1 0.7l0.1 0.7l0.1 0.7l0.1 0.7l0 0.8l0.1 0.7l0.1 0.7l0.1 0.7l0.1 0.7l0.1 0.7l0.1 0.7l0.1 0.7l0.1 0.7l0.1 0.7l0 0.8l0.1 0.7l0.1 0.7l0.1 0.7l0.1 0.7l0.1 0.7l0.1 0.7l0.1 0.7l0.1 0.7l0.1 0.8l0.1 0.7l0 0.7l0.1 0.7l0.1 0.7l0.1 0.7l0.1 0.7l0.1 0.7l0.1 0.7l0.1 0.7l0.1 0.8l0.1 0.7l0.1 0.7l0.1 0.7l0 0.7l0.1 0.7l0.1 0.7l0.1 0.7l0.1 0.7l0.1 0.7l0.1 0.8l0.1 0.7l0.1 0.7l0.1 0.7l0.1 0.7l0.1 0.7l0.1 0.7l0.1 0.7l0.1 0.7l0 0.7l0.1 0.8l0.1 0.7l0.1 0.7l0.1 0.7l0.1 0.7l0.1 0.7l0.1 0.7l0.1 0.7l0.1 0.7l0.1 0.7l0.1 0.8l0.1 0.7l0.1 0.7l0.1 0.7l0.1 0.7l0.1 0.7l0.1 0.7l0.1 0.7l0.1 0.7l0.1 0.8l0.1 0.7l0.1 0.7l0.1 0.7l0.1 0.7l0.1 0.7l0.1 0.7l0.1 0.7l0.1 0.7l0.1 0.7l0.1 0.8l0.1 0.7l0.1 0.7l0.1 0.7l0.1 0.7l0.1 0.7l0.1 0.7l0.1 0.7l0.1 0.7l0.1 0.7l0.1 0.8l0.1 0.7l0.1 0.7l0.1 0.7l0.1 0.7l0.1 0.7l0.1 0.7l0.1 0.7l0.1 0.7l0.1 0.8l0.1 0.7l0.2 0.7l0.1 0.7l0.1 0.7l0.1 0.7l0.1 0.7l0.1 0.7l0.1 0.7l0.1 0.7l0.1 0.8l0.1 0.7l0.1 0.7l0.1 0.7l0.2 0.7l0.1 0.7l0.1 0.7l0.1 0.7l0.1 0.7l0.1 0.7l0.1 0.8l0.1 0.7l0.1 0.7l0.2 0.7l0.1 0.7l0.1 0.7l0.1 0.7l0.1 0.7l0.1 0.7l0.1 0.8l0.2 0.7l0.1 0.7l0.1 0.7l0.1 0.7l0.1 0.7l0.2 0.7l0.1 0.7l0.1 0.7l0.1 0.7l0.2 0.7l0.1 0.7l0.1 0.7l0.1 0.8l0.2 0.7l0.1 0.7l0.1 0.7l0.2 0.7l0.1 0.7l0.2 0.7l0.1 0.7l0.2 0.7l0.1 0.7l0.2 0.6l0.1 0.7l0.2 0.7l0.1 0.7l0.2 0.7l0.2 0.7l0.1 0.7l0.2 0.7l0.2 0.7l0.2 0.6l0.1 0.7l0.2 0.7l0.2 0.7l0.2 0.7l0.2 0.6l0.2 0.7l0.2 0.7l0.2 0.7l0.2 0.6l0.2 0.7l0.2 0.7l0.3 0.6l0.2 0.7l0.2 0.6l0.2 0.7l0.3 0.7l0.2 0.6l0.3 0.7l0.2 0.6l0.3 0.7l0.2 0.6l0.3 0.7l0.2 0.6l0.3 0.7l0.2 0.6l0.3 0.7l0.2 0.6l0.3 0.7l0.3 0.7l0.2 0.6l0.3 0.7l0.2 0.7l0.3 0.6l0.2 0.7l0.3 0.7l0.3 0.6l0.2 0.7l0.3 0.7l0.2 0.7l0.3 0.7l0.2 0.7l0.2 0.7l0.3 0.7l0.2 0.7l0.3 0.7l0.2 0.7l0.2 0.8l0.2 0.7l0.3 0.7l0.2 0.8l0.2 0.7l0.2 0.8l0.2 0.7l0.2 0.8l0.2 0.7l0.2 0.8l0.2 0.8l0.2 0.7l0.2 0.8l0.2 0.7l0.2 0.8l0.3 0.7l0.2 0.8l0.2 0.7l0.2 0.7l0.3 0.7l0.2 0.7l0.3 0.7l0.3 0.7l0.2 0.7l0.3 0.6l0.3 0.7l0.3 0.6l0.3 0.6l0.4 0.6l0.3 0.6l0.4 0.5l0.3 0.5l0.3 0.4l0.3 0.4l0.6 0.4l0.7 -0.1l0.3 -0.6l0.3 -0.9l0 -0.6l0.1 -0.6l0 -0.7l0.1 -0.7l0 -0.8l0 -0.8l0 -0.8l0.1 -0.8l0 -0.8l0 -0.8l0 -0.8l0 -0.8l0 -0.8l0 -0.8l0 -0.7l0 -0.8l0 -0.8l0.1 -0.8l0 -0.7l0 -0.8l0 -0.7l0 -0.8l0 -0.7l0 -0.8l0 -0.7l0 -0.8l0.1 -0.7l0 -0.7l0 -0.8l0 -0.7l0 -0.7l0 -0.7l0 -0.8l0 -0.7l0.1 -0.7l0 -0.7l0 -0.7l0 -0.7l0 -0.8l0 -0.7l0 -0.7l0.1 -0.7l0 -0.7l0 -0.7l0 -0.7l0 -0.7l0 -0.8l0 -0.7l0.1 -0.7l0 -0.7l0 -0.7l0 -0.7l0 -0.7l0 -0.7l0.1 -0.7l0 -0.7l0 -0.8l0 -0.7l0 -0.7l0.1 -0.7l0 -0.7l0 -0.7l0 -0.7l0 -0.7l0.1 -0.7l0 -0.8l0 -0.7l0 -0.7l0 -0.7l0.1 -0.7l0 -0.7l0 -0.7l0 -0.7l0 -0.8l0.1 -0.7l0 -0.7l0 -0.7l0 -0.7l0.1 -0.7l0 -0.7l0 -0.7l0 -0.7l0.1 -0.8l0 -0.7l0 -0.7l0 -0.7l0 -0.7l0.1 -0.7l0 -0.7l0 -0.7l0 -0.8l0.1 -0.7l0 -0.7l0 -0.7l0.1 -0.7l0 -0.7l0 -0.7l0 -0.8l0.1 -0.7l0 -0.7l0 -0.7l0 -0.7l0.1 -0.7l0 -0.7l0 -0.7l0 -0.8l0.1 -0.7l0 -0.7l0 -0.7l0.1 -0.7l0 -0.7l0 -0.7l0 -0.8l0.1 -0.7l0 -0.7l0 -0.7l0.1 -0.7l0 -0.7l0 -0.7l0.1 -0.8l0 -0.7l0 -0.7l0 -0.7l0.1 -0.7l0 -0.7l0 -0.7l0.1 -0.8l0 -0.7l0 -0.7l0.1 -0.7l0 -0.7l0 -0.7l0.1 -0.7l0 -0.8l0 -0.7l0.1 -0.7l0 -0.7l0 -0.7l0.1 -0.7l0 -0.7l0 -0.8l0.1 -0.7l0 -0.7l0 -0.7l0.1 -0.7l0 -0.7l0 -0.7l0.1 -0.8l0 -0.7l0 -0.7l0.1 -0.7l0 -0.7l0 -0.7l0.1 -0.7l0 -0.8l0 -0.7l0.1 -0.7l0 -0.7l0 -0.7l0.1 -0.7l0 -0.8l0 -0.7l0.1 -0.7l0 -0.7l0.1 -0.7l0 -0.7l0 -0.7l0.1 -0.8l0 -0.7l0 -0.7l0.1 -0.7l0 -0.7l0 -0.7l0.1 -0.8l0 -0.7l0.1 -0.7l0 -0.7l0 -0.7l0.1 -0.7l0 -0.8l0 -0.7l0.1 -0.7l0 -0.7l0 -0.7l0.1 -0.7l0 -0.7l0.1 -0.8l0 -0.7l0 -0.7l0.1 -0.7l0 -0.7l0 -0.7l0.1 -0.8l0 -0.7l0.1 -0.7l0 -0.7l0 -0.7l0.1 -0.7l0 -0.8l0.1 -0.7l0 -0.7l0 -0.7l0.1 -0.7l0 -0.7l0 -0.8l0.1 -0.7l0 -0.7l0.1 -0.7l0 -0.7l0 -0.7l0.1 -0.8l0 -0.7l0.1 -0.7l0 -0.7l0 -0.7l0.1 -0.7l0 -0.8l0 -0.7l0.1 -0.7l0 -0.7l0.1 -0.7l0 -0.7l0 -0.7l0.1 -0.8l0 -0.7l0.1 -0.7l0 -0.7l0 -0.7l0.1 -0.7l0 -0.8l0.1 -0.7l0 -0.7l0 -0.7l0.1 -0.7l0 -0.7l0.1 -0.8l0 -0.7l0 -0.7l0.1 -0.7l0 -0.7l0 -0.7l0.1 -0.8l0 -0.7l0.1 -0.7l0 -0.7l0 -0.7l0.1 -0.7l0 -0.8l0.1 -0.7l0 -0.7l0 -0.7l0.1 -0.7l0 -0.7l0.1 -0.8l0 -0.7l0 -0.7l0.1 -0.7l0 -0.7l0 -0.7l0.1 -0.8l0 -0.7l0.1 -0.7l0 -0.7l0 -0.7l0.1 -0.7l0 -0.8l0.1 -0.7l0 -0.7l0 -0.7l0.1 -0.7l0 -0.7l0 -0.8l0.1 -0.7l0 -0.7l0.1 -0.7l0 -0.7l0 -0.7l0.1 -0.8l0 -0.7l0.1 -0.7l0 -0.7l0 -0.7l0.1 -0.7l0 -0.7l0 -0.8l0.1 -0.7l0 -0.7l0.1 -0.7l0 -0.7l0 -0.7l0.1 -0.8l0 -0.7l0 -0.7l0.1 -0.7l0 -0.7l0.1 -0.7l0 -0.8l0 -0.7l0.1 -0.7l0 -0.7l0 -0.7l0.1 -0.7l0 -0.8l0.1 -0.7l0 -0.7l0 -0.7l0.1 -0.7l0 -0.7l0 -0.8l0.1 -0.7l0 -0.7l0.1 -0.7l0 -0.7l0 -0.7l0.1 -0.7l0 -0.8l0 -0.7l0.1 -0.7l0 -0.7l0 -0.7l0.1 -0.7l0 -0.8l0.1 -0.7l0 -0.7l0 -0.7l0.1 -0.7l0 -0.7l0 -0.8l0.1 -0.7l0 -0.7l0 -0.7l0.1 -0.7l0 -0.7l0.1 -0.8l0 -0.7l0 -0.7l0.1 -0.7l0 -0.7l0 -0.7l0.1 -0.7l0 -0.8l0 -0.7l0.1 -0.7l0 -0.7l0.1 -0.7l0 -0.7l0 -0.8l0.1 -0.7l0 -0.7l0 -0.7l0.1 -0.7l0 -0.7l0 -0.8l0.1 -0.7l0 -0.7l0 -0.7l0.1 -0.7l0 -0.7l0.1 -0.7l0 -0.8l0 -0.7l0.1 -0.7l0 -0.7l0 -0.7l0.1 -0.7l0 -0.8l0 -0.7l0.1 -0.7l0 -0.7l0 -0.7l0.1 -0.7l0 -0.7l0.1 -0.8l0 -0.7l0 -0.7l0.1 -0.7l0 -0.7l0 -0.7l0.1 -0.8l0 -0.7l0 -0.7l0.1 -0.7l0 -0.7l0 -0.7l0.1 -0.7l0 -0.8l0.1 -0.7l0 -0.7l0 -0.7l0.1 -0.7l0 -0.7l0 -0.8l0.1 -0.7l0 -0.7l0 -0.7l0.1 -0.7l0 -0.7l0 -0.8l0.1 -0.7l0 -0.7l0 -0.7l0.1 -0.7l0 -0.7l0.1 -0.7l0 -0.8l0 -0.7l0.1 -0.7l0 -0.7l0 -0.7l0.1 -0.7l0 -0.8l0 -0.7l0.1 -0.7l0 -0.7l0 -0.7l0.1 -0.7l0 -0.7l0 -0.8l0.1 -0.7l0 -0.7l0.1 -0.7l0 -0.7l0 -0.7l0.1 -0.8l0 -0.7l0 -0.7l0.1 -0.7l0 -0.7l0 -0.7l0.1 -0.7l0 -0.8l0 -0.7l0.1 -0.7l0 -0.7l0.1 -0.7l0 -0.7l0 -0.7l0.1 -0.8l0 -0.7l0 -0.7l0.1 -0.7l0 -0.7l0 -0.7l0.1 -0.8l0 -0.7l0 -0.7l0.1 -0.7l0 -0.7l0.1 -0.7l0 -0.7l0 -0.8l0.1 -0.7l0 -0.7l0 -0.7l0.1 -0.7l0 -0.7l0 -0.8l0.1 -0.7l0 -0.7l0 -0.7l0.1 -0.7l0 -0.7l0.1 -0.7l0 -0.8l0 -0.7l0.1 -0.7l0 -0.7l0 -0.7l0.1 -0.7l0 -0.8l0 -0.7l0.1 -0.7l0 -0.7l0 -0.7l0.1 -0.7l0 -0.7l0.1 -0.8l0 -0.7l0 -0.7l0.1 -0.7l0 -0.7l0 -0.7l0.1 -0.7l0 -0.8l0 -0.7l0.1 -0.7l0 -0.7l0.1 -0.7l0 -0.7l0 -0.8l0.1 -0.7l0 -0.7l0 -0.7l0.1 -0.7l0 -0.7l0.1 -0.7l0 -0.8l0 -0.7l0.1 -0.7l0 -0.7l0 -0.7l0.1 -0.7l0 -0.7l0 -0.8l0.1 -0.7l0 -0.7l0.1 -0.7l0 -0.7l0 -0.7l0.1 -0.8l0 -0.7l0 -0.7l0.1 -0.7l0 -0.7l0.1 -0.7l0 -0.7l0 -0.8l0.1 -0.7l0 -0.7l0 -0.7l0.1 -0.7l0 -0.7l0.1 -0.8l0 -0.7l0 -0.7l0.1 -0.7l0 -0.7l0 -0.7l0.1 -0.7l0 -0.8l0.1 -0.7l0 -0.7l0 -0.7l0.1 -0.7l0 -0.7l0.1 -0.7l0 -0.8l0 -0.7l0.1 -0.7l0 -0.7l0 -0.7l0.1 -0.7l0 -0.8l0.1 -0.7l0 -0.7l0 -0.7l0.1 -0.7l0 -0.7l0.1 -0.7l0 -0.8l0 -0.7l0.1 -0.7l0 -0.7l0 -0.7l0.1 -0.7l0 -0.7l0.1 -0.8l0 -0.7l0 -0.7l0.1 -0.7l0 -0.7l0.1 -0.7l0 -0.8l0 -0.7l0.1 -0.7l0 -0.7l0.1 -0.7l0 -0.7l0 -0.7l0.1 -0.8l0 -0.7l0.1 -0.7l0 -0.7l0 -0.7l0.1 -0.7l0 -0.7l0.1 -0.8l0 -0.7l0 -0.7l0.1 -0.7l0 -0.7l0.1 -0.7l0 -0.8l0 -0.7l0.1 -0.7l0 -0.7l0.1 -0.7l0 -0.7l0 -0.7l0.1 -0.8l0 -0.7l0.1 -0.7l0 -0.7l0.1 -0.7l0 -0.7l0 -0.7l0.1 -0.8l0 -0.7l0.1 -0.7l0 -0.7l0 -0.7l0.1 -0.7l0 -0.8l0.1 -0.7l0 -0.7l0.1 -0.7l0 -0.7l0 -0.7l0.1 -0.7l0 -0.8l0.1 -0.7l0 -0.7l0 -0.7l0.1 -0.7l0 -0.7l0.1 -0.7l0 -0.8l0.1 -0.7l0 -0.7l0 -0.7l0.1 -0.7l0 -0.7l0.1 -0.8l0 -0.7l0.1 -0.7l0 -0.7l0.1 -0.7l0 -0.7l0 -0.7l0.1 -0.8l0 -0.7l0.1 -0.7l0 -0.7l0.1 -0.7l0 -0.7l0 -0.7l0.1 -0.8l0 -0.7l0.1 -0.7l0 -0.7l0.1 -0.7l0 -0.7l0.1 -0.8l0 -0.7l0 -0.7l0.1 -0.7l0 -0.7l0.1 -0.7l0 -0.7l0.1 -0.8l0 -0.7l0.1 -0.7l0 -0.7l0.1 -0.7l0 -0.7l0 -0.7l0.1 -0.8l0 -0.7l0.1 -0.7l0 -0.7l0.1 -0.7l0 -0.7l0.1 -0.8l0 -0.7l0.1 -0.7l0 -0.7l0.1 -0.7l0 -0.7l0 -0.7l0.1 -0.8l0 -0.7l0.1 -0.7l0 -0.7l0.1 -0.7l0 -0.7l0.1 -0.7l0 -0.8l0.1 -0.7l0 -0.7l0.1 -0.7l0 -0.7l0.1 -0.7l0 -0.8l0.1 -0.7l0 -0.7l0.1 -0.7l0 -0.7l0.1 -0.7l0 -0.7l0.1 -0.8l0 -0.7l0 -0.7l0.1 -0.7l0 -0.7l0.1 -0.7l0 -0.8l0.1 -0.7l0 -0.7l0.1 -0.7l0 -0.7l0.1 -0.7l0 -0.7l0.1 -0.8l0 -0.7l0.1 -0.7l0 -0.7l0.1 -0.7l0 -0.7l0.1 -0.7l0 -0.8l0.1 -0.7l0 -0.7l0.1 -0.7l0 -0.7l0.1 -0.7l0 -0.8l0.1 -0.7l0 -0.7l0.1 -0.7l0 -0.7l0.1 -0.7l0 -0.7l0.1 -0.8l0 -0.7l0.1 -0.7l0 -0.7l0.1 -0.7l0.1 -0.7l0 -0.8l0.1 -0.7l0 -0.7l0.1 -0.7l0 -0.7l0.1 -0.7l0 -0.7l0.1 -0.8l0 -0.7l0.1 -0.7l0 -0.7l0.1 -0.7l0 -0.7l0.1 -0.7l0 -0.8l0.1 -0.7l0 -0.7l0.1 -0.7l0 -0.7l0.1 -0.7l0 -0.8l0.1 -0.7l0 -0.7l0.1 -0.7l0.1 -0.7l0 -0.7l0.1 -0.7l0 -0.8l0.1 -0.7l0 -0.7l0.1 -0.7l0 -0.7l0.1 -0.7l0 -0.7l0.1 -0.8l0 -0.7l0.1 -0.7l0 -0.7l0.1 -0.7l0.1 -0.7l0 -0.7l0.1 -0.8l0 -0.7l0.1 -0.7l0 -0.7l0.1 -0.7l0 -0.7l0.1 -0.8l0 -0.7l0.1 -0.7l0.1 -0.7l0 -0.7l0.1 -0.7l0 -0.7l0.1 -0.8l0 -0.7l0.1 -0.7l0 -0.7l0.1 -0.7l0 -0.7l0.1 -0.7l0.1 -0.8l0 -0.7l0.1 -0.7l0 -0.7l0.1 -0.7l0 -0.7l0.1 -0.7l0 -0.8l0.1 -0.7l0 -0.7l0.1 -0.7l0.1 -0.7l0 -0.7l0.1 -0.7l0 -0.8l0.1 -0.7l0 -0.7l0.1 -0.7l0 -0.7l0.1 -0.7l0.1 -0.7l0 -0.8l0.1 -0.7l0 -0.7l0.1 -0.7l0 -0.7l0.1 -0.7l0.1 -0.7l0 -0.8l0.1 -0.7l0 -0.7l0.1 -0.7l0 -0.7l0.1 -0.7l0 -0.7l0.1 -0.8l0.1 -0.7l0 -0.7l0.1 -0.7l0 -0.7l0.1 -0.7l0 -0.7l0.1 -0.8l0.1 -0.7l0 -0.7l0.1 -0.7l0 -0.7l0.1 -0.7l0 -0.7l0.1 -0.8l0.1 -0.7l0 -0.7l0.1 -0.7l0 -0.7l0.1 -0.7l0 -0.7l0.1 -0.8l0.1 -0.7l0 -0.7l0.1 -0.7l0 -0.7l0.1 -0.7l0 -0.7l0.1 -0.8l0.1 -0.7l0 -0.7l0.1 -0.7l0 -0.7l0.1 -0.7l0 -0.7l0.1 -0.7l0.1 -0.8l0 -0.7l0.1 -0.7l0 -0.7l0.1 -0.7l0.1 -0.7l0 -0.7l0.1 -0.8l0 -0.7l0.1 -0.7l0 -0.7l0.1 -0.7l0.1 -0.7l0 -0.7l0.1 -0.8l0 -0.7l0.1 -0.7l0.1 -0.7l0 -0.7l0.1 -0.7l0 -0.7l0.1 -0.7l0 -0.8l0.1 -0.7l0.1 -0.7l0 -0.7l0.1 -0.7l0 -0.7l0.1 -0.7l0.1 -0.7l0 -0.8l0.1 -0.7l0.1 -0.7l0 -0.7l0.1 -0.7l0 -0.7l0.1 -0.7l0.1 -0.7l0 -0.8l0.1 -0.7l0.1 -0.7l0 -0.7l0.1 -0.7l0.1 -0.7l0 -0.7l0.1 -0.7l0.1 -0.8l0 -0.7l0.1 -0.7l0.1 -0.7l0.1 -0.7l0 -0.7l0.1 -0.7l0.1 -0.7l0.1 -0.7l0 -0.8l0.1 -0.7l0.1 -0.7l0.1 -0.7l0.1 -0.7l0 -0.7l0.1 -0.7l0.1 -0.7l0.1 -0.7l0.1 -0.7l0.1 -0.8l0 -0.7l0.1 -0.7l0.1 -0.7l0.1 -0.7l0.1 -0.7l0.1 -0.7l0.1 -0.7l0.1 -0.7l0.1 -0.7l0.1 -0.7l0.1 -0.8l0.1 -0.7l0.1 -0.7l0.1 -0.7l0.1 -0.7l0.1 -0.7l0.1 -0.7l0.1 -0.7l0.1 -0.7l0.1 -0.7l0.2 -0.7l0.1 -0.7l0.1 -0.7l0.1 -0.7l0.1 -0.7l0.1 -0.8l0.2 -0.7l0.1 -0.7l0.1 -0.7l0.1 -0.7l0.2 -0.7l0.1 -0.7l0.1 -0.7l0.2 -0.7l0.1 -0.7l0.2 -0.7l0.1 -0.7l0.1 -0.7l0.2 -0.7l0.1 -0.7l0.2 -0.7l0.1 -0.7l0.2 -0.7l0.1 -0.7l0.2 -0.7l0.1 -0.7l0.2 -0.7l0.2 -0.7l0.1 -0.7l0.2 -0.7l0.2 -0.7l0.1 -0.7l0.2 -0.7l0.2 -0.7l0.2 -0.7l0.1 -0.7l0.2 -0.7l0.2 -0.7l0.2 -0.7l0.2 -0.7l0.2 -0.7l0.2 -0.7l0.2 -0.7l0.1 -0.7l0.2 -0.7l0.3 -0.7l0.2 -0.7l0.2 -0.7l0.2 -0.7l0.2 -0.7l0.2 -0.7l0.2 -0.7l0.2 -0.7l0.3 -0.7l0.2 -0.7l0.2 -0.7l0.2 -0.7l0.3 -0.6l0.2 -0.7l0.2 -0.7l0.3 -0.7l0.2 -0.7l0.3 -0.7l0.2 -0.7l0.3 -0.7l0.2 -0.7l0.3 -0.7l0.3 -0.7l0.2 -0.7l0.3 -0.6l0.3 -0.7l0.2 -0.7l0.3 -0.7l0.3 -0.7l0.3 -0.7l0.2 -0.7l0.3 -0.7l0.3 -0.6l0.3 -0.7l0.3 -0.7l0.3 -0.7l0.3 -0.7l0.3 -0.6l0.4 -0.7l0.3 -0.6l0.3 -0.7l0.4 -0.6l0.3 -0.6l0.4 -0.6l0.4 -0.6l0.3 -0.6l0.4 -0.6l0.4 -0.5l0.4 -0.6l0.5 -0.5l0.4 -0.5l0.4 -0.5l0.5 -0.5l0.5 -0.4l0.5 -0.4l0.5 -0.4l0.5 -0.4l0.5 -0.4l0.5 -0.3l0.6 -0.3l0.6 -0.3l0.6 -0.2l0.6 -0.3l0.6 -0.2l0.6 -0.1l0.7 -0.2l0.7 -0.1l0.7 -0.1l0.7 -0.1l0.7 0l0.7 -0.1l0.7 0l0.7 0l0.8 0l0.7 0l0.8 0.1l0.8 0l0.8 0.1l0.7 0.1l0.8 0.1l0.8 0.1l0.8 0.1l0.8 0.1l0.8 0.1l0.8 0.2l0.8 0.1l0.8 0.2l0.8 0.1l0.8 0.1l0.8 0.2l0.8 0.1l0.8 0.2l0.8 0.1l0.8 0.1l0.7 0.2l0.8 0.1l0.8 0.1l0.8 0.2l0.7 0.1l0.8 0.1l0.7 0.1l0.8 0.1l0.7 0.1l0.7 0.1l0.8 0.1l0.7 0.1l0.7 0.1l0.8 0l0.7 0.1l0.7 0.1l0.7 0.1l0.7 0l0.7 0.1l0.8 0l0.7 0.1l0.7 0l0.7 0.1l0.7 0l0.7 0l0.7 0l0.6 0l0.7 0.1l0.7 0l0.7 0l0.7 0l0.7 -0.1l0.7 0l0.6 0l0.7 0l0.7 -0.1l0.7 0l0.7 0l0.6 -0.1l0.7 -0.1l0.7 0l0.7 -0.1l0.7 -0.1l0.6 -0.1l0.7 -0.1l0.7 0l0.7 -0.2l0.6 -0.1l0.7 -0.1l0.7 -0.1l0.7 -0.1l0.7 -0.2l0.6 -0.1l0.7 -0.1l0.7 -0.2l0.7 -0.2l0.7 -0.1l0.7 -0.2l0.6 -0.2l0.7 -0.1l0.7 -0.2l0.7 -0.2l0.7 -0.2l0.7 -0.2l0.6 -0.2l0.7 -0.2l0.7 -0.2l0.7 -0.2l0.7 -0.2l0.7 -0.2l0.7 -0.2l0.6 -0.2l0.7 -0.2l0.7 -0.2l0.7 -0.3l0.7 -0.2l0.7 -0.2l0.7 -0.2l0.7 -0.3l0.7 -0.2l0.6 -0.2l0.7 -0.3l0.7 -0.2l0.7 -0.2l0.7 -0.3l0.7 -0.2l0.7 -0.2l0.7 -0.3l0.7 -0.2l0.7 -0.2l0.7 -0.3l0.6 -0.2l0.7 -0.2l0.7 -0.3l0.7 -0.2l0.7 -0.2l0.7 -0.2l0.7 -0.3l0.7 -0.2l0.7 -0.2l0.7 -0.2l0.7 -0.2l0.7 -0.2l0.7 -0.3l0.7 -0.2l0.7 -0.2l0.7 -0.2l0.7 -0.2l0.6 -0.2l0.7 -0.2l0.7 -0.2l0.7 -0.2l0.7 -0.1l0.7 -0.2l0.7 -0.2l0.7 -0.2l0.7 -0.2l0.7 -0.1l0.7 -0.2l0.7 -0.2l0.7 -0.2l0.7 -0.1l0.7 -0.2l0.7 -0.2l0.7 -0.1l0.7 -0.2l0.7 -0.1l0.7 -0.2l0.7 -0.2l0.7 -0.1l0.7 -0.2l0.7 -0.1l0.7 -0.2l0.7 -0.1l0.7 -0.2l0.7 -0.1l0.7 -0.2l0.7 -0.1l0.7 -0.1l0.7 -0.2l0.7 -0.1l0.7 -0.2l0.7 -0.1l0.7 -0.2l0.7 -0.1l0.7 -0.1l0.7 -0.2l0.7 -0.1l0.7 -0.1l0.7 -0.2l0.7 -0.1l0.7 -0.1l0.7 -0.2l0.7 -0.1l0.7 -0.1l0.7 -0.2l0.7 -0.1l0.7 -0.1l0.7 -0.2l0.7 -0.1l0.7 -0.1l0.7 -0.2l0.7 -0.1l0.7 -0.1l0.7 -0.2l0.7 -0.1l0.7 -0.1l0.7 -0.2l0.7 -0.1l0.7 -0.1l0.7 -0.2l0.7 -0.1l0.7 -0.1l0.7 -0.2l0.7 -0.1l0.7 -0.1l0.7 -0.2l0.7 -0.1l0.8 -0.2l0.7 -0.1l0.7 -0.1l0.7 -0.2l0.7 -0.1l0.7 -0.2l0.7 -0.1l0.7 -0.2l0.7 -0.1l0.7 -0.2l0.7 -0.1l0.7 -0.2l0.7 -0.1l0.7 -0.2l0.7 -0.1l0.7 -0.1l0.7 -0.2l0.7 -0.1l0.7 -0.2l0.7 -0.1l0.7 -0.2l0.7 -0.1l0.7 -0.1l0.7 -0.2l0.8 -0.1l0.7 -0.1l0.7 -0.2l0.7 -0.1l0.7 -0.1l0.7 -0.2l0.7 -0.1l0.7 -0.1l0.7 -0.1l0.7 -0.2l0.7 -0.1l0.7 -0.1l0.7 -0.1l0.7 -0.1l0.8 -0.1l0.7 -0.1l0.7 -0.1l0.7 -0.1l0.7 -0.1l0.7 -0.1l0.7 -0.1l0.7 -0.1l0.7 -0.1l0.7 -0.1l0.8 -0.1l0.7 0l0.7 -0.1l0.7 -0.1l0.7 -0.1l0.7 0l0.7 -0.1l0.7 -0.1l0.7 -0.1l0.8 0l0.7 -0.1l0.7 0l0.7 -0.1l0.7 -0.1l0.7 0l0.7 -0.1l0.7 0l0.8 -0.1l0.7 0l0.7 -0.1l0.7 0l0.7 -0.1l0.7 0l0.7 0l0.8 -0.1l0.7 0l0.7 -0.1l0.7 0l0.7 0l0.7 -0.1l0.7 0l0.8 0l0.7 -0.1l0.7 0l0.7 0l0.7 0l0.7 -0.1l0.7 0l0.8 0l0.7 0l0.7 0l0.7 -0.1l0.7 0l0.7 0l0.8 0l0.7 0l0.7 0l0.7 -0.1l0.7 0l0.7 0l0.8 0l0.7 0l0.7 0l0.7 0l0.7 0l0.7 -0.1l0.8 0l0.7 0l0.7 0l0.7 0l0.7 0l0.7 0l0.8 0l0.7 0l0.7 0l0.7 0l0.7 0l0.7 0l0.8 0l0.7 0l0.7 -0.1l0.7 0l0.7 0l0.7 0l0.8 0l0.7 0l0.7 0l0.7 0l0.7 0l0.7 0l0.8 0l0.7 0l0.7 0l0.7 0l0.7 0l0.7 0l0.8 0l0.7 0l0.7 0l0.7 -0.1l0.7 0l0.7 0l0.8 0l0.7 0l0.7 0l0.7 0l0.7 0l0.7 0l0.8 0l0.7 0l0.7 0l0.7 0l0.7 0l0.7 0l0.8 0l0.7 0l0.7 0l0.7 0l0.7 -0.1l0.7 0l0.8 0l0.7 0l0.7 0l0.7 0l0.7 0l0.7 0l0.8 0l0.7 0l0.7 0l0.7 0l0.7 0l0.7 0l0.8 0l0.7 0l0.7 0l0.7 0l0.7 0l0.7 0l0.8 0l0.7 -0.1l0.7 0l0.7 0l0.7 0l0.7 0l0.8 0l0.7 0l0.7 0l0.7 0l0.7 0l0.7 0l0.8 0l0.7 0l0.7 0l0.7 0l0.7 0l0.7 0l0.8 0l0.7 0l0.7 0l0.7 0l0.7 0l0.7 -0.1l0.8 0l0.7 0l0.7 0l0.7 0l0.7 0l0.7 0l0.8 0l0.7 0l0.7 0l0.7 0l0.7 0l0.7 0l0.8 0l0.7 0l0.7 0l0.7 0l0.7 0l0.7 0l0.8 0l0.7 0l0.7 0l0.7 0l0.7 0l0.7 -0.1l0.8 0l0.7 0l0.7 0l0.7 0l0.7 0l0.7 0l0.8 0l0.7 0l0.7 0l0.7 0l0.7 0l0.7 0l0.8 0l0.7 0l0.7 0l0.7 0l0.7 0l0.7 0l0.8 0l0.7 0l0.7 0l0.7 0l0.7 0l0.7 -0.1l0.8 0l0.7 0l0.7 0l0.7 0l0.7 0l0.7 0l0.8 0l0.7 0l0.7 0l0.7 0l0.7 0l0.7 0l0.8 0l0.7 0l0.7 0l0.7 0l0.7 0l0.7 0l0.8 0l0.7 0l0.7 0l0.7 0l0.7 0l0.7 0l0.8 0l0.7 -0.1l0.7 0l0.7 0l0.7 0l0.7 0l0.8 0l0.7 0l0.7 0l0.7 0l0.7 0l0.7 0l0.8 0l0.7 0l0.7 0l0.7 0l0.7 0l0.7 0l0.7 0l0.8 0l0.7 0l0.7 0l0.7 0l0.7 0l0.7 0l0.8 0l0.7 0l0.7 0l0.7 0l0.7 -0.1l0.7 0l0.8 0l0.7 0l0.7 0l0.7 0l0.7 0l0.7 0l0.8 0l0.7 0l0.7 0l0.7 0l0.7 0l0.7 0l0.8 0l0.7 0l0.7 0l0.7 0l0.7 0l0.7 0l0.8 0l0.7 0l0.7 0l0.7 0l0.7 0l0.7 0l0.8 0l0.7 0l0.7 0l0.7 -0.1l0.7 0l0.7 0l0.8 0l0.7 0l0.7 0l0.7 0l0.7 0l0.7 0l0.8 0l0.7 0l0.7 0l0.7 0l0.7 0l0.7 0l0.8 0l0.7 0l0.7 0l0.7 0l0.7 0l0.7 0l0.8 0l0.7 0l0.7 0l0.7 0l0.7 0l0.7 0l0.8 0l0.7 0l0.7 0l0.7 0l0.7 0l0.7 -0.1l0.8 0l0.7 0l0.7 0l0.7 0l0.7 0l0.7 0l0.8 0l0.7 0l0.7 0l0.7 0l0.7 0l0.7 0l0.7 0l0.8 0l0.7 0l0.7 0l0.7 0l0.7 0l0.7 0l0.8 0l0.7 0l0.7 0l0.7 0l0.7 0l0.7 0l0.8 0l0.7 0l0.7 0l0.7 0l0.7 0l0.7 0l0.8 0l0.7 -0.1l0.7 0l0.7 0l0.7 0l0.7 0l0.8 0l0.7 0l0.7 0l0.7 0l0.7 0l0.7 0l0.8 0l0.7 0l0.7 0l0.7 0l0.7 0l0.7 0l0.8 0l0.7 0l0.7 0l0.7 0l0.7 0l0.7 0l0.8 0l0.7 0l0.7 0l0.7 0l0.7 0l0.7 0l0.8 0l0.7 0l0.7 0l0.7 0l0.7 0l0.7 0l0.8 0l0.7 -0.1l0.7 0l0.7 0l0.7 0l0.7 0l0.7 0l0.8 0l0.7 0l0.7 0l0.7 0l0.7 0l0.7 0l0.8 0l0.7 0l0.7 0l0.7 0l0.7 0l0.7 0l0.8 0l0.7 0l0.7 0l0.7 0l0.7 0l0.7 0l0.8 0l0.7 0l0.7 0l0.7 0l0.7 0l0.7 0l0.8 0l0.7 0l0.7 0l0.7 0l0.7 0l0.7 0l0.8 0l0.7 -0.1l0.7 0l0.7 0l0.7 0l0.7 0l0.8 0l0.7 0l0.7 0l0.7 0l0.7 0l0.7 0l0.8 0l0.7 0l0.7 0l0.7 0l0.7 0l0.7 0l0.8 0l0.7 0l0.7 0l0.7 0l0.7 0l0.7 0l0.7 0l0.8 0l0.7 0l0.7 0l0.7 0l0.7 0l0.7 0l0.8 0l0.7 0l0.7 0l0.7 0l0.7 0l0.7 0l0.8 0l0.7 0l0.7 0l0.7 0l0.7 -0.1l0.7 0l0.8 0l0.7 0l0.7 0l0.7 0l0.7 0l0.7 0l0.8 0l0.7 0l0.7 0l0.7 0l0.7 0l0.7 0l0.8 0l0.7 0l0.7 0l0.7 0l0.7 0l0.7 0l0.8 0l0.7 0l0.7 0l0.7 0l0.7 0l0.7 0l0.8 0l0.7 0l0.7 0l0.7 0l0.7 0l0.7 0l0.8 0l0.7 0l0.7 0l0.7 0l0.7 0l0.7 0l0.8 0l0.7 0l0.7 -0.1l0.7 0l0.7 0l0.7 0l0.7 0l0.8 0l0.7 0l0.7 0l0.7 0l0.7 0l0.7 0l0.8 0l0.7 0l0.7 0l0.7 0l0.7 0l0.7 0l0.8 0l0.7 0l0.7 0l0.7 0l0.7 0l0.7 0l0.8 0l0.7 0l0.7 0l0.7 0l0.7 0l0.7 0l0.8 0l0.7 0l0.7 0l0.7 0l0.7 0l0.7 0l0.8 0l0.7 0l0.7 0l0.7 0l0.7 0l0.7 0l0.8 -0.1l0.7 0l0.7 0l0.7 0l0.7 0l0.7 0l0.8 0l0.7 0l0.7 0l0.7 0l0.7 0l0.7 0l0.8 0l0.7 0l0.7 0l0.7 0l0.7 0l0.7 0l0.8 0l0.7 0l0.7 0l0.7 0l0.7 0l0.7 0l0.7 0l0.8 0l0.7 0l0.7 0l0.7 0l0.7 0l0.7 0l0.8 0l0.7 0l0.7 0l0.7 0l0.7 0l0.7 0l0.8 0l0.7 0l0.7 0l0.7 0l0.7 -0.1l0.7 0l0.8 0l0.7 0l0.7 0l0.7 0l0.7 0l0.7 0l0.8 0l0.7 0l0.7 0l0.7 0l0.7 0l0.7 0l0.8 0l0.7 0l0.7 0l0.7 0l0.7 0l0.7 0l0.8 0l0.7 0l0.7 0l0.7 0l0.7 0l0.7 0l0.8 0l0.7 0l0.7 0l0.7 0l0.7 0l0.7 0l0.8 0l0.7 0l0.7 0l0.7 0l0.7 0l0.7 0l0.8 0l0.7 0l0.7 -0.1l0.7 0l0.7 0l0.7 0l0.8 0l0.7 0l0.7 0l0.7 0l0.7 0l0.7 0l0.8 0l0.7 0l0.7 0l0.7 0l0.7 0l0.7 0l0.8 0l0.7 0l0.7 0l0.7 0l0.7 0l0.7 0l0.8 0l0.7 0l0.7 0l0.7 0l0.7 0l0.7 0l0.7 0l0.8 0l0.7 0l0.7 0l0.7 0l0.7 0l0.7 0l0.8 0l0.7 0l0.7 0l0.7 -0.1l0.7 0l0.7 0l0.8 0l0.7 0l0.7 0l0.7 0l0.7 0l0.7 0l0.8 0l0.7 0l0.7 0l0.7 0l0.7 0l0.7 0l0.8 0l0.7 0l0.7 0l0.7 0l0.7 0l0.7 0l0.8 0l0.7 0l0.7 0l0.7 0l0.7 0l0.7 0l0.8 0l0.7 0l0.7 0l0.7 0l0.7 0l0.7 0l0.8 0l0.7 0l0.7 0l0.7 -0.1l0.7 0l0.7 0l0.8 0l0.7 0l0.7 0l0.7 0l0.7 0l0.7 0l0.8 0l0.7 0l0.7 0l0.7 0l0.7 0l0.7 0l0.8 0l0.7 0l0.7 0l0.7 0l0.7 0l0.7 0l0.8 0l0.7 0l0.7 0l0.7 0l0.7 0l0.7 0l0.8 0l0.7 0l0.7 0l0.7 0l0.7 0l0.7 0l0.8 0l0.7 0l0.7 -0.1l0.7 0l0.7 0l0.7 0l0.8 0l0.7 0l0.7 0l0.7 0l0.7 0l0.7 0l0.8 0l0.7 0l0.7 0l0.7 0l0.7 0l0.7 0l0.8 0l0.7 0l0.7 0l0.7 0"/>
<path stroke="#00FF00" d="M299 1913.9l0.6 -0.4l0.7 -0.4l0.6 -0.3l0.7 -0.4l0.6 -0.4l0.7 -0.4l0.6 -0.3l0.7 -0.4l0.6 -0.4l0.7 -0.3l0.6 -0.4l0.7 -0.4l0.6 -0.4l0.6 -0.4l0.6 -0.5l0.7 -0.4l0.6 -0.5l0.5 -0.5l0.6 -0.5l0.6 -0.5l0.6 -0.6l0.5 -0.6l0.5 -0.6l0.6 -0.6l0.5 -0.6l0.6 -0.6l0.5 -0.6l0.5 -0.6l0.6 -0.5l0.5 -0.5l0.6 -0.5l0.6 -0.4l0.6 -0.4l0.6 -0.3l0.6 -0.3l0.7 -0.2l0.6 -0.2l0.7 -0.1l0.7 -0.1l0.7 -0.1l0.7 0l0.7 0l0.7 0.1l0.7 0.1l0.7 0.1l0.8 0.1l0.7 0.2l0.7 0.2l0.8 0.2l0.7 0.2l0.7 0.2l0.8 0.3l0.7 0.2l0.7 0.3l0.7 0.3l0.7 0.3l0.7 0.3l0.7 0.3l0.7 0.3l0.8 0.3l0.7 0.3l0.7 0.3l0.7 0.3l0.7 0.3l0.7 0.3l0.7 0.3l0.7 0.3l0.7 0.3l0.7 0.2l0.7 0.3l0.7 0.3l0.7 0.2l0.7 0.3l0.7 0.2l0.8 0.2l0.7 0.3l0.7 0.2l0.7 0.2l0.8 0.2l0.7 0.1l0.7 0.2l0.7 0.2l0.8 0.1l0.7 0.2l0.8 0.1l0.7 0.2l0.7 0.1l0.8 0.1l0.7 0.2l0.8 0.1l0.7 0.1l0.7 0.1l0.8 0.1l0.7 0.1l0.8 0l0.7 0.1l0.8 0.1l0.8 0.1l0.7 0l0.8 0.1l0.7 0l0.8 0.1l0.7 0l0.8 0.1l0.8 0l0.7 0.1l0.8 0l0.7 0l0.8 0.1l0.8 0l0.7 0l0.8 0l0.8 0.1l0.7 0l0.8 0l0.8 0l0.7 0l0.8 0.1l0.8 0l0.7 0l0.8 0l0.8 0l0.7 0.1l0.8 0l0.7 0l0.8 0l0.8 0l0.7 0.1l0.8 0l0.8 0l0.7 0l0.8 0.1l0.8 0l0.7 0l0.8 0.1l0.8 0l0.7 0l0.8 0.1l0.7 0l0.8 0.1l0.8 0.1l0.7 0l0.8 0.1l0.7 0.1l0.8 0l0.7 0.1l0.8 0.1l0.7 0.1l0.8 0.1l0.7 0.1l0.8 0.1l0.7 0.1l0.8 0.1l0.7 0.1l0.8 0.1l0.7 0.1l0.8 0.1l0.7 0.1l0.8 0.1l0.7 0.1l0.8 0.1l0.7 0.1l0.8 0l0.7 0.1l0.7 0.1l0.8 0.1l0.7 0l0.8 0.1l0.7 0l0.8 0l0.8 0l0.7 0l0.8 0l0.7 0l0.8 0l0.7 0l0.8 0l0.7 -0.1l0.8 0l0.8 -0.1l0.7 0l0.8 -0.1l0.7 -0.1l0.8 0l0.8 -0.1l0.7 -0.1l0.8 -0.1l0.8 0l0.7 -0.1l0.8 -0.1l0.7 -0.1l0.8 0l0.8 -0.1l0.7 -0.1l0.8 0l0.7 -0.1l0.8 -0.1l0.8 0l0.7 -0.1l0.8 0l0.8 -0.1l0.7 0l0.8 0l0.7 -0.1l0.8 0l0.7 0l0.8 0l0.8 0l0.7 0l0.8 0l0.7 0.1l0.8 0l0.7 0l0.8 0l0.7 0.1l0.8 0l0.7 0.1l0.8 0l0.7 0l0.8 0.1l0.8 0l0.7 0.1l0.8 0l0.7 0.1l0.8 0l0.7 0.1l0.8 0l0.7 0.1l0.8 0l0.7 0.1l0.8 0l0.7 0.1l0.8 0l0.7 0.1l0.8 0l0.7 0.1l0.8 0l0.8 0.1l0.7 0l0.8 0.1l0.7 0l0.8 0.1l0.7 0l0.8 0l0.7 0.1l0.8 0l0.7 0.1l0.8 0l0.7 0.1l0.8 0l0.8 0.1l0.7 0l0.8 0l0.7 0.1l0.8 0l0.7 0.1l0.8 0l0.7 0.1l0.8 0l0.7 0l0.8 0.1l0.8 0l0.7 0.1l0.8 0l0.7 0l0.8 0.1l0.7 0l0.8 0.1l0.7 0l0.8 0l0.8 0.1l0.7 0l0.8 0.1l0.7 0l0.8 0l0.7 0.1l0.8 0l0.7 0l0.8 0.1l0.8 0l0.7 0l0.8 0.1l0.7 0l0.8 0.1l0.7 0l0.8 0l0.8 0.1l0.7 0l0.8 0l0.7 0.1l0.8 0l0.7 0l0.8 0.1l0.8 0l0.7 0l0.8 0.1l0.7 0l0.8 0l0.7 0.1l0.8 0l0.7 0l0.8 0.1l0.8 0l0.7 0l0.8 0l0.7 0.1l0.8 0l0.7 0l0.8 0.1l0.8 0l0.7 0l0.8 0.1l0.7 0l0.8 0l0.8 0l0.7 0.1l0.8 0l0.7 0l0.8 0.1l0.7 0l0.8 0l0.8 0l0.7 0.1l0.8 0l0.7 0l0.8 0l0.7 0.1l0.8 0l0.8 0l0.7 0l0.8 0.1l0.7 0l0.8 0l0.7 0l0.8 0.1l0.8 0l0.7 0l0.8 0l0.7 0.1l0.8 0l0.8 0l0.7 0l0.8 0l0.7 0.1l0.8 0l0.7 0l0.8 0l0.8 0.1l0.7 0l0.8 0l0.7 0l0.8 0l0.8 0.1l0.7 0l0.8 0l0.7 0l0.8 0l0.7 0l0.8 0.1l0.8 0l0.7 0l0.8 0l0.7 0l0.8 0.1l0.8 0l0.7 0l0.8 0l0.7 0l0.8 0l0.7 0.1l0.8 0l0.8 0l0.7 0l0.8 0l0.7 0l0.8 0.1l0.8 0l0.7 0l0.8 0l0.7 0l0.8 0l0.7 0l0.8 0.1l0.8 0l0.7 0l0.8 0l0.7 0l0.8 0l0.8 0l0.7 0.1l0.8 0l0.7 0l0.8 0l0.7 0l0.8 0l0.8 0l0.7 0l0.8 0l0.7 0.1l0.8 0l0.8 0l0.7 0l0.8 0l0.7 0l0.8 0l0.7 0l0.8 0l0.8 0.1l0.7 0l0.8 0l0.7 0l0.8 0l0.8 0l0.7 0l0.8 0l0.7 0l0.8 0l0.7 0l0.8 0.1l0.8 0l0.7 0l0.8 0l0.7 0l0.8 0l0.8 0l0.7 0l0.8 0l0.7 0l0.8 0l0.7 0l0.8 0l0.8 0.1l0.7 0l0.8 0l0.7 0l0.8 0l0.8 0l0.7 0l0.8 0l0.7 0l0.8 0l0.7 0l0.8 0l0.8 0l0.7 0l0.8 0.1l0.7 0l0.8 0l0.7 0l0.8 0l0.8 0l0.7 0l0.8 0l0.7 0l0.8 0l0.8 0l0.7 0l0.8 0l0.7 0l0.8 0l0.7 0l0.8 0.1l0.8 0l0.7 0l0.8 0l0.7 0l0.8 0l0.8 0l0.7 0l0.8 0l0.7 0l0.8 0l0.7 0l0.8 0l0.8 0l0.7 0l0.8 0l0.7 0.1l0.8 0l0.7 0l0.8 0l0.8 0l0.7 0l0.8 0l0.7 0l0.8 0l0.8 0l0.7 0l0.8 0l0.7 0l0.8 0l0.7 0.1l0.8 0l0.8 0l0.7 0l0.8 0l0.7 0l0.8 0l0.7 0l0.8 0l0.8 0l0.7 0l0.8 0l0.7 0l0.8 0.1l0.8 0l0.7 0l0.8 0l0.7 0l0.8 0l0.7 0l0.8 0l0.8 0l0.7 0l0.8 0l0.7 0l0.8 0.1l0.7 0l0.8 0l0.8 0l0.7 0l0.8 0l0.7 0l0.8 0l0.7 0l0.8 0l0.8 0.1l0.7 0l0.8 0l0.7 0l0.8 0l0.8 0l0.7 0l0.8 0l0.7 0.1l0.8 0l0.7 0l0.8 0l0.8 0l0.7 0l0.8 0l0.7 0l0.8 0.1l0.7 0l0.8 0l0.8 0l0.7 0l0.8 0l0.7 0l0.8 0.1l0.7 0l0.8 0l0.8 0l0.7 0l0.8 0l0.7 0.1l0.8 0l0.7 0l0.8 0l0.8 0l0.7 0l0.8 0l0.7 0.1l0.8 0l0.8 0l0.7 0l0.8 0l0.7 0l0.8 0.1l0.7 0l0.8 0l0.8 0l0.7 0l0.8 0l0.7 0.1l0.8 0l0.7 0l0.8 0l0.8 0l0.7 0.1l0.8 0l0.7 0l0.8 0l0.7 0l0.8 0l0.8 0.1l0.7 0l0.8 0l0.7 0l0.8 0l0.7 0l0.8 0.1l0.8 0l0.7 0l0.8 0l0.7 0l0.8 0.1l0.8 0l0.7 0l0.8 0l0.7 0l0.8 0l0.7 0.1l0.8 0l0.8 0l0.7 0l0.8 0l0.7 0l0.8 0.1l0.7 0l0.8 0l0.8 0l0.7 0l0.8 0l0.7 0.1l0.8 0l0.8 0l0.7 0l0.8 0l0.7 0l0.8 0l0.7 0.1l0.8 0l0.8 0l0.7 0l0.8 0l0.7 0l0.8 0.1l0.8 0l0.7 0l0.8 0l0.7 0l0.8 0l0.7 0l0.8 0l0.8 0.1l0.7 0l0.8 0l0.7 0l0.8 0l0.8 0l0.7 0l0.8 0l0.7 0.1l0.8 0l0.8 0l0.7 0l0.8 0l0.7 0l0.8 0l0.7 0l0.8 0l0.8 0.1l0.7 0l0.8 0l0.7 0l0.8 0l0.8 0l0.7 0l0.8 0l0.7 0l0.8 0l0.8 0l0.7 0l0.8 0l0.7 0l0.8 0.1l0.8 0l0.7 0l0.8 0l0.7 0l0.8 0l0.8 0l0.7 0l0.8 0l0.7 0l0.8 0l0.8 0l0.7 0l0.8 0l0.7 0l0.8 0l0.8 0l0.7 0l0.8 0l0.7 0l0.8 0l0.8 0l0.7 0.1l0.8 0l0.7 0l0.8 0l0.8 0l0.7 0l0.8 0l0.7 0.1l0.8 0l0.7 0l0.8 0l0.8 0l0.7 0.1l0.8 0l0.7 0l0.8 0.1l0.7 0l0.8 0l0.7 0.1l0.8 0l0.8 0.1l0.7 0l0.8 0.1l0.7 0l0.8 0.1l0.7 0l0.8 0.1l0.7 0.1l0.8 0l0.7 0.1l0.8 0.1l0.7 0.1l0.8 0l0.7 0.1l0.8 0.1l0.7 0.1l0.7 0.1l0.8 0.1l0.7 0.1l0.8 0.1l0.7 0.1l0.8 0.2l0.7 0.1l0.7 0.1l0.8 0.1l0.7 0.2l0.8 0.1l0.7 0.2l0.7 0.1l0.8 0.2l0.7 0.1l0.7 0.2l0.8 0.1l0.7 0.2l0.8 0.2l0.7 0.2l0.7 0.1l0.8 0.2l0.7 0.2l0.7 0.2l0.7 0.2l0.8 0.2l0.7 0.2l0.7 0.2l0.8 0.2l0.7 0.2l0.7 0.2l0.7 0.2l0.8 0.2l0.7 0.3l0.7 0.2l0.8 0.2l0.7 0.3l0.7 0.2l0.7 0.2l0.8 0.3l0.7 0.2l0.7 0.2l0.7 0.3l0.7 0.2l0.8 0.3l0.7 0.2l0.7 0.3l0.7 0.3l0.8 0.2l0.7 0.3l0.7 0.3l0.7 0.2l0.7 0.3l0.7 0.3l0.8 0.2l0.7 0.3l0.7 0.3l0.7 0.3l0.7 0.3l0.7 0.3l0.7 0.3l0.7 0.3l0.7 0.3l0.7 0.3l0.7 0.3l0.7 0.3l0.7 0.3l0.7 0.3l0.7 0.4l0.7 0.3l0.7 0.3l0.7 0.3l0.7 0.4l0.7 0.3l0.6 0.4l0.7 0.3l0.7 0.4l0.7 0.3l0.7 0.4l0.6 0.3l0.7 0.4l0.7 0.4l0.6 0.3l0.7 0.4l0.6 0.4l0.7 0.4l0.6 0.4l0.7 0.4l0.6 0.3l0.7 0.4l0.6 0.5l0.6 0.4l0.7 0.4l0.6 0.4l0.6 0.4l0.7 0.4l0.6 0.5l0.6 0.4l0.6 0.4l0.6 0.5l0.6 0.4l0.6 0.5l0.6 0.4l0.6 0.5l0.6 0.4l0.6 0.5l0.6 0.5l0.5 0.5l0.6 0.4l0.6 0.5l0.5 0.5l0.6 0.5l0.6 0.5l0.5 0.5l0.6 0.5l0.5 0.6l0.5 0.5l0.6 0.5l0.5 0.5l0.5 0.6l0.5 0.5l0.6 0.6l0.5 0.5l0.5 0.6l0.5 0.5l0.5 0.6l0.5 0.6l0.4 0.5l0.5 0.6l0.5 0.6l0.4 0.6l0.5 0.6l0.5 0.6l0.4 0.6l0.5 0.6l0.4 0.6l0.4 0.7l0.5 0.6l0.4 0.6l0.4 0.6l0.4 0.7l0.5 0.6l0.4 0.7l0.4 0.6l0.4 0.7l0.4 0.6l0.4 0.7l0.4 0.6l0.4 0.7l0.3 0.7l0.4 0.6l0.4 0.7l0.4 0.7l0.3 0.7l0.4 0.6l0.4 0.7l0.3 0.7l0.4 0.7l0.4 0.6l0.3 0.7l0.4 0.7l0.3 0.7l0.4 0.7l0.3 0.7l0.4 0.7l0.3 0.6l0.3 0.7l0.4 0.7l0.3 0.7l0.3 0.7l0.4 0.7l0.3 0.7l0.3 0.7l0.3 0.7l0.4 0.6l0.3 0.7l0.3 0.7l0.3 0.7l0.3 0.7l0.3 0.7l0.4 0.7l0.3 0.7l0.3 0.7l0.3 0.7l0.3 0.7l0.3 0.7l0.3 0.7l0.3 0.7l0.3 0.7l0.3 0.7l0.3 0.7l0.3 0.7l0.2 0.7l0.3 0.7l0.3 0.7l0.3 0.7l0.3 0.7l0.3 0.7l0.2 0.7l0.3 0.7l0.3 0.7l0.3 0.7l0.2 0.7l0.3 0.8l0.3 0.7l0.2 0.7l0.3 0.7l0.3 0.7l0.2 0.7l0.3 0.7l0.3 0.7l0.2 0.7l0.3 0.7l0.2 0.7l0.3 0.8l0.3 0.7l0.2 0.7l0.3 0.7l0.2 0.7l0.3 0.7l0.2 0.7l0.3 0.7l0.2 0.8l0.2 0.7l0.3 0.7l0.2 0.7l0.3 0.7l0.2 0.7l0.3 0.8l0.2 0.7l0.2 0.7l0.3 0.7l0.2 0.7l0.2 0.7l0.3 0.8l0.2 0.7l0.2 0.7l0.3 0.7l0.2 0.7l0.2 0.8l0.2 0.7l0.3 0.7l0.2 0.7l0.2 0.8l0.3 0.7l0.2 0.7l0.2 0.7l0.2 0.7l0.2 0.8l0.3 0.7l0.2 0.7l0.2 0.7l0.2 0.8l0.2 0.7l0.3 0.7l0.2 0.7l0.2 0.8l0.2 0.7l0.2 0.7l0.2 0.7l0.3 0.8l0.2 0.7l0.2 0.7l0.2 0.7l0.2 0.8l0.2 0.7l0.2 0.7l0.2 0.7l0.3 0.8l0.2 0.7l0.2 0.7l0.2 0.7l0.2 0.8l0.2 0.7l0.2 0.7l0.2 0.8l0.2 0.7l0.2 0.7l0.3 0.7l0.2 0.8l0.2 0.7l0.2 0.7l0.2 0.7l0.2 0.8l0.2 0.7l0.2 0.7l0.2 0.8l0.2 0.7l0.2 0.7l0.2 0.8l0.2 0.7l0.2 0.7l0.2 0.7l0.2 0.8l0.2 0.7l0.2 0.7l0.2 0.8l0.2 0.7l0.2 0.7l0.2 0.8l0.2 0.7l0.2 0.7l0.2 0.8l0.2 0.7l0.2 0.7l0.2 0.7l0.2 0.8l0.2 0.7l0.2 0.7l0.2 0.8l0.2 0.7l0.2 0.7l0.2 0.8l0.2 0.7l0.2 0.7l0.2 0.8l0.2 0.7l0.2 0.7l0.2 0.8l0.2 0.7l0.1 0.7l0.2 0.8l0.2 0.7l0.2 0.7l0.2 0.8l0.2 0.7l0.2 0.7l0.2 0.8l0.2 0.7l0.1 0.8l0.2 0.7l0.2 0.7l0.2 0.8l0.2 0.7l0.2 0.7l0.2 0.8l0.1 0.7l0.2 0.7l0.2 0.8l0.2 0.7l0.2 0.8l0.1 0.7l0.2 0.7l0.2 0.8l0.2 0.7l0.2 0.7l0.1 0.8l0.2 0.7l0.2 0.8l0.2 0.7l0.1 0.7l0.2 0.8l0.2 0.7l0.2 0.7l0.1 0.8l0.2 0.7l0.2 0.8l0.1 0.7l0.2 0.7l0.2 0.8l0.2 0.7l0.1 0.8l0.2 0.7l0.2 0.7l0.1 0.8l0.2 0.7l0.2 0.8l0.1 0.7l0.2 0.7l0.1 0.8l0.2 0.7l0.2 0.8l0.1 0.7l0.2 0.7l0.1 0.8l0.2 0.7l0.2 0.8l0.1 0.7l0.2 0.8l0.1 0.7l0.2 0.7l0.1 0.8l0.2 0.7l0.1 0.8l0.2 0.7l0.1 0.8l0.2 0.7l0.1 0.7l0.2 0.8l0.1 0.7l0.2 0.8l0.1 0.7l0.2 0.8l0.1 0.7l0.2 0.8l0.1 0.7l0.2 0.7l0.1 0.8l0.1 0.7l0.2 0.8l0.1 0.7l0.2 0.8l0.1 0.7l0.1 0.8l0.2 0.7l0.1 0.8l0.2 0.7l0.1 0.7l0.1 0.8l0.2 0.7l0.1 0.8l0.1 0.7l0.1 0.8l0.2 0.7l0.1 0.8l0.1 0.7l0.2 0.8l0.1 0.7l0.1 0.8l0.1 0.7l0.2 0.8l0.1 0.7l0.1 0.8l0.1 0.7l0.1 0.8l0.2 0.7l0.1 0.8l0.1 0.7l0.1 0.7l0.1 0.8l0.1 0.7l0.1 0.8l0.2 0.7l0.1 0.8l0.1 0.7l0.1 0.8l0.1 0.7l0.1 0.8l0.1 0.7l0.1 0.8l0.1 0.8l0.1 0.7l0.1 0.8l0.1 0.7l0.1 0.8l0.1 0.7l0.1 0.8l0.1 0.7l0.1 0.8l0.1 0.7l0.1 0.8l0.1 0.7l0.1 0.8l0.1 0.7l0.1 0.8l0.1 0.7l0.1 0.8l0.1 0.7l0.1 0.8l0 0.7l0.1 0.8l0.1 0.8l0.1 0.7l0.1 0.8l0.1 0.7l0.1 0.8l0 0.7l0.1 0.8l0.1 0.7l0.1 0.8l0.1 0.7l0.1 0.8l0 0.8l0.1 0.7l0.1 0.8l0.1 0.7l0.1 0.8l0 0.7l0.1 0.8l0.1 0.7l0.1 0.8l0 0.7l0.1 0.8l0.1 0.8l0.1 0.7l0 0.8l0.1 0.7l0.1 0.8l0.1 0.7l0 0.8l0.1 0.7l0.1 0.8l0.1 0.8l0 0.7l0.1 0.8l0.1 0.7l0.1 0.8l0 0.7l0.1 0.8l0.1 0.7l0.1 0.8l0 0.8l0.1 0.7l0.1 0.8l0.1 0.7l0 0.8l0.1 0.7l0.1 0.8l0 0.7l0.1 0.8l0.1 0.8l0.1 0.7l0 0.8l0.1 0.7l0.1 0.8l0.1 0.7l0 0.8l0.1 0.7l0.1 0.8l0.1 0.7l0 0.8l0.1 0.8l0.1 0.7l0.1 0.8l0.1 0.7l0 0.8l0.1 0.7l0.1 0.8l0.1 0.7l0 0.8l0.1 0.7l0.1 0.8l0.1 0.8l0.1 0.7l0.1 0.8l0 0.7l0.1 0.8l0.1 0.7l0.1 0.8l0.1 0.7l0.1 0.8l0 0.7l0.1 0.8l0.1 0.7l0.1 0.8l0.1 0.7l0.1 0.8l0.1 0.8l0.1 0.7l0.1 0.8l0.1 0.7l0.1 0.8l0.1 0.7l0 0.8l0.1 0.7l0.1 0.8l0.1 0.7l0.1 0.8l0.1 0.7l0.1 0.8l0.1 0.7l0.2 0.8l0.1 0.7l0.1 0.8l0.1 0.7l0.1 0.8l0.1 0.7l0.1 0.8l0.1 0.7l0.1 0.8l0.1 0.7l0.1 0.8l0.2 0.7l0.1 0.8l0.1 0.7l0.1 0.8l0.1 0.7l0.2 0.8l0.1 0.7l0.1 0.7l0.1 0.8l0.2 0.7l0.1 0.8l0.1 0.7l0.2 0.8l0.1 0.7l0.1 0.8l0.2 0.7l0.1 0.8l0.1 0.7l0.2 0.7l0.1 0.8l0.2 0.7l0.1 0.8l0.2 0.7l0.1 0.8l0.1 0.7l0.2 0.8l0.2 0.7l0.1 0.7l0.2 0.8l0.1 0.7l0.2 0.8l0.1 0.7l0.2 0.7l0.2 0.8l0.1 0.7l0.2 0.8l0.1 0.7l0.2 0.8l0.2 0.7l0.1 0.7l0.2 0.8l0.2 0.7l0.1 0.8l0.2 0.7l0.2 0.7l0.2 0.8l0.1 0.7l0.2 0.7l0.2 0.8l0.2 0.7l0.2 0.8l0.1 0.7l0.2 0.7l0.2 0.8l0.2 0.7l0.2 0.8l0.1 0.7l0.2 0.7l0.2 0.8l0.2 0.7l0.2 0.7l0.2 0.8l0.1 0.7l0.2 0.7l0.2 0.8l0.2 0.7l0.2 0.8l0.2 0.7l0.2 0.7l0.2 0.8l0.2 0.7l0.2 0.7l0.1 0.8l0.2 0.7l0.2 0.7l0.2 0.8l0.2 0.7l0.2 0.8l0.2 0.7l0.2 0.7l0.2 0.8l0.2 0.7l0.2 0.7l0.2 0.8l0.2 0.7l0.2 0.7l0.2 0.8l0.2 0.7l0.2 0.7l0.1 0.8l0.2 0.7l0.2 0.7l0.2 0.8l0.2 0.7l0.2 0.7l0.2 0.8l0.2 0.7l0.2 0.7l0.2 0.8l0.2 0.7l0.2 0.8l0.2 0.7l0.2 0.7l0.2 0.8l0.2 0.7l0.2 0.7l0.1 0.8l0.2 0.7l0.2 0.7l0.2 0.8l0.2 0.7l0.2 0.7l0.2 0.8l0.2 0.7l0.2 0.7l0.2 0.8l0.1 0.7l0.2 0.7l0.2 0.8l0.2 0.7l0.2 0.8l0.2 0.7l0.2 0.7l0.1 0.8l0.2 0.7l0.2 0.7l0.2 0.8l0.2 0.7l0.1 0.7l0.2 0.8l0.2 0.7l0.2 0.8l0.2 0.7l0.1 0.7l0.2 0.8l0.2 0.7l0.2 0.7l0.1 0.8l0.2 0.7l0.2 0.7l0.1 0.8l0.2 0.7l0.2 0.8l0.1 0.7l0.2 0.7l0.2 0.8l0.1 0.7l0.2 0.7l0.1 0.8l0.2 0.7l0.2 0.8l0.1 0.7l0.2 0.7l0.1 0.8l0.2 0.7l0.1 0.8l0.2 0.7l0.1 0.7l0.2 0.8l0.1 0.7l0.1 0.8l0.2 0.7l0.1 0.7l0.2 0.8l0.1 0.7l0.1 0.8l0.2 0.7l0.1 0.8l0.1 0.7l0.2 0.7l0.1 0.8l0.1 0.7l0.1 0.8l0.1 0.7l0.2 0.8l0.1 0.7l0.1 0.7l0.1 0.8l0.1 0.7l0.1 0.8l0.2 0.7l0.1 0.8l0.1 0.7l0.1 0.8l0.1 0.7l0.1 0.7l0.1 0.8l0.1 0.7l0.1 0.8l0.1 0.7l0.1 0.8l0.1 0.7l0.1 0.8l0.1 0.7l0.1 0.8l0.1 0.7l0.1 0.8l0.1 0.7l0.1 0.8l0 0.7l0.1 0.8l0.1 0.7l0.1 0.8l0.1 0.7l0.1 0.7l0 0.8l0.1 0.7l0.1 0.8l0.1 0.7l0.1 0.8l0.1 0.7l0 0.8l0.1 0.7l0.1 0.8l0.1 0.8l0 0.7l0.1 0.8l0.1 0.7l0.1 0.8l0 0.7l0.1 0.8l0.1 0.7l0 0.8l0.1 0.7l0.1 0.8l0 0.7l0.1 0.8l0.1 0.7l0 0.8l0.1 0.7l0.1 0.8l0 0.7l0.1 0.8l0.1 0.7l0 0.8l0.1 0.8l0.1 0.7l0 0.8l0.1 0.7l0.1 0.8l0 0.7l0.1 0.8l0.1 0.7l0 0.8l0.1 0.8l0 0.7l0.1 0.8l0.1 0.7l0 0.8l0.1 0.7l0.1 0.8l0 0.7l0.1 0.8l0.1 0.8l0 0.7l0.1 0.8l0 0.7l0.1 0.8l0.1 0.7l0 0.8l0.1 0.8l0.1 0.7l0 0.8l0.1 0.7l0.1 0.8l0 0.7l0.1 0.8l0.1 0.8l0 0.7l0.1 0.8l0.1 0.7l0 0.8l0.1 0.8l0.1 0.7l0 0.8l0.1 0.7l0.1 0.8l0 0.8l0.1 0.7l0.1 0.8l0.1 0.7l0 0.8l0.1 0.8l0.1 0.7l0.1 0.8l0 0.7l0.1 0.8l0.1 0.8l0.1 0.7l0 0.8l0.1 0.7l0.1 0.8l0.1 0.8l0.1 0.7l0 0.8l0.1 0.7l0.1 0.8l0.1 0.8l0.1 0.7l0.1 0.8l0.1 0.8l0.1 0.7l0 0.8l0.1 0.7l0.1 0.8l0.1 0.8l0.1 0.7l0.1 0.8l0.1 0.7l0.1 0.8l0.1 0.8l0.1 0.7l0.1 0.8l0.1 0.8l0.1 0.7l0 0.8l0.1 0.7l0.1 0.8l0.1 0.8l0.1 0.7l0.1 0.8l0.1 0.7l0.1 0.8l0.1 0.8l0.1 0.7l0.1 0.8l0.1 0.7l0.1 0.8l0.1 0.8l0.1 0.7l0.1 0.8l0.1 0.7l0.1 0.8l0.1 0.8l0 0.7l0.1 0.8l0.1 0.7l0.1 0.8l0.1 0.7l0.1 0.8l0.1 0.7l0.1 0.8l0.1 0.8l0.1 0.7l0.1 0.8l0 0.7l0.1 0.8l0.1 0.7l0.1 0.8l0.1 0.7l0.1 0.8l0 0.7l0.1 0.8l0.1 0.7l0.1 0.8l0.1 0.7l0 0.8l0.1 0.7l0.1 0.8l0.1 0.7l0 0.8l0.1 0.7l0.1 0.8l0.1 0.7l0 0.8l0.1 0.7l0.1 0.8l0.1 0.7l0 0.8l0.1 0.7l0.1 0.8l0 0.7l0.1 0.8l0.1 0.7l0 0.8l0.1 0.7l0.1 0.7l0 0.8l0.1 0.7l0.1 0.8l0 0.7l0.1 0.8l0.1 0.7l0 0.8l0.1 0.7l0.1 0.8l0 0.7l0.1 0.7l0 0.8l0.1 0.7l0.1 0.8l0 0.7l0.1 0.8l0 0.7l0.1 0.8l0.1 0.7l0 0.7l0.1 0.8l0 0.7l0.1 0.8l0.1 0.7l0 0.8l0.1 0.7l0 0.8l0.1 0.7l0 0.8l0.1 0.7l0 0.7l0.1 0.8l0.1 0.7l0 0.8l0.1 0.7l0 0.8l0.1 0.7l0 0.8l0.1 0.7l0 0.8l0.1 0.7l0.1 0.8l0 0.7l0.1 0.8l0 0.7l0.1 0.8l0 0.7l0.1 0.8l0 0.7l0.1 0.8l0 0.7l0.1 0.8l0 0.7l0.1 0.8l0.1 0.7l0 0.8l0.1 0.7l0 0.8l0.1 0.7l0 0.8l0.1 0.7l0 0.8l0.1 0.7l0 0.8l0.1 0.8l0.1 0.7l0 0.8l0.1 0.7l0 0.8l0.1 0.7l0 0.8l0.1 0.8l0 0.7l0.1 0.8l0.1 0.7l0 0.8l0.1 0.8l0 0.7l0.1 0.8l0 0.7l0.1 0.8l0.1 0.8l0 0.7l0.1 0.8l0 0.8l0.1 0.7l0.1 0.8l0 0.8l0.1 0.7l0 0.8l0.1 0.8l0.1 0.8l0 0.7l0.1 0.8l0.1 0.8l0 0.7l0.1 0.8l0.1 0.8l0 0.8l0.1 0.7l0 0.8l0.1 0.8l0.1 0.8l0 0.7l0.1 0.8l0.1 0.8l0 0.8l0.1 0.7l0.1 0.8l0 0.8l0.1 0.8l0.1 0.7l0 0.8l0.1 0.8l0.1 0.8l0 0.7l0.1 0.8l0.1 0.8l0 0.8l0.1 0.7l0.1 0.8l0.1 0.8l0 0.8l0.1 0.7l0.1 0.8l0 0.8l0.1 0.8l0.1 0.7l0 0.8l0.1 0.8l0.1 0.8l0 0.7l0.1 0.8l0.1 0.8l0 0.8l0.1 0.7l0.1 0.8l0.1 0.8l0 0.7l0.1 0.8l0.1 0.8l0 0.7l0.1 0.8l0.1 0.8l0 0.7l0.1 0.8l0.1 0.8l0 0.7l0.1 0.8l0.1 0.8l0 0.7l0.1 0.8l0.1 0.7l0 0.8l0.1 0.7l0.1 0.8l0 0.8l0.1 0.7l0.1 0.8l0 0.7l0.1 0.8l0.1 0.7l0 0.8l0.1 0.7l0 0.8l0.1 0.7l0.1 0.7l0 0.8l0.1 0.7l0.1 0.8l0 0.7l0.1 0.7l0 0.8l0.1 0.7l0.1 0.7l0 0.8l0.1 0.7l0 0.7l0.1 0.8l0.1 0.7l0 0.7l0.1 0.7l0 0.7l0.1 0.8l0 0.7l0.1 0.7l0 0.7l0.1 0.7l0.1 0.7l0 0.7l0.1 0.7l0 0.8l0.1 0.7l0 0.7l0.1 0.7l0 0.6l0.1 0.7l0 0.7l0.1 0.7l0 0.7l0.1 0.7l0 0.7l0 0.7l0.1 0.6l0 0.7l0.1 0.7l0 0.7l0.1 0.7l0 0.6l0.1 0.7l0 0.7l0 0.7l0.1 0.6l0 0.7l0.1 0.7l0 0.7l0 0.7l0.1 0.6l0 0.7l0.1 0.7l0 0.7l0.1 0.7l0 0.7l0 0.7l0.1 0.7l0 0.7l0.1 0.8l0 0.7l0.1 0.7l0 0.8l0.1 0.7l0 0.8l0.1 0.7l0 0.8l0.1 0.8l0 0.8l0.1 0.8l0 0.8l0.1 0.8l0.1 0.8l0 0.8l0.1 0.9l0.1 0.8l0 0.9l0.1 0.9l0.1 0.8l0 0.9l0.1 1l0.1 0.9l0.1 0.9l0 1l0.1 0.9l0.1 1l0.1 1l0.1 1l0.1 1l0.1 1l0.1 1.1l0.1 1l0.1 1.1l0.1 1.1l0.1 1l0.1 1.1l0.1 1l0.1 1l0.1 1l0.1 1l0.1 1l0.2 0.9l0.1 0.9l0.1 0.8l0.1 0.8l0.2 0.7l0.1 0.7l0.1 0.7l0.2 0.6l0.1 0.5l0.3 0.8l0.2 0.5l0.8 -0.2l0.3 -0.7l0.1 -0.5l0.2 -0.6l0.1 -0.6l0.2 -0.7l0.1 -0.7l0.2 -0.8l0.1 -0.8l0.2 -0.8l0.1 -0.9l0.2 -0.8l0.1 -0.9l0.2 -0.9l0.1 -0.9l0.2 -0.9l0.1 -0.9l0.2 -0.8l0.1 -0.9l0.1 -0.8l0.2 -0.9l0.1 -0.8l0.1 -0.8l0.2 -0.9l0.1 -0.8l0.1 -0.8l0.2 -0.8l0.1 -0.8l0.1 -0.7l0.2 -0.8l0.1 -0.8l0.1 -0.8l0.1 -0.7l0.1 -0.8l0.2 -0.7l0.1 -0.8l0.1 -0.7l0.1 -0.8l0.1 -0.7l0.1 -0.8l0.2 -0.7l0.1 -0.8l0.1 -0.7l0.1 -0.7l0.1 -0.8l0.1 -0.7l0.1 -0.7l0.1 -0.8l0.1 -0.7l0.2 -0.7l0.1 -0.7l0.1 -0.8l0.1 -0.7l0.1 -0.7l0.1 -0.8l0.1 -0.7l0.1 -0.8l0.1 -0.7l0.1 -0.7l0.1 -0.8l0.1 -0.7l0.1 -0.7l0.1 -0.8l0.1 -0.7l0.1 -0.7l0.1 -0.8l0.1 -0.7l0.1 -0.8l0.1 -0.7l0.1 -0.7l0.1 -0.8l0 -0.7l0.1 -0.8l0.1 -0.7l0.1 -0.7l0.1 -0.8l0.1 -0.7l0.1 -0.8l0.1 -0.7l0.1 -0.8l0.1 -0.7l0 -0.7l0.1 -0.8l0.1 -0.7l0.1 -0.8l0.1 -0.7l0.1 -0.8l0 -0.7l0.1 -0.7l0.1 -0.8l0.1 -0.7l0.1 -0.8l0.1 -0.7l0 -0.8l0.1 -0.7l0.1 -0.8l0.1 -0.7l0 -0.8l0.1 -0.7l0.1 -0.8l0.1 -0.7l0.1 -0.8l0 -0.7l0.1 -0.8l0.1 -0.7l0 -0.8l0.1 -0.7l0.1 -0.8l0.1 -0.7l0 -0.8l0.1 -0.7l0.1 -0.8l0 -0.7l0.1 -0.8l0.1 -0.7l0.1 -0.8l0 -0.7l0.1 -0.8l0.1 -0.7l0 -0.8l0.1 -0.7l0.1 -0.8l0 -0.7l0.1 -0.8l0 -0.8l0.1 -0.7l0.1 -0.8l0 -0.7l0.1 -0.8l0.1 -0.7l0 -0.8l0.1 -0.7l0 -0.8l0.1 -0.7l0.1 -0.8l0 -0.8l0.1 -0.7l0 -0.8l0.1 -0.7l0.1 -0.8l0 -0.7l0.1 -0.8l0 -0.7l0.1 -0.8l0 -0.8l0.1 -0.7l0.1 -0.8l0 -0.7l0.1 -0.8l0 -0.8l0.1 -0.7l0 -0.8l0.1 -0.7l0 -0.8l0.1 -0.7l0 -0.8l0.1 -0.8l0 -0.7l0.1 -0.8l0 -0.7l0.1 -0.8l0 -0.8l0.1 -0.7l0 -0.8l0.1 -0.7l0 -0.8l0.1 -0.7l0 -0.8l0.1 -0.8l0 -0.7l0.1 -0.8l0 -0.7l0.1 -0.8l0 -0.8l0.1 -0.7l0 -0.8l0.1 -0.7l0 -0.8l0.1 -0.8l0 -0.7l0 -0.8l0.1 -0.7l0 -0.8l0.1 -0.8l0 -0.7l0.1 -0.8l0 -0.7l0 -0.8l0.1 -0.8l0 -0.7l0.1 -0.8l0 -0.7l0.1 -0.8l0 -0.8l0 -0.7l0.1 -0.8l0 -0.7l0.1 -0.8l0 -0.8l0 -0.7l0.1 -0.8l0 -0.7l0.1 -0.8l0 -0.8l0 -0.7l0.1 -0.8l0 -0.7l0.1 -0.8l0 -0.8l0 -0.7l0.1 -0.8l0 -0.7l0.1 -0.8l0 -0.8l0 -0.7l0.1 -0.8l0 -0.7l0 -0.8l0.1 -0.8l0 -0.7l0.1 -0.8l0 -0.7l0 -0.8l0.1 -0.8l0 -0.7l0 -0.8l0.1 -0.7l0 -0.8l0 -0.8l0.1 -0.7l0 -0.8l0.1 -0.7l0 -0.8l0 -0.8l0.1 -0.7l0 -0.8l0 -0.7l0.1 -0.8l0 -0.8l0 -0.7l0.1 -0.8l0 -0.7l0 -0.8l0.1 -0.8l0 -0.7l0 -0.8l0.1 -0.7l0 -0.8l0 -0.7l0.1 -0.8l0 -0.8l0 -0.7l0.1 -0.8l0 -0.7l0 -0.8l0.1 -0.8l0 -0.7l0 -0.8l0.1 -0.7l0 -0.8l0 -0.8l0.1 -0.7l0 -0.8l0 -0.7l0 -0.8l0.1 -0.7l0 -0.8l0 -0.8l0.1 -0.7l0 -0.8l0 -0.7l0.1 -0.8l0 -0.8l0 -0.7l0.1 -0.8l0 -0.7l0 -0.8l0 -0.8l0.1 -0.7l0 -0.8l0 -0.7l0.1 -0.8l0 -0.7l0 -0.8l0.1 -0.8l0 -0.7l0 -0.8l0 -0.7l0.1 -0.8l0 -0.8l0 -0.7l0.1 -0.8l0 -0.7l0 -0.8l0 -0.7l0.1 -0.8l0 -0.8l0 -0.7l0.1 -0.8l0 -0.7l0 -0.8l0 -0.7l0.1 -0.8l0 -0.8l0 -0.7l0.1 -0.8l0 -0.7l0 -0.8l0 -0.8l0.1 -0.7l0 -0.8l0 -0.7l0 -0.8l0.1 -0.7l0 -0.8l0 -0.8l0.1 -0.7l0 -0.8l0 -0.7l0 -0.8l0.1 -0.7l0 -0.8l0 -0.8l0 -0.7l0.1 -0.8l0 -0.7l0 -0.8l0.1 -0.8l0 -0.7l0 -0.8l0 -0.7l0.1 -0.8l0 -0.7l0 -0.8l0 -0.8l0.1 -0.7l0 -0.8l0 -0.7l0.1 -0.8l0 -0.7l0 -0.8l0 -0.8l0.1 -0.7l0 -0.8l0 -0.7l0 -0.8l0.1 -0.7l0 -0.8l0 -0.8l0 -0.7l0.1 -0.8l0 -0.7l0 -0.8l0.1 -0.7l0 -0.8l0 -0.8l0 -0.7l0.1 -0.8l0 -0.7l0 -0.8l0 -0.7l0.1 -0.8l0 -0.8l0 -0.7l0 -0.8l0.1 -0.7l0 -0.8l0 -0.7l0.1 -0.8l0 -0.8l0 -0.7l0 -0.8l0.1 -0.7l0 -0.8l0 -0.7l0 -0.8l0.1 -0.8l0 -0.7l0 -0.8l0.1 -0.7l0 -0.8l0 -0.7l0 -0.8l0.1 -0.8l0 -0.7l0 -0.8l0.1 -0.7l0 -0.8l0 -0.7l0 -0.8l0.1 -0.8l0 -0.7l0 -0.8l0 -0.7l0.1 -0.8l0 -0.7l0 -0.8l0.1 -0.8l0 -0.7l0 -0.8l0 -0.7l0.1 -0.8l0 -0.7l0 -0.8l0.1 -0.7l0 -0.8l0 -0.8l0 -0.7l0.1 -0.8l0 -0.7l0 -0.8l0.1 -0.7l0 -0.8l0 -0.8l0.1 -0.7l0 -0.8l0 -0.7l0 -0.8l0.1 -0.7l0 -0.8l0 -0.8l0.1 -0.7l0 -0.8l0 -0.7l0 -0.8l0.1 -0.7l0 -0.8l0 -0.7l0.1 -0.8l0 -0.8l0 -0.7l0.1 -0.8l0 -0.7l0 -0.8l0.1 -0.7l0 -0.8l0 -0.8l0.1 -0.7l0 -0.8l0 -0.7l0 -0.8l0.1 -0.7l0 -0.8l0 -0.7l0.1 -0.8l0 -0.8l0 -0.7l0.1 -0.8l0 -0.7l0 -0.8l0.1 -0.7l0 -0.8l0 -0.8l0.1 -0.7l0 -0.8l0 -0.7l0.1 -0.8l0 -0.7l0 -0.8l0.1 -0.7l0 -0.8l0 -0.8l0.1 -0.7l0 -0.8l0.1 -0.7l0 -0.8l0 -0.7l0.1 -0.8l0 -0.7l0 -0.8l0.1 -0.8l0 -0.7l0 -0.8l0.1 -0.7l0 -0.8l0.1 -0.7l0 -0.8l0 -0.7l0.1 -0.8l0 -0.8l0 -0.7l0.1 -0.8l0 -0.7l0.1 -0.8l0 -0.7l0 -0.8l0.1 -0.8l0 -0.7l0 -0.8l0.1 -0.7l0 -0.8l0.1 -0.7l0 -0.8l0 -0.7l0.1 -0.8l0 -0.8l0.1 -0.7l0 -0.8l0 -0.7l0.1 -0.8l0 -0.7l0.1 -0.8l0 -0.7l0 -0.8l0.1 -0.8l0 -0.7l0.1 -0.8l0 -0.7l0.1 -0.8l0 -0.7l0 -0.8l0.1 -0.7l0 -0.8l0.1 -0.8l0 -0.7l0.1 -0.8l0 -0.7l0 -0.8l0.1 -0.7l0 -0.8l0.1 -0.7l0 -0.8l0.1 -0.8l0 -0.7l0.1 -0.8l0 -0.7l0 -0.8l0.1 -0.7l0 -0.8l0.1 -0.7l0 -0.8l0.1 -0.8l0 -0.7l0.1 -0.8l0 -0.7l0.1 -0.8l0 -0.7l0 -0.8l0.1 -0.7l0 -0.8l0.1 -0.8l0 -0.7l0.1 -0.8l0 -0.7l0.1 -0.8l0 -0.7l0.1 -0.8l0 -0.7l0.1 -0.8l0 -0.8l0.1 -0.7l0 -0.8l0.1 -0.7l0 -0.8l0.1 -0.7l0 -0.8l0 -0.7l0.1 -0.8l0 -0.8l0.1 -0.7l0 -0.8l0.1 -0.7l0 -0.8l0.1 -0.7l0 -0.8l0.1 -0.7l0 -0.8l0.1 -0.8l0 -0.7l0.1 -0.8l0 -0.7l0.1 -0.8l0 -0.7l0.1 -0.8l0 -0.7l0.1 -0.8l0 -0.8l0.1 -0.7l0 -0.8l0.1 -0.7l0 -0.8l0.1 -0.7l0 -0.8l0.1 -0.7l0 -0.8l0.1 -0.8l0.1 -0.7l0 -0.8l0.1 -0.7l0 -0.8l0.1 -0.7l0 -0.8l0.1 -0.8l0 -0.7l0.1 -0.8l0 -0.7l0.1 -0.8l0 -0.7l0.1 -0.8l0 -0.7l0.1 -0.8l0 -0.8l0.1 -0.7l0 -0.8l0.1 -0.7l0 -0.8l0.1 -0.7l0 -0.8l0.1 -0.7l0 -0.8l0.1 -0.8l0.1 -0.7l0 -0.8l0.1 -0.7l0 -0.8l0.1 -0.7l0 -0.8l0.1 -0.8l0 -0.7l0.1 -0.8l0 -0.7l0.1 -0.8l0 -0.7l0.1 -0.8l0 -0.7l0.1 -0.8l0 -0.8l0.1 -0.7l0.1 -0.8l0 -0.7l0.1 -0.8l0 -0.7l0.1 -0.8l0 -0.8l0.1 -0.7l0 -0.8l0.1 -0.7l0 -0.8l0.1 -0.7l0 -0.8l0.1 -0.8l0.1 -0.7l0 -0.8l0.1 -0.7l0 -0.8l0.1 -0.7l0 -0.8l0.1 -0.8l0 -0.7l0.1 -0.8l0 -0.7l0.1 -0.8l0 -0.7l0.1 -0.8l0 -0.8l0.1 -0.7l0.1 -0.8l0 -0.7l0.1 -0.8l0 -0.7l0.1 -0.8l0 -0.8l0.1 -0.7l0 -0.8l0.1 -0.7l0 -0.8l0.1 -0.7l0 -0.8l0.1 -0.8l0.1 -0.7l0 -0.8l0.1 -0.7l0 -0.8l0.1 -0.7l0 -0.8l0.1 -0.8l0 -0.7l0.1 -0.8l0 -0.7l0.1 -0.8l0 -0.7l0.1 -0.8l0.1 -0.8l0 -0.7l0.1 -0.8l0 -0.7l0.1 -0.8l0 -0.7l0.1 -0.8l0 -0.8l0.1 -0.7l0 -0.8l0.1 -0.7l0 -0.8l0.1 -0.8l0 -0.7l0.1 -0.8l0 -0.7l0.1 -0.8l0.1 -0.7l0 -0.8l0.1 -0.8l0 -0.7l0.1 -0.8l0 -0.7l0.1 -0.8l0 -0.8l0.1 -0.7l0 -0.8l0.1 -0.7l0 -0.8l0.1 -0.7l0 -0.8l0.1 -0.8l0 -0.7l0.1 -0.8l0 -0.7l0.1 -0.8l0 -0.8l0.1 -0.7l0 -0.8l0.1 -0.7l0 -0.8l0.1 -0.8l0 -0.7l0.1 -0.8l0.1 -0.7l0 -0.8l0.1 -0.8l0 -0.7l0.1 -0.8l0 -0.7l0.1 -0.8l0 -0.8l0.1 -0.7l0 -0.8l0.1 -0.7l0 -0.8l0.1 -0.7l0 -0.8l0.1 -0.8l0 -0.7l0.1 -0.8l0 -0.7l0.1 -0.8l0 -0.8l0.1 -0.7l0 -0.8l0 -0.7l0.1 -0.8l0 -0.8l0.1 -0.7l0 -0.8l0.1 -0.8l0 -0.7l0.1 -0.8l0 -0.7l0.1 -0.8l0 -0.8l0.1 -0.7l0 -0.8l0.1 -0.7l0 -0.8l0.1 -0.8l0 -0.7l0.1 -0.8l0 -0.7l0.1 -0.8l0 -0.8l0.1 -0.7l0 -0.8l0.1 -0.7l0 -0.8l0 -0.8l0.1 -0.7l0 -0.8l0.1 -0.7l0 -0.8l0.1 -0.8l0 -0.7l0.1 -0.8l0 -0.7l0.1 -0.8l0 -0.8l0.1 -0.7l0 -0.8l0.1 -0.7l0 -0.8l0 -0.8l0.1 -0.7l0 -0.8l0.1 -0.7l0 -0.8l0.1 -0.8l0 -0.7l0.1 -0.8l0 -0.7l0.1 -0.8l0 -0.8l0 -0.7l0.1 -0.8l0 -0.7l0.1 -0.8l0 -0.8l0.1 -0.7l0 -0.8l0.1 -0.7l0 -0.8l0 -0.8l0.1 -0.7l0 -0.8l0.1 -0.7l0 -0.8l0.1 -0.8l0 -0.7l0.1 -0.8l0 -0.7l0.1 -0.8l0 -0.7l0 -0.8l0.1 -0.8l0 -0.7l0.1 -0.8l0 -0.7l0.1 -0.8l0 -0.8l0 -0.7l0.1 -0.8l0 -0.7l0.1 -0.8l0 -0.7l0.1 -0.8l0 -0.8l0.1 -0.7l0 -0.8l0 -0.7l0.1 -0.8l0 -0.7l0.1 -0.8l0 -0.8l0.1 -0.7l0 -0.8l0.1 -0.7l0 -0.8l0 -0.7l0.1 -0.8l0 -0.7l0.1 -0.8l0 -0.8l0.1 -0.7l0 -0.8l0 -0.7l0.1 -0.8l0 -0.7l0.1 -0.8l0 -0.7l0.1 -0.8l0 -0.8l0.1 -0.7l0 -0.8l0 -0.7l0.1 -0.8l0 -0.7l0.1 -0.8l0 -0.7l0.1 -0.8l0 -0.7l0 -0.8l0.1 -0.7l0 -0.8l0.1 -0.7l0 -0.8l0.1 -0.7l0 -0.8l0 -0.8l0.1 -0.7l0 -0.8l0.1 -0.7l0 -0.8l0.1 -0.7l0 -0.8l0 -0.7l0.1 -0.8l0 -0.7l0.1 -0.8l0 -0.7l0.1 -0.8l0 -0.7l0.1 -0.8l0 -0.7l0 -0.8l0.1 -0.7l0 -0.8l0.1 -0.7l0 -0.8l0.1 -0.7l0 -0.7l0 -0.8l0.1 -0.7l0 -0.8l0.1 -0.7l0 -0.8l0.1 -0.7l0 -0.8l0.1 -0.7l0 -0.8l0.1 -0.7l0 -0.8l0 -0.7l0.1 -0.8l0 -0.7l0.1 -0.8l0 -0.7l0.1 -0.7l0 -0.8l0.1 -0.7l0 -0.8l0.1 -0.7l0 -0.8l0.1 -0.7l0 -0.8l0.1 -0.7l0 -0.8l0.1 -0.7l0 -0.7l0.1 -0.8l0 -0.7l0.1 -0.8l0 -0.7l0.1 -0.8l0 -0.7l0.1 -0.8l0 -0.7l0.1 -0.7l0 -0.8l0.1 -0.7l0.1 -0.8l0 -0.7l0.1 -0.8l0 -0.7l0.1 -0.8l0 -0.7l0.1 -0.8l0.1 -0.7l0 -0.7l0.1 -0.8l0.1 -0.7l0 -0.8l0.1 -0.7l0 -0.8l0.1 -0.7l0.1 -0.8l0 -0.7l0.1 -0.8l0.1 -0.7l0.1 -0.7l0 -0.8l0.1 -0.7l0.1 -0.8l0 -0.7l0.1 -0.8l0.1 -0.7l0.1 -0.8l0 -0.7l0.1 -0.8l0.1 -0.7l0.1 -0.8l0 -0.7l0.1 -0.8l0.1 -0.7l0.1 -0.8l0.1 -0.7l0.1 -0.8l0 -0.7l0.1 -0.8l0.1 -0.7l0.1 -0.8l0.1 -0.7l0.1 -0.8l0.1 -0.7l0.1 -0.8l0.1 -0.7l0 -0.8l0.1 -0.7l0.1 -0.8l0.1 -0.7l0.1 -0.8l0.1 -0.7l0.1 -0.8l0.1 -0.7l0.1 -0.8l0.1 -0.7l0.2 -0.8l0.1 -0.7l0.1 -0.8l0.1 -0.7l0.1 -0.8l0.1 -0.8l0.1 -0.7l0.1 -0.8l0.1 -0.7l0.2 -0.8l0.1 -0.7l0.1 -0.8l0.1 -0.7l0.1 -0.8l0.2 -0.8l0.1 -0.7l0.1 -0.8l0.1 -0.7l0.2 -0.8l0.1 -0.8l0.1 -0.7l0.2 -0.8l0.1 -0.7l0.1 -0.8l0.2 -0.8l0.1 -0.7l0.2 -0.8l0.1 -0.7l0.1 -0.8l0.2 -0.8l0.1 -0.7l0.2 -0.8l0.1 -0.8l0.2 -0.7l0.1 -0.8l0.2 -0.8l0.2 -0.7l0.1 -0.8l0.2 -0.8l0.1 -0.7l0.2 -0.8l0.2 -0.8l0.1 -0.7l0.2 -0.8l0.2 -0.8l0.1 -0.8l0.2 -0.7l0.2 -0.8l0.2 -0.8l0.1 -0.7l0.2 -0.8l0.2 -0.8l0.2 -0.8l0.2 -0.7l0.2 -0.8l0.2 -0.8l0.1 -0.8l0.2 -0.7l0.2 -0.8l0.2 -0.8l0.2 -0.8l0.2 -0.8l0.2 -0.7l0.2 -0.8l0.2 -0.8l0.3 -0.8l0.2 -0.8l0.2 -0.7l0.2 -0.8l0.2 -0.8l0.3 -0.8l0.2 -0.7l0.2 -0.8l0.3 -0.8l0.2 -0.7l0.3 -0.8l0.2 -0.7l0.3 -0.8l0.3 -0.7l0.2 -0.7l0.3 -0.7l0.3 -0.7l0.3 -0.7l0.3 -0.7l0.3 -0.7l0.4 -0.7l0.3 -0.7l0.4 -0.6l0.3 -0.7l0.4 -0.6l0.4 -0.6l0.3 -0.6l0.4 -0.6l0.5 -0.6l0.4 -0.5l0.4 -0.6l0.5 -0.5l0.4 -0.5l0.5 -0.5l0.5 -0.5l0.5 -0.5l0.5 -0.4l0.5 -0.4l0.6 -0.5l0.6 -0.3l0.5 -0.4l0.6 -0.4l0.6 -0.3l0.7 -0.3l0.6 -0.3l0.6 -0.3l0.7 -0.3l0.7 -0.2l0.7 -0.2l0.6 -0.3l0.7 -0.2l0.8 -0.2l0.7 -0.2l0.7 -0.1l0.7 -0.2l0.8 -0.2l0.7 -0.1l0.8 -0.2l0.8 -0.1l0.7 -0.2l0.8 -0.1l0.8 -0.1l0.7 -0.1l0.8 -0.1l0.8 -0.2l0.8 -0.1l0.8 -0.1l0.7 -0.1l0.8 -0.1l0.8 -0.2l0.8 -0.1l0.8 -0.1l0.7 -0.1l0.8 -0.2l0.8 -0.1l0.7 -0.1l0.8 -0.2l0.8 -0.1l0.7 -0.2l0.8 -0.2l0.7 -0.1l0.8 -0.2l0.7 -0.1l0.8 -0.2l0.7 -0.2l0.7 -0.2l0.8 -0.1l0.7 -0.2l0.8 -0.2l0.7 -0.2l0.7 -0.2l0.8 -0.2l0.7 -0.2l0.7 -0.2l0.8 -0.2l0.7 -0.2l0.7 -0.2l0.7 -0.2l0.8 -0.2l0.7 -0.2l0.7 -0.2l0.7 -0.2l0.8 -0.2l0.7 -0.2l0.7 -0.2l0.7 -0.3l0.7 -0.2l0.8 -0.2l0.7 -0.2l0.7 -0.3l0.7 -0.2l0.7 -0.2l0.7 -0.2l0.8 -0.3l0.7 -0.2l0.7 -0.2l0.7 -0.2l0.7 -0.3l0.8 -0.2l0.7 -0.2l0.7 -0.3l0.7 -0.2l0.7 -0.2l0.8 -0.3l0.7 -0.2l0.7 -0.2l0.7 -0.3l0.7 -0.2l0.8 -0.2l0.7 -0.3l0.7 -0.2l0.7 -0.2l0.8 -0.3l0.7 -0.2l0.7 -0.2l0.7 -0.2l0.7 -0.3l0.8 -0.2l0.7 -0.2l0.7 -0.2l0.7 -0.3l0.8 -0.2l0.7 -0.2l0.7 -0.2l0.7 -0.2l0.8 -0.3l0.7 -0.2l0.7 -0.2l0.8 -0.2l0.7 -0.2l0.7 -0.2l0.7 -0.2l0.8 -0.2l0.7 -0.2l0.7 -0.2l0.8 -0.2l0.7 -0.2l0.7 -0.2l0.8 -0.2l0.7 -0.2l0.7 -0.1l0.8 -0.2l0.7 -0.2l0.7 -0.2l0.8 -0.1l0.7 -0.2l0.8 -0.2l0.7 -0.1l0.7 -0.2l0.8 -0.2l0.7 -0.1l0.8 -0.2l0.7 -0.1l0.7 -0.2l0.8 -0.1l0.7 -0.2l0.8 -0.1l0.7 -0.2l0.7 -0.1l0.8 -0.1l0.7 -0.2l0.8 -0.1l0.7 -0.1l0.8 -0.2l0.7 -0.1l0.8 -0.1l0.7 -0.1l0.8 -0.2l0.7 -0.1l0.8 -0.1l0.7 -0.1l0.8 -0.1l0.7 -0.1l0.8 -0.2l0.7 -0.1l0.7 -0.1l0.8 -0.1l0.8 -0.1l0.7 -0.1l0.8 -0.1l0.7 -0.1l0.8 -0.1l0.7 -0.1l0.8 -0.1l0.7 -0.1l0.8 -0.1l0.7 -0.1l0.8 -0.1l0.7 -0.1l0.8 -0.1l0.7 0l0.8 -0.1l0.7 -0.1l0.8 -0.1l0.7 -0.1l0.8 -0.1l0.7 -0.1l0.8 0l0.8 -0.1l0.7 -0.1l0.8 -0.1l0.7 -0.1l0.8 0l0.7 -0.1l0.8 -0.1l0.7 -0.1l0.8 0l0.8 -0.1l0.7 -0.1l0.8 -0.1l0.7 0l0.8 -0.1l0.7 -0.1l0.8 -0.1l0.7 0l0.8 -0.1l0.7 -0.1l0.8 0l0.8 -0.1l0.7 -0.1l0.8 0l0.7 -0.1l0.8 -0.1l0.7 0l0.8 -0.1l0.7 -0.1l0.8 0l0.8 -0.1l0.7 -0.1l0.8 0l0.7 -0.1l0.8 -0.1l0.7 0l0.8 -0.1l0.7 0l0.8 -0.1l0.8 -0.1l0.7 0l0.8 -0.1l0.7 0l0.8 -0.1l0.7 -0.1l0.8 0l0.7 -0.1l0.8 0l0.8 -0.1l0.7 -0.1l0.8 0l0.7 -0.1l0.8 0l0.7 -0.1l0.8 0l0.8 -0.1l0.7 0l0.8 -0.1l0.7 0l0.8 -0.1l0.7 0l0.8 -0.1l0.7 -0.1l0.8 0l0.8 -0.1l0.7 0l0.8 -0.1l0.7 0l0.8 0l0.7 -0.1l0.8 0l0.8 -0.1l0.7 0l0.8 -0.1l0.7 0l0.8 -0.1l0.7 0l0.8 -0.1l0.7 0l0.8 -0.1l0.8 0l0.7 0l0.8 -0.1l0.7 0l0.8 -0.1l0.7 0l0.8 -0.1l0.8 0l0.7 0l0.8 -0.1l0.7 0l0.8 -0.1l0.7 0l0.8 0l0.8 -0.1l0.7 0l0.8 0l0.7 -0.1l0.8 0l0.7 -0.1l0.8 0l0.8 0l0.7 -0.1l0.8 0l0.7 0l0.8 -0.1l0.7 0l0.8 0l0.8 -0.1l0.7 0l0.8 0l0.7 -0.1l0.8 0l0.7 0l0.8 -0.1l0.7 0l0.8 0l0.8 -0.1l0.7 0l0.8 0l0.7 -0.1l0.8 0l0.7 0l0.8 0l0.8 -0.1l0.7 0l0.8 0l0.7 -0.1l0.8 0l0.7 0l0.8 0l0.8 -0.1l0.7 0l0.8 0l0.7 0l0.8 -0.1l0.8 0l0.7 0l0.8 0l0.7 -0.1l0.8 0l0.7 0l0.8 0l0.8 0l0.7 -0.1l0.8 0l0.7 0l0.8 0l0.7 -0.1l0.8 0l0.8 0l0.7 0l0.8 0l0.7 -0.1l0.8 0l0.7 0l0.8 0l0.8 0l0.7 -0.1l0.8 0l0.7 0l0.8 0l0.7 0l0.8 0l0.8 -0.1l0.7 0l0.8 0l0.7 0l0.8 0l0.7 0l0.8 -0.1l0.8 0l0.7 0l0.8 0l0.7 0l0.8 0l0.8 0l0.7 -0.1l0.8 0l0.7 0l0.8 0l0.7 0l0.8 0l0.8 0l0.7 -0.1l0.8 0l0.7 0l0.8 0l0.7 0l0.8 0l0.8 0l0.7 0l0.8 0l0.7 -0.1l0.8 0l0.8 0l0.7 0l0.8 0l0.7 0l0.8 0l0.7 0l0.8 0l0.8 0l0.7 0l0.8 -0.1l0.7 0l0.8 0l0.7 0l0.8 0l0.8 0l0.7 0l0.8 0l0.7 0l0.8 0l0.8 0l0.7 0l0.8 0l0.7 0l0.8 -0.1l0.7 0l0.8 0l0.8 0l0.7 0l0.8 0l0.7 0l0.8 0l0.8 0l0.7 0l0.8 0l0.7 0l0.8 0l0.7 0l0.8 0l0.8 0l0.7 0l0.8 0l0.7 0l0.8 0l0.8 0l0.7 0l0.8 0l0.7 0l0.8 -0.1l0.7 0l0.8 0l0.8 0l0.7 0l0.8 0l0.7 0l0.8 0l0.8 0l0.7 0l0.8 0l0.7 0l0.8 0l0.7 0l0.8 0l0.8 0l0.7 0l0.8 0l0.7 0l0.8 0l0.7 0l0.8 0l0.8 0l0.7 0l0.8 0l0.7 0l0.8 0l0.8 0l0.7 0l0.8 0l0.7 0l0.8 0l0.7 0l0.8 0l0.8 0l0.7 0l0.8 0l0.7 0l0.8 0l0.8 0l0.7 0l0.8 0l0.7 0l0.8 0l0.7 0l0.8 0l0.8 0l0.7 0l0.8 0l0.7 0.1l0.8 0l0.8 0l0.7 0l0.8 0l0.7 0l0.8 0l0.7 0l0.8 0l0.8 0l0.7 0l0.8 0l0.7 0l0.8 0l0.8 0l0.7 0l0.8 0l0.7 0l0.8 0l0.7 0l0.8 0l0.8 0l0.7 0l0.8 0l0.7 0l0.8 0l0.8 0l0.7 0l0.8 0l0.7 0l0.8 0l0.7 0l0.8 0l0.8 0l0.7 0l0.8 0l0.7 0l0.8 0l0.8 0l0.7 0l0.8 0l0.7 0l0.8 0l0.7 0l0.8 0.1l0.8 0l0.7 0l0.8 0l0.7 0l0.8 0l0.8 0l0.7 0l0.8 0l0.7 0l0.8 0l0.7 0l0.8 0l0.8 0l0.7 0l0.8 0l0.7 0l0.8 0l0.8 0l0.7 0l0.8 0l0.7 0l0.8 0l0.7 0l0.8 0l0.8 0l0.7 0l0.8 0l0.7 0l0.8 0l0.7 0l0.8 0l0.8 0l0.7 0l0.8 0l0.7 0l0.8 0l0.8 0l0.7 0l0.8 0l0.7 0l0.8 0l0.7 0l0.8 0l0.8 0l0.7 0l0.8 0l0.7 0l0.8 0l0.7 0l0.8 0l0.8 0l0.7 0l0.8 -0.1l0.7 0l0.8 0l0.8 0l0.7 0l0.8 0l0.7 0l0.8 0l0.7 0l0.8 0l0.8 -0.1l0.7 0l0.8 0l0.7 0l0.8 0l0.7 0l0.8 0l0.8 -0.1l0.7 0l0.8 0l0.7 0l0.8 0l0.7 -0.1l0.8 0l0.8 0l0.7 0l0.8 -0.1l0.7 0l0.8 0l0.7 -0.1l0.8 0l0.8 0l0.7 -0.1l0.8 0l0.7 0l0.8 -0.1l0.7 0l0.8 0l0.8 -0.1l0.7 0l0.8 -0.1l0.7 0l0.8 0l0.7 -0.1l0.8 0l0.8 -0.1l0.7 0l0.8 -0.1l0.7 0l0.8 -0.1l0.7 0l0.8 -0.1l0.8 0l0.7 -0.1l0.8 0l0.7 -0.1l0.8 -0.1l0.7 0l0.8 -0.1l0.7 0l0.8 -0.1l0.8 0l0.7 -0.1l0.8 0l0.7 -0.1l0.8 0l0.7 -0.1l0.8 -0.1l0.8 0l0.7 -0.1l0.8 0l0.7 -0.1l0.8 0l0.7 -0.1l0.8 0l0.7 -0.1l0.8 0l0.8 -0.1l0.7 0l0.8 -0.1l0.7 0l0.8 -0.1l0.7 0l0.8 -0.1l0.8 0l0.7 0l0.8 -0.1l0.7 0l0.8 -0.1l0.7 0l0.8 0l0.8 -0.1l0.7 0l0.8 0l0.7 -0.1l0.8 0l0.7 0l0.8 0l0.7 -0.1l0.8 0l0.8 0l0.7 0l0.8 -0.1l0.7 0l0.8 0l0.7 0l0.8 0l0.8 0l0.7 0l0.8 -0.1l0.7 0l0.8 0l0.7 0l0.8 0l0.8 0l0.7 0l0.8 0l0.7 0l0.8 0l0.7 0l0.8 0l0.8 0l0.7 0l0.8 0l0.7 0l0.8 0l0.7 0l0.8 0l0.8 0.1l0.7 0l0.8 0l0.7 0l0.8 0l0.8 0l0.7 0l0.8 0l0.7 0.1l0.8 0l0.7 0l0.8 0l0.8 0l0.7 0.1l0.8 0l0.7 0l0.8 0l0.7 0l0.8 0.1l0.8 0l0.7 0l0.8 0l0.7 0.1l0.8 0l0.7 0l0.8 0.1l0.8 0l0.7 0l0.8 0l0.7 0.1l0.8 0l0.7 0l0.8 0.1l0.8 0l0.7 0l0.8 0.1l0.7 0l0.8 0l0.7 0.1l0.8 0l0.8 0l0.7 0.1l0.8 0l0.7 0l0.8 0.1l0.7 0l0.8 0l0.8 0.1l0.7 0l0.8 0l0.7 0.1l0.8 0l0.7 0.1l0.8 0l0.8 0l0.7 0.1l0.8 0l0.7 0l0.8 0.1l0.7 0l0.8 0l0.8 0.1l0.7 0l0.8 0l0.7 0.1l0.8 0l0.7 0l0.8 0.1l0.8 0l0.7 0l0.8 0.1l0.7 0l0.8 0l0.7 0l0.8 0.1l0.8 0l0.7 0l0.8 0l0.7 0.1l0.8 0l0.7 0l0.8 0.1l0.8 0l0.7 0l0.8 0l0.7 0l0.8 0.1l0.7 0l0.8 0l0.8 0l0.7 0.1l0.8 0l0.7 0l0.8 0l0.7 0l0.8 0.1l0.8 0l0.7 0l0.8 0l0.7 0l0.8 0.1l0.7 0l0.8 0l0.8 0l0.7 0l0.8 0.1l0.7 0l0.8 0l0.8 0l0.7 0l0.8 0l0.7 0l0.8 0.1l0.7 0l0.8 0l0.8 0l0.7 0l0.8 0l0.7 0.1l0.8 0l0.7 0l0.8 0l0.8 0l0.7 0l0.8 0l0.7 0l0.8 0.1l0.7 0l0.8 0l0.8 0l0.7 0l0.8 0l0.7 0l0.8 0l0.8 0.1l0.7 0l0.8 0l0.7 0l0.8 0l0.7 0l0.8 0l0.8 0l0.7 0.1l0.8 0l0.7 0l0.8 0l0.7 0l0.8 0l0.8 0l0.7 0l0.8 0.1l0.7 0l0.8 0l0.8 0l0.7 0l0.8 0l0.7 0l0.8 0l0.7 0l0.8 0.1l0.8 0l0.7 0l0.8 0l0.7 0l0.8 0l0.8 0l0.7 0l0.8 0.1l0.7 0l0.8 0l0.7 0l0.8 0l0.8 0l0.7 0l0.8 0.1l0.7 0l0.8 0l0.7 0l0.8 0l0.8 0l0.7 0l0.8 0.1l0.7 0l0.8 0l0.8 0l0.7 0l0.8 0l0.7 0.1l0.8 0l0.7 0l0.8 0l0.8 0l0.7 0l0.8 0.1l0.7 0l0.8 0l0.7 0l0.8 0l0.8 0.1l0.7 0l0.8 0l0.7 0l0.8 0l0.8 0.1l0.7 0l0.8 0l0.7 0l0.8 0.1l0.7 0l0.8 0l0.8 0l0.7 0.1l0.8 0l0.7 0l0.8 0l0.7 0.1l0.8 0l0.8 0l0.7 0l0.8 0.1l0.7 0l0.8 0l0.7 0.1l0.8 0l0.8 0l0.7 0l0.8 0.1l0.7 0l0.8 0l0.7 0.1l0.8 0l0.8 0l0.7 0.1l0.8 0l0.7 0l0.8 0.1l0.8 0l0.7 0.1l0.8 0l0.7 0l0.8 0.1l0.7 0l0.8 0.1l0.8 0l0.7 0l0.8 0.1l0.7 0l0.8 0.1l0.7 0l0.8 0.1"/>
<path stroke="#FF8000" d="M299 1850l0.2 0.8l0.3 0.8l0.2 0.8l0.2 0.8l0.2 0.8l0.1 0.8l0.2 0.8l0.2 0.8l0.1 0.8l0.2 0.9l0.1 0.8l0.1 0.8l0.1 0.8l0.2 0.8l0.1 0.9l0.1 0.8l0 0.8l0.1 0.8l0.1 0.9l0.1 0.8l0 0.8l0.1 0.8l0.1 0.9l0 0.8l0 0.8l0.1 0.8l0 0.9l0.1 0.8l0 0.8l0 0.8l0 0.8l0.1 0.8l0 0.9l0 0.8l0 0.8l0 0.8l0 0.8l0.1 0.8l0 0.8l0 0.8l0 0.8l0 0.8l0 0.8l0 0.7l0 0.8l0.1 0.8l0 0.8l0 0.7l0 0.8l0 0.8l0.1 0.8l0 0.7l0 0.8l0.1 0.8l0 0.8l0 0.8l0.1 0.7l0 0.8l0.1 0.8l0.1 0.8l0 0.9l0.1 0.8l0.1 0.8l0.1 0.8l0 0.9l0.1 0.8l0.1 0.9l0.2 0.9l0.1 0.8l0.1 0.9l0.1 0.9l0.2 1l0.1 0.9l0.2 0.9l0.1 1l0.2 1l0.2 1l0.2 1l0.2 1l0.2 0.9l0.2 1l0.2 0.9l0.2 0.9l0.3 0.8l0.2 0.7l0.3 0.7l0.3 0.6l0.2 0.5l0.3 0.4l0.6 0.4l0.7 -0.1l0.6 -0.5l0.4 -0.4l0.4 -0.6l0.3 -0.5l0.4 -0.7l0.4 -0.7l0.5 -0.8l0.4 -0.8l0.4 -0.8l0.5 -0.8l0.4 -0.9l0.5 -0.8l0.5 -0.9l0.5 -0.8l0.6 -0.8l0.5 -0.7l0.6 -0.7l0.6 -0.7l0.6 -0.6l0.6 -0.5l0.6 -0.6l0.6 -0.4l0.7 -0.5l0.6 -0.3l0.7 -0.4l0.7 -0.3l0.7 -0.2l0.7 -0.2l0.7 -0.1l0.8 -0.1l0.7 -0.1l0.8 0l0.7 0l0.8 0l0.8 0.1l0.8 0.1l0.7 0.1l0.8 0.1l0.9 0.2l0.8 0.2l0.8 0.2l0.8 0.2l0.8 0.2l0.9 0.3l0.8 0.2l0.8 0.3l0.9 0.2l0.8 0.3l0.8 0.2l0.9 0.3l0.8 0.2l0.8 0.3l0.9 0.2l0.8 0.2l0.8 0.2l0.9 0.2l0.8 0.2l0.8 0.1l0.9 0.2l0.8 0.1l0.8 0.1l0.8 0.1l0.9 0.1l0.8 0.1l0.8 0.1l0.8 0.1l0.8 0l0.9 0.1l0.8 0.1l0.8 0l0.8 0l0.8 0.1l0.8 0l0.8 0l0.9 0.1l0.8 0l0.8 0l0.8 0l0.8 0l0.8 0.1l0.8 0l0.9 0l0.8 0l0.8 0l0.8 0.1l0.8 0l0.8 0l0.8 0l0.9 0.1l0.8 0l0.8 0l0.8 0l0.8 0l0.8 0.1l0.8 0l0.9 0l0.8 0l0.8 0.1l0.8 0l0.8 0l0.8 0l0.9 0.1l0.8 0l0.8 0l0.8 0l0.8 0.1l0.8 0l0.9 0l0.8 0l0.8 0.1l0.8 0l0.8 0l0.8 0l0.9 0.1l0.8 0l0.8 0l0.8 0l0.8 0.1l0.9 0l0.8 0l0.8 0l0.8 0.1l0.8 0l0.8 0l0.9 0.1l0.8 0l0.8 0l0.8 0l0.8 0.1l0.9 0l0.8 0l0.8 0l0.8 0.1l0.8 0l0.9 0l0.8 0l0.8 0.1l0.8 0l0.8 0l0.9 0.1l0.8 0l0.8 0l0.8 0l0.8 0.1l0.9 0l0.8 0l0.8 0l0.8 0.1l0.8 0l0.9 0l0.8 0l0.8 0.1l0.8 0l0.8 0l0.9 0l0.8 0.1l0.8 0l0.8 0l0.8 0l0.9 0.1l0.8 0l0.8 0l0.8 0l0.8 0.1l0.9 0l0.8 0l0.8 0l0.8 0.1l0.8 0l0.9 0l0.8 0l0.8 0.1l0.8 0l0.8 0l0.9 0l0.8 0l0.8 0.1l0.8 0l0.9 0l0.8 0l0.8 0.1l0.8 0l0.8 0l0.9 0l0.8 0l0.8 0.1l0.8 0l0.8 0l0.9 0l0.8 0l0.8 0.1l0.8 0l0.8 0l0.9 0l0.8 0l0.8 0.1l0.8 0l0.8 0l0.9 0l0.8 0l0.8 0.1l0.8 0l0.8 0l0.9 0l0.8 0l0.8 0.1l0.8 0l0.9 0l0.8 0l0.8 0l0.8 0l0.8 0.1l0.9 0l0.8 0l0.8 0l0.8 0l0.8 0.1l0.9 0l0.8 0l0.8 0l0.8 0l0.8 0l0.9 0.1l0.8 0l0.8 0l0.8 0l0.9 0l0.8 0l0.8 0.1l0.8 0l0.8 0l0.9 0l0.8 0l0.8 0l0.8 0l0.8 0.1l0.9 0l0.8 0l0.8 0l0.8 0l0.8 0l0.9 0.1l0.8 0l0.8 0l0.8 0l0.9 0l0.8 0l0.8 0l0.8 0.1l0.8 0l0.9 0l0.8 0l0.8 0l0.8 0l0.8 0l0.9 0.1l0.8 0l0.8 0l0.8 0l0.8 0l0.9 0l0.8 0l0.8 0.1l0.8 0l0.9 0l0.8 0l0.8 0l0.8 0l0.8 0l0.9 0l0.8 0.1l0.8 0l0.8 0l0.8 0l0.9 0l0.8 0l0.8 0l0.8 0l0.8 0.1l0.9 0l0.8 0l0.8 0l0.8 0l0.9 0l0.8 0l0.8 0l0.8 0.1l0.8 0l0.9 0l0.8 0l0.8 0l0.8 0l0.8 0l0.9 0l0.8 0l0.8 0.1l0.8 0l0.8 0l0.9 0l0.8 0l0.8 0l0.8 0l0.9 0l0.8 0.1l0.8 0l0.8 0l0.8 0l0.9 0l0.8 0l0.8 0l0.8 0l0.8 0l0.9 0.1l0.8 0l0.8 0l0.8 0l0.9 0l0.8 0l0.8 0l0.8 0l0.8 0l0.9 0l0.8 0.1l0.8 0l0.8 0l0.8 0l0.9 0l0.8 0l0.8 0l0.8 0l0.8 0l0.9 0.1l0.8 0l0.8 0l0.8 0l0.9 0l0.8 0l0.8 0l0.8 0l0.8 0l0.9 0l0.8 0.1l0.8 0l0.8 0l0.8 0l0.9 0l0.8 0l0.8 0l0.8 0l0.8 0l0.9 0l0.8 0.1l0.8 0l0.8 0l0.8 0l0.9 0l0.8 0l0.8 0l0.8 0l0.9 0l0.8 0.1l0.8 0l0.8 0l0.8 0l0.9 0l0.8 0l0.8 0l0.8 0l0.8 0l0.9 0l0.8 0.1l0.8 0l0.8 0l0.8 0l0.9 0l0.8 0l0.8 0l0.8 0l0.8 0l0.9 0l0.8 0.1l0.8 0l0.8 0l0.8 0l0.9 0l0.8 0l0.8 0l0.8 0l0.9 0l0.8 0.1l0.8 0l0.8 0l0.8 0l0.9 0l0.8 0l0.8 0l0.8 0l0.8 0l0.9 0.1l0.8 0l0.8 0l0.8 0l0.8 0l0.9 0l0.8 0l0.8 0l0.8 0l0.8 0.1l0.9 0l0.8 0l0.8 0l0.8 0l0.8 0l0.9 0l0.8 0l0.8 0l0.8 0.1l0.8 0l0.9 0l0.8 0l0.8 0l0.8 0l0.8 0l0.9 0l0.8 0l0.8 0.1l0.8 0l0.8 0l0.9 0l0.8 0l0.8 0l0.8 0l0.8 0l0.9 0.1l0.8 0l0.8 0l0.8 0l0.8 0l0.9 0l0.8 0l0.8 0.1l0.8 0l0.8 0l0.9 0l0.8 0l0.8 0l0.8 0l0.8 0l0.9 0.1l0.8 0l0.8 0l0.8 0l0.8 0l0.9 0l0.8 0l0.8 0.1l0.8 0l0.8 0l0.9 0l0.8 0l0.8 0l0.8 0l0.8 0.1l0.8 0l0.9 0l0.8 0l0.8 0l0.8 0l0.8 0l0.9 0.1l0.8 0l0.8 0l0.8 0l0.8 0l0.9 0l0.8 0.1l0.8 0l0.8 0l0.8 0l0.9 0l0.8 0l0.8 0l0.8 0.1l0.8 0l0.9 0l0.8 0l0.8 0l0.8 0.1l0.8 0l0.8 0l0.9 0l0.8 0l0.8 0l0.8 0.1l0.8 0l0.9 0l0.8 0l0.8 0l0.8 0l0.8 0.1l0.9 0l0.8 0l0.8 0l0.8 0l0.8 0.1l0.9 0l0.8 0l0.8 0l0.8 0l0.8 0.1l0.8 0l0.9 0l0.8 0l0.8 0l0.8 0l0.8 0.1l0.9 0l0.8 0l0.8 0l0.8 0.1l0.8 0l0.9 0l0.8 0l0.8 0l0.8 0.1l0.8 0l0.9 0l0.8 0l0.8 0l0.8 0.1l0.8 0l0.9 0l0.8 0l0.8 0.1l0.8 0l0.8 0l0.9 0l0.8 0l0.8 0.1l0.8 0l0.8 0l0.8 0l0.9 0.1l0.8 0l0.8 0l0.8 0l0.8 0.1l0.9 0l0.8 0l0.8 0l0.8 0.1l0.8 0l0.9 0l0.8 0l0.8 0.1l0.8 0l0.8 0l0.9 0l0.8 0.1l0.8 0l0.8 0l0.8 0.1l0.9 0l0.8 0l0.8 0l0.8 0.1l0.9 0l0.8 0l0.8 0l0.8 0.1l0.8 0l0.9 0l0.8 0.1l0.8 0l0.8 0l0.8 0l0.9 0.1l0.8 0l0.8 0l0.8 0.1l0.8 0l0.9 0l0.8 0.1l0.8 0l0.8 0l0.9 0.1l0.8 0l0.8 0l0.8 0l0.8 0.1l0.9 0l0.8 0l0.8 0.1l0.8 0l0.8 0l0.9 0.1l0.8 0l0.8 0l0.8 0.1l0.9 0l0.8 0l0.8 0.1l0.8 0l0.8 0l0.9 0.1l0.8 0l0.8 0.1l0.8 0l0.9 0l0.8 0.1l0.8 0l0.8 0l0.9 0.1l0.8 0l0.8 0l0.8 0.1l0.8 0l0.9 0.1l0.8 0l0.8 0l0.8 0.1l0.9 0l0.8 0l0.8 0.1l0.8 0l0.9 0.1l0.8 0l0.8 0l0.8 0.1l0.9 0l0.8 0.1l0.8 0l0.8 0l0.9 0.1l0.8 0l0.8 0.1l0.8 0l0.9 0.1l0.8 0l0.8 0l0.8 0.1l0.9 0l0.8 0.1l0.8 0l0.8 0.1l0.9 0l0.8 0.1l0.8 0l0.8 0.1l0.9 0l0.8 0.1l0.8 0l0.8 0.1l0.8 0.1l0.9 0l0.8 0.1l0.8 0l0.8 0.1l0.9 0.1l0.8 0l0.8 0.1l0.8 0.1l0.8 0l0.9 0.1l0.8 0.1l0.8 0.1l0.8 0.1l0.8 0l0.8 0.1l0.9 0.1l0.8 0.1l0.8 0.1l0.8 0.1l0.8 0.1l0.8 0.1l0.9 0.1l0.8 0.1l0.8 0.1l0.8 0.1l0.8 0.1l0.8 0.1l0.8 0.1l0.8 0.2l0.8 0.1l0.9 0.1l0.8 0.1l0.8 0.2l0.8 0.1l0.8 0.2l0.8 0.1l0.8 0.1l0.8 0.2l0.8 0.1l0.8 0.2l0.8 0.2l0.8 0.1l0.8 0.2l0.8 0.2l0.8 0.1l0.8 0.2l0.8 0.2l0.8 0.2l0.7 0.2l0.8 0.2l0.8 0.2l0.8 0.2l0.8 0.2l0.8 0.2l0.8 0.2l0.8 0.2l0.7 0.3l0.8 0.2l0.8 0.2l0.8 0.3l0.8 0.2l0.7 0.3l0.8 0.2l0.8 0.3l0.8 0.3l0.7 0.2l0.8 0.3l0.8 0.3l0.7 0.3l0.8 0.2l0.8 0.3l0.7 0.3l0.8 0.3l0.7 0.4l0.8 0.3l0.8 0.3l0.7 0.3l0.8 0.3l0.7 0.4l0.8 0.3l0.7 0.3l0.8 0.4l0.7 0.3l0.7 0.4l0.8 0.4l0.7 0.3l0.7 0.4l0.8 0.4l0.7 0.3l0.7 0.4l0.7 0.4l0.8 0.4l0.7 0.4l0.7 0.4l0.7 0.4l0.7 0.4l0.7 0.4l0.7 0.5l0.7 0.4l0.7 0.4l0.7 0.5l0.7 0.4l0.7 0.4l0.7 0.5l0.7 0.4l0.6 0.5l0.7 0.5l0.7 0.4l0.7 0.5l0.6 0.5l0.7 0.5l0.6 0.4l0.7 0.5l0.7 0.5l0.6 0.5l0.6 0.5l0.7 0.5l0.6 0.5l0.7 0.6l0.6 0.5l0.6 0.5l0.6 0.5l0.6 0.6l0.7 0.5l0.6 0.5l0.6 0.6l0.6 0.5l0.6 0.6l0.6 0.6l0.5 0.5l0.6 0.6l0.6 0.6l0.6 0.5l0.6 0.6l0.5 0.6l0.6 0.6l0.5 0.6l0.6 0.6l0.5 0.6l0.6 0.6l0.5 0.6l0.5 0.6l0.6 0.7l0.5 0.6l0.5 0.6l0.5 0.7l0.5 0.6l0.5 0.6l0.5 0.7l0.5 0.6l0.5 0.7l0.5 0.6l0.5 0.7l0.4 0.7l0.5 0.6l0.5 0.7l0.4 0.7l0.5 0.7l0.4 0.7l0.5 0.7l0.4 0.6l0.5 0.7l0.4 0.7l0.4 0.7l0.4 0.7l0.5 0.8l0.4 0.7l0.4 0.7l0.4 0.7l0.4 0.7l0.4 0.7l0.4 0.8l0.4 0.7l0.3 0.7l0.4 0.8l0.4 0.7l0.4 0.7l0.4 0.8l0.3 0.7l0.4 0.8l0.3 0.7l0.4 0.8l0.4 0.7l0.3 0.8l0.3 0.7l0.4 0.8l0.3 0.7l0.4 0.8l0.3 0.7l0.3 0.8l0.4 0.8l0.3 0.7l0.3 0.8l0.3 0.8l0.3 0.8l0.4 0.7l0.3 0.8l0.3 0.8l0.3 0.7l0.3 0.8l0.3 0.8l0.3 0.8l0.3 0.8l0.3 0.7l0.3 0.8l0.3 0.8l0.3 0.8l0.2 0.8l0.3 0.7l0.3 0.8l0.3 0.8l0.3 0.8l0.2 0.8l0.3 0.7l0.3 0.8l0.3 0.8l0.2 0.8l0.3 0.8l0.3 0.8l0.2 0.8l0.3 0.7l0.2 0.8l0.3 0.8l0.3 0.8l0.2 0.8l0.3 0.8l0.2 0.7l0.3 0.8l0.2 0.8l0.3 0.8l0.2 0.8l0.3 0.8l0.2 0.8l0.2 0.8l0.3 0.7l0.2 0.8l0.2 0.8l0.3 0.8l0.2 0.8l0.2 0.8l0.3 0.8l0.2 0.8l0.2 0.8l0.3 0.7l0.2 0.8l0.2 0.8l0.2 0.8l0.2 0.8l0.3 0.8l0.2 0.8l0.2 0.8l0.2 0.8l0.2 0.8l0.2 0.8l0.3 0.7l0.2 0.8l0.2 0.8l0.2 0.8l0.2 0.8l0.2 0.8l0.2 0.8l0.2 0.8l0.2 0.8l0.2 0.8l0.2 0.8l0.2 0.8l0.2 0.8l0.2 0.8l0.2 0.8l0.2 0.8l0.2 0.7l0.2 0.8l0.2 0.8l0.2 0.8l0.2 0.8l0.2 0.8l0.1 0.8l0.2 0.8l0.2 0.8l0.2 0.8l0.2 0.8l0.2 0.8l0.2 0.8l0.2 0.8l0.1 0.8l0.2 0.8l0.2 0.8l0.2 0.8l0.2 0.8l0.2 0.8l0.1 0.8l0.2 0.8l0.2 0.8l0.2 0.8l0.2 0.8l0.1 0.8l0.2 0.8l0.2 0.8l0.2 0.8l0.1 0.8l0.2 0.8l0.2 0.8l0.2 0.8l0.1 0.8l0.2 0.8l0.2 0.8l0.2 0.8l0.1 0.8l0.2 0.8l0.2 0.8l0.1 0.8l0.2 0.8l0.2 0.8l0.1 0.8l0.2 0.8l0.2 0.8l0.1 0.8l0.2 0.8l0.2 0.8l0.1 0.8l0.2 0.8l0.2 0.8l0.1 0.8l0.2 0.8l0.1 0.8l0.2 0.8l0.2 0.8l0.1 0.8l0.2 0.8l0.1 0.8l0.2 0.8l0.1 0.8l0.2 0.8l0.2 0.8l0.1 0.8l0.2 0.8l0.1 0.8l0.2 0.8l0.1 0.8l0.2 0.8l0.1 0.8l0.2 0.8l0.1 0.8l0.2 0.8l0.1 0.8l0.2 0.8l0.1 0.8l0.2 0.9l0.1 0.8l0.2 0.8l0.1 0.8l0.2 0.8l0.1 0.8l0.2 0.8l0.1 0.8l0.2 0.8l0.1 0.8l0.1 0.8l0.2 0.8l0.1 0.8l0.2 0.8l0.1 0.8l0.2 0.8l0.1 0.8l0.1 0.8l0.2 0.9l0.1 0.8l0.2 0.8l0.1 0.8l0.1 0.8l0.2 0.8l0.1 0.8l0.1 0.8l0.2 0.8l0.1 0.8l0.2 0.8l0.1 0.8l0.1 0.8l0.2 0.9l0.1 0.8l0.1 0.8l0.2 0.8l0.1 0.8l0.1 0.8l0.1 0.8l0.2 0.8l0.1 0.8l0.1 0.8l0.2 0.8l0.1 0.8l0.1 0.9l0.2 0.8l0.1 0.8l0.1 0.8l0.1 0.8l0.2 0.8l0.1 0.8l0.1 0.8l0.1 0.8l0.2 0.8l0.1 0.8l0.1 0.9l0.1 0.8l0.2 0.8l0.1 0.8l0.1 0.8l0.1 0.8l0.1 0.8l0.2 0.8l0.1 0.8l0.1 0.9l0.1 0.8l0.1 0.8l0.2 0.8l0.1 0.8l0.1 0.8l0.1 0.8l0.1 0.8l0.2 0.8l0.1 0.9l0.1 0.8l0.1 0.8l0.1 0.8l0.1 0.8l0.1 0.8l0.2 0.8l0.1 0.8l0.1 0.8l0.1 0.9l0.1 0.8l0.1 0.8l0.1 0.8l0.2 0.8l0.1 0.8l0.1 0.8l0.1 0.8l0.1 0.9l0.1 0.8l0.1 0.8l0.1 0.8l0.1 0.8l0.1 0.8l0.2 0.8l0.1 0.9l0.1 0.8l0.1 0.8l0.1 0.8l0.1 0.8l0.1 0.8l0.1 0.8l0.1 0.8l0.1 0.9l0.1 0.8l0.1 0.8l0.1 0.8l0.1 0.8l0.1 0.8l0.1 0.8l0.1 0.9l0.2 0.8l0.1 0.8l0.1 0.8l0.1 0.8l0.1 0.8l0.1 0.8l0.1 0.9l0.1 0.8l0.1 0.8l0.1 0.8l0.1 0.8l0.1 0.8l0.1 0.9l0.1 0.8l0.1 0.8l0.1 0.8l0.1 0.8l0.1 0.8l0.1 0.8l0.1 0.9l0.1 0.8l0 0.8l0.1 0.8l0.1 0.8l0.1 0.8l0.1 0.9l0.1 0.8l0.1 0.8l0.1 0.8l0.1 0.8l0.1 0.8l0.1 0.8l0.1 0.9l0.1 0.8l0.1 0.8l0.1 0.8l0.1 0.8l0.1 0.8l0.1 0.9l0.1 0.8l0 0.8l0.1 0.8l0.1 0.8l0.1 0.8l0.1 0.9l0.1 0.8l0.1 0.8l0.1 0.8l0.1 0.8l0.1 0.8l0.1 0.9l0 0.8l0.1 0.8l0.1 0.8l0.1 0.8l0.1 0.8l0.1 0.9l0.1 0.8l0.1 0.8l0.1 0.8l0.1 0.8l0 0.8l0.1 0.9l0.1 0.8l0.1 0.8l0.1 0.8l0.1 0.8l0.1 0.9l0.1 0.8l0 0.8l0.1 0.8l0.1 0.8l0.1 0.8l0.1 0.9l0.1 0.8l0.1 0.8l0 0.8l0.1 0.8l0.1 0.8l0.1 0.9l0.1 0.8l0.1 0.8l0 0.8l0.1 0.8l0.1 0.9l0.1 0.8l0.1 0.8l0.1 0.8l0.1 0.8l0 0.8l0.1 0.9l0.1 0.8l0.1 0.8l0.1 0.8l0.1 0.8l0 0.9l0.1 0.8l0.1 0.8l0.1 0.8l0.1 0.8l0 0.8l0.1 0.9l0.1 0.8l0.1 0.8l0.1 0.8l0.1 0.8l0 0.9l0.1 0.8l0.1 0.8l0.1 0.8l0.1 0.8l0 0.8l0.1 0.9l0.1 0.8l0.1 0.8l0.1 0.8l0 0.8l0.1 0.9l0.1 0.8l0.1 0.8l0.1 0.8l0 0.8l0.1 0.9l0.1 0.8l0.1 0.8l0.1 0.8l0 0.8l0.1 0.8l0.1 0.9l0.1 0.8l0.1 0.8l0 0.8l0.1 0.8l0.1 0.9l0.1 0.8l0.1 0.8l0 0.8l0.1 0.8l0.1 0.9l0.1 0.8l0.1 0.8l0 0.8l0.1 0.8l0.1 0.8l0.1 0.9l0.1 0.8l0 0.8l0.1 0.8l0.1 0.8l0.1 0.9l0 0.8l0.1 0.8l0.1 0.8l0.1 0.8l0.1 0.8l0 0.9l0.1 0.8l0.1 0.8l0.1 0.8l0.1 0.8l0 0.9l0.1 0.8l0.1 0.8l0.1 0.8l0 0.8l0.1 0.9l0.1 0.8l0.1 0.8l0.1 0.8l0 0.8l0.1 0.8l0.1 0.9l0.1 0.8l0.1 0.8l0 0.8l0.1 0.8l0.1 0.9l0.1 0.8l0.1 0.8l0 0.8l0.1 0.8l0.1 0.8l0.1 0.9l0 0.8l0.1 0.8l0.1 0.8l0.1 0.8l0.1 0.9l0 0.8l0.1 0.8l0.1 0.8l0.1 0.8l0.1 0.8l0 0.9l0.1 0.8l0.1 0.8l0.1 0.8l0.1 0.8l0 0.9l0.1 0.8l0.1 0.8l0.1 0.8l0.1 0.8l0 0.8l0.1 0.9l0.1 0.8l0.1 0.8l0.1 0.8l0 0.8l0.1 0.9l0.1 0.8l0.1 0.8l0.1 0.8l0 0.8l0.1 0.8l0.1 0.9l0.1 0.8l0.1 0.8l0 0.8l0.1 0.8l0.1 0.8l0.1 0.9l0.1 0.8l0.1 0.8l0 0.8l0.1 0.8l0.1 0.8l0.1 0.9l0.1 0.8l0.1 0.8l0 0.8l0.1 0.8l0.1 0.8l0.1 0.9l0.1 0.8l0.1 0.8l0 0.8l0.1 0.8l0.1 0.8l0.1 0.9l0.1 0.8l0.1 0.8l0 0.8l0.1 0.8l0.1 0.8l0.1 0.9l0.1 0.8l0.1 0.8l0.1 0.8l0 0.8l0.1 0.8l0.1 0.9l0.1 0.8l0.1 0.8l0.1 0.8l0.1 0.8l0 0.8l0.1 0.9l0.1 0.8l0.1 0.8l0.1 0.8l0.1 0.8l0.1 0.8l0 0.9l0.1 0.8l0.1 0.8l0.1 0.8l0.1 0.8l0.1 0.8l0.1 0.8l0.1 0.9l0 0.8l0.1 0.8l0.1 0.8l0.1 0.8l0.1 0.8l0.1 0.9l0.1 0.8l0.1 0.8l0 0.8l0.1 0.8l0.1 0.8l0.1 0.8l0.1 0.9l0.1 0.8l0.1 0.8l0.1 0.8l0 0.8l0.1 0.8l0.1 0.9l0.1 0.8l0.1 0.8l0.1 0.8l0.1 0.8l0.1 0.8l0.1 0.8l0 0.9l0.1 0.8l0.1 0.8l0.1 0.8l0.1 0.8l0.1 0.8l0.1 0.8l0.1 0.9l0 0.8l0.1 0.8l0.1 0.8l0.1 0.8l0.1 0.8l0.1 0.9l0.1 0.8l0.1 0.8l0.1 0.8l0 0.8l0.1 0.8l0.1 0.8l0.1 0.9l0.1 0.8l0.1 0.8l0.1 0.8l0.1 0.8l0.1 0.8l0 0.8l0.1 0.9l0.1 0.8l0.1 0.8l0.1 0.8l0.1 0.8l0.1 0.8l0.1 0.8l0 0.9l0.1 0.8l0.1 0.8l0.1 0.8l0.1 0.8l0.1 0.8l0.1 0.8l0.1 0.9l0 0.8l0.1 0.8l0.1 0.8l0.1 0.8l0.1 0.8l0.1 0.8l0.1 0.9l0.1 0.8l0 0.8l0.1 0.8l0.1 0.8l0.1 0.8l0.1 0.9l0.1 0.8l0.1 0.8l0.1 0.8l0 0.8l0.1 0.8l0.1 0.8l0.1 0.9l0.1 0.8l0.1 0.8l0.1 0.8l0 0.8l0.1 0.8l0.1 0.8l0.1 0.9l0.1 0.8l0.1 0.8l0.1 0.8l0 0.8l0.1 0.8l0.1 0.8l0.1 0.9l0.1 0.8l0.1 0.8l0 0.8l0.1 0.8l0.1 0.8l0.1 0.9l0.1 0.8l0.1 0.8l0 0.8l0.1 0.8l0.1 0.8l0.1 0.8l0.1 0.9l0.1 0.8l0 0.8l0.1 0.8l0.1 0.8l0.1 0.8l0.1 0.8l0 0.9l0.1 0.8l0.1 0.8l0.1 0.8l0.1 0.8l0 0.8l0.1 0.9l0.1 0.8l0.1 0.8l0.1 0.8l0 0.8l0.1 0.8l0.1 0.9l0.1 0.8l0.1 0.8l0 0.8l0.1 0.8l0.1 0.8l0.1 0.8l0.1 0.9l0 0.8l0.1 0.8l0.1 0.8l0.1 0.8l0 0.8l0.1 0.9l0.1 0.8l0.1 0.8l0 0.8l0.1 0.8l0.1 0.8l0.1 0.9l0 0.8l0.1 0.8l0.1 0.8l0.1 0.8l0 0.8l0.1 0.9l0.1 0.8l0.1 0.8l0 0.8l0.1 0.8l0.1 0.8l0 0.9l0.1 0.8l0.1 0.8l0.1 0.8l0 0.8l0.1 0.8l0.1 0.9l0 0.8l0.1 0.8l0.1 0.8l0.1 0.8l0 0.8l0.1 0.9l0.1 0.8l0 0.8l0.1 0.8l0.1 0.8l0 0.8l0.1 0.9l0.1 0.8l0 0.8l0.1 0.8l0.1 0.8l0 0.9l0.1 0.8l0.1 0.8l0 0.8l0.1 0.8l0 0.8l0.1 0.9l0.1 0.8l0 0.8l0.1 0.8l0.1 0.8l0 0.9l0.1 0.8l0 0.8l0.1 0.8l0.1 0.8l0 0.8l0.1 0.9l0.1 0.8l0 0.8l0.1 0.8l0 0.8l0.1 0.9l0 0.8l0.1 0.8l0.1 0.8l0 0.8l0.1 0.9l0 0.8l0.1 0.8l0 0.8l0.1 0.8l0 0.9l0.1 0.8l0.1 0.8l0 0.8l0.1 0.8l0 0.9l0.1 0.8l0 0.8l0.1 0.8l0 0.8l0.1 0.9l0 0.8l0.1 0.8l0 0.8l0.1 0.8l0 0.9l0.1 0.8l0 0.8l0.1 0.8l0 0.8l0.1 0.9l0 0.8l0.1 0.8l0 0.8l0.1 0.8l0 0.9l0.1 0.8l0 0.8l0 0.8l0.1 0.8l0 0.9l0.1 0.8l0 0.8l0.1 0.8l0 0.9l0.1 0.8l0 0.8l0 0.8l0.1 0.8l0 0.9l0.1 0.8l0 0.8l0.1 0.8l0 0.8l0 0.9l0.1 0.8l0 0.8l0.1 0.8l0 0.9l0.1 0.8l0 0.8l0 0.8l0.1 0.8l0 0.9l0.1 0.8l0 0.8l0 0.8l0.1 0.8l0 0.9l0.1 0.8l0 0.8l0 0.8l0.1 0.9l0 0.8l0.1 0.8l0 0.8l0 0.8l0.1 0.9l0 0.8l0.1 0.8l0 0.8l0 0.9l0.1 0.8l0 0.8l0.1 0.8l0 0.8l0 0.9l0.1 0.8l0 0.8l0.1 0.8l0 0.8l0 0.9l0.1 0.8l0 0.8l0 0.8l0.1 0.9l0 0.8l0.1 0.8l0 0.8l0 0.8l0.1 0.9l0 0.8l0.1 0.8l0 0.8l0 0.8l0.1 0.9l0 0.8l0 0.8l0.1 0.8l0 0.8l0.1 0.9l0 0.8l0 0.8l0.1 0.8l0 0.9l0.1 0.8l0 0.8l0 0.8l0.1 0.8l0 0.9l0 0.8l0.1 0.8l0 0.8l0.1 0.8l0 0.9l0 0.8l0.1 0.8l0 0.8l0.1 0.8l0 0.9l0 0.8l0.1 0.8l0 0.8l0.1 0.8l0 0.9l0.1 0.8l0 0.8l0 0.8l0.1 0.8l0 0.8l0.1 0.9l0 0.8l0 0.8l0.1 0.8l0 0.8l0.1 0.9l0 0.8l0.1 0.8l0 0.8l0 0.8l0.1 0.8l0 0.9l0.1 0.8l0 0.8l0.1 0.8l0 0.8l0.1 0.9l0 0.8l0.1 0.8l0 0.8l0 0.8l0.1 0.8l0 0.9l0.1 0.8l0 0.8l0.1 0.8l0 0.8l0.1 0.8l0 0.9l0.1 0.8l0 0.8l0.1 0.8l0 0.8l0.1 0.8l0 0.9l0.1 0.8l0 0.8l0.1 0.8l0 0.8l0.1 0.8l0 0.8l0.1 0.9l0 0.8l0.1 0.8l0.1 0.8l0 0.8l0.1 0.8l0 0.8l0.1 0.9l0 0.8l0.1 0.8l0 0.8l0.1 0.8l0.1 0.8l0 0.8l0.1 0.8l0 0.9l0.1 0.8l0 0.8l0.1 0.8l0.1 0.8l0 0.8l0.1 0.8l0 0.9l0.1 0.8l0.1 0.8l0 0.8l0.1 0.8l0 0.8l0.1 0.8l0.1 0.8l0 0.9l0.1 0.8l0.1 0.8l0 0.8l0.1 0.8l0 0.8l0.1 0.8l0.1 0.9l0 0.8l0.1 0.8l0.1 0.8l0 0.8l0.1 0.8l0 0.8l0.1 0.9l0.1 0.8l0 0.8l0.1 0.8l0.1 0.8l0 0.8l0.1 0.8l0.1 0.9l0 0.8l0.1 0.8l0 0.8l0.1 0.8l0.1 0.9l0 0.8l0.1 0.8l0.1 0.8l0 0.8l0.1 0.8l0.1 0.9l0 0.8l0.1 0.8l0 0.8l0.1 0.8l0.1 0.9l0 0.8l0.1 0.8l0.1 0.8l0 0.9l0.1 0.8l0.1 0.8l0 0.8l0.1 0.9l0 0.8l0.1 0.8l0.1 0.8l0 0.9l0.1 0.8l0 0.8l0.1 0.9l0.1 0.8l0 0.8l0.1 0.8l0 0.9l0.1 0.8l0.1 0.8l0 0.9l0.1 0.8l0 0.8l0.1 0.9l0.1 0.8l0 0.8l0.1 0.9l0 0.8l0.1 0.8l0 0.9l0.1 0.8l0.1 0.9l0 0.8l0.1 0.8l0 0.9l0.1 0.8l0 0.9l0.1 0.8l0 0.9l0.1 0.8l0.1 0.8l0 0.9l0.1 0.8l0.1 0.9l0.1 0.8l0.1 0.8l0.1 0.9l0.2 0.8l0.1 0.8l0.2 0.8l0.2 0.9l0.3 0.8l0.2 0.8l0.3 0.8l0.3 0.8l0.3 0.7l0.4 0.8l0.3 0.7l0.4 0.7l0.4 0.7l0.5 0.5l0.4 0.5l0.4 0.4l0.4 0.3l0.5 0.2l0.8 0l0.8 -0.5l0.3 -0.4l0.4 -0.5l0.3 -0.6l0.3 -0.6l0.4 -0.7l0.2 -0.7l0.3 -0.8l0.3 -0.8l0.2 -0.8l0.2 -0.8l0.2 -0.9l0.2 -0.8l0.2 -0.8l0.1 -0.9l0.2 -0.8l0.1 -0.9l0.1 -0.9l0.1 -0.9l0.1 -0.8l0.1 -0.9l0.1 -0.9l0.1 -0.9l0 -0.9l0.1 -0.8l0.1 -0.9l0 -0.9l0.1 -0.9l0.1 -0.9l0 -0.8l0.1 -0.9l0 -0.8l0.1 -0.9l0 -0.9l0.1 -0.8l0 -0.9l0.1 -0.8l0 -0.9l0.1 -0.8l0 -0.9l0.1 -0.8l0 -0.8l0.1 -0.9l0 -0.8l0.1 -0.8l0 -0.9l0 -0.8l0.1 -0.8l0 -0.9l0.1 -0.8l0 -0.8l0 -0.8l0.1 -0.8l0 -0.9l0 -0.8l0.1 -0.8l0 -0.8l0 -0.8l0.1 -0.8l0 -0.8l0 -0.9l0.1 -0.8l0 -0.8l0 -0.8l0.1 -0.8l0 -0.8l0 -0.8l0.1 -0.8l0 -0.8l0 -0.8l0.1 -0.8l0 -0.8l0 -0.8l0 -0.8l0.1 -0.8l0 -0.9l0 -0.8l0.1 -0.8l0 -0.8l0 -0.8l0.1 -0.8l0 -0.8l0 -0.8l0.1 -0.8l0 -0.8l0 -0.8l0.1 -0.8l0 -0.8l0 -0.8l0.1 -0.9l0 -0.8l0 -0.8l0.1 -0.8l0 -0.8l0 -0.8l0.1 -0.8l0 -0.8l0 -0.8l0.1 -0.8l0 -0.9l0 -0.8l0.1 -0.8l0 -0.8l0 -0.8l0.1 -0.8l0 -0.8l0 -0.8l0.1 -0.9l0 -0.8l0 -0.8l0.1 -0.8l0 -0.8l0 -0.8l0.1 -0.8l0 -0.9l0 -0.8l0.1 -0.8l0 -0.8l0.1 -0.8l0 -0.8l0 -0.8l0.1 -0.9l0 -0.8l0 -0.8l0.1 -0.8l0 -0.8l0 -0.8l0.1 -0.8l0 -0.9l0.1 -0.8l0 -0.8l0 -0.8l0.1 -0.8l0 -0.8l0 -0.9l0.1 -0.8l0 -0.8l0.1 -0.8l0 -0.8l0 -0.9l0.1 -0.8l0 -0.8l0 -0.8l0.1 -0.8l0 -0.8l0.1 -0.9l0 -0.8l0 -0.8l0.1 -0.8l0 -0.8l0 -0.9l0.1 -0.8l0 -0.8l0.1 -0.8l0 -0.8l0 -0.9l0.1 -0.8l0 -0.8l0 -0.8l0.1 -0.8l0 -0.9l0.1 -0.8l0 -0.8l0 -0.8l0.1 -0.8l0 -0.9l0.1 -0.8l0 -0.8l0 -0.8l0.1 -0.8l0 -0.9l0 -0.8l0.1 -0.8l0 -0.8l0.1 -0.8l0 -0.9l0 -0.8l0.1 -0.8l0 -0.8l0.1 -0.9l0 -0.8l0 -0.8l0.1 -0.8l0 -0.8l0 -0.9l0.1 -0.8l0 -0.8l0.1 -0.8l0 -0.9l0 -0.8l0.1 -0.8l0 -0.8l0.1 -0.8l0 -0.9l0 -0.8l0.1 -0.8l0 -0.8l0 -0.9l0.1 -0.8l0 -0.8l0.1 -0.8l0 -0.8l0 -0.9l0.1 -0.8l0 -0.8l0.1 -0.8l0 -0.9l0 -0.8l0.1 -0.8l0 -0.8l0 -0.8l0.1 -0.9l0 -0.8l0.1 -0.8l0 -0.8l0 -0.9l0.1 -0.8l0 -0.8l0 -0.8l0.1 -0.8l0 -0.9l0.1 -0.8l0 -0.8l0 -0.8l0.1 -0.9l0 -0.8l0 -0.8l0.1 -0.8l0 -0.8l0.1 -0.9l0 -0.8l0 -0.8l0.1 -0.8l0 -0.9l0 -0.8l0.1 -0.8l0 -0.8l0.1 -0.8l0 -0.9l0 -0.8l0.1 -0.8l0 -0.8l0 -0.8l0.1 -0.9l0 -0.8l0 -0.8l0.1 -0.8l0 -0.9l0.1 -0.8l0 -0.8l0 -0.8l0.1 -0.8l0 -0.9l0 -0.8l0.1 -0.8l0 -0.8l0 -0.9l0.1 -0.8l0 -0.8l0 -0.8l0.1 -0.8l0 -0.9l0.1 -0.8l0 -0.8l0 -0.8l0.1 -0.8l0 -0.9l0 -0.8l0.1 -0.8l0 -0.8l0 -0.8l0.1 -0.9l0 -0.8l0 -0.8l0.1 -0.8l0 -0.9l0.1 -0.8l0 -0.8l0 -0.8l0.1 -0.8l0 -0.9l0 -0.8l0.1 -0.8l0 -0.8l0 -0.8l0.1 -0.9l0 -0.8l0 -0.8l0.1 -0.8l0 -0.8l0 -0.9l0.1 -0.8l0 -0.8l0 -0.8l0.1 -0.8l0 -0.9l0 -0.8l0.1 -0.8l0 -0.8l0.1 -0.8l0 -0.9l0 -0.8l0.1 -0.8l0 -0.8l0 -0.8l0.1 -0.9l0 -0.8l0 -0.8l0.1 -0.8l0 -0.8l0 -0.9l0.1 -0.8l0 -0.8l0 -0.8l0.1 -0.8l0 -0.9l0 -0.8l0.1 -0.8l0 -0.8l0 -0.9l0.1 -0.8l0 -0.8l0 -0.8l0.1 -0.8l0 -0.9l0 -0.8l0.1 -0.8l0 -0.8l0 -0.8l0.1 -0.8l0 -0.9l0 -0.8l0.1 -0.8l0 -0.8l0 -0.8l0.1 -0.9l0 -0.8l0.1 -0.8l0 -0.8l0 -0.8l0.1 -0.9l0 -0.8l0 -0.8l0.1 -0.8l0 -0.8l0 -0.9l0.1 -0.8l0 -0.8l0 -0.8l0.1 -0.8l0 -0.9l0 -0.8l0.1 -0.8l0 -0.8l0 -0.8l0.1 -0.9l0 -0.8l0 -0.8l0.1 -0.8l0 -0.8l0 -0.9l0.1 -0.8l0 -0.8l0 -0.8l0.1 -0.8l0 -0.9l0 -0.8l0.1 -0.8l0 -0.8l0 -0.8l0.1 -0.9l0 -0.8l0 -0.8l0.1 -0.8l0 -0.8l0 -0.9l0.1 -0.8l0 -0.8l0 -0.8l0.1 -0.8l0 -0.8l0 -0.9l0.1 -0.8l0 -0.8l0 -0.8l0.1 -0.8l0 -0.9l0 -0.8l0.1 -0.8l0 -0.8l0 -0.8l0.1 -0.9l0 -0.8l0.1 -0.8l0 -0.8l0 -0.8l0.1 -0.9l0 -0.8l0 -0.8l0.1 -0.8l0 -0.8l0 -0.9l0.1 -0.8l0 -0.8l0 -0.8l0.1 -0.8l0 -0.8l0 -0.9l0.1 -0.8l0 -0.8l0 -0.8l0.1 -0.8l0 -0.9l0 -0.8l0.1 -0.8l0 -0.8l0 -0.8l0.1 -0.9l0 -0.8l0 -0.8l0.1 -0.8l0 -0.8l0 -0.9l0.1 -0.8l0 -0.8l0.1 -0.8l0 -0.8l0 -0.9l0.1 -0.8l0 -0.8l0 -0.8l0.1 -0.8l0 -0.8l0 -0.9l0.1 -0.8l0 -0.8l0 -0.8l0.1 -0.8l0 -0.9l0 -0.8l0.1 -0.8l0 -0.8l0.1 -0.8l0 -0.9l0 -0.8l0.1 -0.8l0 -0.8l0 -0.8l0.1 -0.9l0 -0.8l0 -0.8l0.1 -0.8l0 -0.8l0 -0.8l0.1 -0.9l0 -0.8l0 -0.8l0.1 -0.8l0 -0.8l0.1 -0.9l0 -0.8l0 -0.8l0.1 -0.8l0 -0.8l0 -0.9l0.1 -0.8l0 -0.8l0 -0.8l0.1 -0.8l0 -0.9l0.1 -0.8l0 -0.8l0 -0.8l0.1 -0.8l0 -0.9l0 -0.8l0.1 -0.8l0 -0.8l0 -0.8l0.1 -0.8l0 -0.9l0.1 -0.8l0 -0.8l0 -0.8l0.1 -0.8l0 -0.9l0 -0.8l0.1 -0.8l0 -0.8l0.1 -0.8l0 -0.9l0 -0.8l0.1 -0.8l0 -0.8l0 -0.8l0.1 -0.9l0 -0.8l0.1 -0.8l0 -0.8l0 -0.8l0.1 -0.9l0 -0.8l0 -0.8l0.1 -0.8l0 -0.8l0.1 -0.8l0 -0.9l0 -0.8l0.1 -0.8l0 -0.8l0 -0.8l0.1 -0.9l0 -0.8l0.1 -0.8l0 -0.8l0 -0.8l0.1 -0.9l0 -0.8l0 -0.8l0.1 -0.8l0 -0.8l0.1 -0.9l0 -0.8l0 -0.8l0.1 -0.8l0 -0.8l0 -0.9l0.1 -0.8l0 -0.8l0.1 -0.8l0 -0.8l0 -0.8l0.1 -0.9l0 -0.8l0.1 -0.8l0 -0.8l0 -0.8l0.1 -0.9l0 -0.8l0.1 -0.8l0 -0.8l0 -0.8l0.1 -0.9l0 -0.8l0 -0.8l0.1 -0.8l0 -0.8l0.1 -0.9l0 -0.8l0 -0.8l0.1 -0.8l0 -0.8l0.1 -0.9l0 -0.8l0 -0.8l0.1 -0.8l0 -0.8l0.1 -0.9l0 -0.8l0 -0.8l0.1 -0.8l0 -0.8l0.1 -0.8l0 -0.9l0 -0.8l0.1 -0.8l0 -0.8l0.1 -0.8l0 -0.9l0 -0.8l0.1 -0.8l0 -0.8l0.1 -0.8l0 -0.9l0 -0.8l0.1 -0.8l0 -0.8l0.1 -0.8l0 -0.9l0 -0.8l0.1 -0.8l0 -0.8l0.1 -0.8l0 -0.9l0 -0.8l0.1 -0.8l0 -0.8l0.1 -0.8l0 -0.9l0 -0.8l0.1 -0.8l0 -0.8l0.1 -0.8l0 -0.8l0 -0.9l0.1 -0.8l0 -0.8l0.1 -0.8l0 -0.8l0 -0.9l0.1 -0.8l0 -0.8l0.1 -0.8l0 -0.8l0 -0.9l0.1 -0.8l0 -0.8l0.1 -0.8l0 -0.8l0.1 -0.9l0 -0.8l0 -0.8l0.1 -0.8l0 -0.8l0.1 -0.9l0 -0.8l0 -0.8l0.1 -0.8l0 -0.8l0.1 -0.9l0 -0.8l0.1 -0.8l0 -0.8l0 -0.8l0.1 -0.9l0 -0.8l0.1 -0.8l0 -0.8l0 -0.8l0.1 -0.8l0 -0.9l0.1 -0.8l0 -0.8l0.1 -0.8l0 -0.8l0 -0.9l0.1 -0.8l0 -0.8l0.1 -0.8l0 -0.8l0.1 -0.9l0 -0.8l0 -0.8l0.1 -0.8l0 -0.8l0.1 -0.9l0 -0.8l0.1 -0.8l0 -0.8l0 -0.8l0.1 -0.9l0 -0.8l0.1 -0.8l0 -0.8l0 -0.8l0.1 -0.9l0 -0.8l0.1 -0.8l0 -0.8l0.1 -0.8l0 -0.9l0 -0.8l0.1 -0.8l0 -0.8l0.1 -0.8l0 -0.9l0.1 -0.8l0 -0.8l0.1 -0.8l0 -0.8l0 -0.9l0.1 -0.8l0 -0.8l0.1 -0.8l0 -0.8l0.1 -0.8l0 -0.9l0 -0.8l0.1 -0.8l0 -0.8l0.1 -0.8l0 -0.9l0.1 -0.8l0 -0.8l0.1 -0.8l0 -0.8l0 -0.9l0.1 -0.8l0 -0.8l0.1 -0.8l0 -0.8l0.1 -0.9l0 -0.8l0 -0.8l0.1 -0.8l0 -0.8l0.1 -0.9l0 -0.8l0.1 -0.8l0 -0.8l0.1 -0.8l0 -0.9l0 -0.8l0.1 -0.8l0 -0.8l0.1 -0.8l0 -0.9l0.1 -0.8l0 -0.8l0.1 -0.8l0 -0.8l0 -0.9l0.1 -0.8l0 -0.8l0.1 -0.8l0 -0.8l0.1 -0.9l0 -0.8l0.1 -0.8l0 -0.8l0.1 -0.8l0 -0.9l0 -0.8l0.1 -0.8l0 -0.8l0.1 -0.8l0 -0.9l0.1 -0.8l0 -0.8l0.1 -0.8l0 -0.8l0.1 -0.8l0 -0.9l0 -0.8l0.1 -0.8l0 -0.8l0.1 -0.8l0 -0.9l0.1 -0.8l0 -0.8l0.1 -0.8l0 -0.8l0.1 -0.9l0 -0.8l0 -0.8l0.1 -0.8l0 -0.8l0.1 -0.9l0 -0.8l0.1 -0.8l0 -0.8l0.1 -0.8l0 -0.9l0.1 -0.8l0 -0.8l0.1 -0.8l0 -0.8l0 -0.9l0.1 -0.8l0 -0.8l0.1 -0.8l0 -0.8l0.1 -0.9l0 -0.8l0.1 -0.8l0 -0.8l0.1 -0.8l0 -0.9l0.1 -0.8l0 -0.8l0.1 -0.8l0 -0.8l0 -0.9l0.1 -0.8l0 -0.8l0.1 -0.8l0 -0.8l0.1 -0.9l0 -0.8l0.1 -0.8l0 -0.8l0.1 -0.8l0 -0.9l0.1 -0.8l0 -0.8l0.1 -0.8l0 -0.8l0.1 -0.9l0 -0.8l0 -0.8l0.1 -0.8l0 -0.8l0.1 -0.9l0 -0.8l0.1 -0.8l0 -0.8l0.1 -0.8l0 -0.9l0.1 -0.8l0 -0.8l0.1 -0.8l0 -0.8l0.1 -0.9l0 -0.8l0.1 -0.8l0 -0.8l0.1 -0.8l0 -0.9l0.1 -0.8l0 -0.8l0 -0.8l0.1 -0.8l0 -0.9l0.1 -0.8l0 -0.8l0.1 -0.8l0 -0.8l0.1 -0.9l0 -0.8l0.1 -0.8l0 -0.8l0.1 -0.8l0 -0.9l0.1 -0.8l0 -0.8l0.1 -0.8l0 -0.8l0.1 -0.9l0 -0.8l0.1 -0.8l0 -0.8l0.1 -0.8l0 -0.9l0.1 -0.8l0 -0.8l0.1 -0.8l0 -0.8l0.1 -0.9l0 -0.8l0.1 -0.8l0 -0.8l0.1 -0.8l0 -0.9l0.1 -0.8l0 -0.8l0.1 -0.8l0 -0.8l0.1 -0.9l0 -0.8l0.1 -0.8l0 -0.8l0.1 -0.8l0 -0.9l0.1 -0.8l0 -0.8l0.1 -0.8l0 -0.8l0 -0.9l0.1 -0.8l0 -0.8l0.1 -0.8l0 -0.8l0.1 -0.9l0 -0.8l0.1 -0.8l0 -0.8l0.1 -0.8l0 -0.9l0.1 -0.8l0 -0.8l0.1 -0.8l0 -0.8l0.1 -0.9l0 -0.8l0.1 -0.8l0.1 -0.8l0 -0.8l0.1 -0.9l0 -0.8l0.1 -0.8l0 -0.8l0.1 -0.8l0 -0.9l0.1 -0.8l0 -0.8l0.1 -0.8l0 -0.8l0.1 -0.9l0 -0.8l0.1 -0.8l0 -0.8l0.1 -0.8l0 -0.9l0.1 -0.8l0 -0.8l0.1 -0.8l0 -0.8l0.1 -0.9l0 -0.8l0.1 -0.8l0 -0.8l0.1 -0.8l0 -0.9l0.1 -0.8l0 -0.8l0.1 -0.8l0 -0.8l0.1 -0.9l0 -0.8l0.1 -0.8l0 -0.8l0.1 -0.8l0 -0.9l0.1 -0.8l0.1 -0.8l0 -0.8l0.1 -0.8l0 -0.9l0.1 -0.8l0 -0.8l0.1 -0.8l0 -0.8l0.1 -0.9l0 -0.8l0.1 -0.8l0 -0.8l0.1 -0.8l0.1 -0.9l0 -0.8l0.1 -0.8l0 -0.8l0.1 -0.8l0 -0.9l0.1 -0.8l0.1 -0.8l0 -0.8l0.1 -0.8l0 -0.8l0.1 -0.9l0.1 -0.8l0 -0.8l0.1 -0.8l0 -0.8l0.1 -0.9l0.1 -0.8l0 -0.8l0.1 -0.8l0 -0.8l0.1 -0.8l0.1 -0.9l0 -0.8l0.1 -0.8l0.1 -0.8l0 -0.8l0.1 -0.9l0 -0.8l0.1 -0.8l0.1 -0.8l0 -0.8l0.1 -0.8l0.1 -0.9l0 -0.8l0.1 -0.8l0.1 -0.8l0.1 -0.8l0 -0.8l0.1 -0.9l0.1 -0.8l0 -0.8l0.1 -0.8l0.1 -0.8l0.1 -0.8l0 -0.8l0.1 -0.9l0.1 -0.8l0 -0.8l0.1 -0.8l0.1 -0.8l0.1 -0.8l0.1 -0.9l0 -0.8l0.1 -0.8l0.1 -0.8l0.1 -0.8l0 -0.8l0.1 -0.8l0.1 -0.8l0.1 -0.9l0.1 -0.8l0 -0.8l0.1 -0.8l0.1 -0.8l0.1 -0.8l0.1 -0.8l0.1 -0.9l0.1 -0.8l0 -0.8l0.1 -0.8l0.1 -0.8l0.1 -0.8l0.1 -0.8l0.1 -0.8l0.1 -0.8l0.1 -0.9l0.1 -0.8l0.1 -0.8l0.1 -0.8l0 -0.8l0.1 -0.8l0.1 -0.8l0.1 -0.8l0.1 -0.8l0.1 -0.8l0.1 -0.9l0.1 -0.8l0.1 -0.8l0.1 -0.8l0.1 -0.8l0.1 -0.8l0.1 -0.8l0.1 -0.8l0.1 -0.8l0.2 -0.8l0.1 -0.8l0.1 -0.8l0.1 -0.9l0.1 -0.8l0.1 -0.8l0.1 -0.8l0.1 -0.8l0.1 -0.8l0.1 -0.8l0.2 -0.8l0.1 -0.8l0.1 -0.8l0.1 -0.8l0.1 -0.8l0.1 -0.8l0.2 -0.8l0.1 -0.8l0.1 -0.8l0.1 -0.8l0.2 -0.8l0.1 -0.9l0.1 -0.8l0.1 -0.8l0.2 -0.8l0.1 -0.8l0.2 -0.8l0.1 -0.8l0.1 -0.8l0.2 -0.8l0.1 -0.8l0.2 -0.8l0.1 -0.8l0.2 -0.8l0.1 -0.8l0.2 -0.8l0.1 -0.8l0.2 -0.8l0.2 -0.9l0.1 -0.8l0.2 -0.8l0.2 -0.8l0.2 -0.8l0.1 -0.8l0.2 -0.8l0.2 -0.8l0.2 -0.8l0.2 -0.9l0.2 -0.8l0.2 -0.8l0.2 -0.8l0.2 -0.8l0.2 -0.8l0.2 -0.9l0.3 -0.8l0.2 -0.8l0.2 -0.8l0.2 -0.8l0.3 -0.9l0.2 -0.8l0.3 -0.8l0.2 -0.8l0.3 -0.9l0.2 -0.8l0.3 -0.8l0.3 -0.8l0.3 -0.9l0.2 -0.8l0.3 -0.8l0.3 -0.8l0.4 -0.8l0.3 -0.8l0.3 -0.8l0.3 -0.8l0.4 -0.7l0.4 -0.8l0.3 -0.7l0.4 -0.8l0.4 -0.7l0.4 -0.7l0.4 -0.7l0.4 -0.7l0.5 -0.7l0.4 -0.7l0.5 -0.6l0.5 -0.7l0.5 -0.6l0.5 -0.6l0.5 -0.6l0.6 -0.5l0.5 -0.6l0.6 -0.5l0.6 -0.5l0.6 -0.5l0.6 -0.4l0.7 -0.5l0.6 -0.4l0.7 -0.4l0.7 -0.4l0.7 -0.3l0.7 -0.4l0.7 -0.3l0.7 -0.3l0.8 -0.3l0.7 -0.3l0.8 -0.3l0.8 -0.3l0.7 -0.3l0.8 -0.3l0.8 -0.2l0.8 -0.3l0.8 -0.2l0.8 -0.3l0.8 -0.2l0.8 -0.3l0.8 -0.2l0.8 -0.2l0.8 -0.3l0.9 -0.2l0.8 -0.3l0.8 -0.3l0.8 -0.2l0.8 -0.3l0.8 -0.3l0.8 -0.3l0.7 -0.2l0.8 -0.3l0.8 -0.3l0.8 -0.3l0.8 -0.4l0.8 -0.3l0.7 -0.3l0.8 -0.3l0.8 -0.3l0.7 -0.3l0.8 -0.4l0.8 -0.3l0.8 -0.3l0.7 -0.3l0.8 -0.3l0.8 -0.3l0.7 -0.4l0.8 -0.3l0.8 -0.3l0.7 -0.3l0.8 -0.3l0.8 -0.3l0.7 -0.3l0.8 -0.2l0.8 -0.3l0.8 -0.3l0.7 -0.3l0.8 -0.3l0.8 -0.2l0.8 -0.3l0.8 -0.3l0.7 -0.2l0.8 -0.3l0.8 -0.2l0.8 -0.3l0.8 -0.2l0.7 -0.2l0.8 -0.3l0.8 -0.2l0.8 -0.2l0.8 -0.3l0.8 -0.2l0.8 -0.2l0.7 -0.2l0.8 -0.2l0.8 -0.3l0.8 -0.2l0.8 -0.2l0.8 -0.2l0.8 -0.2l0.8 -0.2l0.8 -0.2l0.8 -0.1l0.8 -0.2l0.8 -0.2l0.8 -0.2l0.8 -0.2l0.8 -0.1l0.8 -0.2l0.8 -0.2l0.8 -0.2l0.8 -0.1l0.8 -0.2l0.8 -0.1l0.8 -0.2l0.8 -0.1l0.8 -0.2l0.8 -0.1l0.8 -0.2l0.8 -0.1l0.8 -0.2l0.8 -0.1l0.8 -0.2l0.8 -0.1l0.8 -0.1l0.8 -0.2l0.8 -0.1l0.8 -0.1l0.8 -0.1l0.8 -0.2l0.8 -0.1l0.9 -0.1l0.8 -0.1l0.8 -0.1l0.8 -0.1l0.8 -0.1l0.8 -0.1l0.8 -0.2l0.8 -0.1l0.8 -0.1l0.9 -0.1l0.8 -0.1l0.8 -0.1l0.8 -0.1l0.8 -0.1l0.8 0l0.8 -0.1l0.9 -0.1l0.8 -0.1l0.8 -0.1l0.8 -0.1l0.8 -0.1l0.8 -0.1l0.9 0l0.8 -0.1l0.8 -0.1l0.8 -0.1l0.8 0l0.8 -0.1l0.9 -0.1l0.8 -0.1l0.8 0l0.8 -0.1l0.8 -0.1l0.8 0l0.9 -0.1l0.8 -0.1l0.8 0l0.8 -0.1l0.8 -0.1l0.9 0l0.8 -0.1l0.8 -0.1l0.8 0l0.8 -0.1l0.9 0l0.8 -0.1l0.8 -0.1l0.8 0l0.8 -0.1l0.9 0l0.8 -0.1l0.8 0l0.8 -0.1l0.8 -0.1l0.8 0l0.9 -0.1l0.8 0l0.8 -0.1l0.8 0l0.8 -0.1l0.9 0l0.8 -0.1l0.8 0l0.8 -0.1l0.8 0l0.9 -0.1l0.8 0l0.8 -0.1l0.8 0l0.8 -0.1l0.9 0l0.8 -0.1l0.8 0l0.8 -0.1l0.8 0l0.9 -0.1l0.8 0l0.8 -0.1l0.8 0l0.8 -0.1l0.9 0l0.8 0l0.8 -0.1l0.8 0l0.8 -0.1l0.9 0l0.8 -0.1l0.8 0l0.8 0l0.8 -0.1l0.9 0l0.8 -0.1l0.8 0l0.8 0l0.8 -0.1l0.9 0l0.8 0l0.8 -0.1l0.8 0l0.8 -0.1l0.9 0l0.8 0l0.8 -0.1l0.8 0l0.8 0l0.9 -0.1l0.8 0l0.8 0l0.8 -0.1l0.8 0l0.9 0l0.8 -0.1l0.8 0l0.8 0l0.8 -0.1l0.9 0l0.8 0l0.8 -0.1l0.8 0l0.8 0l0.9 -0.1l0.8 0l0.8 0l0.8 0l0.8 -0.1l0.9 0l0.8 0l0.8 -0.1l0.8 0l0.8 0l0.9 0l0.8 -0.1l0.8 0l0.8 0l0.8 0l0.9 -0.1l0.8 0l0.8 0l0.8 0l0.8 -0.1l0.9 0l0.8 0l0.8 0l0.8 -0.1l0.8 0l0.9 0l0.8 0l0.8 0l0.8 -0.1l0.8 0l0.9 0l0.8 0l0.8 -0.1l0.8 0l0.9 0l0.8 0l0.8 0l0.8 -0.1l0.8 0l0.9 0l0.8 0l0.8 0l0.8 0l0.8 -0.1l0.9 0l0.8 0l0.8 0l0.8 0l0.8 0l0.9 -0.1l0.8 0l0.8 0l0.8 0l0.8 0l0.9 0l0.8 -0.1l0.8 0l0.8 0l0.8 0l0.9 0l0.8 0l0.8 0l0.8 -0.1l0.8 0l0.9 0l0.8 0l0.8 0l0.8 0l0.8 0l0.9 0l0.8 -0.1l0.8 0l0.8 0l0.8 0l0.9 0l0.8 0l0.8 0l0.8 0l0.9 0l0.8 0l0.8 -0.1l0.8 0l0.8 0l0.9 0l0.8 0l0.8 0l0.8 0l0.8 0l0.9 0l0.8 0l0.8 0l0.8 -0.1l0.8 0l0.9 0l0.8 0l0.8 0l0.8 0l0.8 0l0.9 0l0.8 0l0.8 0l0.8 0l0.8 0l0.9 0l0.8 0l0.8 -0.1l0.8 0l0.9 0l0.8 0l0.8 0l0.8 0l0.8 0l0.9 0l0.8 0l0.8 0l0.8 0l0.8 0l0.9 0l0.8 0l0.8 0l0.8 0l0.8 0l0.9 0l0.8 0l0.8 0l0.8 0l0.8 0l0.9 0l0.8 -0.1l0.8 0l0.8 0l0.8 0l0.9 0l0.8 0l0.8 0l0.8 0l0.9 0l0.8 0l0.8 0l0.8 0l0.8 0l0.9 0l0.8 0l0.8 0l0.8 0l0.8 0l0.9 0l0.8 0l0.8 0l0.8 0l0.8 0l0.9 0l0.8 0l0.8 0l0.8 0l0.8 0l0.9 0l0.8 0l0.8 0l0.8 0l0.8 0l0.9 0l0.8 0l0.8 0l0.8 0l0.9 0l0.8 0l0.8 0l0.8 0l0.8 0l0.9 0l0.8 0l0.8 0l0.8 0l0.8 0l0.9 0l0.8 0l0.8 0l0.8 0l0.8 0l0.9 0l0.8 0l0.8 0l0.8 0l0.8 0l0.9 0l0.8 0l0.8 0l0.8 0l0.8 0l0.9 0l0.8 0l0.8 0l0.8 0l0.9 0l0.8 0l0.8 0l0.8 -0.1l0.8 0l0.9 0l0.8 0l0.8 0l0.8 0l0.8 0l0.9 0l0.8 0l0.8 0l0.8 0l0.8 0l0.9 0l0.8 0l0.8 0l0.8 0l0.8 0l0.9 0l0.8 0l0.8 0l0.8 0l0.8 0l0.9 0l0.8 0l0.8 0l0.8 0l0.9 0l0.8 0l0.8 0l0.8 0l0.8 0l0.9 0l0.8 0l0.8 0l0.8 0l0.8 0l0.9 0l0.8 0l0.8 0l0.8 0l0.8 0l0.9 0l0.8 0l0.8 0l0.8 -0.1l0.8 0l0.9 0l0.8 0l0.8 0l0.8 0l0.8 0l0.9 0l0.8 0l0.8 0l0.8 0l0.8 0l0.9 0l0.8 0l0.8 0l0.8 0l0.9 0l0.8 0l0.8 0l0.8 -0.1l0.8 0l0.9 0l0.8 0l0.8 0l0.8 0l0.8 0l0.9 0l0.8 0l0.8 0l0.8 0l0.8 0l0.9 0l0.8 0l0.8 -0.1l0.8 0l0.8 0l0.9 0l0.8 0l0.8 0l0.8 0l0.8 0l0.9 0l0.8 -0.1l0.8 0l0.8 0l0.8 0l0.9 0l0.8 0l0.8 0l0.8 -0.1l0.8 0l0.9 0l0.8 0l0.8 0l0.8 0l0.8 -0.1l0.9 0l0.8 0l0.8 0l0.8 -0.1l0.8 0l0.9 0l0.8 0l0.8 0l0.8 -0.1l0.8 0l0.9 0l0.8 -0.1l0.8 0l0.8 0l0.8 0l0.9 -0.1l0.8 0l0.8 0l0.8 -0.1l0.8 0l0.9 -0.1l0.8 0l0.8 0l0.8 -0.1l0.8 0l0.9 -0.1l0.8 0l0.8 0l0.8 -0.1l0.8 0l0.9 -0.1l0.8 0l0.8 -0.1l0.8 0l0.8 -0.1l0.9 0l0.8 -0.1l0.8 0l0.8 -0.1l0.8 -0.1l0.8 0l0.9 -0.1l0.8 0l0.8 -0.1l0.8 -0.1l0.8 0l0.9 -0.1l0.8 -0.1l0.8 0l0.8 -0.1l0.8 -0.1l0.9 -0.1l0.8 0l0.8 -0.1l0.8 -0.1l0.8 -0.1l0.8 0l0.9 -0.1l0.8 -0.1l0.8 -0.1l0.8 -0.1l0.8 0l0.9 -0.1l0.8 -0.1l0.8 -0.1l0.8 -0.1l0.8 -0.1l0.8 0l0.9 -0.1l0.8 -0.1l0.8 -0.1l0.8 -0.1l0.8 -0.1l0.8 0l0.9 -0.1l0.8 -0.1l0.8 -0.1l0.8 -0.1l0.8 0l0.9 -0.1l0.8 -0.1l0.8 -0.1l0.8 -0.1l0.8 0l0.8 -0.1l0.9 -0.1l0.8 -0.1l0.8 0l0.8 -0.1l0.8 -0.1l0.8 0l0.8 -0.1l0.9 -0.1l0.8 0l0.8 -0.1l0.8 0l0.8 -0.1l0.8 -0.1l0.9 0l0.8 -0.1l0.8 0l0.8 -0.1l0.8 0l0.8 -0.1l0.9 0l0.8 0l0.8 -0.1l0.8 0l0.8 0l0.8 -0.1l0.8 0l0.9 0l0.8 0l0.8 0l0.8 -0.1l0.8 0l0.8 0l0.8 0l0.9 0l0.8 0l0.8 0l0.8 0l0.8 0.1l0.8 0l0.8 0l0.9 0l0.8 0l0.8 0.1l0.8 0l0.8 0.1l0.8 0l0.8 0l0.8 0.1l0.9 0.1l0.8 0l0.8 0.1l0.8 0l0.8 0.1l0.8 0.1l0.8 0.1l0.8 0.1l0.8 0l0.9 0.1l0.8 0.1l0.8 0.1l0.8 0.1l0.8 0.1l0.8 0.1l0.8 0.2l0.8 0.1l0.8 0.1l0.9 0.1l0.8 0.1l0.8 0.1l0.8 0.2l0.8 0.1l0.8 0.1l0.8 0.2l0.8 0.1l0.8 0.1l0.9 0.2l0.8 0.1l0.8 0.1l0.8 0.2l0.8 0.1l0.8 0.2l0.8 0.1l0.8 0.2l0.8 0.1l0.9 0.1l0.8 0.2l0.8 0.1l0.8 0.2l0.8 0.1l0.8 0.2l0.8 0.1l0.8 0.2l0.8 0.2l0.9 0.1l0.8 0.2l0.8 0.1l0.8 0.2l0.8 0.1l0.8 0.2l0.8 0.1l0.8 0.2l0.8 0.1l0.9 0.2l0.8 0.1l0.8 0.1l0.8 0.2l0.8 0.1l0.8 0.2l0.8 0.1l0.8 0.2l0.8 0.1l0.9 0.1l0.8 0.2l0.8 0.1l0.8 0.1l0.8 0.2l0.8 0.1l0.8 0.1l0.8 0.1l0.9 0.2l0.8 0.1l0.8 0.1l0.8 0.1l0.8 0.1l0.8 0.1l0.8 0.1l0.9 0.1l0.8 0.1l0.8 0.1l0.8 0.1l0.8 0.1l0.8 0.1l0.8 0.1l0.9 0l0.8 0.1l0.8 0.1l0.8 0l0.8 0.1l0.8 0l0.9 0.1l0.8 0l0.8 0.1l0.8 0l0.8 0.1l0.8 0l0.9 0l0.8 0.1l0.8 0l0.8 0l0.8 0l0.8 0l0.9 0l0.8 0l0.8 0l0.8 0l0.8 0l0.9 0l0.8 0l0.8 0l0.8 0l0.8 0l0.9 -0.1l0.8 0l0.8 0l0.8 -0.1l0.8 0l0.9 0l0.8 -0.1l0.8 0l0.8 0l0.8 -0.1l0.9 0l0.8 -0.1l0.8 0l0.8 -0.1l0.8 0l0.9 -0.1l0.8 -0.1l0.8 0l0.8 -0.1l0.8 0l0.9 -0.1l0.8 -0.1l0.8 0l0.8 -0.1l0.8 -0.1l0.9 0l0.8 -0.1l0.8 -0.1l0.8 -0.1l0.9 0l0.8 -0.1l0.8 -0.1l0.8 -0.1l0.8 -0.1l0.9 0l0.8 -0.1l0.8 -0.1l0.8 -0.1l0.8 -0.1l0.9 0l0.8 -0.1l0.8 -0.1l0.8 -0.1l0.9 -0.1l0.8 0l0.8 -0.1l0.8 -0.1l0.8 -0.1l0.9 -0.1l0.8 -0.1l0.8 0l0.8 -0.1l0.8 -0.1l0.9 -0.1l0.8 -0.1l0.8 0l0.8 -0.1l0.9 -0.1l0.8 -0.1l0.8 0l0.8 -0.1l0.8 -0.1l0.9 -0.1l0.8 0l0.8 -0.1l0.8 -0.1l0.8 0l0.9 -0.1l0.8 -0.1l0.8 0l0.8 -0.1l0.8 0l0.9 -0.1l0.8 -0.1l0.8 0l0.8 -0.1l0.8 0l0.9 -0.1l0.8 0l0.8 0l0.8 -0.1l0.8 0l0.8 -0.1l0.9 0l0.8 0l0.8 -0.1l0.8 0l0.8 0l0.9 0l0.8 0l0.8 -0.1l0.8 0l0.8 0l0.8 0l0.9 0l0.8 0l0.8 0l0.8 0l0.8 0l0.8 0l0.9 0.1l0.8 0l0.8 0l0.8 0"/>
</g>
<g font-size="82">
<text x="271.3" y="3008.5" text-anchor="end">-25</text>
<text x="271.3" y="2794.6" text-anchor="end">-20</text>
<text x="271.3" y="2580.6" text-anchor="end">-15</text>
<text x="271.3" y="2366.7" text-anchor="end">-10</text>
<text x="271.3" y="2152.8" text-anchor="end">-5</text>
<text x="271.3" y="1938.9" text-anchor="end">0</text>
<text x="271.3" y="1725" text-anchor="end">5</text>
<text x="641.6" y="3078" text-anchor="middle">200</text>
<text x="1046.9" y="3078" text-anchor="middle">400</text>
<text x="1452.2" y="3078" text-anchor="middle">600</text>
<text x="1857.5" y="3078" text-anchor="middle">800</text>
</g>
<text x="1061" y="3175.8" font-size="81" text-anchor="middle">Temperature (°C)</text>
<text transform="translate(110.6 2349.2) rotate(-90)" font-size="81" text-anchor="middle">Derivative weight (%/°C)</text>
<text x="1662" y="1841" font-size="103">(b)</text>
<g stroke-width="9.5">
<line x1="1199.7" y1="2309.3" x2="1330.6" y2="2309.3" stroke="#FF0000"/>
<line x1="1199.7" y1="2409.3" x2="1330.6" y2="2409.3" stroke="#008000"/>
<line x1="1199.7" y1="2509" x2="1330.6" y2="2509" stroke="#0000FF"/>
<line x1="1199.7" y1="2608.8" x2="1330.6" y2="2608.8" stroke="#FF00FF"/>
<line x1="1199.7" y1="2709" x2="1330.6" y2="2709" stroke="#00FF00"/>
<line x1="1199.7" y1="2808.1" x2="1330.6" y2="2808.1" stroke="#FF8000"/>
</g><g font-size="80">
<text x="1353" y="2328.9">PDEBEG-50</text>
<text x="1353" y="2428.9">PDEBEG-40</text>
<text x="1353" y="2528.6">PDEBEG-30</text>
<text x="1353" y="2628.4">PDEBEG-20</text>
<text x="1353" y="2728.6">PDEBEG-10</text>
<text x="1353" y="2827.7">PDEBEG-0</text>
</g>
</g>
</svg></body></html>
